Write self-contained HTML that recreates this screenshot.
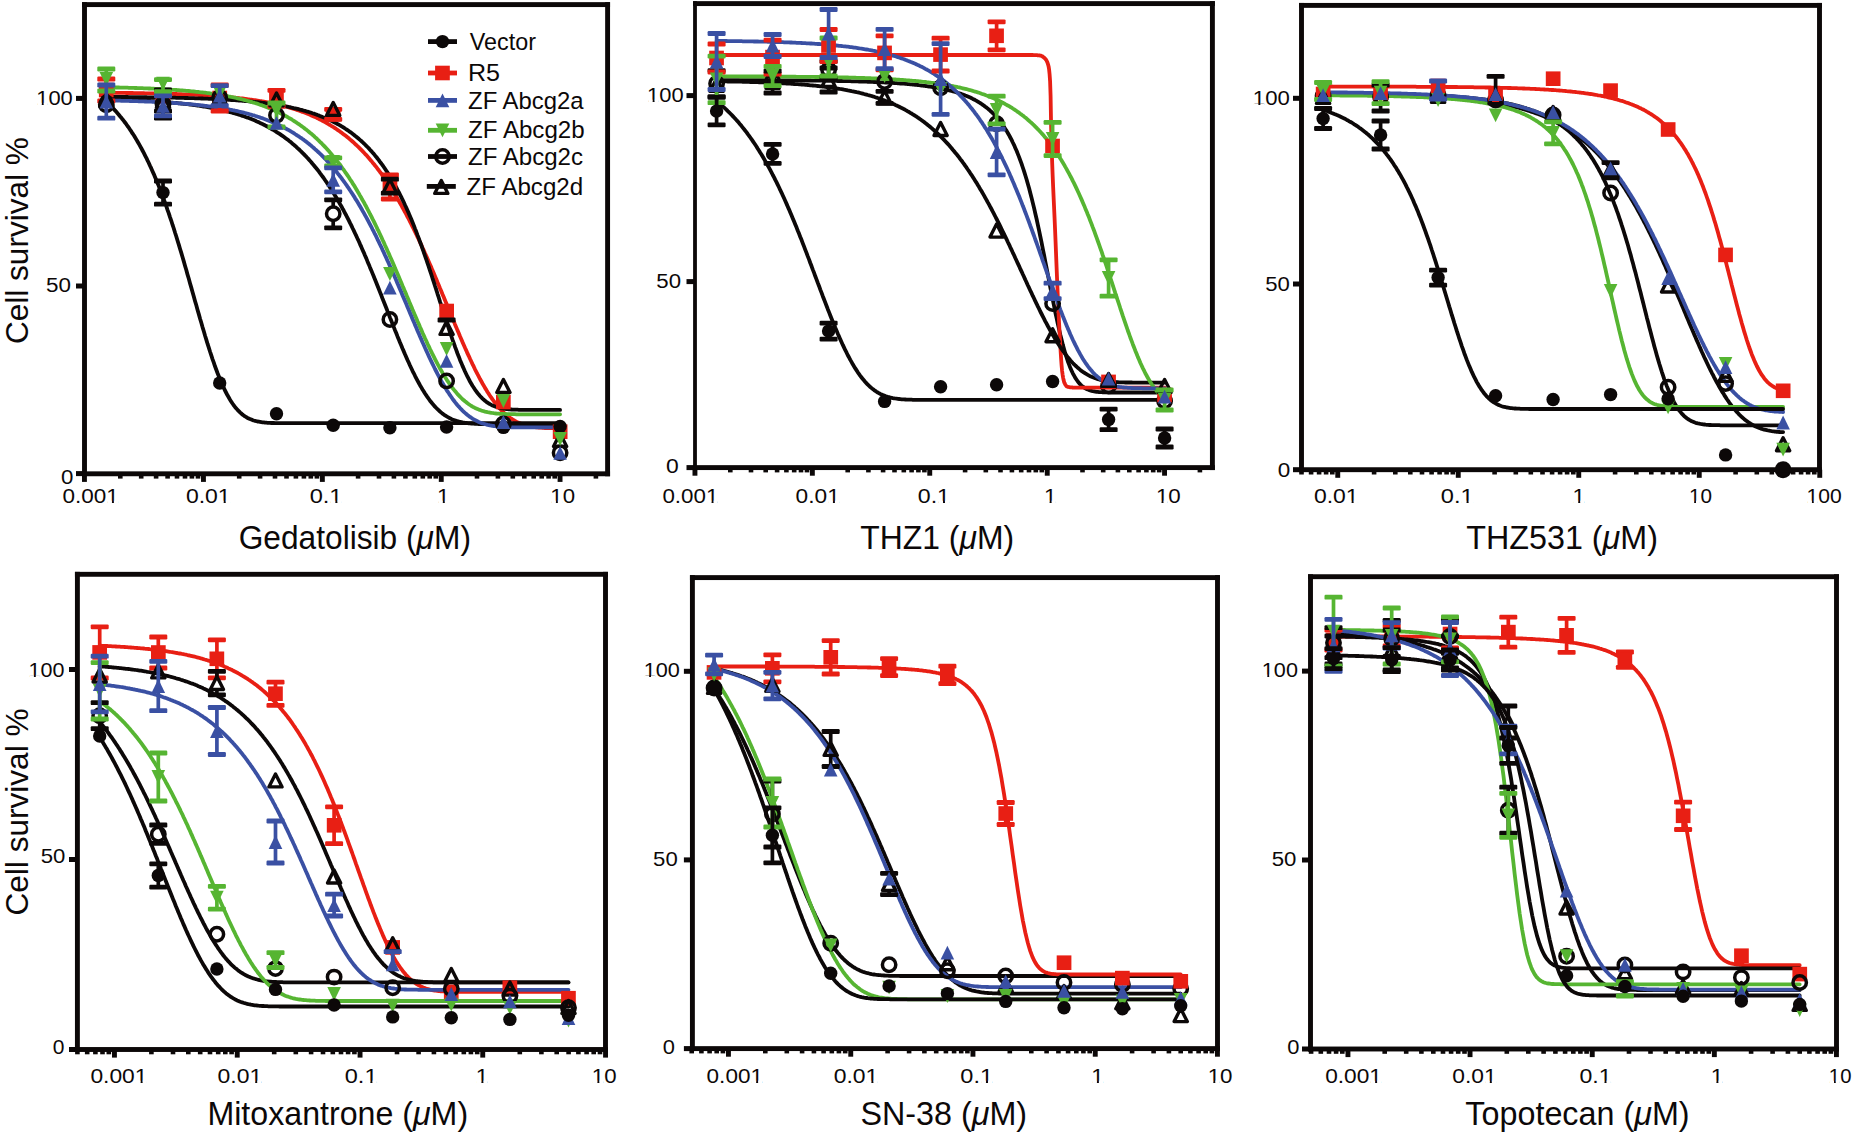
<!DOCTYPE html>
<html lang="en"><head><meta charset="utf-8"><title>Cell survival dose-response curves</title>
<style>html,body{margin:0;padding:0;background:#fff}body{width:1853px;height:1134px;overflow:hidden}svg{display:block}text{font-family:"Liberation Sans", Arial, Helvetica, sans-serif;fill:#0c0808}</style></head><body>
<svg width="1853" height="1134" viewBox="0 0 1853 1134">
<rect width="1853" height="1134" fill="#fff"/>
<g><rect x="82.0" y="473.8" width="4.9" height="8.1" fill="#0c0808"/>
<rect x="118.0" y="473.8" width="4.6" height="4.8" fill="#0c0808"/>
<rect x="138.9" y="473.8" width="4.6" height="4.8" fill="#0c0808"/>
<rect x="153.8" y="473.8" width="4.6" height="4.8" fill="#0c0808"/>
<rect x="165.3" y="473.8" width="4.6" height="4.8" fill="#0c0808"/>
<rect x="174.7" y="473.8" width="4.6" height="4.8" fill="#0c0808"/>
<rect x="182.7" y="473.8" width="4.6" height="4.8" fill="#0c0808"/>
<rect x="189.6" y="473.8" width="4.6" height="4.8" fill="#0c0808"/>
<rect x="195.7" y="473.8" width="4.6" height="4.8" fill="#0c0808"/>
<rect x="201.0" y="473.8" width="4.9" height="8.1" fill="#0c0808"/>
<rect x="236.9" y="473.8" width="4.6" height="4.8" fill="#0c0808"/>
<rect x="257.8" y="473.8" width="4.6" height="4.8" fill="#0c0808"/>
<rect x="272.7" y="473.8" width="4.6" height="4.8" fill="#0c0808"/>
<rect x="284.2" y="473.8" width="4.6" height="4.8" fill="#0c0808"/>
<rect x="293.6" y="473.8" width="4.6" height="4.8" fill="#0c0808"/>
<rect x="301.6" y="473.8" width="4.6" height="4.8" fill="#0c0808"/>
<rect x="308.5" y="473.8" width="4.6" height="4.8" fill="#0c0808"/>
<rect x="314.6" y="473.8" width="4.6" height="4.8" fill="#0c0808"/>
<rect x="319.9" y="473.8" width="4.9" height="8.1" fill="#0c0808"/>
<rect x="355.8" y="473.8" width="4.6" height="4.8" fill="#0c0808"/>
<rect x="376.7" y="473.8" width="4.6" height="4.8" fill="#0c0808"/>
<rect x="391.6" y="473.8" width="4.6" height="4.8" fill="#0c0808"/>
<rect x="403.1" y="473.8" width="4.6" height="4.8" fill="#0c0808"/>
<rect x="412.5" y="473.8" width="4.6" height="4.8" fill="#0c0808"/>
<rect x="420.5" y="473.8" width="4.6" height="4.8" fill="#0c0808"/>
<rect x="427.4" y="473.8" width="4.6" height="4.8" fill="#0c0808"/>
<rect x="433.5" y="473.8" width="4.6" height="4.8" fill="#0c0808"/>
<rect x="438.8" y="473.8" width="4.9" height="8.1" fill="#0c0808"/>
<rect x="474.7" y="473.8" width="4.6" height="4.8" fill="#0c0808"/>
<rect x="495.6" y="473.8" width="4.6" height="4.8" fill="#0c0808"/>
<rect x="510.5" y="473.8" width="4.6" height="4.8" fill="#0c0808"/>
<rect x="522.0" y="473.8" width="4.6" height="4.8" fill="#0c0808"/>
<rect x="531.4" y="473.8" width="4.6" height="4.8" fill="#0c0808"/>
<rect x="539.4" y="473.8" width="4.6" height="4.8" fill="#0c0808"/>
<rect x="546.3" y="473.8" width="4.6" height="4.8" fill="#0c0808"/>
<rect x="552.4" y="473.8" width="4.6" height="4.8" fill="#0c0808"/>
<rect x="557.6" y="473.8" width="4.9" height="8.1" fill="#0c0808"/>
<rect x="593.6" y="473.8" width="4.6" height="4.8" fill="#0c0808"/>
<rect x="76.0" y="471.1" width="8.4" height="5" fill="#0c0808"/>
<rect x="76.0" y="283.5" width="8.4" height="5" fill="#0c0808"/>
<rect x="76.0" y="95.9" width="8.4" height="5" fill="#0c0808"/>
<path d="M106.3 92.8 L107.5 92.8 L108.8 92.8 L110.0 92.8 L111.3 92.8 L112.5 92.8 L113.8 92.8 L115.0 92.8 L116.3 92.8 L117.5 92.9 L118.8 92.9 L120.0 92.9 L121.3 92.9 L122.5 92.9 L123.8 92.9 L125.0 92.9 L126.3 93.0 L127.5 93.0 L128.8 93.0 L130.0 93.0 L131.3 93.0 L132.5 93.0 L133.8 93.1 L135.0 93.1 L136.3 93.1 L137.5 93.1 L138.8 93.1 L140.0 93.2 L141.3 93.2 L142.5 93.2 L143.8 93.2 L145.0 93.3 L146.3 93.3 L147.5 93.3 L148.8 93.3 L150.0 93.3 L151.3 93.4 L152.5 93.4 L153.8 93.4 L155.0 93.5 L156.3 93.5 L157.5 93.5 L158.8 93.5 L160.0 93.6 L161.3 93.6 L162.5 93.6 L163.8 93.7 L165.0 93.7 L166.3 93.7 L167.5 93.8 L168.8 93.8 L170.0 93.8 L171.3 93.9 L172.5 93.9 L173.8 94.0 L175.0 94.0 L176.3 94.0 L177.5 94.1 L178.8 94.1 L180.0 94.2 L181.3 94.2 L182.5 94.3 L183.8 94.3 L185.0 94.4 L186.3 94.4 L187.5 94.5 L188.8 94.5 L190.0 94.6 L191.3 94.6 L192.5 94.7 L193.8 94.7 L195.0 94.8 L196.3 94.9 L197.5 94.9 L198.8 95.0 L200.0 95.1 L201.3 95.1 L202.5 95.2 L203.8 95.3 L205.0 95.3 L206.3 95.4 L207.5 95.5 L208.8 95.6 L210.0 95.6 L211.3 95.7 L212.5 95.8 L213.8 95.9 L215.0 96.0 L216.3 96.1 L217.5 96.2 L218.8 96.3 L220.0 96.4 L221.3 96.5 L222.5 96.6 L223.8 96.7 L225.0 96.8 L226.3 96.9 L227.5 97.0 L228.8 97.1 L230.0 97.2 L231.3 97.3 L232.5 97.5 L233.8 97.6 L235.0 97.7 L236.3 97.8 L237.5 98.0 L238.8 98.1 L240.0 98.3 L241.3 98.4 L242.5 98.5 L243.8 98.7 L245.0 98.9 L246.3 99.0 L247.5 99.2 L248.8 99.3 L250.0 99.5 L251.3 99.7 L252.5 99.9 L253.8 100.1 L255.0 100.2 L256.3 100.4 L257.5 100.6 L258.8 100.8 L260.0 101.0 L261.3 101.2 L262.5 101.5 L263.8 101.7 L265.0 101.9 L266.3 102.1 L267.5 102.4 L268.8 102.6 L270.0 102.9 L271.3 103.1 L272.5 103.4 L273.8 103.7 L275.0 103.9 L276.3 104.2 L277.5 104.5 L278.8 104.8 L280.0 105.1 L281.3 105.4 L282.5 105.7 L283.8 106.0 L285.0 106.4 L286.3 106.7 L287.5 107.0 L288.8 107.4 L290.0 107.8 L291.3 108.1 L292.5 108.5 L293.8 108.9 L295.0 109.3 L296.3 109.7 L297.5 110.1 L298.8 110.5 L300.0 111.0 L301.3 111.4 L302.5 111.9 L303.8 112.3 L305.0 112.8 L306.3 113.3 L307.5 113.8 L308.8 114.3 L310.0 114.8 L311.3 115.4 L312.5 115.9 L313.8 116.5 L315.0 117.1 L316.3 117.6 L317.5 118.2 L318.8 118.8 L320.0 119.5 L321.3 120.1 L322.5 120.8 L323.8 121.4 L325.0 122.1 L326.3 122.8 L327.5 123.5 L328.8 124.3 L330.0 125.0 L331.3 125.8 L332.5 126.5 L333.8 127.3 L335.0 128.1 L336.3 129.0 L337.5 129.8 L338.8 130.7 L340.0 131.6 L341.3 132.5 L342.5 133.4 L343.8 134.4 L345.0 135.3 L346.3 136.3 L347.5 137.3 L348.8 138.3 L350.0 139.4 L351.3 140.5 L352.5 141.5 L353.8 142.7 L355.0 143.8 L356.3 145.0 L357.5 146.2 L358.8 147.4 L360.0 148.6 L361.3 149.9 L362.5 151.1 L363.8 152.5 L365.0 153.8 L366.3 155.1 L367.5 156.5 L368.8 158.0 L370.0 159.4 L371.3 160.9 L372.5 162.4 L373.8 163.9 L375.0 165.5 L376.3 167.0 L377.5 168.7 L378.8 170.3 L380.0 172.0 L381.3 173.7 L382.5 175.4 L383.8 177.2 L385.0 179.0 L386.3 180.8 L387.5 182.7 L388.8 184.6 L390.0 186.5 L391.3 188.4 L392.5 190.4 L393.8 192.4 L395.0 194.5 L396.3 196.6 L397.5 198.7 L398.8 200.8 L400.0 203.0 L401.3 205.2 L402.5 207.5 L403.8 209.8 L405.0 212.1 L406.3 214.4 L407.5 216.8 L408.8 219.2 L410.0 221.6 L411.3 224.1 L412.5 226.6 L413.8 229.1 L415.0 231.7 L416.3 234.3 L417.5 236.9 L418.8 239.5 L420.0 242.2 L421.3 244.9 L422.5 247.7 L423.8 250.4 L425.0 253.2 L426.3 256.0 L427.5 258.8 L428.8 261.7 L430.0 264.5 L431.3 267.4 L432.5 270.4 L433.8 273.3 L435.0 276.2 L436.3 279.2 L437.5 282.2 L438.8 285.2 L440.0 288.2 L441.3 291.2 L442.5 294.2 L443.8 297.2 L445.0 300.2 L446.3 303.3 L447.5 306.3 L448.8 309.3 L450.0 312.4 L451.3 315.4 L452.5 318.4 L453.8 321.4 L455.0 324.4 L456.3 327.4 L457.5 330.4 L458.8 333.3 L460.0 336.3 L461.3 339.2 L462.5 342.1 L463.8 345.0 L465.0 347.8 L466.3 350.6 L467.5 353.4 L468.8 356.1 L470.0 358.8 L471.3 361.5 L472.5 364.1 L473.8 366.7 L475.0 369.3 L476.3 371.8 L477.5 374.2 L478.8 376.6 L480.0 379.0 L481.3 381.3 L482.5 383.5 L483.8 385.7 L485.0 387.9 L486.3 389.9 L487.5 392.0 L488.8 393.9 L490.0 395.8 L491.3 397.6 L492.5 399.4 L493.8 401.1 L495.0 402.8 L496.3 404.4 L497.5 405.9 L498.8 407.3 L500.0 408.7 L501.3 410.1 L502.5 411.3 L503.8 412.6 L505.0 413.7 L506.3 414.8 L507.5 415.8 L508.8 416.8 L510.0 417.7 L511.3 418.6 L512.5 419.4 L513.8 420.2 L515.0 420.9 L516.3 421.6 L517.5 422.2 L518.8 422.8 L520.0 423.3 L521.3 423.8 L522.5 424.3 L523.8 424.7 L525.0 425.1 L526.3 425.4 L527.5 425.8 L528.8 426.0 L530.0 426.3 L531.3 426.5 L532.5 426.8 L533.8 427.0 L535.0 427.1 L536.3 427.3 L537.5 427.4 L538.8 427.5 L540.0 427.7 L541.3 427.7 L542.5 427.8 L543.8 427.9 L545.0 428.0 L546.3 428.0 L547.5 428.1 L548.8 428.1 L550.0 428.1 L551.3 428.2 L552.5 428.2 L553.8 428.2 L555.0 428.2 L556.3 428.3 L557.5 428.3 L558.8 428.3 L560.1 428.3" fill="none" stroke="#e81f14" stroke-width="3.8" stroke-linecap="round" stroke-linejoin="round"/>
<path d="M106.3 101.6 L107.5 102.8 L108.8 104.0 L110.0 105.2 L111.3 106.4 L112.5 107.7 L113.8 109.0 L115.0 110.4 L116.3 111.8 L117.5 113.2 L118.8 114.7 L120.0 116.2 L121.3 117.7 L122.5 119.3 L123.8 120.9 L125.0 122.5 L126.3 124.2 L127.5 126.0 L128.8 127.7 L130.0 129.6 L131.3 131.4 L132.5 133.4 L133.8 135.3 L135.0 137.3 L136.3 139.4 L137.5 141.5 L138.8 143.7 L140.0 145.9 L141.3 148.2 L142.5 150.5 L143.8 152.9 L145.0 155.3 L146.3 157.8 L147.5 160.4 L148.8 163.0 L150.0 165.7 L151.3 168.4 L152.5 171.2 L153.8 174.1 L155.0 177.0 L156.3 180.0 L157.5 183.0 L158.8 186.1 L160.0 189.3 L161.3 192.6 L162.5 195.9 L163.8 199.3 L165.0 202.7 L166.3 206.2 L167.5 209.8 L168.8 213.4 L170.0 217.1 L171.3 220.8 L172.5 224.7 L173.8 228.5 L175.0 232.5 L176.3 236.5 L177.5 240.5 L178.8 244.6 L180.0 248.7 L181.3 252.9 L182.5 257.1 L183.8 261.4 L185.0 265.7 L186.3 270.0 L187.5 274.4 L188.8 278.8 L190.0 283.2 L191.3 287.6 L192.5 292.0 L193.8 296.5 L195.0 300.9 L196.3 305.3 L197.5 309.7 L198.8 314.1 L200.0 318.5 L201.3 322.8 L202.5 327.1 L203.8 331.3 L205.0 335.5 L206.3 339.6 L207.5 343.7 L208.8 347.6 L210.0 351.5 L211.3 355.4 L212.5 359.1 L213.8 362.7 L215.0 366.3 L216.3 369.7 L217.5 373.0 L218.8 376.2 L220.0 379.3 L221.3 382.3 L222.5 385.1 L223.8 387.9 L225.0 390.5 L226.3 393.0 L227.5 395.3 L228.8 397.5 L230.0 399.7 L231.3 401.7 L232.5 403.5 L233.8 405.3 L235.0 406.9 L236.3 408.4 L237.5 409.9 L238.8 411.2 L240.0 412.4 L241.3 413.5 L242.5 414.6 L243.8 415.5 L245.0 416.4 L246.3 417.1 L247.5 417.9 L248.8 418.5 L250.0 419.1 L251.3 419.6 L252.5 420.1 L253.8 420.5 L255.0 420.8 L256.3 421.2 L257.5 421.5 L258.8 421.7 L260.0 421.9 L261.3 422.1 L262.5 422.3 L263.8 422.4 L265.0 422.6 L266.3 422.7 L267.5 422.8 L268.8 422.8 L270.0 422.9 L271.3 423.0 L272.5 423.0 L273.8 423.0 L275.0 423.1 L276.3 423.1 L277.5 423.1 L278.8 423.1 L280.0 423.1 L281.3 423.2 L282.5 423.2 L283.8 423.2 L285.0 423.2 L286.3 423.2 L287.5 423.2 L288.8 423.2 L290.0 423.2 L291.3 423.2 L292.5 423.2 L293.8 423.2 L295.0 423.2 L296.3 423.2 L297.5 423.2 L298.8 423.2 L300.0 423.2 L301.3 423.2 L302.5 423.2 L303.8 423.2 L305.0 423.2 L306.3 423.2 L307.5 423.2 L308.8 423.2 L310.0 423.2 L311.3 423.2 L312.5 423.2 L313.8 423.2 L315.0 423.2 L316.3 423.2 L317.5 423.2 L318.8 423.2 L320.0 423.2 L321.3 423.2 L322.5 423.2 L323.8 423.2 L325.0 423.2 L326.3 423.2 L327.5 423.2 L328.8 423.2 L330.0 423.2 L331.3 423.2 L332.5 423.2 L333.8 423.2 L335.0 423.2 L336.3 423.2 L337.5 423.2 L338.8 423.2 L340.0 423.2 L341.3 423.2 L342.5 423.2 L343.8 423.2 L345.0 423.2 L346.3 423.2 L347.5 423.2 L348.8 423.2 L350.0 423.2 L351.3 423.2 L352.5 423.2 L353.8 423.2 L355.0 423.2 L356.3 423.2 L357.5 423.2 L358.8 423.2 L360.0 423.2 L361.3 423.2 L362.5 423.2 L363.8 423.2 L365.0 423.2 L366.3 423.2 L367.5 423.2 L368.8 423.2 L370.0 423.2 L371.3 423.2 L372.5 423.2 L373.8 423.2 L375.0 423.2 L376.3 423.2 L377.5 423.2 L378.8 423.2 L380.0 423.2 L381.3 423.2 L382.5 423.2 L383.8 423.2 L385.0 423.2 L386.3 423.2 L387.5 423.2 L388.8 423.2 L390.0 423.2 L391.3 423.2 L392.5 423.2 L393.8 423.2 L395.0 423.2 L396.3 423.2 L397.5 423.2 L398.8 423.2 L400.0 423.2 L401.3 423.2 L402.5 423.2 L403.8 423.2 L405.0 423.2 L406.3 423.2 L407.5 423.2 L408.8 423.2 L410.0 423.2 L411.3 423.2 L412.5 423.2 L413.8 423.2 L415.0 423.2 L416.3 423.2 L417.5 423.2 L418.8 423.2 L420.0 423.2 L421.3 423.2 L422.5 423.2 L423.8 423.2 L425.0 423.2 L426.3 423.2 L427.5 423.2 L428.8 423.2 L430.0 423.2 L431.3 423.2 L432.5 423.2 L433.8 423.2 L435.0 423.2 L436.3 423.2 L437.5 423.2 L438.8 423.2 L440.0 423.2 L441.3 423.2 L442.5 423.2 L443.8 423.2 L445.0 423.2 L446.3 423.2 L447.5 423.2 L448.8 423.2 L450.0 423.2 L451.3 423.2 L452.5 423.2 L453.8 423.2 L455.0 423.2 L456.3 423.2 L457.5 423.2 L458.8 423.2 L460.0 423.2 L461.3 423.2 L462.5 423.2 L463.8 423.2 L465.0 423.2 L466.3 423.2 L467.5 423.2 L468.8 423.2 L470.0 423.2 L471.3 423.2 L472.5 423.2 L473.8 423.2 L475.0 423.2 L476.3 423.2 L477.5 423.2 L478.8 423.2 L480.0 423.2 L481.3 423.2 L482.5 423.2 L483.8 423.2 L485.0 423.2 L486.3 423.2 L487.5 423.2 L488.8 423.2 L490.0 423.2 L491.3 423.2 L492.5 423.2 L493.8 423.2 L495.0 423.2 L496.3 423.2 L497.5 423.2 L498.8 423.2 L500.0 423.2 L501.3 423.2 L502.5 423.2 L503.8 423.2 L505.0 423.2 L506.3 423.2 L507.5 423.2 L508.8 423.2 L510.0 423.2 L511.3 423.2 L512.5 423.2 L513.8 423.2 L515.0 423.2 L516.3 423.2 L517.5 423.2 L518.8 423.2 L520.0 423.2 L521.3 423.2 L522.5 423.2 L523.8 423.2 L525.0 423.2 L526.3 423.2 L527.5 423.2 L528.8 423.2 L530.0 423.2 L531.3 423.2 L532.5 423.2 L533.8 423.2 L535.0 423.2 L536.3 423.2 L537.5 423.2 L538.8 423.2 L540.0 423.2 L541.3 423.2 L542.5 423.2 L543.8 423.2 L545.0 423.2 L546.3 423.2 L547.5 423.2 L548.8 423.2 L550.0 423.2 L551.3 423.2 L552.5 423.2 L553.8 423.2 L555.0 423.2 L556.3 423.2 L557.5 423.2 L558.8 423.2 L560.1 423.2" fill="none" stroke="#0c0808" stroke-width="3.8" stroke-linecap="round" stroke-linejoin="round"/>
<path d="M106.3 99.3 L107.5 99.3 L108.8 99.4 L110.0 99.4 L111.3 99.4 L112.5 99.5 L113.8 99.5 L115.0 99.5 L116.3 99.6 L117.5 99.6 L118.8 99.7 L120.0 99.7 L121.3 99.7 L122.5 99.8 L123.8 99.8 L125.0 99.9 L126.3 99.9 L127.5 100.0 L128.8 100.0 L130.0 100.1 L131.3 100.1 L132.5 100.2 L133.8 100.2 L135.0 100.3 L136.3 100.3 L137.5 100.4 L138.8 100.4 L140.0 100.5 L141.3 100.6 L142.5 100.6 L143.8 100.7 L145.0 100.7 L146.3 100.8 L147.5 100.9 L148.8 100.9 L150.0 101.0 L151.3 101.1 L152.5 101.2 L153.8 101.2 L155.0 101.3 L156.3 101.4 L157.5 101.5 L158.8 101.6 L160.0 101.7 L161.3 101.8 L162.5 101.8 L163.8 101.9 L165.0 102.0 L166.3 102.1 L167.5 102.2 L168.8 102.3 L170.0 102.4 L171.3 102.6 L172.5 102.7 L173.8 102.8 L175.0 102.9 L176.3 103.0 L177.5 103.1 L178.8 103.3 L180.0 103.4 L181.3 103.5 L182.5 103.7 L183.8 103.8 L185.0 103.9 L186.3 104.1 L187.5 104.2 L188.8 104.4 L190.0 104.5 L191.3 104.7 L192.5 104.9 L193.8 105.0 L195.0 105.2 L196.3 105.4 L197.5 105.5 L198.8 105.7 L200.0 105.9 L201.3 106.1 L202.5 106.3 L203.8 106.5 L205.0 106.7 L206.3 106.9 L207.5 107.1 L208.8 107.4 L210.0 107.6 L211.3 107.8 L212.5 108.1 L213.8 108.3 L215.0 108.6 L216.3 108.8 L217.5 109.1 L218.8 109.3 L220.0 109.6 L221.3 109.9 L222.5 110.2 L223.8 110.5 L225.0 110.8 L226.3 111.1 L227.5 111.4 L228.8 111.7 L230.0 112.1 L231.3 112.4 L232.5 112.8 L233.8 113.1 L235.0 113.5 L236.3 113.9 L237.5 114.2 L238.8 114.6 L240.0 115.0 L241.3 115.4 L242.5 115.9 L243.8 116.3 L245.0 116.7 L246.3 117.2 L247.5 117.6 L248.8 118.1 L250.0 118.6 L251.3 119.1 L252.5 119.6 L253.8 120.1 L255.0 120.6 L256.3 121.2 L257.5 121.7 L258.8 122.3 L260.0 122.9 L261.3 123.5 L262.5 124.1 L263.8 124.7 L265.0 125.3 L266.3 126.0 L267.5 126.7 L268.8 127.3 L270.0 128.0 L271.3 128.8 L272.5 129.5 L273.8 130.2 L275.0 131.0 L276.3 131.8 L277.5 132.6 L278.8 133.4 L280.0 134.2 L281.3 135.1 L282.5 135.9 L283.8 136.8 L285.0 137.7 L286.3 138.7 L287.5 139.6 L288.8 140.6 L290.0 141.6 L291.3 142.6 L292.5 143.7 L293.8 144.7 L295.0 145.8 L296.3 146.9 L297.5 148.1 L298.8 149.2 L300.0 150.4 L301.3 151.6 L302.5 152.8 L303.8 154.1 L305.0 155.4 L306.3 156.7 L307.5 158.0 L308.8 159.4 L310.0 160.8 L311.3 162.2 L312.5 163.7 L313.8 165.2 L315.0 166.7 L316.3 168.3 L317.5 169.8 L318.8 171.4 L320.0 173.1 L321.3 174.8 L322.5 176.5 L323.8 178.2 L325.0 180.0 L326.3 181.8 L327.5 183.6 L328.8 185.5 L330.0 187.4 L331.3 189.4 L332.5 191.3 L333.8 193.4 L335.0 195.4 L336.3 197.5 L337.5 199.6 L338.8 201.8 L340.0 204.0 L341.3 206.2 L342.5 208.5 L343.8 210.8 L345.0 213.1 L346.3 215.5 L347.5 217.9 L348.8 220.4 L350.0 222.9 L351.3 225.4 L352.5 228.0 L353.8 230.6 L355.0 233.2 L356.3 235.9 L357.5 238.6 L358.8 241.3 L360.0 244.1 L361.3 246.9 L362.5 249.7 L363.8 252.6 L365.0 255.5 L366.3 258.4 L367.5 261.4 L368.8 264.4 L370.0 267.4 L371.3 270.4 L372.5 273.4 L373.8 276.5 L375.0 279.6 L376.3 282.7 L377.5 285.8 L378.8 289.0 L380.0 292.1 L381.3 295.3 L382.5 298.5 L383.8 301.7 L385.0 304.8 L386.3 308.0 L387.5 311.2 L388.8 314.4 L390.0 317.6 L391.3 320.8 L392.5 323.9 L393.8 327.1 L395.0 330.2 L396.3 333.3 L397.5 336.4 L398.8 339.5 L400.0 342.5 L401.3 345.5 L402.5 348.5 L403.8 351.4 L405.0 354.3 L406.3 357.2 L407.5 360.0 L408.8 362.8 L410.0 365.5 L411.3 368.2 L412.5 370.8 L413.8 373.3 L415.0 375.8 L416.3 378.3 L417.5 380.6 L418.8 383.0 L420.0 385.2 L421.3 387.4 L422.5 389.5 L423.8 391.5 L425.0 393.5 L426.3 395.4 L427.5 397.2 L428.8 399.0 L430.0 400.7 L431.3 402.3 L432.5 403.8 L433.8 405.3 L435.0 406.7 L436.3 408.0 L437.5 409.2 L438.8 410.4 L440.0 411.5 L441.3 412.6 L442.5 413.6 L443.8 414.5 L445.0 415.4 L446.3 416.2 L447.5 416.9 L448.8 417.6 L450.0 418.3 L451.3 418.9 L452.5 419.4 L453.8 419.9 L455.0 420.4 L456.3 420.8 L457.5 421.2 L458.8 421.5 L460.0 421.8 L461.3 422.1 L462.5 422.4 L463.8 422.6 L465.0 422.8 L466.3 423.0 L467.5 423.2 L468.8 423.3 L470.0 423.4 L471.3 423.5 L472.5 423.6 L473.8 423.7 L475.0 423.8 L476.3 423.9 L477.5 423.9 L478.8 424.0 L480.0 424.0 L481.3 424.0 L482.5 424.1 L483.8 424.1 L485.0 424.1 L486.3 424.1 L487.5 424.1 L488.8 424.2 L490.0 424.2 L491.3 424.2 L492.5 424.2 L493.8 424.2 L495.0 424.2 L496.3 424.2 L497.5 424.2 L498.8 424.2 L500.0 424.2 L501.3 424.2 L502.5 424.2 L503.8 424.2 L505.0 424.2 L506.3 424.2 L507.5 424.2 L508.8 424.2 L510.0 424.2 L511.3 424.2 L512.5 424.2 L513.8 424.2 L515.0 424.2 L516.3 424.2 L517.5 424.2 L518.8 424.2 L520.0 424.2 L521.3 424.2 L522.5 424.2 L523.8 424.2 L525.0 424.2 L526.3 424.2 L527.5 424.2 L528.8 424.2 L530.0 424.2 L531.3 424.2 L532.5 424.2 L533.8 424.2 L535.0 424.2 L536.3 424.2 L537.5 424.2 L538.8 424.2 L540.0 424.2 L541.3 424.2 L542.5 424.2 L543.8 424.2 L545.0 424.2 L546.3 424.2 L547.5 424.2 L548.8 424.2 L550.0 424.2 L551.3 424.2 L552.5 424.2 L553.8 424.2 L555.0 424.2 L556.3 424.2 L557.5 424.2 L558.8 424.2 L560.1 424.2" fill="none" stroke="#0c0808" stroke-width="3.8" stroke-linecap="round" stroke-linejoin="round"/>
<path d="M106.3 96.9 L107.5 96.9 L108.8 96.9 L110.0 96.9 L111.3 96.9 L112.5 96.9 L113.8 96.9 L115.0 97.0 L116.3 97.0 L117.5 97.0 L118.8 97.0 L120.0 97.0 L121.3 97.0 L122.5 97.0 L123.8 97.0 L125.0 97.0 L126.3 97.0 L127.5 97.0 L128.8 97.1 L130.0 97.1 L131.3 97.1 L132.5 97.1 L133.8 97.1 L135.0 97.1 L136.3 97.1 L137.5 97.1 L138.8 97.2 L140.0 97.2 L141.3 97.2 L142.5 97.2 L143.8 97.2 L145.0 97.2 L146.3 97.2 L147.5 97.3 L148.8 97.3 L150.0 97.3 L151.3 97.3 L152.5 97.3 L153.8 97.3 L155.0 97.4 L156.3 97.4 L157.5 97.4 L158.8 97.4 L160.0 97.4 L161.3 97.5 L162.5 97.5 L163.8 97.5 L165.0 97.5 L166.3 97.6 L167.5 97.6 L168.8 97.6 L170.0 97.6 L171.3 97.6 L172.5 97.7 L173.8 97.7 L175.0 97.7 L176.3 97.8 L177.5 97.8 L178.8 97.8 L180.0 97.8 L181.3 97.9 L182.5 97.9 L183.8 97.9 L185.0 98.0 L186.3 98.0 L187.5 98.0 L188.8 98.1 L190.0 98.1 L191.3 98.1 L192.5 98.2 L193.8 98.2 L195.0 98.3 L196.3 98.3 L197.5 98.3 L198.8 98.4 L200.0 98.4 L201.3 98.5 L202.5 98.5 L203.8 98.6 L205.0 98.6 L206.3 98.7 L207.5 98.7 L208.8 98.8 L210.0 98.8 L211.3 98.9 L212.5 98.9 L213.8 99.0 L215.0 99.1 L216.3 99.1 L217.5 99.2 L218.8 99.2 L220.0 99.3 L221.3 99.4 L222.5 99.4 L223.8 99.5 L225.0 99.6 L226.3 99.7 L227.5 99.7 L228.8 99.8 L230.0 99.9 L231.3 100.0 L232.5 100.0 L233.8 100.1 L235.0 100.2 L236.3 100.3 L237.5 100.4 L238.8 100.5 L240.0 100.6 L241.3 100.7 L242.5 100.8 L243.8 100.9 L245.0 101.0 L246.3 101.1 L247.5 101.2 L248.8 101.3 L250.0 101.5 L251.3 101.6 L252.5 101.7 L253.8 101.8 L255.0 101.9 L256.3 102.1 L257.5 102.2 L258.8 102.4 L260.0 102.5 L261.3 102.6 L262.5 102.8 L263.8 102.9 L265.0 103.1 L266.3 103.3 L267.5 103.4 L268.8 103.6 L270.0 103.8 L271.3 104.0 L272.5 104.1 L273.8 104.3 L275.0 104.5 L276.3 104.7 L277.5 104.9 L278.8 105.1 L280.0 105.3 L281.3 105.6 L282.5 105.8 L283.8 106.0 L285.0 106.2 L286.3 106.5 L287.5 106.7 L288.8 107.0 L290.0 107.2 L291.3 107.5 L292.5 107.8 L293.8 108.1 L295.0 108.3 L296.3 108.6 L297.5 108.9 L298.8 109.2 L300.0 109.6 L301.3 109.9 L302.5 110.2 L303.8 110.6 L305.0 110.9 L306.3 111.3 L307.5 111.6 L308.8 112.0 L310.0 112.4 L311.3 112.8 L312.5 113.2 L313.8 113.6 L315.0 114.1 L316.3 114.5 L317.5 115.0 L318.8 115.4 L320.0 115.9 L321.3 116.4 L322.5 116.9 L323.8 117.4 L325.0 117.9 L326.3 118.5 L327.5 119.0 L328.8 119.6 L330.0 120.2 L331.3 120.8 L332.5 121.4 L333.8 122.0 L335.0 122.7 L336.3 123.3 L337.5 124.0 L338.8 124.7 L340.0 125.4 L341.3 126.2 L342.5 126.9 L343.8 127.7 L345.0 128.5 L346.3 129.3 L347.5 130.1 L348.8 131.0 L350.0 131.9 L351.3 132.8 L352.5 133.7 L353.8 134.7 L355.0 135.7 L356.3 136.7 L357.5 137.7 L358.8 138.8 L360.0 139.9 L361.3 141.0 L362.5 142.1 L363.8 143.3 L365.0 144.5 L366.3 145.8 L367.5 147.0 L368.8 148.3 L370.0 149.7 L371.3 151.1 L372.5 152.5 L373.8 153.9 L375.0 155.4 L376.3 156.9 L377.5 158.5 L378.8 160.1 L380.0 161.8 L381.3 163.5 L382.5 165.2 L383.8 167.0 L385.0 168.8 L386.3 170.7 L387.5 172.6 L388.8 174.6 L390.0 176.6 L391.3 178.7 L392.5 180.8 L393.8 182.9 L395.0 185.2 L396.3 187.5 L397.5 189.8 L398.8 192.2 L400.0 194.6 L401.3 197.1 L402.5 199.7 L403.8 202.3 L405.0 205.0 L406.3 207.7 L407.5 210.5 L408.8 213.4 L410.0 216.3 L411.3 219.3 L412.5 222.3 L413.8 225.4 L415.0 228.6 L416.3 231.8 L417.5 235.1 L418.8 238.4 L420.0 241.8 L421.3 245.2 L422.5 248.7 L423.8 252.3 L425.0 255.9 L426.3 259.5 L427.5 263.2 L428.8 266.9 L430.0 270.7 L431.3 274.5 L432.5 278.3 L433.8 282.1 L435.0 286.0 L436.3 289.9 L437.5 293.8 L438.8 297.7 L440.0 301.6 L441.3 305.5 L442.5 309.4 L443.8 313.3 L445.0 317.2 L446.3 321.0 L447.5 324.9 L448.8 328.6 L450.0 332.4 L451.3 336.0 L452.5 339.7 L453.8 343.2 L455.0 346.7 L456.3 350.1 L457.5 353.5 L458.8 356.7 L460.0 359.9 L461.3 362.9 L462.5 365.9 L463.8 368.8 L465.0 371.5 L466.3 374.2 L467.5 376.7 L468.8 379.2 L470.0 381.5 L471.3 383.7 L472.5 385.8 L473.8 387.7 L475.0 389.6 L476.3 391.4 L477.5 393.0 L478.8 394.6 L480.0 396.0 L481.3 397.3 L482.5 398.6 L483.8 399.7 L485.0 400.8 L486.3 401.8 L487.5 402.6 L488.8 403.5 L490.0 404.2 L491.3 404.9 L492.5 405.5 L493.8 406.0 L495.0 406.5 L496.3 406.9 L497.5 407.3 L498.8 407.7 L500.0 408.0 L501.3 408.3 L502.5 408.5 L503.8 408.7 L505.0 408.9 L506.3 409.0 L507.5 409.2 L508.8 409.3 L510.0 409.4 L511.3 409.5 L512.5 409.6 L513.8 409.6 L515.0 409.7 L516.3 409.7 L517.5 409.7 L518.8 409.8 L520.0 409.8 L521.3 409.8 L522.5 409.8 L523.8 409.9 L525.0 409.9 L526.3 409.9 L527.5 409.9 L528.8 409.9 L530.0 409.9 L531.3 409.9 L532.5 409.9 L533.8 409.9 L535.0 409.9 L536.3 409.9 L537.5 409.9 L538.8 409.9 L540.0 409.9 L541.3 409.9 L542.5 409.9 L543.8 409.9 L545.0 409.9 L546.3 409.9 L547.5 409.9 L548.8 409.9 L550.0 409.9 L551.3 409.9 L552.5 409.9 L553.8 409.9 L555.0 409.9 L556.3 409.9 L557.5 409.9 L558.8 409.9 L560.1 409.9" fill="none" stroke="#0c0808" stroke-width="3.8" stroke-linecap="round" stroke-linejoin="round"/>
<path d="M106.3 87.3 L107.5 87.3 L108.8 87.3 L110.0 87.3 L111.3 87.4 L112.5 87.4 L113.8 87.4 L115.0 87.4 L116.3 87.5 L117.5 87.5 L118.8 87.5 L120.0 87.6 L121.3 87.6 L122.5 87.6 L123.8 87.6 L125.0 87.7 L126.3 87.7 L127.5 87.7 L128.8 87.8 L130.0 87.8 L131.3 87.9 L132.5 87.9 L133.8 87.9 L135.0 88.0 L136.3 88.0 L137.5 88.1 L138.8 88.1 L140.0 88.1 L141.3 88.2 L142.5 88.2 L143.8 88.3 L145.0 88.3 L146.3 88.4 L147.5 88.4 L148.8 88.5 L150.0 88.5 L151.3 88.6 L152.5 88.6 L153.8 88.7 L155.0 88.8 L156.3 88.8 L157.5 88.9 L158.8 88.9 L160.0 89.0 L161.3 89.1 L162.5 89.1 L163.8 89.2 L165.0 89.3 L166.3 89.4 L167.5 89.4 L168.8 89.5 L170.0 89.6 L171.3 89.7 L172.5 89.8 L173.8 89.8 L175.0 89.9 L176.3 90.0 L177.5 90.1 L178.8 90.2 L180.0 90.3 L181.3 90.4 L182.5 90.5 L183.8 90.6 L185.0 90.7 L186.3 90.8 L187.5 90.9 L188.8 91.0 L190.0 91.1 L191.3 91.3 L192.5 91.4 L193.8 91.5 L195.0 91.6 L196.3 91.8 L197.5 91.9 L198.8 92.0 L200.0 92.2 L201.3 92.3 L202.5 92.4 L203.8 92.6 L205.0 92.7 L206.3 92.9 L207.5 93.1 L208.8 93.2 L210.0 93.4 L211.3 93.6 L212.5 93.7 L213.8 93.9 L215.0 94.1 L216.3 94.3 L217.5 94.5 L218.8 94.7 L220.0 94.9 L221.3 95.1 L222.5 95.3 L223.8 95.5 L225.0 95.8 L226.3 96.0 L227.5 96.2 L228.8 96.5 L230.0 96.7 L231.3 97.0 L232.5 97.2 L233.8 97.5 L235.0 97.7 L236.3 98.0 L237.5 98.3 L238.8 98.6 L240.0 98.9 L241.3 99.2 L242.5 99.5 L243.8 99.8 L245.0 100.1 L246.3 100.5 L247.5 100.8 L248.8 101.2 L250.0 101.5 L251.3 101.9 L252.5 102.3 L253.8 102.6 L255.0 103.0 L256.3 103.4 L257.5 103.8 L258.8 104.3 L260.0 104.7 L261.3 105.1 L262.5 105.6 L263.8 106.0 L265.0 106.5 L266.3 107.0 L267.5 107.5 L268.8 108.0 L270.0 108.5 L271.3 109.0 L272.5 109.6 L273.8 110.1 L275.0 110.7 L276.3 111.2 L277.5 111.8 L278.8 112.4 L280.0 113.0 L281.3 113.7 L282.5 114.3 L283.8 115.0 L285.0 115.7 L286.3 116.3 L287.5 117.0 L288.8 117.8 L290.0 118.5 L291.3 119.2 L292.5 120.0 L293.8 120.8 L295.0 121.6 L296.3 122.4 L297.5 123.3 L298.8 124.1 L300.0 125.0 L301.3 125.9 L302.5 126.8 L303.8 127.7 L305.0 128.7 L306.3 129.6 L307.5 130.6 L308.8 131.7 L310.0 132.7 L311.3 133.7 L312.5 134.8 L313.8 135.9 L315.0 137.1 L316.3 138.2 L317.5 139.4 L318.8 140.6 L320.0 141.8 L321.3 143.0 L322.5 144.3 L323.8 145.6 L325.0 146.9 L326.3 148.3 L327.5 149.6 L328.8 151.0 L330.0 152.4 L331.3 153.9 L332.5 155.4 L333.8 156.9 L335.0 158.4 L336.3 160.0 L337.5 161.6 L338.8 163.2 L340.0 164.9 L341.3 166.6 L342.5 168.3 L343.8 170.0 L345.0 171.8 L346.3 173.6 L347.5 175.4 L348.8 177.3 L350.0 179.2 L351.3 181.1 L352.5 183.1 L353.8 185.1 L355.0 187.1 L356.3 189.2 L357.5 191.3 L358.8 193.4 L360.0 195.6 L361.3 197.8 L362.5 200.0 L363.8 202.2 L365.0 204.5 L366.3 206.8 L367.5 209.2 L368.8 211.6 L370.0 214.0 L371.3 216.4 L372.5 218.9 L373.8 221.4 L375.0 223.9 L376.3 226.5 L377.5 229.1 L378.8 231.7 L380.0 234.3 L381.3 237.0 L382.5 239.7 L383.8 242.4 L385.0 245.2 L386.3 248.0 L387.5 250.8 L388.8 253.6 L390.0 256.4 L391.3 259.3 L392.5 262.1 L393.8 265.0 L395.0 267.9 L396.3 270.9 L397.5 273.8 L398.8 276.8 L400.0 279.7 L401.3 282.7 L402.5 285.7 L403.8 288.6 L405.0 291.6 L406.3 294.6 L407.5 297.6 L408.8 300.6 L410.0 303.6 L411.3 306.5 L412.5 309.5 L413.8 312.5 L415.0 315.4 L416.3 318.3 L417.5 321.2 L418.8 324.1 L420.0 327.0 L421.3 329.9 L422.5 332.7 L423.8 335.5 L425.0 338.3 L426.3 341.0 L427.5 343.7 L428.8 346.4 L430.0 349.0 L431.3 351.6 L432.5 354.2 L433.8 356.7 L435.0 359.1 L436.3 361.6 L437.5 363.9 L438.8 366.2 L440.0 368.5 L441.3 370.7 L442.5 372.9 L443.8 375.0 L445.0 377.0 L446.3 379.0 L447.5 380.9 L448.8 382.8 L450.0 384.6 L451.3 386.3 L452.5 388.0 L453.8 389.6 L455.0 391.1 L456.3 392.6 L457.5 394.1 L458.8 395.4 L460.0 396.7 L461.3 398.0 L462.5 399.2 L463.8 400.3 L465.0 401.3 L466.3 402.3 L467.5 403.3 L468.8 404.2 L470.0 405.0 L471.3 405.8 L472.5 406.6 L473.8 407.3 L475.0 407.9 L476.3 408.5 L477.5 409.1 L478.8 409.6 L480.0 410.0 L481.3 410.5 L482.5 410.9 L483.8 411.2 L485.0 411.6 L486.3 411.9 L487.5 412.2 L488.8 412.4 L490.0 412.6 L491.3 412.8 L492.5 413.0 L493.8 413.2 L495.0 413.3 L496.3 413.5 L497.5 413.6 L498.8 413.7 L500.0 413.8 L501.3 413.9 L502.5 413.9 L503.8 414.0 L505.0 414.0 L506.3 414.1 L507.5 414.1 L508.8 414.1 L510.0 414.2 L511.3 414.2 L512.5 414.2 L513.8 414.2 L515.0 414.2 L516.3 414.3 L517.5 414.3 L518.8 414.3 L520.0 414.3 L521.3 414.3 L522.5 414.3 L523.8 414.3 L525.0 414.3 L526.3 414.3 L527.5 414.3 L528.8 414.3 L530.0 414.3 L531.3 414.3 L532.5 414.3 L533.8 414.3 L535.0 414.3 L536.3 414.3 L537.5 414.3 L538.8 414.3 L540.0 414.3 L541.3 414.3 L542.5 414.3 L543.8 414.3 L545.0 414.3 L546.3 414.3 L547.5 414.3 L548.8 414.3 L550.0 414.3 L551.3 414.3 L552.5 414.3 L553.8 414.3 L555.0 414.3 L556.3 414.3 L557.5 414.3 L558.8 414.3 L560.1 414.3" fill="none" stroke="#56b532" stroke-width="3.8" stroke-linecap="round" stroke-linejoin="round"/>
<path d="M106.3 100.4 L107.5 100.5 L108.8 100.5 L110.0 100.5 L111.3 100.5 L112.5 100.6 L113.8 100.6 L115.0 100.6 L116.3 100.6 L117.5 100.7 L118.8 100.7 L120.0 100.7 L121.3 100.8 L122.5 100.8 L123.8 100.8 L125.0 100.8 L126.3 100.9 L127.5 100.9 L128.8 100.9 L130.0 101.0 L131.3 101.0 L132.5 101.1 L133.8 101.1 L135.0 101.1 L136.3 101.2 L137.5 101.2 L138.8 101.3 L140.0 101.3 L141.3 101.3 L142.5 101.4 L143.8 101.4 L145.0 101.5 L146.3 101.5 L147.5 101.6 L148.8 101.6 L150.0 101.7 L151.3 101.7 L152.5 101.8 L153.8 101.8 L155.0 101.9 L156.3 102.0 L157.5 102.0 L158.8 102.1 L160.0 102.1 L161.3 102.2 L162.5 102.3 L163.8 102.3 L165.0 102.4 L166.3 102.5 L167.5 102.6 L168.8 102.6 L170.0 102.7 L171.3 102.8 L172.5 102.9 L173.8 102.9 L175.0 103.0 L176.3 103.1 L177.5 103.2 L178.8 103.3 L180.0 103.4 L181.3 103.5 L182.5 103.6 L183.8 103.7 L185.0 103.8 L186.3 103.9 L187.5 104.0 L188.8 104.1 L190.0 104.2 L191.3 104.3 L192.5 104.4 L193.8 104.6 L195.0 104.7 L196.3 104.8 L197.5 104.9 L198.8 105.1 L200.0 105.2 L201.3 105.4 L202.5 105.5 L203.8 105.6 L205.0 105.8 L206.3 105.9 L207.5 106.1 L208.8 106.3 L210.0 106.4 L211.3 106.6 L212.5 106.8 L213.8 106.9 L215.0 107.1 L216.3 107.3 L217.5 107.5 L218.8 107.7 L220.0 107.9 L221.3 108.1 L222.5 108.3 L223.8 108.5 L225.0 108.7 L226.3 109.0 L227.5 109.2 L228.8 109.4 L230.0 109.7 L231.3 109.9 L232.5 110.2 L233.8 110.4 L235.0 110.7 L236.3 110.9 L237.5 111.2 L238.8 111.5 L240.0 111.8 L241.3 112.1 L242.5 112.4 L243.8 112.7 L245.0 113.0 L246.3 113.3 L247.5 113.7 L248.8 114.0 L250.0 114.4 L251.3 114.7 L252.5 115.1 L253.8 115.4 L255.0 115.8 L256.3 116.2 L257.5 116.6 L258.8 117.0 L260.0 117.4 L261.3 117.9 L262.5 118.3 L263.8 118.8 L265.0 119.2 L266.3 119.7 L267.5 120.2 L268.8 120.7 L270.0 121.2 L271.3 121.7 L272.5 122.2 L273.8 122.7 L275.0 123.3 L276.3 123.8 L277.5 124.4 L278.8 125.0 L280.0 125.6 L281.3 126.2 L282.5 126.9 L283.8 127.5 L285.0 128.2 L286.3 128.8 L287.5 129.5 L288.8 130.2 L290.0 130.9 L291.3 131.7 L292.5 132.4 L293.8 133.2 L295.0 134.0 L296.3 134.8 L297.5 135.6 L298.8 136.4 L300.0 137.3 L301.3 138.1 L302.5 139.0 L303.8 139.9 L305.0 140.9 L306.3 141.8 L307.5 142.8 L308.8 143.8 L310.0 144.8 L311.3 145.8 L312.5 146.9 L313.8 148.0 L315.0 149.1 L316.3 150.2 L317.5 151.3 L318.8 152.5 L320.0 153.7 L321.3 154.9 L322.5 156.1 L323.8 157.4 L325.0 158.7 L326.3 160.0 L327.5 161.4 L328.8 162.7 L330.0 164.1 L331.3 165.5 L332.5 167.0 L333.8 168.5 L335.0 170.0 L336.3 171.5 L337.5 173.1 L338.8 174.7 L340.0 176.3 L341.3 177.9 L342.5 179.6 L343.8 181.3 L345.0 183.0 L346.3 184.8 L347.5 186.6 L348.8 188.4 L350.0 190.3 L351.3 192.2 L352.5 194.1 L353.8 196.1 L355.0 198.1 L356.3 200.1 L357.5 202.1 L358.8 204.2 L360.0 206.3 L361.3 208.5 L362.5 210.7 L363.8 212.9 L365.0 215.1 L366.3 217.4 L367.5 219.7 L368.8 222.1 L370.0 224.4 L371.3 226.8 L372.5 229.3 L373.8 231.7 L375.0 234.2 L376.3 236.7 L377.5 239.3 L378.8 241.9 L380.0 244.5 L381.3 247.1 L382.5 249.8 L383.8 252.4 L385.0 255.2 L386.3 257.9 L387.5 260.7 L388.8 263.4 L390.0 266.2 L391.3 269.1 L392.5 271.9 L393.8 274.8 L395.0 277.6 L396.3 280.5 L397.5 283.5 L398.8 286.4 L400.0 289.3 L401.3 292.3 L402.5 295.2 L403.8 298.2 L405.0 301.1 L406.3 304.1 L407.5 307.1 L408.8 310.1 L410.0 313.0 L411.3 316.0 L412.5 319.0 L413.8 321.9 L415.0 324.9 L416.3 327.8 L417.5 330.7 L418.8 333.6 L420.0 336.5 L421.3 339.4 L422.5 342.2 L423.8 345.0 L425.0 347.8 L426.3 350.6 L427.5 353.3 L428.8 356.1 L430.0 358.7 L431.3 361.4 L432.5 363.9 L433.8 366.5 L435.0 369.0 L436.3 371.5 L437.5 373.9 L438.8 376.3 L440.0 378.6 L441.3 380.9 L442.5 383.1 L443.8 385.2 L445.0 387.4 L446.3 389.4 L447.5 391.4 L448.8 393.3 L450.0 395.2 L451.3 397.0 L452.5 398.8 L453.8 400.5 L455.0 402.1 L456.3 403.7 L457.5 405.2 L458.8 406.6 L460.0 408.0 L461.3 409.3 L462.5 410.6 L463.8 411.8 L465.0 412.9 L466.3 414.0 L467.5 415.0 L468.8 416.0 L470.0 416.9 L471.3 417.8 L472.5 418.6 L473.8 419.4 L475.0 420.1 L476.3 420.7 L477.5 421.3 L478.8 421.9 L480.0 422.4 L481.3 422.9 L482.5 423.4 L483.8 423.8 L485.0 424.2 L486.3 424.5 L487.5 424.9 L488.8 425.1 L490.0 425.4 L491.3 425.6 L492.5 425.9 L493.8 426.0 L495.0 426.2 L496.3 426.4 L497.5 426.5 L498.8 426.6 L500.0 426.7 L501.3 426.8 L502.5 426.9 L503.8 427.0 L505.0 427.1 L506.3 427.1 L507.5 427.2 L508.8 427.2 L510.0 427.2 L511.3 427.3 L512.5 427.3 L513.8 427.3 L515.0 427.3 L516.3 427.3 L517.5 427.3 L518.8 427.4 L520.0 427.4 L521.3 427.4 L522.5 427.4 L523.8 427.4 L525.0 427.4 L526.3 427.4 L527.5 427.4 L528.8 427.4 L530.0 427.4 L531.3 427.4 L532.5 427.4 L533.8 427.4 L535.0 427.4 L536.3 427.4 L537.5 427.4 L538.8 427.4 L540.0 427.4 L541.3 427.4 L542.5 427.4 L543.8 427.4 L545.0 427.4 L546.3 427.4 L547.5 427.4 L548.8 427.4 L550.0 427.4 L551.3 427.4 L552.5 427.4 L553.8 427.4 L555.0 427.4 L556.3 427.4 L557.5 427.4 L558.8 427.4 L560.1 427.4" fill="none" stroke="#3a50a3" stroke-width="3.8" stroke-linecap="round" stroke-linejoin="round"/>
<path d="M106.3 79.0 V101.0" stroke="#e81f14" stroke-width="3.7" fill="none"/><rect x="97.3" y="76.6" width="18.0" height="4.8" rx="1.2" fill="#e81f14"/><rect x="97.3" y="98.6" width="18.0" height="4.8" rx="1.2" fill="#e81f14"/>
<path d="M219.7 85.0 V111.0" stroke="#e81f14" stroke-width="3.7" fill="none"/><rect x="210.7" y="82.6" width="18.0" height="4.8" rx="1.2" fill="#e81f14"/><rect x="210.7" y="108.6" width="18.0" height="4.8" rx="1.2" fill="#e81f14"/>
<path d="M276.5 90.4 V106.4" stroke="#e81f14" stroke-width="3.7" fill="none"/><rect x="267.5" y="88.0" width="18.0" height="4.8" rx="1.2" fill="#e81f14"/><rect x="267.5" y="104.0" width="18.0" height="4.8" rx="1.2" fill="#e81f14"/>
<path d="M333.2 109.3 V119.3" stroke="#e81f14" stroke-width="3.7" fill="none"/><rect x="324.2" y="106.9" width="18.0" height="4.8" rx="1.2" fill="#e81f14"/><rect x="324.2" y="116.9" width="18.0" height="4.8" rx="1.2" fill="#e81f14"/>
<path d="M389.9 175.0 V199.0" stroke="#e81f14" stroke-width="3.7" fill="none"/><rect x="380.9" y="172.6" width="18.0" height="4.8" rx="1.2" fill="#e81f14"/><rect x="380.9" y="196.6" width="18.0" height="4.8" rx="1.2" fill="#e81f14"/>
<rect x="98.9" y="82.7" width="14.7" height="14.6" fill="#e81f14"/>
<rect x="155.6" y="88.7" width="14.7" height="14.6" fill="#e81f14"/>
<rect x="212.4" y="90.7" width="14.7" height="14.6" fill="#e81f14"/>
<rect x="269.1" y="91.1" width="14.7" height="14.6" fill="#e81f14"/>
<rect x="325.8" y="107.0" width="14.7" height="14.6" fill="#e81f14"/>
<rect x="382.6" y="179.7" width="14.7" height="14.6" fill="#e81f14"/>
<rect x="439.3" y="303.7" width="14.7" height="14.6" fill="#e81f14"/>
<rect x="496.0" y="394.7" width="14.7" height="14.6" fill="#e81f14"/>
<rect x="552.8" y="424.4" width="14.7" height="14.6" fill="#e81f14"/>
<path d="M163.0 181.0 V204.2" stroke="#0c0808" stroke-width="3.7" fill="none"/><rect x="154.0" y="178.6" width="18.0" height="4.8" rx="1.2" fill="#0c0808"/><rect x="154.0" y="201.8" width="18.0" height="4.8" rx="1.2" fill="#0c0808"/>
<circle cx="106.3" cy="101.0" r="6.7" fill="#0c0808"/>
<circle cx="163.0" cy="192.6" r="6.7" fill="#0c0808"/>
<circle cx="219.7" cy="383.0" r="6.7" fill="#0c0808"/>
<circle cx="276.5" cy="413.7" r="6.7" fill="#0c0808"/>
<circle cx="333.2" cy="425.3" r="6.7" fill="#0c0808"/>
<circle cx="389.9" cy="427.8" r="6.7" fill="#0c0808"/>
<circle cx="446.6" cy="427.0" r="6.7" fill="#0c0808"/>
<circle cx="503.4" cy="427.4" r="6.7" fill="#0c0808"/>
<circle cx="560.1" cy="426.4" r="6.7" fill="#0c0808"/>
<path d="M163.0 90.0 V97.5" stroke="#0c0808" stroke-width="3.7" fill="none"/><path d="M163.0 110.5 V118.0" stroke="#0c0808" stroke-width="3.7" fill="none"/><rect x="154.0" y="87.6" width="18.0" height="4.8" rx="1.2" fill="#0c0808"/><rect x="154.0" y="115.6" width="18.0" height="4.8" rx="1.2" fill="#0c0808"/>
<path d="M333.2 199.8 V207.3" stroke="#0c0808" stroke-width="3.7" fill="none"/><path d="M333.2 220.3 V227.8" stroke="#0c0808" stroke-width="3.7" fill="none"/><rect x="324.2" y="197.4" width="18.0" height="4.8" rx="1.2" fill="#0c0808"/><rect x="324.2" y="225.4" width="18.0" height="4.8" rx="1.2" fill="#0c0808"/>
<circle cx="106.3" cy="104.8" r="6.7" fill="none" stroke="#0c0808" stroke-width="3.5"/>
<circle cx="163.0" cy="104.0" r="6.7" fill="none" stroke="#0c0808" stroke-width="3.5"/>
<circle cx="219.7" cy="97.4" r="6.7" fill="none" stroke="#0c0808" stroke-width="3.5"/>
<circle cx="276.5" cy="115.3" r="6.7" fill="none" stroke="#0c0808" stroke-width="3.5"/>
<circle cx="333.2" cy="213.8" r="6.7" fill="none" stroke="#0c0808" stroke-width="3.5"/>
<circle cx="389.9" cy="319.5" r="6.7" fill="none" stroke="#0c0808" stroke-width="3.5"/>
<circle cx="446.6" cy="380.9" r="6.7" fill="none" stroke="#0c0808" stroke-width="3.5"/>
<circle cx="503.4" cy="424.0" r="6.7" fill="none" stroke="#0c0808" stroke-width="3.5"/>
<circle cx="560.1" cy="452.8" r="6.7" fill="none" stroke="#0c0808" stroke-width="3.5"/>
<path d="M163.0 91.0 V94.5" stroke="#0c0808" stroke-width="3.7" fill="none"/><path d="M163.0 107.5 V111.0" stroke="#0c0808" stroke-width="3.7" fill="none"/><rect x="154.0" y="88.6" width="18.0" height="4.8" rx="1.2" fill="#0c0808"/><rect x="154.0" y="108.6" width="18.0" height="4.8" rx="1.2" fill="#0c0808"/>
<path d="M389.9 179.2 V179.7" stroke="#0c0808" stroke-width="3.7" fill="none"/><path d="M389.9 192.7 V193.2" stroke="#0c0808" stroke-width="3.7" fill="none"/><rect x="380.9" y="176.8" width="18.0" height="4.8" rx="1.2" fill="#0c0808"/><rect x="380.9" y="190.8" width="18.0" height="4.8" rx="1.2" fill="#0c0808"/>
<path d="M446.6 320.0 V321.5" stroke="#0c0808" stroke-width="3.7" fill="none"/><rect x="437.6" y="317.6" width="18.0" height="4.8" rx="1.2" fill="#0c0808"/>
<path d="M106.3 93.4 L112.9 106.4 L99.7 106.4 Z" fill="none" stroke="#0c0808" stroke-width="3.4" stroke-linejoin="round"/>
<path d="M163.0 94.4 L169.6 107.4 L156.4 107.4 Z" fill="none" stroke="#0c0808" stroke-width="3.4" stroke-linejoin="round"/>
<path d="M219.7 91.4 L226.3 104.4 L213.1 104.4 Z" fill="none" stroke="#0c0808" stroke-width="3.4" stroke-linejoin="round"/>
<path d="M276.5 92.9 L283.1 105.9 L269.9 105.9 Z" fill="none" stroke="#0c0808" stroke-width="3.4" stroke-linejoin="round"/>
<path d="M333.2 102.4 L339.8 115.4 L326.6 115.4 Z" fill="none" stroke="#0c0808" stroke-width="3.4" stroke-linejoin="round"/>
<path d="M389.9 179.6 L396.5 192.6 L383.3 192.6 Z" fill="none" stroke="#0c0808" stroke-width="3.4" stroke-linejoin="round"/>
<path d="M446.6 321.4 L453.2 334.4 L440.0 334.4 Z" fill="none" stroke="#0c0808" stroke-width="3.4" stroke-linejoin="round"/>
<path d="M503.4 379.4 L510.0 392.4 L496.8 392.4 Z" fill="none" stroke="#0c0808" stroke-width="3.4" stroke-linejoin="round"/>
<path d="M560.1 433.4 L566.7 446.4 L553.5 446.4 Z" fill="none" stroke="#0c0808" stroke-width="3.4" stroke-linejoin="round"/>
<path d="M106.3 69.0 V91.0" stroke="#56b532" stroke-width="3.7" fill="none"/><rect x="97.3" y="66.6" width="18.0" height="4.8" rx="1.2" fill="#56b532"/><rect x="97.3" y="88.6" width="18.0" height="4.8" rx="1.2" fill="#56b532"/>
<path d="M163.0 79.6 V91.6" stroke="#56b532" stroke-width="3.7" fill="none"/><rect x="154.0" y="77.2" width="18.0" height="4.8" rx="1.2" fill="#56b532"/><rect x="154.0" y="89.2" width="18.0" height="4.8" rx="1.2" fill="#56b532"/>
<path d="M276.5 103.0 V127.0" stroke="#56b532" stroke-width="3.7" fill="none"/><rect x="267.5" y="100.6" width="18.0" height="4.8" rx="1.2" fill="#56b532"/><rect x="267.5" y="124.6" width="18.0" height="4.8" rx="1.2" fill="#56b532"/>
<path d="M333.2 157.9 V165.9" stroke="#56b532" stroke-width="3.7" fill="none"/><rect x="324.2" y="155.5" width="18.0" height="4.8" rx="1.2" fill="#56b532"/><rect x="324.2" y="163.5" width="18.0" height="4.8" rx="1.2" fill="#56b532"/>
<path d="M106.3 85.9 L113.1 72.1 L99.5 72.1 Z" fill="#56b532"/>
<path d="M163.0 90.5 L169.8 76.7 L156.2 76.7 Z" fill="#56b532"/>
<path d="M219.7 99.9 L226.5 86.1 L212.9 86.1 Z" fill="#56b532"/>
<path d="M276.5 116.9 L283.3 103.1 L269.7 103.1 Z" fill="#56b532"/>
<path d="M333.2 168.8 L340.0 155.0 L326.4 155.0 Z" fill="#56b532"/>
<path d="M389.9 280.9 L396.7 267.1 L383.1 267.1 Z" fill="#56b532"/>
<path d="M446.6 355.9 L453.4 342.1 L439.8 342.1 Z" fill="#56b532"/>
<path d="M503.4 407.9 L510.2 394.1 L496.6 394.1 Z" fill="#56b532"/>
<path d="M560.1 445.9 L566.9 432.1 L553.3 432.1 Z" fill="#56b532"/>
<path d="M106.3 85.0 V118.2" stroke="#3a50a3" stroke-width="3.7" fill="none"/><rect x="97.3" y="82.6" width="18.0" height="4.8" rx="1.2" fill="#3a50a3"/><rect x="97.3" y="115.8" width="18.0" height="4.8" rx="1.2" fill="#3a50a3"/>
<path d="M163.0 95.8 V115.8" stroke="#3a50a3" stroke-width="3.7" fill="none"/><rect x="154.0" y="93.4" width="18.0" height="4.8" rx="1.2" fill="#3a50a3"/><rect x="154.0" y="113.4" width="18.0" height="4.8" rx="1.2" fill="#3a50a3"/>
<path d="M219.7 85.7 V105.7" stroke="#3a50a3" stroke-width="3.7" fill="none"/><rect x="210.7" y="83.3" width="18.0" height="4.8" rx="1.2" fill="#3a50a3"/><rect x="210.7" y="103.3" width="18.0" height="4.8" rx="1.2" fill="#3a50a3"/>
<path d="M333.2 167.9 V191.9" stroke="#3a50a3" stroke-width="3.7" fill="none"/><rect x="324.2" y="165.5" width="18.0" height="4.8" rx="1.2" fill="#3a50a3"/><rect x="324.2" y="189.5" width="18.0" height="4.8" rx="1.2" fill="#3a50a3"/>
<path d="M106.3 94.7 L113.1 108.5 L99.5 108.5 Z" fill="#3a50a3"/>
<path d="M163.0 98.9 L169.8 112.7 L156.2 112.7 Z" fill="#3a50a3"/>
<path d="M219.7 88.8 L226.5 102.6 L212.9 102.6 Z" fill="#3a50a3"/>
<path d="M276.5 115.9 L283.3 129.7 L269.7 129.7 Z" fill="#3a50a3"/>
<path d="M333.2 173.0 L340.0 186.8 L326.4 186.8 Z" fill="#3a50a3"/>
<path d="M389.9 280.8 L396.7 294.6 L383.1 294.6 Z" fill="#3a50a3"/>
<path d="M446.6 353.9 L453.4 367.7 L439.8 367.7 Z" fill="#3a50a3"/>
<path d="M503.4 415.1 L510.2 428.9 L496.6 428.9 Z" fill="#3a50a3"/>
<path d="M560.1 445.9 L566.9 459.7 L553.3 459.7 Z" fill="#3a50a3"/>
<rect x="82.05" y="2.15" width="528.00" height="4.90" fill="#0c0808"/>
<rect x="82.05" y="471.35" width="528.00" height="4.90" fill="#0c0808"/>
<rect x="82.05" y="2.15" width="4.90" height="474.10" fill="#0c0808"/>
<rect x="605.15" y="2.15" width="4.90" height="474.10" fill="#0c0808"/>
<text transform="translate(62.40,502.50) scale(1.0727,1)" font-size="21.0">0.001</text><rect x="107.38" y="500.69" width="4.56" height="2.52" fill="#fff"/><rect x="113.91" y="500.69" width="4.28" height="2.52" fill="#fff"/>
<text transform="translate(185.88,502.50) scale(1.0960,1)" font-size="21.0">0.01</text><rect x="219.03" y="500.69" width="4.66" height="2.52" fill="#fff"/><rect x="225.71" y="500.69" width="4.37" height="2.52" fill="#fff"/>
<text transform="translate(309.65,502.50) scale(1.1254,1)" font-size="21.0">0.1</text><rect x="330.55" y="500.69" width="4.79" height="2.52" fill="#fff"/><rect x="337.41" y="500.69" width="4.49" height="2.52" fill="#fff"/>
<text transform="translate(437.09,502.50) scale(1.0800,1)" font-size="21.0">1</text><rect x="438.22" y="500.69" width="4.59" height="2.52" fill="#fff"/><rect x="444.80" y="500.69" width="4.31" height="2.52" fill="#fff"/>
<text transform="translate(550.29,502.50) scale(1.0593,1)" font-size="21.0">10</text><rect x="551.40" y="500.69" width="4.50" height="2.52" fill="#fff"/><rect x="557.85" y="500.69" width="4.23" height="2.52" fill="#fff"/>
<text transform="translate(36.21,104.70) scale(1.0454,1)" font-size="21.0">100</text><rect x="37.31" y="102.89" width="4.45" height="2.52" fill="#fff"/><rect x="43.68" y="102.89" width="4.17" height="2.52" fill="#fff"/>
<text transform="translate(46.10,292.00) scale(1.0674,1)" font-size="21.0">50</text>
<text transform="translate(60.91,484.00) scale(1.0615,1)" font-size="21.0">0</text>
<text transform="translate(238.71,548.50) scale(0.9607,1)" font-size="33.0">Gedatolisib (<tspan font-style="italic">μ</tspan>M)</text></g>
<g><rect x="692.5" y="467.6" width="4.9" height="8.1" fill="#0c0808"/>
<rect x="728.0" y="467.6" width="4.6" height="4.8" fill="#0c0808"/>
<rect x="748.7" y="467.6" width="4.6" height="4.8" fill="#0c0808"/>
<rect x="763.4" y="467.6" width="4.6" height="4.8" fill="#0c0808"/>
<rect x="774.8" y="467.6" width="4.6" height="4.8" fill="#0c0808"/>
<rect x="784.1" y="467.6" width="4.6" height="4.8" fill="#0c0808"/>
<rect x="791.9" y="467.6" width="4.6" height="4.8" fill="#0c0808"/>
<rect x="798.7" y="467.6" width="4.6" height="4.8" fill="#0c0808"/>
<rect x="804.7" y="467.6" width="4.6" height="4.8" fill="#0c0808"/>
<rect x="809.9" y="467.6" width="4.9" height="8.1" fill="#0c0808"/>
<rect x="845.4" y="467.6" width="4.6" height="4.8" fill="#0c0808"/>
<rect x="866.1" y="467.6" width="4.6" height="4.8" fill="#0c0808"/>
<rect x="880.8" y="467.6" width="4.6" height="4.8" fill="#0c0808"/>
<rect x="892.2" y="467.6" width="4.6" height="4.8" fill="#0c0808"/>
<rect x="901.5" y="467.6" width="4.6" height="4.8" fill="#0c0808"/>
<rect x="909.3" y="467.6" width="4.6" height="4.8" fill="#0c0808"/>
<rect x="916.1" y="467.6" width="4.6" height="4.8" fill="#0c0808"/>
<rect x="922.1" y="467.6" width="4.6" height="4.8" fill="#0c0808"/>
<rect x="927.3" y="467.6" width="4.9" height="8.1" fill="#0c0808"/>
<rect x="962.8" y="467.6" width="4.6" height="4.8" fill="#0c0808"/>
<rect x="983.5" y="467.6" width="4.6" height="4.8" fill="#0c0808"/>
<rect x="998.2" y="467.6" width="4.6" height="4.8" fill="#0c0808"/>
<rect x="1009.6" y="467.6" width="4.6" height="4.8" fill="#0c0808"/>
<rect x="1018.9" y="467.6" width="4.6" height="4.8" fill="#0c0808"/>
<rect x="1026.7" y="467.6" width="4.6" height="4.8" fill="#0c0808"/>
<rect x="1033.5" y="467.6" width="4.6" height="4.8" fill="#0c0808"/>
<rect x="1039.5" y="467.6" width="4.6" height="4.8" fill="#0c0808"/>
<rect x="1044.8" y="467.6" width="4.9" height="8.1" fill="#0c0808"/>
<rect x="1080.2" y="467.6" width="4.6" height="4.8" fill="#0c0808"/>
<rect x="1100.9" y="467.6" width="4.6" height="4.8" fill="#0c0808"/>
<rect x="1115.6" y="467.6" width="4.6" height="4.8" fill="#0c0808"/>
<rect x="1127.0" y="467.6" width="4.6" height="4.8" fill="#0c0808"/>
<rect x="1136.3" y="467.6" width="4.6" height="4.8" fill="#0c0808"/>
<rect x="1144.1" y="467.6" width="4.6" height="4.8" fill="#0c0808"/>
<rect x="1150.9" y="467.6" width="4.6" height="4.8" fill="#0c0808"/>
<rect x="1156.9" y="467.6" width="4.6" height="4.8" fill="#0c0808"/>
<rect x="1162.1" y="467.6" width="4.9" height="8.1" fill="#0c0808"/>
<rect x="1197.6" y="467.6" width="4.6" height="4.8" fill="#0c0808"/>
<rect x="686.5" y="465.1" width="8.4" height="5" fill="#0c0808"/>
<rect x="686.5" y="279.1" width="8.4" height="5" fill="#0c0808"/>
<rect x="686.5" y="93.1" width="8.4" height="5" fill="#0c0808"/>
<path d="M716.6 80.1 L717.8 80.1 L719.1 80.1 L720.3 80.1 L721.6 80.1 L722.8 80.1 L724.1 80.1 L725.3 80.1 L726.6 80.1 L727.8 80.1 L729.1 80.1 L730.3 80.1 L731.6 80.1 L732.8 80.1 L734.1 80.1 L735.3 80.1 L736.6 80.1 L737.8 80.1 L739.1 80.1 L740.3 80.1 L741.6 80.1 L742.8 80.1 L744.1 80.1 L745.3 80.2 L746.6 80.2 L747.8 80.2 L749.1 80.2 L750.3 80.2 L751.6 80.2 L752.8 80.2 L754.1 80.2 L755.3 80.2 L756.6 80.2 L757.8 80.2 L759.1 80.2 L760.3 80.2 L761.6 80.2 L762.8 80.2 L764.1 80.2 L765.3 80.2 L766.6 80.2 L767.8 80.2 L769.1 80.2 L770.3 80.2 L771.6 80.3 L772.8 80.3 L774.1 80.3 L775.3 80.3 L776.6 80.3 L777.8 80.3 L779.1 80.3 L780.3 80.3 L781.6 80.3 L782.8 80.3 L784.1 80.3 L785.3 80.3 L786.6 80.3 L787.8 80.4 L789.1 80.4 L790.3 80.4 L791.6 80.4 L792.8 80.4 L794.1 80.4 L795.3 80.4 L796.6 80.4 L797.8 80.4 L799.1 80.4 L800.3 80.5 L801.6 80.5 L802.8 80.5 L804.1 80.5 L805.3 80.5 L806.6 80.5 L807.8 80.5 L809.1 80.5 L810.3 80.5 L811.6 80.6 L812.8 80.6 L814.1 80.6 L815.3 80.6 L816.6 80.6 L817.8 80.6 L819.1 80.7 L820.3 80.7 L821.6 80.7 L822.8 80.7 L824.1 80.7 L825.3 80.7 L826.6 80.8 L827.8 80.8 L829.1 80.8 L830.3 80.8 L831.6 80.8 L832.8 80.9 L834.1 80.9 L835.3 80.9 L836.6 80.9 L837.8 81.0 L839.1 81.0 L840.3 81.0 L841.6 81.0 L842.8 81.1 L844.1 81.1 L845.3 81.1 L846.6 81.1 L847.8 81.2 L849.1 81.2 L850.3 81.2 L851.6 81.3 L852.8 81.3 L854.1 81.3 L855.3 81.4 L856.6 81.4 L857.8 81.4 L859.1 81.5 L860.3 81.5 L861.6 81.5 L862.8 81.6 L864.1 81.6 L865.3 81.7 L866.6 81.7 L867.8 81.8 L869.1 81.8 L870.3 81.8 L871.6 81.9 L872.8 81.9 L874.1 82.0 L875.3 82.0 L876.6 82.1 L877.8 82.2 L879.1 82.2 L880.3 82.3 L881.6 82.3 L882.8 82.4 L884.1 82.4 L885.3 82.5 L886.6 82.6 L887.8 82.6 L889.1 82.7 L890.3 82.8 L891.6 82.9 L892.8 82.9 L894.1 83.0 L895.3 83.1 L896.6 83.2 L897.8 83.3 L899.1 83.4 L900.3 83.5 L901.6 83.5 L902.8 83.6 L904.1 83.7 L905.3 83.8 L906.6 83.9 L907.8 84.1 L909.1 84.2 L910.3 84.3 L911.6 84.4 L912.8 84.5 L914.1 84.6 L915.3 84.8 L916.6 84.9 L917.8 85.0 L919.1 85.2 L920.3 85.3 L921.6 85.5 L922.8 85.6 L924.1 85.8 L925.3 86.0 L926.6 86.1 L927.8 86.3 L929.1 86.5 L930.3 86.7 L931.6 86.9 L932.8 87.1 L934.1 87.3 L935.3 87.5 L936.6 87.7 L937.8 87.9 L939.1 88.2 L940.3 88.4 L941.6 88.6 L942.8 88.9 L944.1 89.2 L945.3 89.4 L946.6 89.7 L947.8 90.0 L949.1 90.3 L950.3 90.6 L951.6 91.0 L952.8 91.3 L954.1 91.7 L955.3 92.0 L956.6 92.4 L957.8 92.8 L959.1 93.2 L960.3 93.6 L961.6 94.1 L962.8 94.5 L964.1 95.0 L965.3 95.5 L966.6 96.0 L967.8 96.5 L969.1 97.1 L970.3 97.6 L971.6 98.2 L972.8 98.9 L974.1 99.5 L975.3 100.2 L976.6 100.9 L977.8 101.6 L979.1 102.4 L980.3 103.1 L981.6 104.0 L982.8 104.8 L984.1 105.7 L985.3 106.7 L986.6 107.6 L987.8 108.6 L989.1 109.7 L990.3 110.8 L991.6 112.0 L992.8 113.2 L994.1 114.5 L995.3 115.8 L996.6 117.2 L997.8 118.6 L999.1 120.1 L1000.3 121.7 L1001.6 123.4 L1002.8 125.1 L1004.1 127.0 L1005.3 128.9 L1006.6 130.9 L1007.8 133.0 L1009.1 135.2 L1010.3 137.5 L1011.6 139.9 L1012.8 142.5 L1014.1 145.1 L1015.3 147.9 L1016.6 150.8 L1017.8 153.9 L1019.1 157.1 L1020.3 160.4 L1021.6 163.9 L1022.8 167.5 L1024.1 171.4 L1025.3 175.3 L1026.6 179.5 L1027.8 183.8 L1029.1 188.3 L1030.3 193.0 L1031.6 197.9 L1032.8 202.9 L1034.1 208.1 L1035.3 213.5 L1036.6 219.0 L1037.8 224.7 L1039.1 230.6 L1040.3 236.5 L1041.6 242.6 L1042.8 248.9 L1044.1 255.2 L1045.3 261.5 L1046.6 268.0 L1047.8 274.4 L1049.1 280.9 L1050.3 287.3 L1051.6 293.7 L1052.8 300.0 L1054.1 306.2 L1055.3 312.3 L1056.6 318.2 L1057.8 323.9 L1059.1 329.4 L1060.3 334.7 L1061.6 339.8 L1062.8 344.6 L1064.1 349.2 L1065.3 353.4 L1066.6 357.4 L1067.8 361.2 L1069.1 364.6 L1070.3 367.8 L1071.6 370.7 L1072.8 373.3 L1074.1 375.7 L1075.3 377.9 L1076.6 379.8 L1077.8 381.5 L1079.1 383.1 L1080.3 384.4 L1081.6 385.6 L1082.8 386.6 L1084.1 387.6 L1085.3 388.3 L1086.6 389.0 L1087.8 389.6 L1089.1 390.1 L1090.3 390.5 L1091.6 390.9 L1092.8 391.2 L1094.1 391.4 L1095.3 391.6 L1096.6 391.8 L1097.8 391.9 L1099.1 392.1 L1100.3 392.1 L1101.6 392.2 L1102.8 392.3 L1104.1 392.3 L1105.3 392.4 L1106.6 392.4 L1107.8 392.4 L1109.1 392.4 L1110.3 392.5 L1111.6 392.5 L1112.8 392.5 L1114.1 392.5 L1115.3 392.5 L1116.6 392.5 L1117.8 392.5 L1119.1 392.5 L1120.3 392.5 L1121.6 392.5 L1122.8 392.5 L1124.1 392.5 L1125.3 392.5 L1126.6 392.5 L1127.8 392.5 L1129.1 392.5 L1130.3 392.5 L1131.6 392.5 L1132.8 392.5 L1134.1 392.5 L1135.3 392.5 L1136.6 392.5 L1137.8 392.5 L1139.1 392.5 L1140.3 392.5 L1141.6 392.5 L1142.8 392.5 L1144.1 392.5 L1145.3 392.5 L1146.6 392.5 L1147.8 392.5 L1149.1 392.5 L1150.3 392.5 L1151.6 392.5 L1152.8 392.5 L1154.1 392.5 L1155.3 392.5 L1156.6 392.5 L1157.8 392.5 L1159.1 392.5 L1160.3 392.5 L1161.6 392.5 L1162.8 392.5 L1164.6 392.5" fill="none" stroke="#0c0808" stroke-width="3.8" stroke-linecap="round" stroke-linejoin="round"/>
<path d="M716.6 55.0 L717.1 55.0 L717.6 55.0 L718.1 55.0 L718.6 55.0 L719.1 55.0 L719.6 55.0 L720.1 55.0 L720.6 55.0 L721.1 55.0 L721.6 55.0 L722.1 55.0 L722.6 55.0 L723.1 55.0 L723.6 55.0 L724.1 55.0 L724.6 55.0 L725.1 55.0 L725.6 55.0 L726.1 55.0 L726.6 55.0 L727.1 55.0 L727.6 55.0 L728.1 55.0 L728.6 55.0 L729.1 55.0 L729.6 55.0 L730.1 55.0 L730.6 55.0 L731.1 55.0 L731.6 55.0 L732.1 55.0 L732.6 55.0 L733.1 55.0 L733.6 55.0 L734.1 55.0 L734.6 55.0 L735.1 55.0 L735.6 55.0 L736.1 55.0 L736.6 55.0 L737.1 55.0 L737.6 55.0 L738.1 55.0 L738.6 55.0 L739.1 55.0 L739.6 55.0 L740.1 55.0 L740.6 55.0 L741.1 55.0 L741.6 55.0 L742.1 55.0 L742.6 55.0 L743.1 55.0 L743.6 55.0 L744.1 55.0 L744.6 55.0 L745.1 55.0 L745.6 55.0 L746.1 55.0 L746.6 55.0 L747.1 55.0 L747.6 55.0 L748.1 55.0 L748.6 55.0 L749.1 55.0 L749.6 55.0 L750.1 55.0 L750.6 55.0 L751.1 55.0 L751.6 55.0 L752.1 55.0 L752.6 55.0 L753.1 55.0 L753.6 55.0 L754.1 55.0 L754.6 55.0 L755.1 55.0 L755.6 55.0 L756.1 55.0 L756.6 55.0 L757.1 55.0 L757.6 55.0 L758.1 55.0 L758.6 55.0 L759.1 55.0 L759.6 55.0 L760.1 55.0 L760.6 55.0 L761.1 55.0 L761.6 55.0 L762.1 55.0 L762.6 55.0 L763.1 55.0 L763.6 55.0 L764.1 55.0 L764.6 55.0 L765.1 55.0 L765.6 55.0 L766.1 55.0 L766.6 55.0 L767.1 55.0 L767.6 55.0 L768.1 55.0 L768.6 55.0 L769.1 55.0 L769.6 55.0 L770.1 55.0 L770.6 55.0 L771.1 55.0 L771.6 55.0 L772.1 55.0 L772.6 55.0 L773.1 55.0 L773.6 55.0 L774.1 55.0 L774.6 55.0 L775.1 55.0 L775.6 55.0 L776.1 55.0 L776.6 55.0 L777.1 55.0 L777.6 55.0 L778.1 55.0 L778.6 55.0 L779.1 55.0 L779.6 55.0 L780.1 55.0 L780.6 55.0 L781.1 55.0 L781.6 55.0 L782.1 55.0 L782.6 55.0 L783.1 55.0 L783.6 55.0 L784.1 55.0 L784.6 55.0 L785.1 55.0 L785.6 55.0 L786.1 55.0 L786.6 55.0 L787.1 55.0 L787.6 55.0 L788.1 55.0 L788.6 55.0 L789.1 55.0 L789.6 55.0 L790.1 55.0 L790.6 55.0 L791.1 55.0 L791.6 55.0 L792.1 55.0 L792.6 55.0 L793.1 55.0 L793.6 55.0 L794.1 55.0 L794.6 55.0 L795.1 55.0 L795.6 55.0 L796.1 55.0 L796.6 55.0 L797.1 55.0 L797.6 55.0 L798.1 55.0 L798.6 55.0 L799.1 55.0 L799.6 55.0 L800.1 55.0 L800.6 55.0 L801.1 55.0 L801.6 55.0 L802.1 55.0 L802.6 55.0 L803.1 55.0 L803.6 55.0 L804.1 55.0 L804.6 55.0 L805.1 55.0 L805.6 55.0 L806.1 55.0 L806.6 55.0 L807.1 55.0 L807.6 55.0 L808.1 55.0 L808.6 55.0 L809.1 55.0 L809.6 55.0 L810.1 55.0 L810.6 55.0 L811.1 55.0 L811.6 55.0 L812.1 55.0 L812.6 55.0 L813.1 55.0 L813.6 55.0 L814.1 55.0 L814.6 55.0 L815.1 55.0 L815.6 55.0 L816.1 55.0 L816.6 55.0 L817.1 55.0 L817.6 55.0 L818.1 55.0 L818.6 55.0 L819.1 55.0 L819.6 55.0 L820.1 55.0 L820.6 55.0 L821.1 55.0 L821.6 55.0 L822.1 55.0 L822.6 55.0 L823.1 55.0 L823.6 55.0 L824.1 55.0 L824.6 55.0 L825.1 55.0 L825.6 55.0 L826.1 55.0 L826.6 55.0 L827.1 55.0 L827.6 55.0 L828.1 55.0 L828.6 55.0 L829.1 55.0 L829.6 55.0 L830.1 55.0 L830.6 55.0 L831.1 55.0 L831.6 55.0 L832.1 55.0 L832.6 55.0 L833.1 55.0 L833.6 55.0 L834.1 55.0 L834.6 55.0 L835.1 55.0 L835.6 55.0 L836.1 55.0 L836.6 55.0 L837.1 55.0 L837.6 55.0 L838.1 55.0 L838.6 55.0 L839.1 55.0 L839.6 55.0 L840.1 55.0 L840.6 55.0 L841.1 55.0 L841.6 55.0 L842.1 55.0 L842.6 55.0 L843.1 55.0 L843.6 55.0 L844.1 55.0 L844.6 55.0 L845.1 55.0 L845.6 55.0 L846.1 55.0 L846.6 55.0 L847.1 55.0 L847.6 55.0 L848.1 55.0 L848.6 55.0 L849.1 55.0 L849.6 55.0 L850.1 55.0 L850.6 55.0 L851.1 55.0 L851.6 55.0 L852.1 55.0 L852.6 55.0 L853.1 55.0 L853.6 55.0 L854.1 55.0 L854.6 55.0 L855.1 55.0 L855.6 55.0 L856.1 55.0 L856.6 55.0 L857.1 55.0 L857.6 55.0 L858.1 55.0 L858.6 55.0 L859.1 55.0 L859.6 55.0 L860.1 55.0 L860.6 55.0 L861.1 55.0 L861.6 55.0 L862.1 55.0 L862.6 55.0 L863.1 55.0 L863.6 55.0 L864.1 55.0 L864.6 55.0 L865.1 55.0 L865.6 55.0 L866.1 55.0 L866.6 55.0 L867.1 55.0 L867.6 55.0 L868.1 55.0 L868.6 55.0 L869.1 55.0 L869.6 55.0 L870.1 55.0 L870.6 55.0 L871.1 55.0 L871.6 55.0 L872.1 55.0 L872.6 55.0 L873.1 55.0 L873.6 55.0 L874.1 55.0 L874.6 55.0 L875.1 55.0 L875.6 55.0 L876.1 55.0 L876.6 55.0 L877.1 55.0 L877.6 55.0 L878.1 55.0 L878.6 55.0 L879.1 55.0 L879.6 55.0 L880.1 55.0 L880.6 55.0 L881.1 55.0 L881.6 55.0 L882.1 55.0 L882.6 55.0 L883.1 55.0 L883.6 55.0 L884.1 55.0 L884.6 55.0 L885.1 55.0 L885.6 55.0 L886.1 55.0 L886.6 55.0 L887.1 55.0 L887.6 55.0 L888.1 55.0 L888.6 55.0 L889.1 55.0 L889.6 55.0 L890.1 55.0 L890.6 55.0 L891.1 55.0 L891.6 55.0 L892.1 55.0 L892.6 55.0 L893.1 55.0 L893.6 55.0 L894.1 55.0 L894.6 55.0 L895.1 55.0 L895.6 55.0 L896.1 55.0 L896.6 55.0 L897.1 55.0 L897.6 55.0 L898.1 55.0 L898.6 55.0 L899.1 55.0 L899.6 55.0 L900.1 55.0 L900.6 55.0 L901.1 55.0 L901.6 55.0 L902.1 55.0 L902.6 55.0 L903.1 55.0 L903.6 55.0 L904.1 55.0 L904.6 55.0 L905.1 55.0 L905.6 55.0 L906.1 55.0 L906.6 55.0 L907.1 55.0 L907.6 55.0 L908.1 55.0 L908.6 55.0 L909.1 55.0 L909.6 55.0 L910.1 55.0 L910.6 55.0 L911.1 55.0 L911.6 55.0 L912.1 55.0 L912.6 55.0 L913.1 55.0 L913.6 55.0 L914.1 55.0 L914.6 55.0 L915.1 55.0 L915.6 55.0 L916.1 55.0 L916.6 55.0 L917.1 55.0 L917.6 55.0 L918.1 55.0 L918.6 55.0 L919.1 55.0 L919.6 55.0 L920.1 55.0 L920.6 55.0 L921.1 55.0 L921.6 55.0 L922.1 55.0 L922.6 55.0 L923.1 55.0 L923.6 55.0 L924.1 55.0 L924.6 55.0 L925.1 55.0 L925.6 55.0 L926.1 55.0 L926.6 55.0 L927.1 55.0 L927.6 55.0 L928.1 55.0 L928.6 55.0 L929.1 55.0 L929.6 55.0 L930.1 55.0 L930.6 55.0 L931.1 55.0 L931.6 55.0 L932.1 55.0 L932.6 55.0 L933.1 55.0 L933.6 55.0 L934.1 55.0 L934.6 55.0 L935.1 55.0 L935.6 55.0 L936.1 55.0 L936.6 55.0 L937.1 55.0 L937.6 55.0 L938.1 55.0 L938.6 55.0 L939.1 55.0 L939.6 55.0 L940.1 55.0 L940.6 55.0 L941.1 55.0 L941.6 55.0 L942.1 55.0 L942.6 55.0 L943.1 55.0 L943.6 55.0 L944.1 55.0 L944.6 55.0 L945.1 55.0 L945.6 55.0 L946.1 55.0 L946.6 55.0 L947.1 55.0 L947.6 55.0 L948.1 55.0 L948.6 55.0 L949.1 55.0 L949.6 55.0 L950.1 55.0 L950.6 55.0 L951.1 55.0 L951.6 55.0 L952.1 55.0 L952.6 55.0 L953.1 55.0 L953.6 55.0 L954.1 55.0 L954.6 55.0 L955.1 55.0 L955.6 55.0 L956.1 55.0 L956.6 55.0 L957.1 55.0 L957.6 55.0 L958.1 55.0 L958.6 55.0 L959.1 55.0 L959.6 55.0 L960.1 55.0 L960.6 55.0 L961.1 55.0 L961.6 55.0 L962.1 55.0 L962.6 55.0 L963.1 55.0 L963.6 55.0 L964.1 55.0 L964.6 55.0 L965.1 55.0 L965.6 55.0 L966.1 55.0 L966.6 55.0 L967.1 55.0 L967.6 55.0 L968.1 55.0 L968.6 55.0 L969.1 55.0 L969.6 55.0 L970.1 55.0 L970.6 55.0 L971.1 55.0 L971.6 55.0 L972.1 55.0 L972.6 55.0 L973.1 55.0 L973.6 55.0 L974.1 55.0 L974.6 55.0 L975.1 55.0 L975.6 55.0 L976.1 55.0 L976.6 55.0 L977.1 55.0 L977.6 55.0 L978.1 55.0 L978.6 55.0 L979.1 55.0 L979.6 55.0 L980.1 55.0 L980.6 55.0 L981.1 55.0 L981.6 55.0 L982.1 55.0 L982.6 55.0 L983.1 55.0 L983.6 55.0 L984.1 55.0 L984.6 55.0 L985.1 55.0 L985.6 55.0 L986.1 55.0 L986.6 55.0 L987.1 55.0 L987.6 55.0 L988.1 55.0 L988.6 55.0 L989.1 55.0 L989.6 55.0 L990.1 55.0 L990.6 55.0 L991.1 55.0 L991.6 55.0 L992.1 55.0 L992.6 55.0 L993.1 55.0 L993.6 55.0 L994.1 55.0 L994.6 55.0 L995.1 55.0 L995.6 55.0 L996.1 55.0 L996.6 55.0 L997.1 55.0 L997.6 55.0 L998.1 55.0 L998.6 55.0 L999.1 55.0 L999.6 55.0 L1000.1 55.0 L1000.6 55.0 L1001.1 55.0 L1001.6 55.0 L1002.1 55.0 L1002.6 55.0 L1003.1 55.0 L1003.6 55.0 L1004.1 55.0 L1004.6 55.0 L1005.1 55.0 L1005.6 55.0 L1006.1 55.0 L1006.6 55.0 L1007.1 55.0 L1007.6 55.0 L1008.1 55.0 L1008.6 55.0 L1009.1 55.0 L1009.6 55.0 L1010.1 55.0 L1010.6 55.0 L1011.1 55.0 L1011.6 55.0 L1012.1 55.0 L1012.6 55.0 L1013.1 55.0 L1013.6 55.0 L1014.1 55.0 L1014.6 55.0 L1015.1 55.0 L1015.6 55.0 L1016.1 55.0 L1016.6 55.0 L1017.1 55.0 L1017.6 55.0 L1018.1 55.0 L1018.6 55.0 L1019.1 55.0 L1019.6 55.0 L1020.1 55.0 L1020.6 55.0 L1021.1 55.0 L1021.6 55.0 L1022.1 55.0 L1022.6 55.0 L1023.1 55.0 L1023.6 55.0 L1024.1 55.0 L1024.6 55.0 L1025.1 55.0 L1025.6 55.0 L1026.1 55.0 L1026.6 55.0 L1027.1 55.0 L1027.6 55.0 L1028.1 55.0 L1028.6 55.0 L1029.1 55.0 L1029.6 55.0 L1030.1 55.0 L1030.6 55.0 L1031.1 55.0 L1031.6 55.0 L1032.1 55.0 L1032.6 55.0 L1033.1 55.0 L1033.6 55.1 L1034.1 55.1 L1034.6 55.1 L1035.1 55.1 L1035.6 55.2 L1036.1 55.2 L1036.6 55.2 L1037.1 55.2 L1037.6 55.3 L1038.1 55.3 L1038.6 55.4 L1039.1 55.4 L1039.6 55.5 L1040.1 55.5 L1040.6 55.6 L1041.1 55.8 L1041.6 56.0 L1042.1 56.2 L1042.6 56.5 L1043.1 56.9 L1043.6 57.3 L1044.1 57.7 L1044.6 58.1 L1045.1 58.6 L1045.6 59.2 L1046.1 59.8 L1046.6 60.7 L1047.1 61.8 L1047.6 63.0 L1048.1 64.6 L1048.6 66.4 L1049.1 69.5 L1049.6 74.4 L1050.1 81.5 L1050.6 96.3 L1051.1 126.0 L1051.6 145.5 L1052.1 160.7 L1052.6 174.1 L1053.1 186.1 L1053.6 197.2 L1054.1 208.0 L1054.6 218.9 L1055.1 230.5 L1055.6 242.7 L1056.1 255.2 L1056.6 267.7 L1057.1 280.0 L1057.6 292.0 L1058.1 303.4 L1058.6 314.1 L1059.1 323.9 L1059.6 333.0 L1060.1 342.0 L1060.6 350.7 L1061.1 358.6 L1061.6 365.5 L1062.1 370.9 L1062.6 374.6 L1063.1 377.6 L1063.6 380.1 L1064.1 382.0 L1064.6 383.2 L1065.1 384.2 L1065.6 385.0 L1066.1 385.7 L1066.6 386.3 L1067.1 386.6 L1067.6 386.8 L1068.1 386.9 L1068.6 387.0 L1069.1 387.1 L1069.6 387.2 L1070.1 387.3 L1070.6 387.3 L1071.1 387.4 L1071.6 387.4 L1072.1 387.5 L1072.6 387.5 L1073.1 387.6 L1073.6 387.6 L1074.1 387.6 L1074.6 387.6 L1075.1 387.6 L1075.6 387.6 L1076.1 387.6 L1076.6 387.6 L1077.1 387.6 L1077.6 387.6 L1078.1 387.6 L1078.6 387.6 L1079.1 387.6 L1079.6 387.6 L1080.1 387.6 L1080.6 387.6 L1081.1 387.6 L1081.6 387.6 L1082.1 387.6 L1082.6 387.6 L1083.1 387.6 L1083.6 387.6 L1084.1 387.6 L1084.6 387.6 L1085.1 387.6 L1085.6 387.6 L1086.1 387.6 L1086.6 387.6 L1087.1 387.6 L1087.6 387.6 L1088.1 387.6 L1088.6 387.6 L1089.1 387.6 L1089.6 387.6 L1090.1 387.6 L1090.6 387.6 L1091.1 387.6 L1091.6 387.6 L1092.1 387.6 L1092.6 387.6 L1093.1 387.6 L1093.6 387.6 L1094.1 387.6 L1094.6 387.6 L1095.1 387.6 L1095.6 387.6 L1096.1 387.6 L1096.6 387.6 L1097.1 387.6 L1097.6 387.6 L1098.1 387.6 L1098.6 387.6 L1099.1 387.6 L1099.6 387.6 L1100.1 387.6 L1100.6 387.6 L1101.1 387.6 L1101.6 387.6 L1102.1 387.6 L1102.6 387.6 L1103.1 387.6 L1103.6 387.6 L1104.1 387.6 L1104.6 387.6 L1105.1 387.6 L1105.6 387.6 L1106.1 387.6 L1106.6 387.6 L1107.1 387.6 L1107.6 387.6 L1108.1 387.6 L1108.6 387.6 L1109.1 387.6 L1109.6 387.6 L1110.1 387.6 L1110.6 387.6 L1111.1 387.6 L1111.6 387.6 L1112.1 387.6 L1112.6 387.6 L1113.1 387.6 L1113.6 387.6 L1114.1 387.6 L1114.6 387.6 L1115.1 387.6 L1115.6 387.6 L1116.1 387.6 L1116.6 387.6 L1117.1 387.6 L1117.6 387.6 L1118.1 387.6 L1118.6 387.6 L1119.1 387.6 L1119.6 387.6 L1120.1 387.6 L1120.6 387.6 L1121.1 387.6 L1121.6 387.6 L1122.1 387.6 L1122.6 387.6 L1123.1 387.6 L1123.6 387.6 L1124.1 387.6 L1124.6 387.6 L1125.1 387.6 L1125.6 387.6 L1126.1 387.6 L1126.6 387.6 L1127.1 387.6 L1127.6 387.6 L1128.1 387.6 L1128.6 387.6 L1129.1 387.6 L1129.6 387.6 L1130.1 387.6 L1130.6 387.6 L1131.1 387.6 L1131.6 387.6 L1132.1 387.6 L1132.6 387.6 L1133.1 387.6 L1133.6 387.6 L1134.1 387.6 L1134.6 387.6 L1135.1 387.6 L1135.6 387.6 L1136.1 387.6 L1136.6 387.6 L1137.1 387.6 L1137.6 387.6 L1138.1 387.6 L1138.6 387.6 L1139.1 387.6 L1139.6 387.6 L1140.1 387.6 L1140.6 387.6 L1141.1 387.6 L1141.6 387.6 L1142.1 387.6 L1142.6 387.6 L1143.1 387.6 L1143.6 387.6 L1144.1 387.6 L1144.6 387.6 L1145.1 387.6 L1145.6 387.6 L1146.1 387.6 L1146.6 387.6 L1147.1 387.6 L1147.6 387.6 L1148.1 387.6 L1148.6 387.6 L1149.1 387.6 L1149.6 387.6 L1150.1 387.6 L1150.6 387.6 L1151.1 387.6 L1151.6 387.6 L1152.1 387.6 L1152.6 387.6 L1153.1 387.6 L1153.6 387.6 L1154.1 387.6 L1154.6 387.6 L1155.1 387.6 L1155.6 387.6 L1156.1 387.6 L1156.6 387.6 L1157.1 387.6 L1157.6 387.6 L1158.1 387.6 L1158.6 387.6 L1159.1 387.6 L1159.6 387.6 L1160.1 387.6 L1160.6 387.6 L1161.1 387.6 L1161.6 387.6 L1162.1 387.6 L1162.6 387.6 L1163.1 387.6 L1163.6 387.6 L1164.1 387.6 L1164.6 387.6" fill="none" stroke="#e81f14" stroke-width="3.8" stroke-linecap="round" stroke-linejoin="round"/>
<path d="M716.6 81.3 L717.8 81.3 L719.1 81.3 L720.3 81.3 L721.6 81.3 L722.8 81.4 L724.1 81.4 L725.3 81.4 L726.6 81.4 L727.8 81.5 L729.1 81.5 L730.3 81.5 L731.6 81.5 L732.8 81.5 L734.1 81.6 L735.3 81.6 L736.6 81.6 L737.8 81.7 L739.1 81.7 L740.3 81.7 L741.6 81.7 L742.8 81.8 L744.1 81.8 L745.3 81.8 L746.6 81.9 L747.8 81.9 L749.1 81.9 L750.3 82.0 L751.6 82.0 L752.8 82.1 L754.1 82.1 L755.3 82.1 L756.6 82.2 L757.8 82.2 L759.1 82.3 L760.3 82.3 L761.6 82.3 L762.8 82.4 L764.1 82.4 L765.3 82.5 L766.6 82.5 L767.8 82.6 L769.1 82.6 L770.3 82.7 L771.6 82.7 L772.8 82.8 L774.1 82.8 L775.3 82.9 L776.6 83.0 L777.8 83.0 L779.1 83.1 L780.3 83.2 L781.6 83.2 L782.8 83.3 L784.1 83.4 L785.3 83.4 L786.6 83.5 L787.8 83.6 L789.1 83.6 L790.3 83.7 L791.6 83.8 L792.8 83.9 L794.1 84.0 L795.3 84.1 L796.6 84.1 L797.8 84.2 L799.1 84.3 L800.3 84.4 L801.6 84.5 L802.8 84.6 L804.1 84.7 L805.3 84.8 L806.6 84.9 L807.8 85.0 L809.1 85.1 L810.3 85.3 L811.6 85.4 L812.8 85.5 L814.1 85.6 L815.3 85.7 L816.6 85.9 L817.8 86.0 L819.1 86.1 L820.3 86.3 L821.6 86.4 L822.8 86.6 L824.1 86.7 L825.3 86.9 L826.6 87.0 L827.8 87.2 L829.1 87.4 L830.3 87.5 L831.6 87.7 L832.8 87.9 L834.1 88.1 L835.3 88.2 L836.6 88.4 L837.8 88.6 L839.1 88.8 L840.3 89.0 L841.6 89.2 L842.8 89.4 L844.1 89.7 L845.3 89.9 L846.6 90.1 L847.8 90.4 L849.1 90.6 L850.3 90.8 L851.6 91.1 L852.8 91.3 L854.1 91.6 L855.3 91.9 L856.6 92.2 L857.8 92.4 L859.1 92.7 L860.3 93.0 L861.6 93.3 L862.8 93.6 L864.1 94.0 L865.3 94.3 L866.6 94.6 L867.8 95.0 L869.1 95.3 L870.3 95.7 L871.6 96.0 L872.8 96.4 L874.1 96.8 L875.3 97.2 L876.6 97.6 L877.8 98.0 L879.1 98.4 L880.3 98.9 L881.6 99.3 L882.8 99.8 L884.1 100.2 L885.3 100.7 L886.6 101.2 L887.8 101.7 L889.1 102.2 L890.3 102.7 L891.6 103.2 L892.8 103.8 L894.1 104.3 L895.3 104.9 L896.6 105.5 L897.8 106.1 L899.1 106.7 L900.3 107.3 L901.6 107.9 L902.8 108.6 L904.1 109.2 L905.3 109.9 L906.6 110.6 L907.8 111.3 L909.1 112.0 L910.3 112.8 L911.6 113.5 L912.8 114.3 L914.1 115.1 L915.3 115.9 L916.6 116.7 L917.8 117.6 L919.1 118.4 L920.3 119.3 L921.6 120.2 L922.8 121.1 L924.1 122.0 L925.3 123.0 L926.6 124.0 L927.8 125.0 L929.1 126.0 L930.3 127.0 L931.6 128.1 L932.8 129.2 L934.1 130.3 L935.3 131.4 L936.6 132.5 L937.8 133.7 L939.1 134.9 L940.3 136.1 L941.6 137.4 L942.8 138.6 L944.1 139.9 L945.3 141.2 L946.6 142.6 L947.8 143.9 L949.1 145.3 L950.3 146.7 L951.6 148.2 L952.8 149.7 L954.1 151.2 L955.3 152.7 L956.6 154.2 L957.8 155.8 L959.1 157.4 L960.3 159.1 L961.6 160.7 L962.8 162.4 L964.1 164.1 L965.3 165.9 L966.6 167.7 L967.8 169.5 L969.1 171.3 L970.3 173.2 L971.6 175.1 L972.8 177.0 L974.1 179.0 L975.3 180.9 L976.6 182.9 L977.8 185.0 L979.1 187.1 L980.3 189.2 L981.6 191.3 L982.8 193.4 L984.1 195.6 L985.3 197.8 L986.6 200.1 L987.8 202.4 L989.1 204.6 L990.3 207.0 L991.6 209.3 L992.8 211.7 L994.1 214.1 L995.3 216.5 L996.6 219.0 L997.8 221.4 L999.1 223.9 L1000.3 226.4 L1001.6 229.0 L1002.8 231.5 L1004.1 234.1 L1005.3 236.7 L1006.6 239.3 L1007.8 242.0 L1009.1 244.6 L1010.3 247.3 L1011.6 249.9 L1012.8 252.6 L1014.1 255.3 L1015.3 258.0 L1016.6 260.7 L1017.8 263.4 L1019.1 266.1 L1020.3 268.9 L1021.6 271.6 L1022.8 274.3 L1024.1 277.0 L1025.3 279.8 L1026.6 282.5 L1027.8 285.2 L1029.1 287.9 L1030.3 290.6 L1031.6 293.2 L1032.8 295.9 L1034.1 298.5 L1035.3 301.2 L1036.6 303.8 L1037.8 306.4 L1039.1 308.9 L1040.3 311.5 L1041.6 314.0 L1042.8 316.4 L1044.1 318.9 L1045.3 321.3 L1046.6 323.7 L1047.8 326.0 L1049.1 328.3 L1050.3 330.6 L1051.6 332.8 L1052.8 335.0 L1054.1 337.1 L1055.3 339.2 L1056.6 341.3 L1057.8 343.3 L1059.1 345.2 L1060.3 347.1 L1061.6 348.9 L1062.8 350.7 L1064.1 352.4 L1065.3 354.1 L1066.6 355.7 L1067.8 357.3 L1069.1 358.8 L1070.3 360.3 L1071.6 361.7 L1072.8 363.0 L1074.1 364.3 L1075.3 365.5 L1076.6 366.7 L1077.8 367.8 L1079.1 368.9 L1080.3 369.9 L1081.6 370.9 L1082.8 371.8 L1084.1 372.6 L1085.3 373.4 L1086.6 374.2 L1087.8 374.9 L1089.1 375.6 L1090.3 376.2 L1091.6 376.8 L1092.8 377.3 L1094.1 377.8 L1095.3 378.3 L1096.6 378.7 L1097.8 379.1 L1099.1 379.5 L1100.3 379.8 L1101.6 380.1 L1102.8 380.4 L1104.1 380.7 L1105.3 380.9 L1106.6 381.1 L1107.8 381.3 L1109.1 381.4 L1110.3 381.6 L1111.6 381.7 L1112.8 381.8 L1114.1 382.0 L1115.3 382.0 L1116.6 382.1 L1117.8 382.2 L1119.1 382.3 L1120.3 382.3 L1121.6 382.4 L1122.8 382.4 L1124.1 382.4 L1125.3 382.5 L1126.6 382.5 L1127.8 382.5 L1129.1 382.5 L1130.3 382.5 L1131.6 382.5 L1132.8 382.6 L1134.1 382.6 L1135.3 382.6 L1136.6 382.6 L1137.8 382.6 L1139.1 382.6 L1140.3 382.6 L1141.6 382.6 L1142.8 382.6 L1144.1 382.6 L1145.3 382.6 L1146.6 382.6 L1147.8 382.6 L1149.1 382.6 L1150.3 382.6 L1151.6 382.6 L1152.8 382.6 L1154.1 382.6 L1155.3 382.6 L1156.6 382.6 L1157.8 382.6 L1159.1 382.6 L1160.3 382.6 L1161.6 382.6 L1162.8 382.6 L1164.6 382.6" fill="none" stroke="#0c0808" stroke-width="3.8" stroke-linecap="round" stroke-linejoin="round"/>
<path d="M716.6 76.4 L717.8 76.4 L719.1 76.4 L720.3 76.4 L721.6 76.4 L722.8 76.4 L724.1 76.4 L725.3 76.4 L726.6 76.4 L727.8 76.4 L729.1 76.4 L730.3 76.4 L731.6 76.4 L732.8 76.4 L734.1 76.4 L735.3 76.4 L736.6 76.4 L737.8 76.4 L739.1 76.4 L740.3 76.5 L741.6 76.5 L742.8 76.5 L744.1 76.5 L745.3 76.5 L746.6 76.5 L747.8 76.5 L749.1 76.5 L750.3 76.5 L751.6 76.5 L752.8 76.5 L754.1 76.5 L755.3 76.5 L756.6 76.5 L757.8 76.5 L759.1 76.5 L760.3 76.5 L761.6 76.5 L762.8 76.5 L764.1 76.5 L765.3 76.5 L766.6 76.6 L767.8 76.6 L769.1 76.6 L770.3 76.6 L771.6 76.6 L772.8 76.6 L774.1 76.6 L775.3 76.6 L776.6 76.6 L777.8 76.6 L779.1 76.6 L780.3 76.6 L781.6 76.6 L782.8 76.6 L784.1 76.7 L785.3 76.7 L786.6 76.7 L787.8 76.7 L789.1 76.7 L790.3 76.7 L791.6 76.7 L792.8 76.7 L794.1 76.7 L795.3 76.7 L796.6 76.8 L797.8 76.8 L799.1 76.8 L800.3 76.8 L801.6 76.8 L802.8 76.8 L804.1 76.8 L805.3 76.8 L806.6 76.9 L807.8 76.9 L809.1 76.9 L810.3 76.9 L811.6 76.9 L812.8 76.9 L814.1 76.9 L815.3 77.0 L816.6 77.0 L817.8 77.0 L819.1 77.0 L820.3 77.0 L821.6 77.0 L822.8 77.1 L824.1 77.1 L825.3 77.1 L826.6 77.1 L827.8 77.1 L829.1 77.2 L830.3 77.2 L831.6 77.2 L832.8 77.2 L834.1 77.3 L835.3 77.3 L836.6 77.3 L837.8 77.3 L839.1 77.4 L840.3 77.4 L841.6 77.4 L842.8 77.4 L844.1 77.5 L845.3 77.5 L846.6 77.5 L847.8 77.5 L849.1 77.6 L850.3 77.6 L851.6 77.6 L852.8 77.7 L854.1 77.7 L855.3 77.7 L856.6 77.8 L857.8 77.8 L859.1 77.9 L860.3 77.9 L861.6 77.9 L862.8 78.0 L864.1 78.0 L865.3 78.1 L866.6 78.1 L867.8 78.2 L869.1 78.2 L870.3 78.2 L871.6 78.3 L872.8 78.3 L874.1 78.4 L875.3 78.4 L876.6 78.5 L877.8 78.6 L879.1 78.6 L880.3 78.7 L881.6 78.7 L882.8 78.8 L884.1 78.8 L885.3 78.9 L886.6 79.0 L887.8 79.0 L889.1 79.1 L890.3 79.2 L891.6 79.2 L892.8 79.3 L894.1 79.4 L895.3 79.5 L896.6 79.6 L897.8 79.6 L899.1 79.7 L900.3 79.8 L901.6 79.9 L902.8 80.0 L904.1 80.1 L905.3 80.2 L906.6 80.3 L907.8 80.4 L909.1 80.5 L910.3 80.6 L911.6 80.7 L912.8 80.8 L914.1 80.9 L915.3 81.0 L916.6 81.1 L917.8 81.2 L919.1 81.4 L920.3 81.5 L921.6 81.6 L922.8 81.8 L924.1 81.9 L925.3 82.0 L926.6 82.2 L927.8 82.3 L929.1 82.5 L930.3 82.6 L931.6 82.8 L932.8 82.9 L934.1 83.1 L935.3 83.3 L936.6 83.4 L937.8 83.6 L939.1 83.8 L940.3 84.0 L941.6 84.2 L942.8 84.4 L944.1 84.6 L945.3 84.8 L946.6 85.0 L947.8 85.2 L949.1 85.4 L950.3 85.7 L951.6 85.9 L952.8 86.1 L954.1 86.4 L955.3 86.6 L956.6 86.9 L957.8 87.2 L959.1 87.4 L960.3 87.7 L961.6 88.0 L962.8 88.3 L964.1 88.6 L965.3 88.9 L966.6 89.2 L967.8 89.5 L969.1 89.9 L970.3 90.2 L971.6 90.5 L972.8 90.9 L974.1 91.3 L975.3 91.6 L976.6 92.0 L977.8 92.4 L979.1 92.8 L980.3 93.2 L981.6 93.7 L982.8 94.1 L984.1 94.5 L985.3 95.0 L986.6 95.5 L987.8 95.9 L989.1 96.4 L990.3 96.9 L991.6 97.5 L992.8 98.0 L994.1 98.5 L995.3 99.1 L996.6 99.7 L997.8 100.2 L999.1 100.8 L1000.3 101.5 L1001.6 102.1 L1002.8 102.7 L1004.1 103.4 L1005.3 104.1 L1006.6 104.8 L1007.8 105.5 L1009.1 106.2 L1010.3 107.0 L1011.6 107.7 L1012.8 108.5 L1014.1 109.3 L1015.3 110.2 L1016.6 111.0 L1017.8 111.9 L1019.1 112.8 L1020.3 113.7 L1021.6 114.6 L1022.8 115.6 L1024.1 116.6 L1025.3 117.6 L1026.6 118.6 L1027.8 119.7 L1029.1 120.8 L1030.3 121.9 L1031.6 123.0 L1032.8 124.2 L1034.1 125.4 L1035.3 126.6 L1036.6 127.9 L1037.8 129.2 L1039.1 130.5 L1040.3 131.8 L1041.6 133.2 L1042.8 134.6 L1044.1 136.1 L1045.3 137.6 L1046.6 139.1 L1047.8 140.7 L1049.1 142.3 L1050.3 143.9 L1051.6 145.6 L1052.8 147.3 L1054.1 149.1 L1055.3 150.9 L1056.6 152.7 L1057.8 154.6 L1059.1 156.5 L1060.3 158.5 L1061.6 160.5 L1062.8 162.6 L1064.1 164.7 L1065.3 166.9 L1066.6 169.1 L1067.8 171.3 L1069.1 173.6 L1070.3 176.0 L1071.6 178.4 L1072.8 180.9 L1074.1 183.4 L1075.3 185.9 L1076.6 188.6 L1077.8 191.2 L1079.1 194.0 L1080.3 196.7 L1081.6 199.6 L1082.8 202.4 L1084.1 205.4 L1085.3 208.4 L1086.6 211.4 L1087.8 214.5 L1089.1 217.6 L1090.3 220.8 L1091.6 224.1 L1092.8 227.4 L1094.1 230.7 L1095.3 234.1 L1096.6 237.6 L1097.8 241.0 L1099.1 244.6 L1100.3 248.1 L1101.6 251.7 L1102.8 255.4 L1104.1 259.0 L1105.3 262.7 L1106.6 266.5 L1107.8 270.2 L1109.1 274.0 L1110.3 277.8 L1111.6 281.6 L1112.8 285.4 L1114.1 289.3 L1115.3 293.1 L1116.6 296.9 L1117.8 300.7 L1119.1 304.5 L1120.3 308.3 L1121.6 312.1 L1122.8 315.9 L1124.1 319.6 L1125.3 323.2 L1126.6 326.9 L1127.8 330.5 L1129.1 334.0 L1130.3 337.5 L1131.6 340.9 L1132.8 344.2 L1134.1 347.5 L1135.3 350.7 L1136.6 353.8 L1137.8 356.9 L1139.1 359.8 L1140.3 362.7 L1141.6 365.5 L1142.8 368.1 L1144.1 370.7 L1145.3 373.2 L1146.6 375.5 L1147.8 377.8 L1149.1 380.0 L1150.3 382.0 L1151.6 384.0 L1152.8 385.9 L1154.1 387.6 L1155.3 389.3 L1156.6 390.8 L1157.8 392.3 L1159.1 393.6 L1160.3 394.9 L1161.6 396.1 L1162.8 397.2 L1164.6 398.6" fill="none" stroke="#56b532" stroke-width="3.8" stroke-linecap="round" stroke-linejoin="round"/>
<path d="M716.6 40.9 L717.8 40.9 L719.1 41.0 L720.3 41.0 L721.6 41.0 L722.8 41.0 L724.1 41.0 L725.3 41.0 L726.6 41.0 L727.8 41.1 L729.1 41.1 L730.3 41.1 L731.6 41.1 L732.8 41.1 L734.1 41.1 L735.3 41.2 L736.6 41.2 L737.8 41.2 L739.1 41.2 L740.3 41.2 L741.6 41.2 L742.8 41.3 L744.1 41.3 L745.3 41.3 L746.6 41.3 L747.8 41.3 L749.1 41.4 L750.3 41.4 L751.6 41.4 L752.8 41.4 L754.1 41.5 L755.3 41.5 L756.6 41.5 L757.8 41.5 L759.1 41.6 L760.3 41.6 L761.6 41.6 L762.8 41.6 L764.1 41.7 L765.3 41.7 L766.6 41.7 L767.8 41.8 L769.1 41.8 L770.3 41.8 L771.6 41.9 L772.8 41.9 L774.1 41.9 L775.3 42.0 L776.6 42.0 L777.8 42.1 L779.1 42.1 L780.3 42.1 L781.6 42.2 L782.8 42.2 L784.1 42.3 L785.3 42.3 L786.6 42.4 L787.8 42.4 L789.1 42.4 L790.3 42.5 L791.6 42.5 L792.8 42.6 L794.1 42.7 L795.3 42.7 L796.6 42.8 L797.8 42.8 L799.1 42.9 L800.3 42.9 L801.6 43.0 L802.8 43.1 L804.1 43.1 L805.3 43.2 L806.6 43.3 L807.8 43.3 L809.1 43.4 L810.3 43.5 L811.6 43.5 L812.8 43.6 L814.1 43.7 L815.3 43.8 L816.6 43.9 L817.8 44.0 L819.1 44.0 L820.3 44.1 L821.6 44.2 L822.8 44.3 L824.1 44.4 L825.3 44.5 L826.6 44.6 L827.8 44.7 L829.1 44.8 L830.3 44.9 L831.6 45.0 L832.8 45.1 L834.1 45.3 L835.3 45.4 L836.6 45.5 L837.8 45.6 L839.1 45.8 L840.3 45.9 L841.6 46.0 L842.8 46.2 L844.1 46.3 L845.3 46.4 L846.6 46.6 L847.8 46.7 L849.1 46.9 L850.3 47.1 L851.6 47.2 L852.8 47.4 L854.1 47.6 L855.3 47.7 L856.6 47.9 L857.8 48.1 L859.1 48.3 L860.3 48.5 L861.6 48.7 L862.8 48.9 L864.1 49.1 L865.3 49.3 L866.6 49.5 L867.8 49.7 L869.1 50.0 L870.3 50.2 L871.6 50.4 L872.8 50.7 L874.1 50.9 L875.3 51.2 L876.6 51.5 L877.8 51.7 L879.1 52.0 L880.3 52.3 L881.6 52.6 L882.8 52.9 L884.1 53.2 L885.3 53.5 L886.6 53.8 L887.8 54.2 L889.1 54.5 L890.3 54.8 L891.6 55.2 L892.8 55.6 L894.1 55.9 L895.3 56.3 L896.6 56.7 L897.8 57.1 L899.1 57.5 L900.3 57.9 L901.6 58.4 L902.8 58.8 L904.1 59.2 L905.3 59.7 L906.6 60.2 L907.8 60.7 L909.1 61.2 L910.3 61.7 L911.6 62.2 L912.8 62.7 L914.1 63.3 L915.3 63.8 L916.6 64.4 L917.8 65.0 L919.1 65.6 L920.3 66.2 L921.6 66.8 L922.8 67.4 L924.1 68.1 L925.3 68.8 L926.6 69.5 L927.8 70.2 L929.1 70.9 L930.3 71.6 L931.6 72.4 L932.8 73.2 L934.1 73.9 L935.3 74.8 L936.6 75.6 L937.8 76.4 L939.1 77.3 L940.3 78.2 L941.6 79.1 L942.8 80.0 L944.1 81.0 L945.3 82.0 L946.6 83.0 L947.8 84.0 L949.1 85.0 L950.3 86.1 L951.6 87.2 L952.8 88.3 L954.1 89.5 L955.3 90.6 L956.6 91.8 L957.8 93.0 L959.1 94.3 L960.3 95.6 L961.6 96.9 L962.8 98.2 L964.1 99.6 L965.3 101.0 L966.6 102.4 L967.8 103.9 L969.1 105.3 L970.3 106.9 L971.6 108.4 L972.8 110.0 L974.1 111.6 L975.3 113.3 L976.6 115.0 L977.8 116.7 L979.1 118.5 L980.3 120.3 L981.6 122.1 L982.8 124.0 L984.1 125.9 L985.3 127.9 L986.6 129.8 L987.8 131.9 L989.1 134.0 L990.3 136.1 L991.6 138.2 L992.8 140.4 L994.1 142.6 L995.3 144.9 L996.6 147.2 L997.8 149.6 L999.1 152.0 L1000.3 154.5 L1001.6 156.9 L1002.8 159.5 L1004.1 162.1 L1005.3 164.7 L1006.6 167.3 L1007.8 170.0 L1009.1 172.8 L1010.3 175.6 L1011.6 178.4 L1012.8 181.3 L1014.1 184.2 L1015.3 187.2 L1016.6 190.2 L1017.8 193.2 L1019.1 196.3 L1020.3 199.4 L1021.6 202.6 L1022.8 205.8 L1024.1 209.0 L1025.3 212.3 L1026.6 215.6 L1027.8 218.9 L1029.1 222.3 L1030.3 225.7 L1031.6 229.1 L1032.8 232.5 L1034.1 236.0 L1035.3 239.5 L1036.6 243.0 L1037.8 246.5 L1039.1 250.1 L1040.3 253.6 L1041.6 257.2 L1042.8 260.8 L1044.1 264.3 L1045.3 267.9 L1046.6 271.5 L1047.8 275.0 L1049.1 278.6 L1050.3 282.1 L1051.6 285.6 L1052.8 289.1 L1054.1 292.6 L1055.3 296.1 L1056.6 299.5 L1057.8 302.9 L1059.1 306.2 L1060.3 309.6 L1061.6 312.8 L1062.8 316.0 L1064.1 319.2 L1065.3 322.3 L1066.6 325.4 L1067.8 328.4 L1069.1 331.3 L1070.3 334.2 L1071.6 337.0 L1072.8 339.7 L1074.1 342.4 L1075.3 344.9 L1076.6 347.4 L1077.8 349.8 L1079.1 352.2 L1080.3 354.4 L1081.6 356.6 L1082.8 358.7 L1084.1 360.7 L1085.3 362.6 L1086.6 364.4 L1087.8 366.1 L1089.1 367.8 L1090.3 369.3 L1091.6 370.8 L1092.8 372.2 L1094.1 373.6 L1095.3 374.8 L1096.6 376.0 L1097.8 377.1 L1099.1 378.1 L1100.3 379.0 L1101.6 379.9 L1102.8 380.7 L1104.1 381.5 L1105.3 382.2 L1106.6 382.8 L1107.8 383.4 L1109.1 384.0 L1110.3 384.4 L1111.6 384.9 L1112.8 385.3 L1114.1 385.7 L1115.3 386.0 L1116.6 386.3 L1117.8 386.5 L1119.1 386.8 L1120.3 387.0 L1121.6 387.2 L1122.8 387.3 L1124.1 387.5 L1125.3 387.6 L1126.6 387.7 L1127.8 387.8 L1129.1 387.9 L1130.3 387.9 L1131.6 388.0 L1132.8 388.1 L1134.1 388.1 L1135.3 388.1 L1136.6 388.2 L1137.8 388.2 L1139.1 388.2 L1140.3 388.2 L1141.6 388.2 L1142.8 388.3 L1144.1 388.3 L1145.3 388.3 L1146.6 388.3 L1147.8 388.3 L1149.1 388.3 L1150.3 388.3 L1151.6 388.3 L1152.8 388.3 L1154.1 388.3 L1155.3 388.3 L1156.6 388.3 L1157.8 388.3 L1159.1 388.3 L1160.3 388.3 L1161.6 388.3 L1162.8 388.3 L1164.6 388.3" fill="none" stroke="#3a50a3" stroke-width="3.8" stroke-linecap="round" stroke-linejoin="round"/>
<path d="M716.6 101.1 L717.8 102.2 L719.1 103.2 L720.3 104.2 L721.6 105.3 L722.8 106.4 L724.1 107.5 L725.3 108.7 L726.6 109.9 L727.8 111.1 L729.1 112.3 L730.3 113.5 L731.6 114.8 L732.8 116.1 L734.1 117.5 L735.3 118.8 L736.6 120.2 L737.8 121.6 L739.1 123.1 L740.3 124.6 L741.6 126.1 L742.8 127.6 L744.1 129.2 L745.3 130.8 L746.6 132.4 L747.8 134.1 L749.1 135.8 L750.3 137.5 L751.6 139.3 L752.8 141.1 L754.1 143.0 L755.3 144.8 L756.6 146.7 L757.8 148.7 L759.1 150.7 L760.3 152.7 L761.6 154.7 L762.8 156.8 L764.1 159.0 L765.3 161.1 L766.6 163.4 L767.8 165.6 L769.1 167.9 L770.3 170.2 L771.6 172.6 L772.8 175.0 L774.1 177.4 L775.3 179.9 L776.6 182.4 L777.8 184.9 L779.1 187.5 L780.3 190.2 L781.6 192.8 L782.8 195.5 L784.1 198.3 L785.3 201.0 L786.6 203.9 L787.8 206.7 L789.1 209.6 L790.3 212.5 L791.6 215.5 L792.8 218.4 L794.1 221.5 L795.3 224.5 L796.6 227.6 L797.8 230.7 L799.1 233.8 L800.3 237.0 L801.6 240.1 L802.8 243.3 L804.1 246.6 L805.3 249.8 L806.6 253.1 L807.8 256.4 L809.1 259.6 L810.3 263.0 L811.6 266.3 L812.8 269.6 L814.1 272.9 L815.3 276.3 L816.6 279.6 L817.8 282.9 L819.1 286.2 L820.3 289.6 L821.6 292.9 L822.8 296.2 L824.1 299.5 L825.3 302.7 L826.6 306.0 L827.8 309.2 L829.1 312.4 L830.3 315.5 L831.6 318.7 L832.8 321.8 L834.1 324.8 L835.3 327.8 L836.6 330.8 L837.8 333.7 L839.1 336.6 L840.3 339.4 L841.6 342.2 L842.8 344.9 L844.1 347.6 L845.3 350.2 L846.6 352.7 L847.8 355.2 L849.1 357.5 L850.3 359.9 L851.6 362.1 L852.8 364.3 L854.1 366.4 L855.3 368.4 L856.6 370.4 L857.8 372.3 L859.1 374.1 L860.3 375.8 L861.6 377.5 L862.8 379.1 L864.1 380.6 L865.3 382.0 L866.6 383.4 L867.8 384.7 L869.1 385.9 L870.3 387.0 L871.6 388.1 L872.8 389.1 L874.1 390.1 L875.3 390.9 L876.6 391.8 L877.8 392.5 L879.1 393.3 L880.3 393.9 L881.6 394.5 L882.8 395.1 L884.1 395.6 L885.3 396.1 L886.6 396.5 L887.8 396.9 L889.1 397.2 L890.3 397.5 L891.6 397.8 L892.8 398.1 L894.1 398.3 L895.3 398.5 L896.6 398.7 L897.8 398.9 L899.1 399.0 L900.3 399.1 L901.6 399.3 L902.8 399.4 L904.1 399.4 L905.3 399.5 L906.6 399.6 L907.8 399.6 L909.1 399.7 L910.3 399.7 L911.6 399.7 L912.8 399.8 L914.1 399.8 L915.3 399.8 L916.6 399.8 L917.8 399.8 L919.1 399.9 L920.3 399.9 L921.6 399.9 L922.8 399.9 L924.1 399.9 L925.3 399.9 L926.6 399.9 L927.8 399.9 L929.1 399.9 L930.3 399.9 L931.6 399.9 L932.8 399.9 L934.1 399.9 L935.3 399.9 L936.6 399.9 L937.8 399.9 L939.1 399.9 L940.3 399.9 L941.6 399.9 L942.8 399.9 L944.1 399.9 L945.3 399.9 L946.6 399.9 L947.8 399.9 L949.1 399.9 L950.3 399.9 L951.6 399.9 L952.8 399.9 L954.1 399.9 L955.3 399.9 L956.6 399.9 L957.8 399.9 L959.1 399.9 L960.3 399.9 L961.6 399.9 L962.8 399.9 L964.1 399.9 L965.3 399.9 L966.6 399.9 L967.8 399.9 L969.1 399.9 L970.3 399.9 L971.6 399.9 L972.8 399.9 L974.1 399.9 L975.3 399.9 L976.6 399.9 L977.8 399.9 L979.1 399.9 L980.3 399.9 L981.6 399.9 L982.8 399.9 L984.1 399.9 L985.3 399.9 L986.6 399.9 L987.8 399.9 L989.1 399.9 L990.3 399.9 L991.6 399.9 L992.8 399.9 L994.1 399.9 L995.3 399.9 L996.6 399.9 L997.8 399.9 L999.1 399.9 L1000.3 399.9 L1001.6 399.9 L1002.8 399.9 L1004.1 399.9 L1005.3 399.9 L1006.6 399.9 L1007.8 399.9 L1009.1 399.9 L1010.3 399.9 L1011.6 399.9 L1012.8 399.9 L1014.1 399.9 L1015.3 399.9 L1016.6 399.9 L1017.8 399.9 L1019.1 399.9 L1020.3 399.9 L1021.6 399.9 L1022.8 399.9 L1024.1 399.9 L1025.3 399.9 L1026.6 399.9 L1027.8 399.9 L1029.1 399.9 L1030.3 399.9 L1031.6 399.9 L1032.8 399.9 L1034.1 399.9 L1035.3 399.9 L1036.6 399.9 L1037.8 399.9 L1039.1 399.9 L1040.3 399.9 L1041.6 399.9 L1042.8 399.9 L1044.1 399.9 L1045.3 399.9 L1046.6 399.9 L1047.8 399.9 L1049.1 399.9 L1050.3 399.9 L1051.6 399.9 L1052.8 399.9 L1054.1 399.9 L1055.3 399.9 L1056.6 399.9 L1057.8 399.9 L1059.1 399.9 L1060.3 399.9 L1061.6 399.9 L1062.8 399.9 L1064.1 399.9 L1065.3 399.9 L1066.6 399.9 L1067.8 399.9 L1069.1 399.9 L1070.3 399.9 L1071.6 399.9 L1072.8 399.9 L1074.1 399.9 L1075.3 399.9 L1076.6 399.9 L1077.8 399.9 L1079.1 399.9 L1080.3 399.9 L1081.6 399.9 L1082.8 399.9 L1084.1 399.9 L1085.3 399.9 L1086.6 399.9 L1087.8 399.9 L1089.1 399.9 L1090.3 399.9 L1091.6 399.9 L1092.8 399.9 L1094.1 399.9 L1095.3 399.9 L1096.6 399.9 L1097.8 399.9 L1099.1 399.9 L1100.3 399.9 L1101.6 399.9 L1102.8 399.9 L1104.1 399.9 L1105.3 399.9 L1106.6 399.9 L1107.8 399.9 L1109.1 399.9 L1110.3 399.9 L1111.6 399.9 L1112.8 399.9 L1114.1 399.9 L1115.3 399.9 L1116.6 399.9 L1117.8 399.9 L1119.1 399.9 L1120.3 399.9 L1121.6 399.9 L1122.8 399.9 L1124.1 399.9 L1125.3 399.9 L1126.6 399.9 L1127.8 399.9 L1129.1 399.9 L1130.3 399.9 L1131.6 399.9 L1132.8 399.9 L1134.1 399.9 L1135.3 399.9 L1136.6 399.9 L1137.8 399.9 L1139.1 399.9 L1140.3 399.9 L1141.6 399.9 L1142.8 399.9 L1144.1 399.9 L1145.3 399.9 L1146.6 399.9 L1147.8 399.9 L1149.1 399.9 L1150.3 399.9 L1151.6 399.9 L1152.8 399.9 L1154.1 399.9 L1155.3 399.9 L1156.6 399.9 L1157.8 399.9 L1159.1 399.9 L1160.3 399.9 L1161.6 399.9 L1162.8 399.9 L1164.6 399.9" fill="none" stroke="#0c0808" stroke-width="3.8" stroke-linecap="round" stroke-linejoin="round"/>
<path d="M716.6 70.6 V77.1" stroke="#0c0808" stroke-width="3.7" fill="none"/><path d="M716.6 90.1 V96.6" stroke="#0c0808" stroke-width="3.7" fill="none"/><rect x="707.6" y="68.2" width="18.0" height="4.8" rx="1.2" fill="#0c0808"/><rect x="707.6" y="94.2" width="18.0" height="4.8" rx="1.2" fill="#0c0808"/>
<path d="M828.6 61.3 V63.3" stroke="#0c0808" stroke-width="3.7" fill="none"/><path d="M828.6 76.3 V78.3" stroke="#0c0808" stroke-width="3.7" fill="none"/><rect x="819.6" y="58.9" width="18.0" height="4.8" rx="1.2" fill="#0c0808"/><rect x="819.6" y="75.9" width="18.0" height="4.8" rx="1.2" fill="#0c0808"/>
<circle cx="716.6" cy="83.6" r="6.7" fill="none" stroke="#0c0808" stroke-width="3.5"/>
<circle cx="772.6" cy="81.5" r="6.7" fill="none" stroke="#0c0808" stroke-width="3.5"/>
<circle cx="828.6" cy="69.8" r="6.7" fill="none" stroke="#0c0808" stroke-width="3.5"/>
<circle cx="884.6" cy="81.5" r="6.7" fill="none" stroke="#0c0808" stroke-width="3.5"/>
<circle cx="940.6" cy="87.8" r="6.7" fill="none" stroke="#0c0808" stroke-width="3.5"/>
<circle cx="996.6" cy="123.8" r="6.7" fill="none" stroke="#0c0808" stroke-width="3.5"/>
<circle cx="1052.6" cy="303.6" r="6.7" fill="none" stroke="#0c0808" stroke-width="3.5"/>
<circle cx="1108.6" cy="386.1" r="6.7" fill="none" stroke="#0c0808" stroke-width="3.5"/>
<circle cx="1164.6" cy="401.0" r="6.7" fill="none" stroke="#0c0808" stroke-width="3.5"/>
<path d="M716.6 44.0 V72.0" stroke="#e81f14" stroke-width="3.7" fill="none"/><rect x="707.6" y="41.6" width="18.0" height="4.8" rx="1.2" fill="#e81f14"/><rect x="707.6" y="69.6" width="18.0" height="4.8" rx="1.2" fill="#e81f14"/>
<path d="M772.6 40.1 V74.1" stroke="#e81f14" stroke-width="3.7" fill="none"/><rect x="763.6" y="37.7" width="18.0" height="4.8" rx="1.2" fill="#e81f14"/><rect x="763.6" y="71.7" width="18.0" height="4.8" rx="1.2" fill="#e81f14"/>
<path d="M828.6 29.5 V61.5" stroke="#e81f14" stroke-width="3.7" fill="none"/><rect x="819.6" y="27.1" width="18.0" height="4.8" rx="1.2" fill="#e81f14"/><rect x="819.6" y="59.1" width="18.0" height="4.8" rx="1.2" fill="#e81f14"/>
<path d="M884.6 35.9 V69.9" stroke="#e81f14" stroke-width="3.7" fill="none"/><rect x="875.6" y="33.5" width="18.0" height="4.8" rx="1.2" fill="#e81f14"/><rect x="875.6" y="67.5" width="18.0" height="4.8" rx="1.2" fill="#e81f14"/>
<path d="M940.6 38.2 V71.0" stroke="#e81f14" stroke-width="3.7" fill="none"/><rect x="931.6" y="35.8" width="18.0" height="4.8" rx="1.2" fill="#e81f14"/><rect x="931.6" y="68.6" width="18.0" height="4.8" rx="1.2" fill="#e81f14"/>
<path d="M996.6 21.8 V49.8" stroke="#e81f14" stroke-width="3.7" fill="none"/><rect x="987.6" y="19.4" width="18.0" height="4.8" rx="1.2" fill="#e81f14"/><rect x="987.6" y="47.4" width="18.0" height="4.8" rx="1.2" fill="#e81f14"/>
<rect x="709.2" y="50.7" width="14.7" height="14.6" fill="#e81f14"/>
<rect x="765.2" y="49.8" width="14.7" height="14.6" fill="#e81f14"/>
<rect x="821.2" y="38.2" width="14.7" height="14.6" fill="#e81f14"/>
<rect x="877.2" y="45.6" width="14.7" height="14.6" fill="#e81f14"/>
<rect x="933.2" y="47.3" width="14.7" height="14.6" fill="#e81f14"/>
<rect x="989.2" y="28.5" width="14.7" height="14.6" fill="#e81f14"/>
<rect x="1045.2" y="138.7" width="14.7" height="14.6" fill="#e81f14"/>
<rect x="1101.2" y="374.6" width="14.7" height="14.6" fill="#e81f14"/>
<rect x="1157.2" y="387.7" width="14.7" height="14.6" fill="#e81f14"/>
<path d="M772.6 71.0 V75.5" stroke="#0c0808" stroke-width="3.7" fill="none"/><path d="M772.6 88.5 V93.0" stroke="#0c0808" stroke-width="3.7" fill="none"/><rect x="763.6" y="68.6" width="18.0" height="4.8" rx="1.2" fill="#0c0808"/><rect x="763.6" y="90.6" width="18.0" height="4.8" rx="1.2" fill="#0c0808"/>
<path d="M828.6 68.0 V73.5" stroke="#0c0808" stroke-width="3.7" fill="none"/><path d="M828.6 86.5 V92.0" stroke="#0c0808" stroke-width="3.7" fill="none"/><rect x="819.6" y="65.6" width="18.0" height="4.8" rx="1.2" fill="#0c0808"/><rect x="819.6" y="89.6" width="18.0" height="4.8" rx="1.2" fill="#0c0808"/>
<rect x="875.6" y="89.0" width="18.0" height="4.8" rx="1.2" fill="#0c0808"/><rect x="875.6" y="101.0" width="18.0" height="4.8" rx="1.2" fill="#0c0808"/>
<path d="M716.6 78.4 L723.2 91.4 L710.0 91.4 Z" fill="none" stroke="#0c0808" stroke-width="3.4" stroke-linejoin="round"/>
<path d="M772.6 75.4 L779.2 88.4 L766.0 88.4 Z" fill="none" stroke="#0c0808" stroke-width="3.4" stroke-linejoin="round"/>
<path d="M828.6 73.4 L835.2 86.4 L822.0 86.4 Z" fill="none" stroke="#0c0808" stroke-width="3.4" stroke-linejoin="round"/>
<path d="M884.6 90.8 L891.2 103.8 L878.0 103.8 Z" fill="none" stroke="#0c0808" stroke-width="3.4" stroke-linejoin="round"/>
<path d="M940.6 122.5 L947.2 135.5 L934.0 135.5 Z" fill="none" stroke="#0c0808" stroke-width="3.4" stroke-linejoin="round"/>
<path d="M996.6 224.1 L1003.2 237.1 L990.0 237.1 Z" fill="none" stroke="#0c0808" stroke-width="3.4" stroke-linejoin="round"/>
<path d="M1052.6 328.8 L1059.2 341.8 L1046.0 341.8 Z" fill="none" stroke="#0c0808" stroke-width="3.4" stroke-linejoin="round"/>
<path d="M1108.6 373.4 L1115.2 386.4 L1102.0 386.4 Z" fill="none" stroke="#0c0808" stroke-width="3.4" stroke-linejoin="round"/>
<path d="M1164.6 379.4 L1171.2 392.4 L1158.0 392.4 Z" fill="none" stroke="#0c0808" stroke-width="3.4" stroke-linejoin="round"/>
<path d="M716.6 56.1 V102.7" stroke="#56b532" stroke-width="3.7" fill="none"/><rect x="707.6" y="53.7" width="18.0" height="4.8" rx="1.2" fill="#56b532"/><rect x="707.6" y="100.3" width="18.0" height="4.8" rx="1.2" fill="#56b532"/>
<path d="M772.6 66.3 V85.7" stroke="#56b532" stroke-width="3.7" fill="none"/><rect x="763.6" y="63.9" width="18.0" height="4.8" rx="1.2" fill="#56b532"/><rect x="763.6" y="83.3" width="18.0" height="4.8" rx="1.2" fill="#56b532"/>
<path d="M828.6 38.0 V76.0" stroke="#56b532" stroke-width="3.7" fill="none"/><rect x="819.6" y="35.6" width="18.0" height="4.8" rx="1.2" fill="#56b532"/><rect x="819.6" y="73.6" width="18.0" height="4.8" rx="1.2" fill="#56b532"/>
<path d="M996.6 96.2 V123.8" stroke="#56b532" stroke-width="3.7" fill="none"/><rect x="987.6" y="93.8" width="18.0" height="4.8" rx="1.2" fill="#56b532"/><rect x="987.6" y="121.4" width="18.0" height="4.8" rx="1.2" fill="#56b532"/>
<path d="M1052.6 122.4 V155.6" stroke="#56b532" stroke-width="3.7" fill="none"/><rect x="1043.6" y="120.0" width="18.0" height="4.8" rx="1.2" fill="#56b532"/><rect x="1043.6" y="153.2" width="18.0" height="4.8" rx="1.2" fill="#56b532"/>
<path d="M1108.6 259.8 V296.2" stroke="#56b532" stroke-width="3.7" fill="none"/><rect x="1099.6" y="257.4" width="18.0" height="4.8" rx="1.2" fill="#56b532"/><rect x="1099.6" y="293.8" width="18.0" height="4.8" rx="1.2" fill="#56b532"/>
<path d="M1164.6 390.0 V410.0" stroke="#56b532" stroke-width="3.7" fill="none"/><rect x="1155.6" y="387.6" width="18.0" height="4.8" rx="1.2" fill="#56b532"/><rect x="1155.6" y="407.6" width="18.0" height="4.8" rx="1.2" fill="#56b532"/>
<path d="M716.6 86.3 L723.4 72.5 L709.8 72.5 Z" fill="#56b532"/>
<path d="M772.6 82.9 L779.4 69.1 L765.8 69.1 Z" fill="#56b532"/>
<path d="M828.6 68.9 L835.4 55.1 L821.8 55.1 Z" fill="#56b532"/>
<path d="M884.6 83.1 L891.4 69.3 L877.8 69.3 Z" fill="#56b532"/>
<path d="M940.6 95.8 L947.4 82.0 L933.8 82.0 Z" fill="#56b532"/>
<path d="M996.6 116.9 L1003.4 103.1 L989.8 103.1 Z" fill="#56b532"/>
<path d="M1052.6 145.9 L1059.4 132.1 L1045.8 132.1 Z" fill="#56b532"/>
<path d="M1108.6 284.9 L1115.4 271.1 L1101.8 271.1 Z" fill="#56b532"/>
<path d="M1164.6 406.9 L1171.4 393.1 L1157.8 393.1 Z" fill="#56b532"/>
<path d="M716.6 33.5 V89.5" stroke="#3a50a3" stroke-width="3.7" fill="none"/><rect x="707.6" y="31.1" width="18.0" height="4.8" rx="1.2" fill="#3a50a3"/><rect x="707.6" y="87.1" width="18.0" height="4.8" rx="1.2" fill="#3a50a3"/>
<path d="M772.6 34.5 V56.5" stroke="#3a50a3" stroke-width="3.7" fill="none"/><rect x="763.6" y="32.1" width="18.0" height="4.8" rx="1.2" fill="#3a50a3"/><rect x="763.6" y="54.1" width="18.0" height="4.8" rx="1.2" fill="#3a50a3"/>
<path d="M828.6 9.5 V57.5" stroke="#3a50a3" stroke-width="3.7" fill="none"/><rect x="819.6" y="7.1" width="18.0" height="4.8" rx="1.2" fill="#3a50a3"/><rect x="819.6" y="55.1" width="18.0" height="4.8" rx="1.2" fill="#3a50a3"/>
<path d="M884.6 29.3 V68.7" stroke="#3a50a3" stroke-width="3.7" fill="none"/><rect x="875.6" y="26.9" width="18.0" height="4.8" rx="1.2" fill="#3a50a3"/><rect x="875.6" y="66.3" width="18.0" height="4.8" rx="1.2" fill="#3a50a3"/>
<path d="M940.6 43.6 V114.4" stroke="#3a50a3" stroke-width="3.7" fill="none"/><rect x="931.6" y="41.2" width="18.0" height="4.8" rx="1.2" fill="#3a50a3"/><rect x="931.6" y="112.0" width="18.0" height="4.8" rx="1.2" fill="#3a50a3"/>
<path d="M996.6 129.2 V174.8" stroke="#3a50a3" stroke-width="3.7" fill="none"/><rect x="987.6" y="126.8" width="18.0" height="4.8" rx="1.2" fill="#3a50a3"/><rect x="987.6" y="172.4" width="18.0" height="4.8" rx="1.2" fill="#3a50a3"/>
<path d="M1052.6 283.2 V298.6" stroke="#3a50a3" stroke-width="3.7" fill="none"/><rect x="1043.6" y="280.8" width="18.0" height="4.8" rx="1.2" fill="#3a50a3"/><rect x="1043.6" y="296.2" width="18.0" height="4.8" rx="1.2" fill="#3a50a3"/>
<path d="M716.6 54.6 L723.4 68.4 L709.8 68.4 Z" fill="#3a50a3"/>
<path d="M772.6 38.6 L779.4 52.4 L765.8 52.4 Z" fill="#3a50a3"/>
<path d="M828.6 26.6 L835.4 40.4 L821.8 40.4 Z" fill="#3a50a3"/>
<path d="M884.6 42.1 L891.4 55.9 L877.8 55.9 Z" fill="#3a50a3"/>
<path d="M940.6 72.1 L947.4 85.9 L933.8 85.9 Z" fill="#3a50a3"/>
<path d="M996.6 145.1 L1003.4 158.9 L989.8 158.9 Z" fill="#3a50a3"/>
<path d="M1052.6 284.0 L1059.4 297.8 L1045.8 297.8 Z" fill="#3a50a3"/>
<path d="M1108.6 371.8 L1115.4 385.6 L1101.8 385.6 Z" fill="#3a50a3"/>
<path d="M1164.6 389.8 L1171.4 403.6 L1157.8 403.6 Z" fill="#3a50a3"/>
<path d="M716.6 97.3 V124.9" stroke="#0c0808" stroke-width="3.7" fill="none"/><rect x="707.6" y="94.9" width="18.0" height="4.8" rx="1.2" fill="#0c0808"/><rect x="707.6" y="122.5" width="18.0" height="4.8" rx="1.2" fill="#0c0808"/>
<path d="M772.6 144.4 V163.4" stroke="#0c0808" stroke-width="3.7" fill="none"/><rect x="763.6" y="142.0" width="18.0" height="4.8" rx="1.2" fill="#0c0808"/><rect x="763.6" y="161.0" width="18.0" height="4.8" rx="1.2" fill="#0c0808"/>
<path d="M828.6 323.1 V339.1" stroke="#0c0808" stroke-width="3.7" fill="none"/><rect x="819.6" y="320.7" width="18.0" height="4.8" rx="1.2" fill="#0c0808"/><rect x="819.6" y="336.7" width="18.0" height="4.8" rx="1.2" fill="#0c0808"/>
<path d="M1108.6 409.1 V429.7" stroke="#0c0808" stroke-width="3.7" fill="none"/><rect x="1099.6" y="406.7" width="18.0" height="4.8" rx="1.2" fill="#0c0808"/><rect x="1099.6" y="427.3" width="18.0" height="4.8" rx="1.2" fill="#0c0808"/>
<path d="M1164.6 429.0 V447.0" stroke="#0c0808" stroke-width="3.7" fill="none"/><rect x="1155.6" y="426.6" width="18.0" height="4.8" rx="1.2" fill="#0c0808"/><rect x="1155.6" y="444.6" width="18.0" height="4.8" rx="1.2" fill="#0c0808"/>
<circle cx="716.6" cy="111.1" r="6.7" fill="#0c0808"/>
<circle cx="772.6" cy="153.9" r="6.7" fill="#0c0808"/>
<circle cx="828.6" cy="331.1" r="6.7" fill="#0c0808"/>
<circle cx="884.6" cy="401.4" r="6.7" fill="#0c0808"/>
<circle cx="940.6" cy="386.8" r="6.7" fill="#0c0808"/>
<circle cx="996.6" cy="384.7" r="6.7" fill="#0c0808"/>
<circle cx="1052.6" cy="381.5" r="6.7" fill="#0c0808"/>
<circle cx="1108.6" cy="419.4" r="6.7" fill="#0c0808"/>
<circle cx="1164.6" cy="438.0" r="6.7" fill="#0c0808"/>
<rect x="693.10" y="1.15" width="521.75" height="4.90" fill="#0c0808"/>
<rect x="693.10" y="465.15" width="521.75" height="4.90" fill="#0c0808"/>
<rect x="693.10" y="1.15" width="3.80" height="468.90" fill="#0c0808"/>
<rect x="1209.95" y="1.15" width="4.90" height="468.90" fill="#0c0808"/>
<text transform="translate(662.41,502.50) scale(1.0642,1)" font-size="21.0">0.001</text><rect x="707.03" y="500.69" width="4.53" height="2.52" fill="#fff"/><rect x="713.51" y="500.69" width="4.25" height="2.52" fill="#fff"/>
<text transform="translate(795.59,502.50) scale(1.0819,1)" font-size="21.0">0.01</text><rect x="828.32" y="500.69" width="4.60" height="2.52" fill="#fff"/><rect x="834.91" y="500.69" width="4.32" height="2.52" fill="#fff"/>
<text transform="translate(917.77,502.50) scale(1.1044,1)" font-size="21.0">0.1</text><rect x="938.28" y="500.69" width="4.70" height="2.52" fill="#fff"/><rect x="945.01" y="500.69" width="4.41" height="2.52" fill="#fff"/>
<text transform="translate(1043.89,502.50) scale(1.0800,1)" font-size="21.0">1</text><rect x="1045.02" y="500.69" width="4.59" height="2.52" fill="#fff"/><rect x="1051.60" y="500.69" width="4.31" height="2.52" fill="#fff"/>
<text transform="translate(1155.88,502.50) scale(1.0641,1)" font-size="21.0">10</text><rect x="1156.99" y="500.69" width="4.53" height="2.52" fill="#fff"/><rect x="1163.48" y="500.69" width="4.25" height="2.52" fill="#fff"/>
<text transform="translate(647.12,101.60) scale(1.0423,1)" font-size="21.0">100</text><rect x="648.21" y="99.79" width="4.43" height="2.52" fill="#fff"/><rect x="654.56" y="99.79" width="4.16" height="2.52" fill="#fff"/>
<text transform="translate(656.31,288.00) scale(1.0582,1)" font-size="21.0">50</text>
<text transform="translate(666.08,472.90) scale(1.0913,1)" font-size="21.0">0</text>
<text transform="translate(860.36,548.50) scale(0.9656,1)" font-size="33.0">THZ1 (<tspan font-style="italic">μ</tspan>M)</text></g>
<g><rect x="1299.2" y="469.7" width="4.6" height="4.8" fill="#0c0808"/>
<rect x="1308.8" y="469.7" width="4.6" height="4.8" fill="#0c0808"/>
<rect x="1316.8" y="469.7" width="4.6" height="4.8" fill="#0c0808"/>
<rect x="1323.8" y="469.7" width="4.6" height="4.8" fill="#0c0808"/>
<rect x="1330.0" y="469.7" width="4.6" height="4.8" fill="#0c0808"/>
<rect x="1335.3" y="469.7" width="4.9" height="8.1" fill="#0c0808"/>
<rect x="1371.8" y="469.7" width="4.6" height="4.8" fill="#0c0808"/>
<rect x="1393.0" y="469.7" width="4.6" height="4.8" fill="#0c0808"/>
<rect x="1408.0" y="469.7" width="4.6" height="4.8" fill="#0c0808"/>
<rect x="1419.7" y="469.7" width="4.6" height="4.8" fill="#0c0808"/>
<rect x="1429.3" y="469.7" width="4.6" height="4.8" fill="#0c0808"/>
<rect x="1437.3" y="469.7" width="4.6" height="4.8" fill="#0c0808"/>
<rect x="1444.3" y="469.7" width="4.6" height="4.8" fill="#0c0808"/>
<rect x="1450.5" y="469.7" width="4.6" height="4.8" fill="#0c0808"/>
<rect x="1455.8" y="469.7" width="4.9" height="8.1" fill="#0c0808"/>
<rect x="1492.3" y="469.7" width="4.6" height="4.8" fill="#0c0808"/>
<rect x="1513.5" y="469.7" width="4.6" height="4.8" fill="#0c0808"/>
<rect x="1528.5" y="469.7" width="4.6" height="4.8" fill="#0c0808"/>
<rect x="1540.2" y="469.7" width="4.6" height="4.8" fill="#0c0808"/>
<rect x="1549.8" y="469.7" width="4.6" height="4.8" fill="#0c0808"/>
<rect x="1557.8" y="469.7" width="4.6" height="4.8" fill="#0c0808"/>
<rect x="1564.8" y="469.7" width="4.6" height="4.8" fill="#0c0808"/>
<rect x="1571.0" y="469.7" width="4.6" height="4.8" fill="#0c0808"/>
<rect x="1576.3" y="469.7" width="4.9" height="8.1" fill="#0c0808"/>
<rect x="1612.8" y="469.7" width="4.6" height="4.8" fill="#0c0808"/>
<rect x="1634.0" y="469.7" width="4.6" height="4.8" fill="#0c0808"/>
<rect x="1649.0" y="469.7" width="4.6" height="4.8" fill="#0c0808"/>
<rect x="1660.7" y="469.7" width="4.6" height="4.8" fill="#0c0808"/>
<rect x="1670.3" y="469.7" width="4.6" height="4.8" fill="#0c0808"/>
<rect x="1678.3" y="469.7" width="4.6" height="4.8" fill="#0c0808"/>
<rect x="1685.3" y="469.7" width="4.6" height="4.8" fill="#0c0808"/>
<rect x="1691.5" y="469.7" width="4.6" height="4.8" fill="#0c0808"/>
<rect x="1696.8" y="469.7" width="4.9" height="8.1" fill="#0c0808"/>
<rect x="1733.3" y="469.7" width="4.6" height="4.8" fill="#0c0808"/>
<rect x="1754.5" y="469.7" width="4.6" height="4.8" fill="#0c0808"/>
<rect x="1769.5" y="469.7" width="4.6" height="4.8" fill="#0c0808"/>
<rect x="1781.2" y="469.7" width="4.6" height="4.8" fill="#0c0808"/>
<rect x="1790.8" y="469.7" width="4.6" height="4.8" fill="#0c0808"/>
<rect x="1798.8" y="469.7" width="4.6" height="4.8" fill="#0c0808"/>
<rect x="1805.8" y="469.7" width="4.6" height="4.8" fill="#0c0808"/>
<rect x="1812.0" y="469.7" width="4.6" height="4.8" fill="#0c0808"/>
<rect x="1817.3" y="469.7" width="4.9" height="8.1" fill="#0c0808"/>
<rect x="1293.0" y="467.2" width="8.4" height="5" fill="#0c0808"/>
<rect x="1293.0" y="281.5" width="8.4" height="5" fill="#0c0808"/>
<rect x="1293.0" y="95.8" width="8.4" height="5" fill="#0c0808"/>
<path d="M1323.1 93.3 L1324.3 93.3 L1325.6 93.3 L1326.8 93.3 L1328.1 93.3 L1329.3 93.3 L1330.6 93.3 L1331.8 93.3 L1333.1 93.4 L1334.3 93.4 L1335.6 93.4 L1336.8 93.4 L1338.1 93.4 L1339.3 93.4 L1340.6 93.4 L1341.8 93.4 L1343.1 93.4 L1344.3 93.4 L1345.6 93.4 L1346.8 93.5 L1348.1 93.5 L1349.3 93.5 L1350.6 93.5 L1351.8 93.5 L1353.1 93.5 L1354.3 93.5 L1355.6 93.5 L1356.8 93.6 L1358.1 93.6 L1359.3 93.6 L1360.6 93.6 L1361.8 93.6 L1363.1 93.6 L1364.3 93.6 L1365.6 93.7 L1366.8 93.7 L1368.1 93.7 L1369.3 93.7 L1370.6 93.7 L1371.8 93.7 L1373.1 93.8 L1374.3 93.8 L1375.6 93.8 L1376.8 93.8 L1378.1 93.8 L1379.3 93.9 L1380.6 93.9 L1381.8 93.9 L1383.1 93.9 L1384.3 93.9 L1385.6 94.0 L1386.8 94.0 L1388.1 94.0 L1389.3 94.0 L1390.6 94.1 L1391.8 94.1 L1393.1 94.1 L1394.3 94.1 L1395.6 94.2 L1396.8 94.2 L1398.1 94.2 L1399.3 94.2 L1400.6 94.3 L1401.8 94.3 L1403.1 94.3 L1404.3 94.4 L1405.6 94.4 L1406.8 94.4 L1408.1 94.5 L1409.3 94.5 L1410.6 94.6 L1411.8 94.6 L1413.1 94.6 L1414.3 94.7 L1415.6 94.7 L1416.8 94.8 L1418.1 94.8 L1419.3 94.8 L1420.6 94.9 L1421.8 94.9 L1423.1 95.0 L1424.3 95.0 L1425.6 95.1 L1426.8 95.1 L1428.1 95.2 L1429.3 95.2 L1430.6 95.3 L1431.8 95.3 L1433.1 95.4 L1434.3 95.5 L1435.6 95.5 L1436.8 95.6 L1438.1 95.6 L1439.3 95.7 L1440.6 95.8 L1441.8 95.8 L1443.1 95.9 L1444.3 96.0 L1445.6 96.1 L1446.8 96.1 L1448.1 96.2 L1449.3 96.3 L1450.6 96.4 L1451.8 96.5 L1453.1 96.5 L1454.3 96.6 L1455.6 96.7 L1456.8 96.8 L1458.1 96.9 L1459.3 97.0 L1460.6 97.1 L1461.8 97.2 L1463.1 97.3 L1464.3 97.4 L1465.6 97.5 L1466.8 97.6 L1468.1 97.7 L1469.3 97.9 L1470.6 98.0 L1471.8 98.1 L1473.1 98.2 L1474.3 98.4 L1475.6 98.5 L1476.8 98.6 L1478.1 98.8 L1479.3 98.9 L1480.6 99.1 L1481.8 99.2 L1483.1 99.4 L1484.3 99.5 L1485.6 99.7 L1486.8 99.9 L1488.1 100.1 L1489.3 100.2 L1490.6 100.4 L1491.8 100.6 L1493.1 100.8 L1494.3 101.0 L1495.6 101.2 L1496.8 101.4 L1498.1 101.6 L1499.3 101.8 L1500.6 102.1 L1501.8 102.3 L1503.1 102.5 L1504.3 102.8 L1505.6 103.0 L1506.8 103.3 L1508.1 103.5 L1509.3 103.8 L1510.6 104.1 L1511.8 104.4 L1513.1 104.7 L1514.3 105.0 L1515.6 105.3 L1516.8 105.6 L1518.1 105.9 L1519.3 106.3 L1520.6 106.6 L1521.8 107.0 L1523.1 107.3 L1524.3 107.7 L1525.6 108.1 L1526.8 108.5 L1528.1 108.9 L1529.3 109.3 L1530.6 109.7 L1531.8 110.2 L1533.1 110.6 L1534.3 111.1 L1535.6 111.6 L1536.8 112.1 L1538.1 112.6 L1539.3 113.1 L1540.6 113.7 L1541.8 114.2 L1543.1 114.8 L1544.3 115.4 L1545.6 116.0 L1546.8 116.6 L1548.1 117.2 L1549.3 117.9 L1550.6 118.6 L1551.8 119.3 L1553.1 120.0 L1554.3 120.7 L1555.6 121.5 L1556.8 122.3 L1558.1 123.1 L1559.3 123.9 L1560.6 124.8 L1561.8 125.7 L1563.1 126.6 L1564.3 127.6 L1565.6 128.5 L1566.8 129.5 L1568.1 130.6 L1569.3 131.6 L1570.6 132.7 L1571.8 133.9 L1573.1 135.1 L1574.3 136.3 L1575.6 137.5 L1576.8 138.8 L1578.1 140.1 L1579.3 141.5 L1580.6 142.9 L1581.8 144.4 L1583.1 145.9 L1584.3 147.4 L1585.6 149.0 L1586.8 150.7 L1588.1 152.4 L1589.3 154.2 L1590.6 156.0 L1591.8 157.9 L1593.1 159.8 L1594.3 161.8 L1595.6 163.9 L1596.8 166.0 L1598.1 168.2 L1599.3 170.5 L1600.6 172.8 L1601.8 175.2 L1603.1 177.7 L1604.3 180.3 L1605.6 182.9 L1606.8 185.7 L1608.1 188.5 L1609.3 191.4 L1610.6 194.4 L1611.8 197.4 L1613.1 200.6 L1614.3 203.9 L1615.6 207.2 L1616.8 210.7 L1618.1 214.2 L1619.3 217.8 L1620.6 221.5 L1621.8 225.4 L1623.1 229.3 L1624.3 233.3 L1625.6 237.4 L1626.8 241.6 L1628.1 245.8 L1629.3 250.2 L1630.6 254.6 L1631.8 259.2 L1633.1 263.8 L1634.3 268.4 L1635.6 273.1 L1636.8 277.9 L1638.1 282.8 L1639.3 287.7 L1640.6 292.6 L1641.8 297.5 L1643.1 302.5 L1644.3 307.4 L1645.6 312.4 L1646.8 317.4 L1648.1 322.3 L1649.3 327.2 L1650.6 332.1 L1651.8 336.8 L1653.1 341.6 L1654.3 346.2 L1655.6 350.8 L1656.8 355.2 L1658.1 359.6 L1659.3 363.8 L1660.6 367.9 L1661.8 371.8 L1663.1 375.6 L1664.3 379.3 L1665.6 382.8 L1666.8 386.1 L1668.1 389.3 L1669.3 392.3 L1670.6 395.2 L1671.8 397.8 L1673.1 400.4 L1674.3 402.7 L1675.6 404.9 L1676.8 406.9 L1678.1 408.8 L1679.3 410.6 L1680.6 412.1 L1681.8 413.6 L1683.1 414.9 L1684.3 416.2 L1685.6 417.2 L1686.8 418.2 L1688.1 419.1 L1689.3 419.9 L1690.6 420.6 L1691.8 421.3 L1693.1 421.8 L1694.3 422.3 L1695.6 422.8 L1696.8 423.1 L1698.1 423.5 L1699.3 423.7 L1700.6 424.0 L1701.8 424.2 L1703.1 424.4 L1704.3 424.5 L1705.6 424.7 L1706.8 424.8 L1708.1 424.9 L1709.3 425.0 L1710.6 425.0 L1711.8 425.1 L1713.1 425.1 L1714.3 425.2 L1715.6 425.2 L1716.8 425.2 L1718.1 425.2 L1719.3 425.2 L1720.6 425.3 L1721.8 425.3 L1723.1 425.3 L1724.3 425.3 L1725.6 425.3 L1726.8 425.3 L1728.1 425.3 L1729.3 425.3 L1730.6 425.3 L1731.8 425.3 L1733.1 425.3 L1734.3 425.3 L1735.6 425.3 L1736.8 425.3 L1738.1 425.3 L1739.3 425.3 L1740.6 425.3 L1741.8 425.3 L1743.1 425.3 L1744.3 425.3 L1745.6 425.3 L1746.8 425.3 L1748.1 425.3 L1749.3 425.3 L1750.6 425.3 L1751.8 425.3 L1753.1 425.3 L1754.3 425.3 L1755.6 425.3 L1756.8 425.3 L1758.1 425.3 L1759.3 425.3 L1760.6 425.3 L1761.8 425.3 L1763.1 425.3 L1764.3 425.3 L1765.6 425.3 L1766.8 425.3 L1768.1 425.3 L1769.3 425.3 L1770.6 425.3 L1771.8 425.3 L1773.1 425.3 L1774.3 425.3 L1775.6 425.3 L1776.8 425.3 L1778.1 425.3 L1779.3 425.3 L1780.6 425.3 L1781.8 425.3 L1783.1 425.3" fill="none" stroke="#0c0808" stroke-width="3.8" stroke-linecap="round" stroke-linejoin="round"/>
<path d="M1323.1 86.5 L1324.3 86.5 L1325.6 86.5 L1326.8 86.5 L1328.1 86.5 L1329.3 86.5 L1330.6 86.5 L1331.8 86.5 L1333.1 86.6 L1334.3 86.6 L1335.6 86.6 L1336.8 86.6 L1338.1 86.6 L1339.3 86.6 L1340.6 86.6 L1341.8 86.6 L1343.1 86.6 L1344.3 86.6 L1345.6 86.6 L1346.8 86.6 L1348.1 86.6 L1349.3 86.6 L1350.6 86.6 L1351.8 86.6 L1353.1 86.6 L1354.3 86.6 L1355.6 86.6 L1356.8 86.6 L1358.1 86.6 L1359.3 86.6 L1360.6 86.6 L1361.8 86.6 L1363.1 86.6 L1364.3 86.6 L1365.6 86.6 L1366.8 86.6 L1368.1 86.6 L1369.3 86.6 L1370.6 86.6 L1371.8 86.6 L1373.1 86.6 L1374.3 86.6 L1375.6 86.6 L1376.8 86.6 L1378.1 86.6 L1379.3 86.6 L1380.6 86.6 L1381.8 86.6 L1383.1 86.6 L1384.3 86.6 L1385.6 86.6 L1386.8 86.6 L1388.1 86.6 L1389.3 86.6 L1390.6 86.7 L1391.8 86.7 L1393.1 86.7 L1394.3 86.7 L1395.6 86.7 L1396.8 86.7 L1398.1 86.7 L1399.3 86.7 L1400.6 86.7 L1401.8 86.7 L1403.1 86.7 L1404.3 86.7 L1405.6 86.7 L1406.8 86.7 L1408.1 86.7 L1409.3 86.7 L1410.6 86.7 L1411.8 86.7 L1413.1 86.7 L1414.3 86.7 L1415.6 86.7 L1416.8 86.8 L1418.1 86.8 L1419.3 86.8 L1420.6 86.8 L1421.8 86.8 L1423.1 86.8 L1424.3 86.8 L1425.6 86.8 L1426.8 86.8 L1428.1 86.8 L1429.3 86.8 L1430.6 86.8 L1431.8 86.8 L1433.1 86.8 L1434.3 86.9 L1435.6 86.9 L1436.8 86.9 L1438.1 86.9 L1439.3 86.9 L1440.6 86.9 L1441.8 86.9 L1443.1 86.9 L1444.3 86.9 L1445.6 86.9 L1446.8 87.0 L1448.1 87.0 L1449.3 87.0 L1450.6 87.0 L1451.8 87.0 L1453.1 87.0 L1454.3 87.0 L1455.6 87.0 L1456.8 87.0 L1458.1 87.1 L1459.3 87.1 L1460.6 87.1 L1461.8 87.1 L1463.1 87.1 L1464.3 87.1 L1465.6 87.1 L1466.8 87.2 L1468.1 87.2 L1469.3 87.2 L1470.6 87.2 L1471.8 87.2 L1473.1 87.2 L1474.3 87.3 L1475.6 87.3 L1476.8 87.3 L1478.1 87.3 L1479.3 87.3 L1480.6 87.4 L1481.8 87.4 L1483.1 87.4 L1484.3 87.4 L1485.6 87.5 L1486.8 87.5 L1488.1 87.5 L1489.3 87.5 L1490.6 87.5 L1491.8 87.6 L1493.1 87.6 L1494.3 87.6 L1495.6 87.7 L1496.8 87.7 L1498.1 87.7 L1499.3 87.7 L1500.6 87.8 L1501.8 87.8 L1503.1 87.8 L1504.3 87.9 L1505.6 87.9 L1506.8 87.9 L1508.1 88.0 L1509.3 88.0 L1510.6 88.0 L1511.8 88.1 L1513.1 88.1 L1514.3 88.2 L1515.6 88.2 L1516.8 88.2 L1518.1 88.3 L1519.3 88.3 L1520.6 88.4 L1521.8 88.4 L1523.1 88.5 L1524.3 88.5 L1525.6 88.6 L1526.8 88.6 L1528.1 88.7 L1529.3 88.7 L1530.6 88.8 L1531.8 88.8 L1533.1 88.9 L1534.3 88.9 L1535.6 89.0 L1536.8 89.1 L1538.1 89.1 L1539.3 89.2 L1540.6 89.3 L1541.8 89.3 L1543.1 89.4 L1544.3 89.5 L1545.6 89.6 L1546.8 89.6 L1548.1 89.7 L1549.3 89.8 L1550.6 89.9 L1551.8 90.0 L1553.1 90.0 L1554.3 90.1 L1555.6 90.2 L1556.8 90.3 L1558.1 90.4 L1559.3 90.5 L1560.6 90.6 L1561.8 90.7 L1563.1 90.8 L1564.3 90.9 L1565.6 91.0 L1566.8 91.2 L1568.1 91.3 L1569.3 91.4 L1570.6 91.5 L1571.8 91.6 L1573.1 91.8 L1574.3 91.9 L1575.6 92.0 L1576.8 92.2 L1578.1 92.3 L1579.3 92.5 L1580.6 92.6 L1581.8 92.8 L1583.1 92.9 L1584.3 93.1 L1585.6 93.3 L1586.8 93.5 L1588.1 93.6 L1589.3 93.8 L1590.6 94.0 L1591.8 94.2 L1593.1 94.4 L1594.3 94.6 L1595.6 94.8 L1596.8 95.0 L1598.1 95.3 L1599.3 95.5 L1600.6 95.7 L1601.8 96.0 L1603.1 96.2 L1604.3 96.5 L1605.6 96.7 L1606.8 97.0 L1608.1 97.3 L1609.3 97.6 L1610.6 97.9 L1611.8 98.2 L1613.1 98.5 L1614.3 98.8 L1615.6 99.1 L1616.8 99.5 L1618.1 99.8 L1619.3 100.2 L1620.6 100.6 L1621.8 100.9 L1623.1 101.3 L1624.3 101.7 L1625.6 102.2 L1626.8 102.6 L1628.1 103.0 L1629.3 103.5 L1630.6 104.0 L1631.8 104.4 L1633.1 104.9 L1634.3 105.5 L1635.6 106.0 L1636.8 106.5 L1638.1 107.1 L1639.3 107.7 L1640.6 108.3 L1641.8 108.9 L1643.1 109.5 L1644.3 110.2 L1645.6 110.9 L1646.8 111.6 L1648.1 112.3 L1649.3 113.1 L1650.6 113.8 L1651.8 114.6 L1653.1 115.5 L1654.3 116.3 L1655.6 117.2 L1656.8 118.1 L1658.1 119.1 L1659.3 120.0 L1660.6 121.0 L1661.8 122.1 L1663.1 123.2 L1664.3 124.3 L1665.6 125.4 L1666.8 126.6 L1668.1 127.8 L1669.3 129.1 L1670.6 130.4 L1671.8 131.8 L1673.1 133.2 L1674.3 134.7 L1675.6 136.2 L1676.8 137.8 L1678.1 139.4 L1679.3 141.1 L1680.6 142.8 L1681.8 144.6 L1683.1 146.5 L1684.3 148.4 L1685.6 150.4 L1686.8 152.5 L1688.1 154.6 L1689.3 156.8 L1690.6 159.1 L1691.8 161.5 L1693.1 164.0 L1694.3 166.5 L1695.6 169.1 L1696.8 171.8 L1698.1 174.6 L1699.3 177.5 L1700.6 180.5 L1701.8 183.6 L1703.1 186.8 L1704.3 190.1 L1705.6 193.5 L1706.8 197.0 L1708.1 200.6 L1709.3 204.3 L1710.6 208.1 L1711.8 212.0 L1713.1 216.0 L1714.3 220.1 L1715.6 224.2 L1716.8 228.5 L1718.1 232.9 L1719.3 237.4 L1720.6 241.9 L1721.8 246.5 L1723.1 251.2 L1724.3 256.0 L1725.6 260.8 L1726.8 265.6 L1728.1 270.5 L1729.3 275.4 L1730.6 280.3 L1731.8 285.3 L1733.1 290.2 L1734.3 295.1 L1735.6 299.9 L1736.8 304.7 L1738.1 309.5 L1739.3 314.2 L1740.6 318.8 L1741.8 323.3 L1743.1 327.6 L1744.3 331.9 L1745.6 336.0 L1746.8 340.0 L1748.1 343.8 L1749.3 347.5 L1750.6 351.0 L1751.8 354.4 L1753.1 357.5 L1754.3 360.5 L1755.6 363.4 L1756.8 366.0 L1758.1 368.5 L1759.3 370.8 L1760.6 372.9 L1761.8 374.9 L1763.1 376.7 L1764.3 378.4 L1765.6 379.9 L1766.8 381.3 L1768.1 382.6 L1769.3 383.7 L1770.6 384.7 L1771.8 385.6 L1773.1 386.4 L1774.3 387.2 L1775.6 387.8 L1776.8 388.4 L1778.1 388.9 L1779.3 389.3 L1780.6 389.7 L1781.8 390.0 L1783.1 390.3" fill="none" stroke="#e81f14" stroke-width="3.8" stroke-linecap="round" stroke-linejoin="round"/>
<path d="M1323.1 93.8 L1324.3 93.9 L1325.6 93.9 L1326.8 93.9 L1328.1 93.9 L1329.3 93.9 L1330.6 93.9 L1331.8 93.9 L1333.1 93.9 L1334.3 93.9 L1335.6 93.9 L1336.8 94.0 L1338.1 94.0 L1339.3 94.0 L1340.6 94.0 L1341.8 94.0 L1343.1 94.0 L1344.3 94.0 L1345.6 94.0 L1346.8 94.0 L1348.1 94.1 L1349.3 94.1 L1350.6 94.1 L1351.8 94.1 L1353.1 94.1 L1354.3 94.1 L1355.6 94.1 L1356.8 94.2 L1358.1 94.2 L1359.3 94.2 L1360.6 94.2 L1361.8 94.2 L1363.1 94.2 L1364.3 94.3 L1365.6 94.3 L1366.8 94.3 L1368.1 94.3 L1369.3 94.3 L1370.6 94.4 L1371.8 94.4 L1373.1 94.4 L1374.3 94.4 L1375.6 94.5 L1376.8 94.5 L1378.1 94.5 L1379.3 94.5 L1380.6 94.5 L1381.8 94.6 L1383.1 94.6 L1384.3 94.6 L1385.6 94.7 L1386.8 94.7 L1388.1 94.7 L1389.3 94.7 L1390.6 94.8 L1391.8 94.8 L1393.1 94.8 L1394.3 94.9 L1395.6 94.9 L1396.8 94.9 L1398.1 95.0 L1399.3 95.0 L1400.6 95.0 L1401.8 95.1 L1403.1 95.1 L1404.3 95.1 L1405.6 95.2 L1406.8 95.2 L1408.1 95.3 L1409.3 95.3 L1410.6 95.4 L1411.8 95.4 L1413.1 95.4 L1414.3 95.5 L1415.6 95.5 L1416.8 95.6 L1418.1 95.6 L1419.3 95.7 L1420.6 95.7 L1421.8 95.8 L1423.1 95.9 L1424.3 95.9 L1425.6 96.0 L1426.8 96.0 L1428.1 96.1 L1429.3 96.2 L1430.6 96.2 L1431.8 96.3 L1433.1 96.3 L1434.3 96.4 L1435.6 96.5 L1436.8 96.6 L1438.1 96.6 L1439.3 96.7 L1440.6 96.8 L1441.8 96.9 L1443.1 96.9 L1444.3 97.0 L1445.6 97.1 L1446.8 97.2 L1448.1 97.3 L1449.3 97.4 L1450.6 97.5 L1451.8 97.6 L1453.1 97.7 L1454.3 97.8 L1455.6 97.9 L1456.8 98.0 L1458.1 98.1 L1459.3 98.2 L1460.6 98.3 L1461.8 98.4 L1463.1 98.5 L1464.3 98.7 L1465.6 98.8 L1466.8 98.9 L1468.1 99.0 L1469.3 99.2 L1470.6 99.3 L1471.8 99.4 L1473.1 99.6 L1474.3 99.7 L1475.6 99.9 L1476.8 100.0 L1478.1 100.2 L1479.3 100.4 L1480.6 100.5 L1481.8 100.7 L1483.1 100.9 L1484.3 101.0 L1485.6 101.2 L1486.8 101.4 L1488.1 101.6 L1489.3 101.8 L1490.6 102.0 L1491.8 102.2 L1493.1 102.4 L1494.3 102.6 L1495.6 102.8 L1496.8 103.0 L1498.1 103.3 L1499.3 103.5 L1500.6 103.7 L1501.8 104.0 L1503.1 104.2 L1504.3 104.5 L1505.6 104.7 L1506.8 105.0 L1508.1 105.3 L1509.3 105.6 L1510.6 105.8 L1511.8 106.1 L1513.1 106.4 L1514.3 106.7 L1515.6 107.1 L1516.8 107.4 L1518.1 107.7 L1519.3 108.0 L1520.6 108.4 L1521.8 108.7 L1523.1 109.1 L1524.3 109.5 L1525.6 109.8 L1526.8 110.2 L1528.1 110.6 L1529.3 111.0 L1530.6 111.4 L1531.8 111.9 L1533.1 112.3 L1534.3 112.7 L1535.6 113.2 L1536.8 113.6 L1538.1 114.1 L1539.3 114.6 L1540.6 115.1 L1541.8 115.6 L1543.1 116.1 L1544.3 116.6 L1545.6 117.2 L1546.8 117.7 L1548.1 118.3 L1549.3 118.9 L1550.6 119.5 L1551.8 120.1 L1553.1 120.7 L1554.3 121.3 L1555.6 121.9 L1556.8 122.6 L1558.1 123.3 L1559.3 124.0 L1560.6 124.7 L1561.8 125.4 L1563.1 126.1 L1564.3 126.9 L1565.6 127.6 L1566.8 128.4 L1568.1 129.2 L1569.3 130.0 L1570.6 130.9 L1571.8 131.7 L1573.1 132.6 L1574.3 133.5 L1575.6 134.4 L1576.8 135.3 L1578.1 136.2 L1579.3 137.2 L1580.6 138.2 L1581.8 139.2 L1583.1 140.2 L1584.3 141.3 L1585.6 142.3 L1586.8 143.4 L1588.1 144.5 L1589.3 145.7 L1590.6 146.8 L1591.8 148.0 L1593.1 149.2 L1594.3 150.4 L1595.6 151.7 L1596.8 152.9 L1598.1 154.2 L1599.3 155.6 L1600.6 156.9 L1601.8 158.3 L1603.1 159.7 L1604.3 161.1 L1605.6 162.6 L1606.8 164.1 L1608.1 165.6 L1609.3 167.1 L1610.6 168.7 L1611.8 170.3 L1613.1 171.9 L1614.3 173.5 L1615.6 175.2 L1616.8 176.9 L1618.1 178.7 L1619.3 180.4 L1620.6 182.2 L1621.8 184.1 L1623.1 185.9 L1624.3 187.8 L1625.6 189.7 L1626.8 191.7 L1628.1 193.7 L1629.3 195.7 L1630.6 197.7 L1631.8 199.8 L1633.1 201.9 L1634.3 204.1 L1635.6 206.2 L1636.8 208.4 L1638.1 210.7 L1639.3 212.9 L1640.6 215.2 L1641.8 217.5 L1643.1 219.9 L1644.3 222.3 L1645.6 224.7 L1646.8 227.1 L1648.1 229.6 L1649.3 232.1 L1650.6 234.6 L1651.8 237.2 L1653.1 239.8 L1654.3 242.4 L1655.6 245.0 L1656.8 247.7 L1658.1 250.4 L1659.3 253.1 L1660.6 255.9 L1661.8 258.6 L1663.1 261.4 L1664.3 264.2 L1665.6 267.0 L1666.8 269.9 L1668.1 272.7 L1669.3 275.6 L1670.6 278.5 L1671.8 281.4 L1673.1 284.3 L1674.3 287.3 L1675.6 290.2 L1676.8 293.2 L1678.1 296.2 L1679.3 299.1 L1680.6 302.1 L1681.8 305.1 L1683.1 308.1 L1684.3 311.0 L1685.6 314.0 L1686.8 317.0 L1688.1 320.0 L1689.3 322.9 L1690.6 325.9 L1691.8 328.8 L1693.1 331.7 L1694.3 334.6 L1695.6 337.5 L1696.8 340.4 L1698.1 343.3 L1699.3 346.1 L1700.6 348.9 L1701.8 351.7 L1703.1 354.5 L1704.3 357.2 L1705.6 359.9 L1706.8 362.5 L1708.1 365.2 L1709.3 367.7 L1710.6 370.3 L1711.8 372.8 L1713.1 375.2 L1714.3 377.6 L1715.6 380.0 L1716.8 382.3 L1718.1 384.6 L1719.3 386.8 L1720.6 389.0 L1721.8 391.1 L1723.1 393.1 L1724.3 395.1 L1725.6 397.1 L1726.8 399.0 L1728.1 400.8 L1729.3 402.6 L1730.6 404.3 L1731.8 405.9 L1733.1 407.5 L1734.3 409.0 L1735.6 410.5 L1736.8 411.9 L1738.1 413.3 L1739.3 414.6 L1740.6 415.8 L1741.8 417.0 L1743.1 418.1 L1744.3 419.2 L1745.6 420.2 L1746.8 421.1 L1748.1 422.0 L1749.3 422.9 L1750.6 423.7 L1751.8 424.4 L1753.1 425.1 L1754.3 425.8 L1755.6 426.4 L1756.8 427.0 L1758.1 427.5 L1759.3 428.0 L1760.6 428.4 L1761.8 428.9 L1763.1 429.3 L1764.3 429.6 L1765.6 429.9 L1766.8 430.2 L1768.1 430.5 L1769.3 430.7 L1770.6 431.0 L1771.8 431.2 L1773.1 431.3 L1774.3 431.5 L1775.6 431.6 L1776.8 431.8 L1778.1 431.9 L1779.3 432.0 L1780.6 432.1 L1781.8 432.1 L1783.1 432.2" fill="none" stroke="#0c0808" stroke-width="3.8" stroke-linecap="round" stroke-linejoin="round"/>
<path d="M1323.1 95.3 L1324.3 95.3 L1325.6 95.3 L1326.8 95.3 L1328.1 95.4 L1329.3 95.4 L1330.6 95.4 L1331.8 95.4 L1333.1 95.4 L1334.3 95.4 L1335.6 95.4 L1336.8 95.4 L1338.1 95.4 L1339.3 95.4 L1340.6 95.5 L1341.8 95.5 L1343.1 95.5 L1344.3 95.5 L1345.6 95.5 L1346.8 95.5 L1348.1 95.5 L1349.3 95.5 L1350.6 95.5 L1351.8 95.6 L1353.1 95.6 L1354.3 95.6 L1355.6 95.6 L1356.8 95.6 L1358.1 95.6 L1359.3 95.6 L1360.6 95.7 L1361.8 95.7 L1363.1 95.7 L1364.3 95.7 L1365.6 95.7 L1366.8 95.7 L1368.1 95.8 L1369.3 95.8 L1370.6 95.8 L1371.8 95.8 L1373.1 95.8 L1374.3 95.9 L1375.6 95.9 L1376.8 95.9 L1378.1 95.9 L1379.3 96.0 L1380.6 96.0 L1381.8 96.0 L1383.1 96.0 L1384.3 96.1 L1385.6 96.1 L1386.8 96.1 L1388.1 96.1 L1389.3 96.2 L1390.6 96.2 L1391.8 96.2 L1393.1 96.2 L1394.3 96.3 L1395.6 96.3 L1396.8 96.3 L1398.1 96.4 L1399.3 96.4 L1400.6 96.4 L1401.8 96.5 L1403.1 96.5 L1404.3 96.6 L1405.6 96.6 L1406.8 96.6 L1408.1 96.7 L1409.3 96.7 L1410.6 96.8 L1411.8 96.8 L1413.1 96.8 L1414.3 96.9 L1415.6 96.9 L1416.8 97.0 L1418.1 97.0 L1419.3 97.1 L1420.6 97.1 L1421.8 97.2 L1423.1 97.2 L1424.3 97.3 L1425.6 97.4 L1426.8 97.4 L1428.1 97.5 L1429.3 97.5 L1430.6 97.6 L1431.8 97.7 L1433.1 97.7 L1434.3 97.8 L1435.6 97.9 L1436.8 98.0 L1438.1 98.0 L1439.3 98.1 L1440.6 98.2 L1441.8 98.3 L1443.1 98.3 L1444.3 98.4 L1445.6 98.5 L1446.8 98.6 L1448.1 98.7 L1449.3 98.8 L1450.6 98.9 L1451.8 99.0 L1453.1 99.1 L1454.3 99.2 L1455.6 99.3 L1456.8 99.4 L1458.1 99.5 L1459.3 99.7 L1460.6 99.8 L1461.8 99.9 L1463.1 100.0 L1464.3 100.2 L1465.6 100.3 L1466.8 100.4 L1468.1 100.6 L1469.3 100.7 L1470.6 100.9 L1471.8 101.0 L1473.1 101.2 L1474.3 101.4 L1475.6 101.5 L1476.8 101.7 L1478.1 101.9 L1479.3 102.1 L1480.6 102.3 L1481.8 102.4 L1483.1 102.6 L1484.3 102.9 L1485.6 103.1 L1486.8 103.3 L1488.1 103.5 L1489.3 103.7 L1490.6 104.0 L1491.8 104.2 L1493.1 104.5 L1494.3 104.7 L1495.6 105.0 L1496.8 105.3 L1498.1 105.6 L1499.3 105.9 L1500.6 106.2 L1501.8 106.5 L1503.1 106.8 L1504.3 107.1 L1505.6 107.5 L1506.8 107.9 L1508.1 108.2 L1509.3 108.6 L1510.6 109.0 L1511.8 109.4 L1513.1 109.8 L1514.3 110.2 L1515.6 110.7 L1516.8 111.2 L1518.1 111.6 L1519.3 112.1 L1520.6 112.6 L1521.8 113.2 L1523.1 113.7 L1524.3 114.3 L1525.6 114.8 L1526.8 115.5 L1528.1 116.1 L1529.3 116.7 L1530.6 117.4 L1531.8 118.1 L1533.1 118.8 L1534.3 119.6 L1535.6 120.3 L1536.8 121.1 L1538.1 122.0 L1539.3 122.8 L1540.6 123.7 L1541.8 124.6 L1543.1 125.6 L1544.3 126.6 L1545.6 127.6 L1546.8 128.7 L1548.1 129.8 L1549.3 131.0 L1550.6 132.2 L1551.8 133.5 L1553.1 134.8 L1554.3 136.1 L1555.6 137.6 L1556.8 139.0 L1558.1 140.5 L1559.3 142.1 L1560.6 143.8 L1561.8 145.5 L1563.1 147.3 L1564.3 149.2 L1565.6 151.1 L1566.8 153.1 L1568.1 155.2 L1569.3 157.4 L1570.6 159.7 L1571.8 162.0 L1573.1 164.5 L1574.3 167.0 L1575.6 169.7 L1576.8 172.5 L1578.1 175.3 L1579.3 178.3 L1580.6 181.4 L1581.8 184.7 L1583.1 188.0 L1584.3 191.5 L1585.6 195.1 L1586.8 198.8 L1588.1 202.7 L1589.3 206.7 L1590.6 210.8 L1591.8 215.0 L1593.1 219.4 L1594.3 223.9 L1595.6 228.6 L1596.8 233.4 L1598.1 238.3 L1599.3 243.3 L1600.6 248.4 L1601.8 253.6 L1603.1 259.0 L1604.3 264.4 L1605.6 269.8 L1606.8 275.4 L1608.1 281.0 L1609.3 286.6 L1610.6 292.2 L1611.8 297.9 L1613.1 303.5 L1614.3 309.0 L1615.6 314.6 L1616.8 320.0 L1618.1 325.4 L1619.3 330.6 L1620.6 335.7 L1621.8 340.7 L1623.1 345.5 L1624.3 350.2 L1625.6 354.7 L1626.8 358.9 L1628.1 363.0 L1629.3 366.9 L1630.6 370.5 L1631.8 373.9 L1633.1 377.1 L1634.3 380.1 L1635.6 382.9 L1636.8 385.5 L1638.1 387.8 L1639.3 390.0 L1640.6 392.0 L1641.8 393.8 L1643.1 395.4 L1644.3 396.8 L1645.6 398.1 L1646.8 399.3 L1648.1 400.3 L1649.3 401.3 L1650.6 402.1 L1651.8 402.8 L1653.1 403.4 L1654.3 403.9 L1655.6 404.4 L1656.8 404.8 L1658.1 405.2 L1659.3 405.5 L1660.6 405.7 L1661.8 405.9 L1663.1 406.1 L1664.3 406.2 L1665.6 406.4 L1666.8 406.5 L1668.1 406.6 L1669.3 406.6 L1670.6 406.7 L1671.8 406.7 L1673.1 406.8 L1674.3 406.8 L1675.6 406.8 L1676.8 406.8 L1678.1 406.9 L1679.3 406.9 L1680.6 406.9 L1681.8 406.9 L1683.1 406.9 L1684.3 406.9 L1685.6 406.9 L1686.8 406.9 L1688.1 406.9 L1689.3 406.9 L1690.6 406.9 L1691.8 406.9 L1693.1 406.9 L1694.3 406.9 L1695.6 406.9 L1696.8 406.9 L1698.1 406.9 L1699.3 406.9 L1700.6 406.9 L1701.8 406.9 L1703.1 406.9 L1704.3 406.9 L1705.6 406.9 L1706.8 406.9 L1708.1 406.9 L1709.3 406.9 L1710.6 406.9 L1711.8 406.9 L1713.1 406.9 L1714.3 406.9 L1715.6 406.9 L1716.8 406.9 L1718.1 406.9 L1719.3 406.9 L1720.6 406.9 L1721.8 406.9 L1723.1 406.9 L1724.3 406.9 L1725.6 406.9 L1726.8 406.9 L1728.1 406.9 L1729.3 406.9 L1730.6 406.9 L1731.8 406.9 L1733.1 406.9 L1734.3 406.9 L1735.6 406.9 L1736.8 406.9 L1738.1 406.9 L1739.3 406.9 L1740.6 406.9 L1741.8 406.9 L1743.1 406.9 L1744.3 406.9 L1745.6 406.9 L1746.8 406.9 L1748.1 406.9 L1749.3 406.9 L1750.6 406.9 L1751.8 406.9 L1753.1 406.9 L1754.3 406.9 L1755.6 406.9 L1756.8 406.9 L1758.1 406.9 L1759.3 406.9 L1760.6 406.9 L1761.8 406.9 L1763.1 406.9 L1764.3 406.9 L1765.6 406.9 L1766.8 406.9 L1768.1 406.9 L1769.3 406.9 L1770.6 406.9 L1771.8 406.9 L1773.1 406.9 L1774.3 406.9 L1775.6 406.9 L1776.8 406.9 L1778.1 406.9 L1779.3 406.9 L1780.6 406.9 L1781.8 406.9 L1783.1 406.9" fill="none" stroke="#56b532" stroke-width="3.8" stroke-linecap="round" stroke-linejoin="round"/>
<path d="M1323.1 92.3 L1324.3 92.4 L1325.6 92.4 L1326.8 92.4 L1328.1 92.4 L1329.3 92.4 L1330.6 92.4 L1331.8 92.4 L1333.1 92.4 L1334.3 92.4 L1335.6 92.4 L1336.8 92.5 L1338.1 92.5 L1339.3 92.5 L1340.6 92.5 L1341.8 92.5 L1343.1 92.5 L1344.3 92.5 L1345.6 92.5 L1346.8 92.5 L1348.1 92.6 L1349.3 92.6 L1350.6 92.6 L1351.8 92.6 L1353.1 92.6 L1354.3 92.6 L1355.6 92.6 L1356.8 92.7 L1358.1 92.7 L1359.3 92.7 L1360.6 92.7 L1361.8 92.7 L1363.1 92.7 L1364.3 92.8 L1365.6 92.8 L1366.8 92.8 L1368.1 92.8 L1369.3 92.8 L1370.6 92.9 L1371.8 92.9 L1373.1 92.9 L1374.3 92.9 L1375.6 92.9 L1376.8 93.0 L1378.1 93.0 L1379.3 93.0 L1380.6 93.0 L1381.8 93.1 L1383.1 93.1 L1384.3 93.1 L1385.6 93.1 L1386.8 93.2 L1388.1 93.2 L1389.3 93.2 L1390.6 93.3 L1391.8 93.3 L1393.1 93.3 L1394.3 93.4 L1395.6 93.4 L1396.8 93.4 L1398.1 93.5 L1399.3 93.5 L1400.6 93.5 L1401.8 93.6 L1403.1 93.6 L1404.3 93.6 L1405.6 93.7 L1406.8 93.7 L1408.1 93.8 L1409.3 93.8 L1410.6 93.8 L1411.8 93.9 L1413.1 93.9 L1414.3 94.0 L1415.6 94.0 L1416.8 94.1 L1418.1 94.1 L1419.3 94.2 L1420.6 94.2 L1421.8 94.3 L1423.1 94.3 L1424.3 94.4 L1425.6 94.5 L1426.8 94.5 L1428.1 94.6 L1429.3 94.6 L1430.6 94.7 L1431.8 94.8 L1433.1 94.8 L1434.3 94.9 L1435.6 95.0 L1436.8 95.0 L1438.1 95.1 L1439.3 95.2 L1440.6 95.3 L1441.8 95.3 L1443.1 95.4 L1444.3 95.5 L1445.6 95.6 L1446.8 95.7 L1448.1 95.8 L1449.3 95.9 L1450.6 95.9 L1451.8 96.0 L1453.1 96.1 L1454.3 96.2 L1455.6 96.3 L1456.8 96.4 L1458.1 96.6 L1459.3 96.7 L1460.6 96.8 L1461.8 96.9 L1463.1 97.0 L1464.3 97.1 L1465.6 97.2 L1466.8 97.4 L1468.1 97.5 L1469.3 97.6 L1470.6 97.8 L1471.8 97.9 L1473.1 98.0 L1474.3 98.2 L1475.6 98.3 L1476.8 98.5 L1478.1 98.6 L1479.3 98.8 L1480.6 99.0 L1481.8 99.1 L1483.1 99.3 L1484.3 99.5 L1485.6 99.7 L1486.8 99.8 L1488.1 100.0 L1489.3 100.2 L1490.6 100.4 L1491.8 100.6 L1493.1 100.8 L1494.3 101.0 L1495.6 101.2 L1496.8 101.5 L1498.1 101.7 L1499.3 101.9 L1500.6 102.2 L1501.8 102.4 L1503.1 102.6 L1504.3 102.9 L1505.6 103.2 L1506.8 103.4 L1508.1 103.7 L1509.3 104.0 L1510.6 104.3 L1511.8 104.5 L1513.1 104.8 L1514.3 105.1 L1515.6 105.5 L1516.8 105.8 L1518.1 106.1 L1519.3 106.4 L1520.6 106.8 L1521.8 107.1 L1523.1 107.5 L1524.3 107.8 L1525.6 108.2 L1526.8 108.6 L1528.1 109.0 L1529.3 109.4 L1530.6 109.8 L1531.8 110.2 L1533.1 110.6 L1534.3 111.1 L1535.6 111.5 L1536.8 112.0 L1538.1 112.5 L1539.3 112.9 L1540.6 113.4 L1541.8 113.9 L1543.1 114.4 L1544.3 115.0 L1545.6 115.5 L1546.8 116.0 L1548.1 116.6 L1549.3 117.2 L1550.6 117.7 L1551.8 118.3 L1553.1 119.0 L1554.3 119.6 L1555.6 120.2 L1556.8 120.9 L1558.1 121.5 L1559.3 122.2 L1560.6 122.9 L1561.8 123.6 L1563.1 124.3 L1564.3 125.1 L1565.6 125.8 L1566.8 126.6 L1568.1 127.4 L1569.3 128.2 L1570.6 129.0 L1571.8 129.9 L1573.1 130.7 L1574.3 131.6 L1575.6 132.5 L1576.8 133.4 L1578.1 134.3 L1579.3 135.3 L1580.6 136.2 L1581.8 137.2 L1583.1 138.2 L1584.3 139.3 L1585.6 140.3 L1586.8 141.4 L1588.1 142.5 L1589.3 143.6 L1590.6 144.8 L1591.8 145.9 L1593.1 147.1 L1594.3 148.3 L1595.6 149.5 L1596.8 150.8 L1598.1 152.1 L1599.3 153.4 L1600.6 154.7 L1601.8 156.1 L1603.1 157.4 L1604.3 158.8 L1605.6 160.3 L1606.8 161.7 L1608.1 163.2 L1609.3 164.7 L1610.6 166.3 L1611.8 167.8 L1613.1 169.4 L1614.3 171.0 L1615.6 172.7 L1616.8 174.3 L1618.1 176.0 L1619.3 177.8 L1620.6 179.5 L1621.8 181.3 L1623.1 183.1 L1624.3 185.0 L1625.6 186.9 L1626.8 188.8 L1628.1 190.7 L1629.3 192.7 L1630.6 194.7 L1631.8 196.7 L1633.1 198.8 L1634.3 200.8 L1635.6 202.9 L1636.8 205.1 L1638.1 207.3 L1639.3 209.5 L1640.6 211.7 L1641.8 213.9 L1643.1 216.2 L1644.3 218.5 L1645.6 220.9 L1646.8 223.2 L1648.1 225.6 L1649.3 228.1 L1650.6 230.5 L1651.8 233.0 L1653.1 235.5 L1654.3 238.0 L1655.6 240.5 L1656.8 243.1 L1658.1 245.7 L1659.3 248.3 L1660.6 250.9 L1661.8 253.6 L1663.1 256.3 L1664.3 258.9 L1665.6 261.7 L1666.8 264.4 L1668.1 267.1 L1669.3 269.9 L1670.6 272.6 L1671.8 275.4 L1673.1 278.2 L1674.3 281.0 L1675.6 283.8 L1676.8 286.6 L1678.1 289.4 L1679.3 292.2 L1680.6 295.0 L1681.8 297.8 L1683.1 300.6 L1684.3 303.4 L1685.6 306.2 L1686.8 309.0 L1688.1 311.8 L1689.3 314.6 L1690.6 317.4 L1691.8 320.1 L1693.1 322.9 L1694.3 325.6 L1695.6 328.3 L1696.8 330.9 L1698.1 333.6 L1699.3 336.2 L1700.6 338.8 L1701.8 341.4 L1703.1 343.9 L1704.3 346.4 L1705.6 348.9 L1706.8 351.3 L1708.1 353.7 L1709.3 356.1 L1710.6 358.4 L1711.8 360.7 L1713.1 362.9 L1714.3 365.1 L1715.6 367.2 L1716.8 369.3 L1718.1 371.3 L1719.3 373.3 L1720.6 375.2 L1721.8 377.1 L1723.1 378.9 L1724.3 380.7 L1725.6 382.4 L1726.8 384.1 L1728.1 385.7 L1729.3 387.3 L1730.6 388.7 L1731.8 390.2 L1733.1 391.6 L1734.3 392.9 L1735.6 394.2 L1736.8 395.4 L1738.1 396.5 L1739.3 397.6 L1740.6 398.7 L1741.8 399.7 L1743.1 400.6 L1744.3 401.5 L1745.6 402.4 L1746.8 403.2 L1748.1 403.9 L1749.3 404.6 L1750.6 405.3 L1751.8 405.9 L1753.1 406.5 L1754.3 407.0 L1755.6 407.5 L1756.8 407.9 L1758.1 408.4 L1759.3 408.8 L1760.6 409.1 L1761.8 409.4 L1763.1 409.7 L1764.3 410.0 L1765.6 410.3 L1766.8 410.5 L1768.1 410.7 L1769.3 410.9 L1770.6 411.1 L1771.8 411.2 L1773.1 411.3 L1774.3 411.5 L1775.6 411.6 L1776.8 411.6 L1778.1 411.7 L1779.3 411.8 L1780.6 411.9 L1781.8 411.9 L1783.1 412.0" fill="none" stroke="#3a50a3" stroke-width="3.8" stroke-linecap="round" stroke-linejoin="round"/>
<path d="M1323.1 109.7 L1324.3 110.1 L1325.6 110.5 L1326.8 111.0 L1328.1 111.4 L1329.3 111.9 L1330.6 112.4 L1331.8 112.9 L1333.1 113.4 L1334.3 113.9 L1335.6 114.4 L1336.8 115.0 L1338.1 115.5 L1339.3 116.1 L1340.6 116.7 L1341.8 117.3 L1343.1 117.9 L1344.3 118.5 L1345.6 119.2 L1346.8 119.9 L1348.1 120.5 L1349.3 121.3 L1350.6 122.0 L1351.8 122.7 L1353.1 123.5 L1354.3 124.3 L1355.6 125.1 L1356.8 125.9 L1358.1 126.8 L1359.3 127.7 L1360.6 128.6 L1361.8 129.5 L1363.1 130.5 L1364.3 131.4 L1365.6 132.4 L1366.8 133.5 L1368.1 134.5 L1369.3 135.6 L1370.6 136.8 L1371.8 137.9 L1373.1 139.1 L1374.3 140.3 L1375.6 141.6 L1376.8 142.9 L1378.1 144.2 L1379.3 145.6 L1380.6 147.0 L1381.8 148.4 L1383.1 149.9 L1384.3 151.4 L1385.6 152.9 L1386.8 154.6 L1388.1 156.2 L1389.3 157.9 L1390.6 159.6 L1391.8 161.4 L1393.1 163.3 L1394.3 165.2 L1395.6 167.1 L1396.8 169.1 L1398.1 171.1 L1399.3 173.2 L1400.6 175.4 L1401.8 177.6 L1403.1 179.9 L1404.3 182.2 L1405.6 184.6 L1406.8 187.1 L1408.1 189.6 L1409.3 192.2 L1410.6 194.8 L1411.8 197.5 L1413.1 200.3 L1414.3 203.2 L1415.6 206.1 L1416.8 209.0 L1418.1 212.1 L1419.3 215.2 L1420.6 218.4 L1421.8 221.6 L1423.1 225.0 L1424.3 228.3 L1425.6 231.8 L1426.8 235.3 L1428.1 238.9 L1429.3 242.5 L1430.6 246.2 L1431.8 250.0 L1433.1 253.8 L1434.3 257.7 L1435.6 261.6 L1436.8 265.5 L1438.1 269.5 L1439.3 273.6 L1440.6 277.6 L1441.8 281.7 L1443.1 285.9 L1444.3 290.0 L1445.6 294.2 L1446.8 298.3 L1448.1 302.5 L1449.3 306.6 L1450.6 310.7 L1451.8 314.9 L1453.1 318.9 L1454.3 323.0 L1455.6 327.0 L1456.8 330.9 L1458.1 334.8 L1459.3 338.7 L1460.6 342.4 L1461.8 346.1 L1463.1 349.7 L1464.3 353.2 L1465.6 356.6 L1466.8 359.9 L1468.1 363.1 L1469.3 366.1 L1470.6 369.1 L1471.8 371.9 L1473.1 374.6 L1474.3 377.2 L1475.6 379.7 L1476.8 382.1 L1478.1 384.3 L1479.3 386.4 L1480.6 388.3 L1481.8 390.2 L1483.1 391.9 L1484.3 393.5 L1485.6 395.0 L1486.8 396.4 L1488.1 397.7 L1489.3 398.9 L1490.6 400.0 L1491.8 401.0 L1493.1 401.9 L1494.3 402.7 L1495.6 403.4 L1496.8 404.1 L1498.1 404.7 L1499.3 405.3 L1500.6 405.8 L1501.8 406.2 L1503.1 406.6 L1504.3 406.9 L1505.6 407.2 L1506.8 407.5 L1508.1 407.7 L1509.3 407.9 L1510.6 408.1 L1511.8 408.2 L1513.1 408.3 L1514.3 408.5 L1515.6 408.5 L1516.8 408.6 L1518.1 408.7 L1519.3 408.7 L1520.6 408.8 L1521.8 408.8 L1523.1 408.9 L1524.3 408.9 L1525.6 408.9 L1526.8 408.9 L1528.1 408.9 L1529.3 409.0 L1530.6 409.0 L1531.8 409.0 L1533.1 409.0 L1534.3 409.0 L1535.6 409.0 L1536.8 409.0 L1538.1 409.0 L1539.3 409.0 L1540.6 409.0 L1541.8 409.0 L1543.1 409.0 L1544.3 409.0 L1545.6 409.0 L1546.8 409.0 L1548.1 409.0 L1549.3 409.0 L1550.6 409.0 L1551.8 409.0 L1553.1 409.0 L1554.3 409.0 L1555.6 409.0 L1556.8 409.0 L1558.1 409.0 L1559.3 409.0 L1560.6 409.0 L1561.8 409.0 L1563.1 409.0 L1564.3 409.0 L1565.6 409.0 L1566.8 409.0 L1568.1 409.0 L1569.3 409.0 L1570.6 409.0 L1571.8 409.0 L1573.1 409.0 L1574.3 409.0 L1575.6 409.0 L1576.8 409.0 L1578.1 409.0 L1579.3 409.0 L1580.6 409.0 L1581.8 409.0 L1583.1 409.0 L1584.3 409.0 L1585.6 409.0 L1586.8 409.0 L1588.1 409.0 L1589.3 409.0 L1590.6 409.0 L1591.8 409.0 L1593.1 409.0 L1594.3 409.0 L1595.6 409.0 L1596.8 409.0 L1598.1 409.0 L1599.3 409.0 L1600.6 409.0 L1601.8 409.0 L1603.1 409.0 L1604.3 409.0 L1605.6 409.0 L1606.8 409.0 L1608.1 409.0 L1609.3 409.0 L1610.6 409.0 L1611.8 409.0 L1613.1 409.0 L1614.3 409.0 L1615.6 409.0 L1616.8 409.0 L1618.1 409.0 L1619.3 409.0 L1620.6 409.0 L1621.8 409.0 L1623.1 409.0 L1624.3 409.0 L1625.6 409.0 L1626.8 409.0 L1628.1 409.0 L1629.3 409.0 L1630.6 409.0 L1631.8 409.0 L1633.1 409.0 L1634.3 409.0 L1635.6 409.0 L1636.8 409.0 L1638.1 409.0 L1639.3 409.0 L1640.6 409.0 L1641.8 409.0 L1643.1 409.0 L1644.3 409.0 L1645.6 409.0 L1646.8 409.0 L1648.1 409.0 L1649.3 409.0 L1650.6 409.0 L1651.8 409.0 L1653.1 409.0 L1654.3 409.0 L1655.6 409.0 L1656.8 409.0 L1658.1 409.0 L1659.3 409.0 L1660.6 409.0 L1661.8 409.0 L1663.1 409.0 L1664.3 409.0 L1665.6 409.0 L1666.8 409.0 L1668.1 409.0 L1669.3 409.0 L1670.6 409.0 L1671.8 409.0 L1673.1 409.0 L1674.3 409.0 L1675.6 409.0 L1676.8 409.0 L1678.1 409.0 L1679.3 409.0 L1680.6 409.0 L1681.8 409.0 L1683.1 409.0 L1684.3 409.0 L1685.6 409.0 L1686.8 409.0 L1688.1 409.0 L1689.3 409.0 L1690.6 409.0 L1691.8 409.0 L1693.1 409.0 L1694.3 409.0 L1695.6 409.0 L1696.8 409.0 L1698.1 409.0 L1699.3 409.0 L1700.6 409.0 L1701.8 409.0 L1703.1 409.0 L1704.3 409.0 L1705.6 409.0 L1706.8 409.0 L1708.1 409.0 L1709.3 409.0 L1710.6 409.0 L1711.8 409.0 L1713.1 409.0 L1714.3 409.0 L1715.6 409.0 L1716.8 409.0 L1718.1 409.0 L1719.3 409.0 L1720.6 409.0 L1721.8 409.0 L1723.1 409.0 L1724.3 409.0 L1725.6 409.0 L1726.8 409.0 L1728.1 409.0 L1729.3 409.0 L1730.6 409.0 L1731.8 409.0 L1733.1 409.0 L1734.3 409.0 L1735.6 409.0 L1736.8 409.0 L1738.1 409.0 L1739.3 409.0 L1740.6 409.0 L1741.8 409.0 L1743.1 409.0 L1744.3 409.0 L1745.6 409.0 L1746.8 409.0 L1748.1 409.0 L1749.3 409.0 L1750.6 409.0 L1751.8 409.0 L1753.1 409.0 L1754.3 409.0 L1755.6 409.0 L1756.8 409.0 L1758.1 409.0 L1759.3 409.0 L1760.6 409.0 L1761.8 409.0 L1763.1 409.0 L1764.3 409.0 L1765.6 409.0 L1766.8 409.0 L1768.1 409.0 L1769.3 409.0 L1770.6 409.0 L1771.8 409.0 L1773.1 409.0 L1774.3 409.0 L1775.6 409.0 L1776.8 409.0 L1778.1 409.0 L1779.3 409.0 L1780.6 409.0 L1781.8 409.0 L1783.1 409.0" fill="none" stroke="#0c0808" stroke-width="3.8" stroke-linecap="round" stroke-linejoin="round"/>
<circle cx="1323.1" cy="96.0" r="6.7" fill="none" stroke="#0c0808" stroke-width="3.5"/>
<circle cx="1380.6" cy="97.0" r="6.7" fill="none" stroke="#0c0808" stroke-width="3.5"/>
<circle cx="1438.1" cy="95.2" r="6.7" fill="none" stroke="#0c0808" stroke-width="3.5"/>
<circle cx="1495.6" cy="100.0" r="6.7" fill="none" stroke="#0c0808" stroke-width="3.5"/>
<circle cx="1553.1" cy="115.0" r="6.7" fill="none" stroke="#0c0808" stroke-width="3.5"/>
<circle cx="1610.6" cy="193.0" r="6.7" fill="none" stroke="#0c0808" stroke-width="3.5"/>
<circle cx="1668.1" cy="387.2" r="6.7" fill="none" stroke="#0c0808" stroke-width="3.5"/>
<circle cx="1725.6" cy="383.6" r="6.7" fill="none" stroke="#0c0808" stroke-width="3.5"/>
<circle cx="1783.1" cy="469.7" r="6.7" fill="none" stroke="#0c0808" stroke-width="3.5"/>
<rect x="1315.8" y="86.7" width="14.7" height="14.6" fill="#e81f14"/>
<rect x="1373.2" y="85.7" width="14.7" height="14.6" fill="#e81f14"/>
<rect x="1430.8" y="78.7" width="14.7" height="14.6" fill="#e81f14"/>
<rect x="1488.2" y="88.7" width="14.7" height="14.6" fill="#e81f14"/>
<rect x="1545.8" y="71.4" width="14.7" height="14.6" fill="#e81f14"/>
<rect x="1603.2" y="83.3" width="14.7" height="14.6" fill="#e81f14"/>
<rect x="1660.8" y="122.2" width="14.7" height="14.6" fill="#e81f14"/>
<rect x="1718.2" y="247.6" width="14.7" height="14.6" fill="#e81f14"/>
<rect x="1775.8" y="383.5" width="14.7" height="14.6" fill="#e81f14"/>
<path d="M1380.6 85.0 V91.5" stroke="#0c0808" stroke-width="3.7" fill="none"/><path d="M1380.6 104.5 V111.0" stroke="#0c0808" stroke-width="3.7" fill="none"/><rect x="1371.6" y="82.6" width="18.0" height="4.8" rx="1.2" fill="#0c0808"/><rect x="1371.6" y="108.6" width="18.0" height="4.8" rx="1.2" fill="#0c0808"/>
<path d="M1495.6 76.4 V90.9" stroke="#0c0808" stroke-width="3.7" fill="none"/><rect x="1486.6" y="74.0" width="18.0" height="4.8" rx="1.2" fill="#0c0808"/>
<path d="M1610.6 162.6 V163.7" stroke="#0c0808" stroke-width="3.7" fill="none"/><path d="M1610.6 176.7 V177.8" stroke="#0c0808" stroke-width="3.7" fill="none"/><rect x="1601.6" y="160.2" width="18.0" height="4.8" rx="1.2" fill="#0c0808"/><rect x="1601.6" y="175.4" width="18.0" height="4.8" rx="1.2" fill="#0c0808"/>
<path d="M1323.1 90.4 L1329.7 103.4 L1316.5 103.4 Z" fill="none" stroke="#0c0808" stroke-width="3.4" stroke-linejoin="round"/>
<path d="M1380.6 91.4 L1387.2 104.4 L1374.0 104.4 Z" fill="none" stroke="#0c0808" stroke-width="3.4" stroke-linejoin="round"/>
<path d="M1438.1 89.4 L1444.7 102.4 L1431.5 102.4 Z" fill="none" stroke="#0c0808" stroke-width="3.4" stroke-linejoin="round"/>
<path d="M1495.6 90.8 L1502.2 103.8 L1489.0 103.8 Z" fill="none" stroke="#0c0808" stroke-width="3.4" stroke-linejoin="round"/>
<path d="M1553.1 106.4 L1559.7 119.4 L1546.5 119.4 Z" fill="none" stroke="#0c0808" stroke-width="3.4" stroke-linejoin="round"/>
<path d="M1610.6 163.6 L1617.2 176.6 L1604.0 176.6 Z" fill="none" stroke="#0c0808" stroke-width="3.4" stroke-linejoin="round"/>
<path d="M1668.1 279.0 L1674.7 292.0 L1661.5 292.0 Z" fill="none" stroke="#0c0808" stroke-width="3.4" stroke-linejoin="round"/>
<path d="M1725.6 368.4 L1732.2 381.4 L1719.0 381.4 Z" fill="none" stroke="#0c0808" stroke-width="3.4" stroke-linejoin="round"/>
<path d="M1783.1 437.7 L1789.7 450.7 L1776.5 450.7 Z" fill="none" stroke="#0c0808" stroke-width="3.4" stroke-linejoin="round"/>
<path d="M1323.1 82.5 V99.5" stroke="#56b532" stroke-width="3.7" fill="none"/><rect x="1314.1" y="80.1" width="18.0" height="4.8" rx="1.2" fill="#56b532"/><rect x="1314.1" y="97.1" width="18.0" height="4.8" rx="1.2" fill="#56b532"/>
<path d="M1380.6 81.6 V103.6" stroke="#56b532" stroke-width="3.7" fill="none"/><rect x="1371.6" y="79.2" width="18.0" height="4.8" rx="1.2" fill="#56b532"/><rect x="1371.6" y="101.2" width="18.0" height="4.8" rx="1.2" fill="#56b532"/>
<path d="M1553.1 121.8 V143.8" stroke="#56b532" stroke-width="3.7" fill="none"/><rect x="1544.1" y="119.4" width="18.0" height="4.8" rx="1.2" fill="#56b532"/><rect x="1544.1" y="141.4" width="18.0" height="4.8" rx="1.2" fill="#56b532"/>
<path d="M1323.1 97.9 L1329.9 84.1 L1316.3 84.1 Z" fill="#56b532"/>
<path d="M1380.6 99.5 L1387.4 85.7 L1373.8 85.7 Z" fill="#56b532"/>
<path d="M1438.1 106.9 L1444.9 93.1 L1431.3 93.1 Z" fill="#56b532"/>
<path d="M1495.6 122.2 L1502.4 108.4 L1488.8 108.4 Z" fill="#56b532"/>
<path d="M1553.1 139.7 L1559.9 125.9 L1546.3 125.9 Z" fill="#56b532"/>
<path d="M1610.6 297.9 L1617.4 284.1 L1603.8 284.1 Z" fill="#56b532"/>
<path d="M1668.1 414.2 L1674.9 400.4 L1661.3 400.4 Z" fill="#56b532"/>
<path d="M1725.6 370.8 L1732.4 357.0 L1718.8 357.0 Z" fill="#56b532"/>
<path d="M1783.1 456.5 L1789.9 442.7 L1776.3 442.7 Z" fill="#56b532"/>
<path d="M1438.1 81.0 V99.0" stroke="#3a50a3" stroke-width="3.7" fill="none"/><rect x="1429.1" y="78.6" width="18.0" height="4.8" rx="1.2" fill="#3a50a3"/><rect x="1429.1" y="96.6" width="18.0" height="4.8" rx="1.2" fill="#3a50a3"/>
<path d="M1323.1 88.3 L1329.9 102.1 L1316.3 102.1 Z" fill="#3a50a3"/>
<path d="M1380.6 86.2 L1387.4 100.0 L1373.8 100.0 Z" fill="#3a50a3"/>
<path d="M1438.1 83.1 L1444.9 96.9 L1431.3 96.9 Z" fill="#3a50a3"/>
<path d="M1495.6 87.3 L1502.4 101.1 L1488.8 101.1 Z" fill="#3a50a3"/>
<path d="M1553.1 105.3 L1559.9 119.1 L1546.3 119.1 Z" fill="#3a50a3"/>
<path d="M1610.6 161.4 L1617.4 175.2 L1603.8 175.2 Z" fill="#3a50a3"/>
<path d="M1668.1 271.3 L1674.9 285.1 L1661.3 285.1 Z" fill="#3a50a3"/>
<path d="M1725.6 360.2 L1732.4 374.0 L1718.8 374.0 Z" fill="#3a50a3"/>
<path d="M1783.1 415.6 L1789.9 429.4 L1776.3 429.4 Z" fill="#3a50a3"/>
<path d="M1323.1 108.5 V128.5" stroke="#0c0808" stroke-width="3.7" fill="none"/><rect x="1314.1" y="106.1" width="18.0" height="4.8" rx="1.2" fill="#0c0808"/><rect x="1314.1" y="126.1" width="18.0" height="4.8" rx="1.2" fill="#0c0808"/>
<path d="M1380.6 121.0 V149.0" stroke="#0c0808" stroke-width="3.7" fill="none"/><rect x="1371.6" y="118.6" width="18.0" height="4.8" rx="1.2" fill="#0c0808"/><rect x="1371.6" y="146.6" width="18.0" height="4.8" rx="1.2" fill="#0c0808"/>
<path d="M1438.1 270.1 V285.1" stroke="#0c0808" stroke-width="3.7" fill="none"/><rect x="1429.1" y="267.7" width="18.0" height="4.8" rx="1.2" fill="#0c0808"/><rect x="1429.1" y="282.7" width="18.0" height="4.8" rx="1.2" fill="#0c0808"/>
<circle cx="1323.1" cy="118.5" r="6.7" fill="#0c0808"/>
<circle cx="1380.6" cy="135.0" r="6.7" fill="#0c0808"/>
<circle cx="1438.1" cy="277.6" r="6.7" fill="#0c0808"/>
<circle cx="1495.6" cy="395.7" r="6.7" fill="#0c0808"/>
<circle cx="1553.1" cy="399.5" r="6.7" fill="#0c0808"/>
<circle cx="1610.6" cy="394.6" r="6.7" fill="#0c0808"/>
<circle cx="1668.1" cy="398.8" r="6.7" fill="#0c0808"/>
<circle cx="1725.6" cy="454.9" r="6.7" fill="#0c0808"/>
<circle cx="1783.1" cy="469.7" r="6.7" fill="#0c0808"/>
<rect x="1299.05" y="2.95" width="522.90" height="4.90" fill="#0c0808"/>
<rect x="1299.05" y="467.25" width="522.90" height="4.90" fill="#0c0808"/>
<rect x="1299.05" y="2.95" width="4.90" height="469.20" fill="#0c0808"/>
<rect x="1817.05" y="2.95" width="4.90" height="469.20" fill="#0c0808"/>
<text transform="translate(1313.88,502.50) scale(1.0932,1)" font-size="21.0">0.01</text><rect x="1346.95" y="500.69" width="4.65" height="2.52" fill="#fff"/><rect x="1353.61" y="500.69" width="4.36" height="2.52" fill="#fff"/>
<text transform="translate(1440.85,502.50) scale(1.1254,1)" font-size="21.0">0.1</text><rect x="1461.75" y="500.69" width="4.79" height="2.52" fill="#fff"/><rect x="1468.61" y="500.69" width="4.49" height="2.52" fill="#fff"/>
<text transform="translate(1572.49,502.50) scale(1.0800,1)" font-size="21.0">1</text><rect x="1573.62" y="500.69" width="4.59" height="2.52" fill="#fff"/><rect x="1580.20" y="500.69" width="4.31" height="2.52" fill="#fff"/>
<text transform="translate(1688.93,502.50) scale(0.9864,1)" font-size="21.0">10</text><rect x="1689.97" y="500.69" width="4.19" height="2.52" fill="#fff"/><rect x="1695.98" y="500.69" width="3.94" height="2.52" fill="#fff"/>
<text transform="translate(1806.59,502.50) scale(1.0051,1)" font-size="21.0">100</text><rect x="1807.65" y="500.69" width="4.27" height="2.52" fill="#fff"/><rect x="1813.77" y="500.69" width="4.01" height="2.52" fill="#fff"/>
<text transform="translate(1252.79,105.30) scale(1.0579,1)" font-size="21.0">100</text><rect x="1253.90" y="103.49" width="4.50" height="2.52" fill="#fff"/><rect x="1260.34" y="103.49" width="4.22" height="2.52" fill="#fff"/>
<text transform="translate(1265.31,291.00) scale(1.0536,1)" font-size="21.0">50</text>
<text transform="translate(1277.70,477.00) scale(1.0714,1)" font-size="21.0">0</text>
<text transform="translate(1466.35,548.50) scale(0.9783,1)" font-size="33.0">THZ531 (<tspan font-style="italic">μ</tspan>M)</text></g>
<g><rect x="75.1" y="1049.5" width="4.6" height="4.8" fill="#0c0808"/>
<rect x="84.9" y="1049.5" width="4.6" height="4.8" fill="#0c0808"/>
<rect x="93.1" y="1049.5" width="4.6" height="4.8" fill="#0c0808"/>
<rect x="100.2" y="1049.5" width="4.6" height="4.8" fill="#0c0808"/>
<rect x="106.5" y="1049.5" width="4.6" height="4.8" fill="#0c0808"/>
<rect x="112.0" y="1049.5" width="4.9" height="8.1" fill="#0c0808"/>
<rect x="149.1" y="1049.5" width="4.6" height="4.8" fill="#0c0808"/>
<rect x="170.7" y="1049.5" width="4.6" height="4.8" fill="#0c0808"/>
<rect x="186.0" y="1049.5" width="4.6" height="4.8" fill="#0c0808"/>
<rect x="197.9" y="1049.5" width="4.6" height="4.8" fill="#0c0808"/>
<rect x="207.7" y="1049.5" width="4.6" height="4.8" fill="#0c0808"/>
<rect x="215.9" y="1049.5" width="4.6" height="4.8" fill="#0c0808"/>
<rect x="223.0" y="1049.5" width="4.6" height="4.8" fill="#0c0808"/>
<rect x="229.3" y="1049.5" width="4.6" height="4.8" fill="#0c0808"/>
<rect x="234.8" y="1049.5" width="4.9" height="8.1" fill="#0c0808"/>
<rect x="271.9" y="1049.5" width="4.6" height="4.8" fill="#0c0808"/>
<rect x="293.5" y="1049.5" width="4.6" height="4.8" fill="#0c0808"/>
<rect x="308.8" y="1049.5" width="4.6" height="4.8" fill="#0c0808"/>
<rect x="320.7" y="1049.5" width="4.6" height="4.8" fill="#0c0808"/>
<rect x="330.5" y="1049.5" width="4.6" height="4.8" fill="#0c0808"/>
<rect x="338.7" y="1049.5" width="4.6" height="4.8" fill="#0c0808"/>
<rect x="345.8" y="1049.5" width="4.6" height="4.8" fill="#0c0808"/>
<rect x="352.1" y="1049.5" width="4.6" height="4.8" fill="#0c0808"/>
<rect x="357.6" y="1049.5" width="4.9" height="8.1" fill="#0c0808"/>
<rect x="394.7" y="1049.5" width="4.6" height="4.8" fill="#0c0808"/>
<rect x="416.3" y="1049.5" width="4.6" height="4.8" fill="#0c0808"/>
<rect x="431.6" y="1049.5" width="4.6" height="4.8" fill="#0c0808"/>
<rect x="443.5" y="1049.5" width="4.6" height="4.8" fill="#0c0808"/>
<rect x="453.3" y="1049.5" width="4.6" height="4.8" fill="#0c0808"/>
<rect x="461.5" y="1049.5" width="4.6" height="4.8" fill="#0c0808"/>
<rect x="468.6" y="1049.5" width="4.6" height="4.8" fill="#0c0808"/>
<rect x="474.9" y="1049.5" width="4.6" height="4.8" fill="#0c0808"/>
<rect x="480.3" y="1049.5" width="4.9" height="8.1" fill="#0c0808"/>
<rect x="517.5" y="1049.5" width="4.6" height="4.8" fill="#0c0808"/>
<rect x="539.1" y="1049.5" width="4.6" height="4.8" fill="#0c0808"/>
<rect x="554.4" y="1049.5" width="4.6" height="4.8" fill="#0c0808"/>
<rect x="566.3" y="1049.5" width="4.6" height="4.8" fill="#0c0808"/>
<rect x="576.1" y="1049.5" width="4.6" height="4.8" fill="#0c0808"/>
<rect x="584.3" y="1049.5" width="4.6" height="4.8" fill="#0c0808"/>
<rect x="591.4" y="1049.5" width="4.6" height="4.8" fill="#0c0808"/>
<rect x="597.7" y="1049.5" width="4.6" height="4.8" fill="#0c0808"/>
<rect x="603.1" y="1049.5" width="4.9" height="8.1" fill="#0c0808"/>
<rect x="69.0" y="1047.0" width="8.4" height="5" fill="#0c0808"/>
<rect x="69.0" y="857.0" width="8.4" height="5" fill="#0c0808"/>
<rect x="69.0" y="667.0" width="8.4" height="5" fill="#0c0808"/>
<path d="M99.7 645.7 L100.9 645.7 L102.2 645.8 L103.4 645.9 L104.7 645.9 L105.9 646.0 L107.2 646.0 L108.4 646.1 L109.7 646.2 L110.9 646.2 L112.2 646.3 L113.4 646.3 L114.7 646.4 L115.9 646.5 L117.2 646.6 L118.4 646.6 L119.7 646.7 L120.9 646.8 L122.2 646.9 L123.4 646.9 L124.7 647.0 L125.9 647.1 L127.2 647.2 L128.4 647.3 L129.7 647.4 L130.9 647.5 L132.2 647.6 L133.4 647.7 L134.7 647.8 L135.9 647.9 L137.2 648.0 L138.4 648.1 L139.7 648.2 L140.9 648.3 L142.2 648.4 L143.4 648.5 L144.7 648.7 L145.9 648.8 L147.2 648.9 L148.4 649.0 L149.7 649.2 L150.9 649.3 L152.2 649.4 L153.4 649.6 L154.7 649.7 L155.9 649.9 L157.2 650.0 L158.4 650.2 L159.7 650.4 L160.9 650.5 L162.2 650.7 L163.4 650.9 L164.7 651.0 L165.9 651.2 L167.2 651.4 L168.4 651.6 L169.7 651.8 L170.9 652.0 L172.2 652.2 L173.4 652.4 L174.7 652.6 L175.9 652.8 L177.2 653.0 L178.4 653.3 L179.7 653.5 L180.9 653.7 L182.2 654.0 L183.4 654.2 L184.7 654.5 L185.9 654.7 L187.2 655.0 L188.4 655.3 L189.7 655.5 L190.9 655.8 L192.2 656.1 L193.4 656.4 L194.7 656.7 L195.9 657.0 L197.2 657.4 L198.4 657.7 L199.7 658.0 L200.9 658.4 L202.2 658.7 L203.4 659.1 L204.7 659.5 L205.9 659.8 L207.2 660.2 L208.4 660.6 L209.7 661.0 L210.9 661.4 L212.2 661.9 L213.4 662.3 L214.7 662.7 L215.9 663.2 L217.2 663.7 L218.4 664.1 L219.7 664.6 L220.9 665.1 L222.2 665.6 L223.4 666.1 L224.7 666.7 L225.9 667.2 L227.2 667.8 L228.4 668.4 L229.7 668.9 L230.9 669.5 L232.2 670.1 L233.4 670.8 L234.7 671.4 L235.9 672.1 L237.2 672.7 L238.4 673.4 L239.7 674.1 L240.9 674.8 L242.2 675.6 L243.4 676.3 L244.7 677.1 L245.9 677.9 L247.2 678.7 L248.4 679.5 L249.7 680.3 L250.9 681.2 L252.2 682.1 L253.4 683.0 L254.7 683.9 L255.9 684.8 L257.2 685.8 L258.4 686.8 L259.7 687.8 L260.9 688.8 L262.2 689.9 L263.4 690.9 L264.7 692.0 L265.9 693.1 L267.2 694.3 L268.4 695.5 L269.7 696.7 L270.9 697.9 L272.2 699.1 L273.4 700.4 L274.7 701.7 L275.9 703.0 L277.2 704.4 L278.4 705.8 L279.7 707.2 L280.9 708.7 L282.2 710.2 L283.4 711.7 L284.7 713.2 L285.9 714.8 L287.2 716.4 L288.4 718.0 L289.7 719.7 L290.9 721.4 L292.2 723.2 L293.4 725.0 L294.7 726.8 L295.9 728.7 L297.2 730.6 L298.4 732.5 L299.7 734.5 L300.9 736.5 L302.2 738.5 L303.4 740.6 L304.7 742.7 L305.9 744.9 L307.2 747.1 L308.4 749.4 L309.7 751.6 L310.9 754.0 L312.2 756.3 L313.4 758.8 L314.7 761.2 L315.9 763.7 L317.2 766.3 L318.4 768.8 L319.7 771.5 L320.9 774.1 L322.2 776.9 L323.4 779.6 L324.7 782.4 L325.9 785.2 L327.2 788.1 L328.4 791.0 L329.7 794.0 L330.9 797.0 L332.2 800.0 L333.4 803.1 L334.7 806.2 L335.9 809.4 L337.2 812.6 L338.4 815.8 L339.7 819.0 L340.9 822.3 L342.2 825.6 L343.4 829.0 L344.7 832.3 L345.9 835.7 L347.2 839.2 L348.4 842.6 L349.7 846.1 L350.9 849.5 L352.2 853.0 L353.4 856.5 L354.7 860.0 L355.9 863.6 L357.2 867.1 L358.4 870.6 L359.7 874.2 L360.9 877.7 L362.2 881.2 L363.4 884.7 L364.7 888.2 L365.9 891.6 L367.2 895.1 L368.4 898.5 L369.7 901.9 L370.9 905.3 L372.2 908.6 L373.4 911.9 L374.7 915.1 L375.9 918.3 L377.2 921.5 L378.4 924.6 L379.7 927.6 L380.9 930.6 L382.2 933.6 L383.4 936.4 L384.7 939.2 L385.9 941.9 L387.2 944.6 L388.4 947.2 L389.7 949.7 L390.9 952.1 L392.2 954.4 L393.4 956.7 L394.7 958.9 L395.9 961.0 L397.2 963.0 L398.4 964.9 L399.7 966.8 L400.9 968.5 L402.2 970.2 L403.4 971.8 L404.7 973.3 L405.9 974.8 L407.2 976.1 L408.4 977.4 L409.7 978.6 L410.9 979.8 L412.2 980.8 L413.4 981.8 L414.7 982.7 L415.9 983.6 L417.2 984.4 L418.4 985.1 L419.7 985.8 L420.9 986.4 L422.2 987.0 L423.4 987.5 L424.7 988.0 L425.9 988.5 L427.2 988.9 L428.4 989.2 L429.7 989.5 L430.9 989.8 L432.2 990.1 L433.4 990.3 L434.7 990.5 L435.9 990.7 L437.2 990.9 L438.4 991.0 L439.7 991.1 L440.9 991.3 L442.2 991.4 L443.4 991.4 L444.7 991.5 L445.9 991.6 L447.2 991.6 L448.4 991.7 L449.7 991.7 L450.9 991.7 L452.2 991.8 L453.4 991.8 L454.7 991.8 L455.9 991.8 L457.2 991.8 L458.4 991.9 L459.7 991.9 L460.9 991.9 L462.2 991.9 L463.4 991.9 L464.7 991.9 L465.9 991.9 L467.2 991.9 L468.4 991.9 L469.7 991.9 L470.9 991.9 L472.2 991.9 L473.4 991.9 L474.7 991.9 L475.9 991.9 L477.2 991.9 L478.4 991.9 L479.7 991.9 L480.9 991.9 L482.2 991.9 L483.4 991.9 L484.7 991.9 L485.9 991.9 L487.2 991.9 L488.4 991.9 L489.7 991.9 L490.9 991.9 L492.2 991.9 L493.4 991.9 L494.7 991.9 L495.9 991.9 L497.2 991.9 L498.4 991.9 L499.7 991.9 L500.9 991.9 L502.2 991.9 L503.4 991.9 L504.7 991.9 L505.9 991.9 L507.2 991.9 L508.4 991.9 L509.7 991.9 L510.9 991.9 L512.2 991.9 L513.5 991.9 L514.7 991.9 L516.0 991.9 L517.2 991.9 L518.5 991.9 L519.7 991.9 L521.0 991.9 L522.2 991.9 L523.5 991.9 L524.7 991.9 L526.0 991.9 L527.2 991.9 L528.5 991.9 L529.7 991.9 L531.0 991.9 L532.2 991.9 L533.5 991.9 L534.7 991.9 L536.0 991.9 L537.2 991.9 L538.5 991.9 L539.7 991.9 L541.0 991.9 L542.2 991.9 L543.5 991.9 L544.7 991.9 L546.0 991.9 L547.2 991.9 L548.5 991.9 L549.7 991.9 L551.0 991.9 L552.2 991.9 L553.5 991.9 L554.7 991.9 L556.0 991.9 L557.2 991.9 L558.5 991.9 L559.7 991.9 L561.0 991.9 L562.2 991.9 L563.5 991.9 L564.7 991.9 L566.0 991.9 L567.2 991.9 L568.5 991.9" fill="none" stroke="#e81f14" stroke-width="3.8" stroke-linecap="round" stroke-linejoin="round"/>
<path d="M99.7 721.9 L100.9 723.4 L102.2 724.9 L103.4 726.5 L104.7 728.1 L105.9 729.7 L107.2 731.4 L108.4 733.0 L109.7 734.8 L110.9 736.5 L112.2 738.2 L113.4 740.0 L114.7 741.9 L115.9 743.7 L117.2 745.6 L118.4 747.5 L119.7 749.4 L120.9 751.4 L122.2 753.4 L123.4 755.4 L124.7 757.5 L125.9 759.6 L127.2 761.7 L128.4 763.8 L129.7 766.0 L130.9 768.2 L132.2 770.4 L133.4 772.7 L134.7 775.0 L135.9 777.3 L137.2 779.6 L138.4 782.0 L139.7 784.4 L140.9 786.8 L142.2 789.3 L143.4 791.8 L144.7 794.3 L145.9 796.8 L147.2 799.4 L148.4 802.0 L149.7 804.6 L150.9 807.2 L152.2 809.9 L153.4 812.6 L154.7 815.3 L155.9 818.0 L157.2 820.7 L158.4 823.5 L159.7 826.2 L160.9 829.0 L162.2 831.8 L163.4 834.7 L164.7 837.5 L165.9 840.3 L167.2 843.2 L168.4 846.0 L169.7 848.9 L170.9 851.8 L172.2 854.7 L173.4 857.5 L174.7 860.4 L175.9 863.3 L177.2 866.2 L178.4 869.1 L179.7 871.9 L180.9 874.8 L182.2 877.7 L183.4 880.5 L184.7 883.3 L185.9 886.2 L187.2 889.0 L188.4 891.8 L189.7 894.5 L190.9 897.3 L192.2 900.0 L193.4 902.7 L194.7 905.4 L195.9 908.0 L197.2 910.6 L198.4 913.2 L199.7 915.7 L200.9 918.2 L202.2 920.7 L203.4 923.1 L204.7 925.5 L205.9 927.9 L207.2 930.2 L208.4 932.4 L209.7 934.6 L210.9 936.8 L212.2 938.9 L213.4 941.0 L214.7 943.0 L215.9 944.9 L217.2 946.8 L218.4 948.7 L219.7 950.5 L220.9 952.2 L222.2 953.9 L223.4 955.5 L224.7 957.1 L225.9 958.6 L227.2 960.0 L228.4 961.4 L229.7 962.8 L230.9 964.1 L232.2 965.3 L233.4 966.4 L234.7 967.6 L235.9 968.6 L237.2 969.6 L238.4 970.6 L239.7 971.5 L240.9 972.3 L242.2 973.1 L243.4 973.9 L244.7 974.6 L245.9 975.3 L247.2 975.9 L248.4 976.5 L249.7 977.0 L250.9 977.5 L252.2 978.0 L253.4 978.4 L254.7 978.8 L255.9 979.2 L257.2 979.5 L258.4 979.8 L259.7 980.1 L260.9 980.4 L262.2 980.6 L263.4 980.8 L264.7 981.0 L265.9 981.2 L267.2 981.3 L268.4 981.5 L269.7 981.6 L270.9 981.7 L272.2 981.8 L273.4 981.9 L274.7 981.9 L275.9 982.0 L277.2 982.1 L278.4 982.1 L279.7 982.2 L280.9 982.2 L282.2 982.2 L283.4 982.3 L284.7 982.3 L285.9 982.3 L287.2 982.3 L288.4 982.3 L289.7 982.3 L290.9 982.4 L292.2 982.4 L293.4 982.4 L294.7 982.4 L295.9 982.4 L297.2 982.4 L298.4 982.4 L299.7 982.4 L300.9 982.4 L302.2 982.4 L303.4 982.4 L304.7 982.4 L305.9 982.4 L307.2 982.4 L308.4 982.4 L309.7 982.4 L310.9 982.4 L312.2 982.4 L313.4 982.4 L314.7 982.4 L315.9 982.4 L317.2 982.4 L318.4 982.4 L319.7 982.4 L320.9 982.4 L322.2 982.4 L323.4 982.4 L324.7 982.4 L325.9 982.4 L327.2 982.4 L328.4 982.4 L329.7 982.4 L330.9 982.4 L332.2 982.4 L333.4 982.4 L334.7 982.4 L335.9 982.4 L337.2 982.4 L338.4 982.4 L339.7 982.4 L340.9 982.4 L342.2 982.4 L343.4 982.4 L344.7 982.4 L345.9 982.4 L347.2 982.4 L348.4 982.4 L349.7 982.4 L350.9 982.4 L352.2 982.4 L353.4 982.4 L354.7 982.4 L355.9 982.4 L357.2 982.4 L358.4 982.4 L359.7 982.4 L360.9 982.4 L362.2 982.4 L363.4 982.4 L364.7 982.4 L365.9 982.4 L367.2 982.4 L368.4 982.4 L369.7 982.4 L370.9 982.4 L372.2 982.4 L373.4 982.4 L374.7 982.4 L375.9 982.4 L377.2 982.4 L378.4 982.4 L379.7 982.4 L380.9 982.4 L382.2 982.4 L383.4 982.4 L384.7 982.4 L385.9 982.4 L387.2 982.4 L388.4 982.4 L389.7 982.4 L390.9 982.4 L392.2 982.4 L393.4 982.4 L394.7 982.4 L395.9 982.4 L397.2 982.4 L398.4 982.4 L399.7 982.4 L400.9 982.4 L402.2 982.4 L403.4 982.4 L404.7 982.4 L405.9 982.4 L407.2 982.4 L408.4 982.4 L409.7 982.4 L410.9 982.4 L412.2 982.4 L413.4 982.4 L414.7 982.4 L415.9 982.4 L417.2 982.4 L418.4 982.4 L419.7 982.4 L420.9 982.4 L422.2 982.4 L423.4 982.4 L424.7 982.4 L425.9 982.4 L427.2 982.4 L428.4 982.4 L429.7 982.4 L430.9 982.4 L432.2 982.4 L433.4 982.4 L434.7 982.4 L435.9 982.4 L437.2 982.4 L438.4 982.4 L439.7 982.4 L440.9 982.4 L442.2 982.4 L443.4 982.4 L444.7 982.4 L445.9 982.4 L447.2 982.4 L448.4 982.4 L449.7 982.4 L450.9 982.4 L452.2 982.4 L453.4 982.4 L454.7 982.4 L455.9 982.4 L457.2 982.4 L458.4 982.4 L459.7 982.4 L460.9 982.4 L462.2 982.4 L463.4 982.4 L464.7 982.4 L465.9 982.4 L467.2 982.4 L468.4 982.4 L469.7 982.4 L470.9 982.4 L472.2 982.4 L473.4 982.4 L474.7 982.4 L475.9 982.4 L477.2 982.4 L478.4 982.4 L479.7 982.4 L480.9 982.4 L482.2 982.4 L483.4 982.4 L484.7 982.4 L485.9 982.4 L487.2 982.4 L488.4 982.4 L489.7 982.4 L490.9 982.4 L492.2 982.4 L493.4 982.4 L494.7 982.4 L495.9 982.4 L497.2 982.4 L498.4 982.4 L499.7 982.4 L500.9 982.4 L502.2 982.4 L503.4 982.4 L504.7 982.4 L505.9 982.4 L507.2 982.4 L508.4 982.4 L509.7 982.4 L510.9 982.4 L512.2 982.4 L513.5 982.4 L514.7 982.4 L516.0 982.4 L517.2 982.4 L518.5 982.4 L519.7 982.4 L521.0 982.4 L522.2 982.4 L523.5 982.4 L524.7 982.4 L526.0 982.4 L527.2 982.4 L528.5 982.4 L529.7 982.4 L531.0 982.4 L532.2 982.4 L533.5 982.4 L534.7 982.4 L536.0 982.4 L537.2 982.4 L538.5 982.4 L539.7 982.4 L541.0 982.4 L542.2 982.4 L543.5 982.4 L544.7 982.4 L546.0 982.4 L547.2 982.4 L548.5 982.4 L549.7 982.4 L551.0 982.4 L552.2 982.4 L553.5 982.4 L554.7 982.4 L556.0 982.4 L557.2 982.4 L558.5 982.4 L559.7 982.4 L561.0 982.4 L562.2 982.4 L563.5 982.4 L564.7 982.4 L566.0 982.4 L567.2 982.4 L568.5 982.4" fill="none" stroke="#0c0808" stroke-width="3.8" stroke-linecap="round" stroke-linejoin="round"/>
<path d="M99.7 666.4 L100.9 666.4 L102.2 666.5 L103.4 666.6 L104.7 666.7 L105.9 666.8 L107.2 666.9 L108.4 667.0 L109.7 667.1 L110.9 667.2 L112.2 667.4 L113.4 667.5 L114.7 667.6 L115.9 667.7 L117.2 667.8 L118.4 667.9 L119.7 668.1 L120.9 668.2 L122.2 668.3 L123.4 668.5 L124.7 668.6 L125.9 668.8 L127.2 668.9 L128.4 669.0 L129.7 669.2 L130.9 669.4 L132.2 669.5 L133.4 669.7 L134.7 669.8 L135.9 670.0 L137.2 670.2 L138.4 670.4 L139.7 670.6 L140.9 670.7 L142.2 670.9 L143.4 671.1 L144.7 671.3 L145.9 671.5 L147.2 671.8 L148.4 672.0 L149.7 672.2 L150.9 672.4 L152.2 672.6 L153.4 672.9 L154.7 673.1 L155.9 673.4 L157.2 673.6 L158.4 673.9 L159.7 674.1 L160.9 674.4 L162.2 674.7 L163.4 675.0 L164.7 675.3 L165.9 675.6 L167.2 675.9 L168.4 676.2 L169.7 676.5 L170.9 676.8 L172.2 677.2 L173.4 677.5 L174.7 677.8 L175.9 678.2 L177.2 678.6 L178.4 678.9 L179.7 679.3 L180.9 679.7 L182.2 680.1 L183.4 680.5 L184.7 680.9 L185.9 681.4 L187.2 681.8 L188.4 682.2 L189.7 682.7 L190.9 683.2 L192.2 683.6 L193.4 684.1 L194.7 684.6 L195.9 685.1 L197.2 685.6 L198.4 686.2 L199.7 686.7 L200.9 687.3 L202.2 687.8 L203.4 688.4 L204.7 689.0 L205.9 689.6 L207.2 690.2 L208.4 690.9 L209.7 691.5 L210.9 692.2 L212.2 692.9 L213.4 693.6 L214.7 694.3 L215.9 695.0 L217.2 695.7 L218.4 696.5 L219.7 697.2 L220.9 698.0 L222.2 698.8 L223.4 699.7 L224.7 700.5 L225.9 701.4 L227.2 702.2 L228.4 703.1 L229.7 704.0 L230.9 705.0 L232.2 705.9 L233.4 706.9 L234.7 707.9 L235.9 708.9 L237.2 709.9 L238.4 711.0 L239.7 712.1 L240.9 713.1 L242.2 714.3 L243.4 715.4 L244.7 716.6 L245.9 717.8 L247.2 719.0 L248.4 720.2 L249.7 721.5 L250.9 722.8 L252.2 724.1 L253.4 725.4 L254.7 726.8 L255.9 728.2 L257.2 729.6 L258.4 731.0 L259.7 732.5 L260.9 734.0 L262.2 735.5 L263.4 737.1 L264.7 738.7 L265.9 740.3 L267.2 741.9 L268.4 743.6 L269.7 745.3 L270.9 747.0 L272.2 748.8 L273.4 750.6 L274.7 752.4 L275.9 754.3 L277.2 756.2 L278.4 758.1 L279.7 760.0 L280.9 762.0 L282.2 764.0 L283.4 766.1 L284.7 768.1 L285.9 770.3 L287.2 772.4 L288.4 774.6 L289.7 776.8 L290.9 779.0 L292.2 781.3 L293.4 783.6 L294.7 785.9 L295.9 788.3 L297.2 790.7 L298.4 793.1 L299.7 795.6 L300.9 798.0 L302.2 800.6 L303.4 803.1 L304.7 805.7 L305.9 808.3 L307.2 810.9 L308.4 813.5 L309.7 816.2 L310.9 818.9 L312.2 821.7 L313.4 824.4 L314.7 827.2 L315.9 830.0 L317.2 832.8 L318.4 835.6 L319.7 838.5 L320.9 841.3 L322.2 844.2 L323.4 847.1 L324.7 850.0 L325.9 852.9 L327.2 855.9 L328.4 858.8 L329.7 861.7 L330.9 864.7 L332.2 867.6 L333.4 870.6 L334.7 873.5 L335.9 876.4 L337.2 879.4 L338.4 882.3 L339.7 885.2 L340.9 888.1 L342.2 891.0 L343.4 893.9 L344.7 896.7 L345.9 899.5 L347.2 902.3 L348.4 905.1 L349.7 907.9 L350.9 910.6 L352.2 913.3 L353.4 915.9 L354.7 918.5 L355.9 921.1 L357.2 923.6 L358.4 926.1 L359.7 928.5 L360.9 930.9 L362.2 933.3 L363.4 935.6 L364.7 937.8 L365.9 940.0 L367.2 942.1 L368.4 944.2 L369.7 946.2 L370.9 948.1 L372.2 950.0 L373.4 951.9 L374.7 953.6 L375.9 955.3 L377.2 957.0 L378.4 958.6 L379.7 960.1 L380.9 961.5 L382.2 962.9 L383.4 964.3 L384.7 965.5 L385.9 966.7 L387.2 967.9 L388.4 969.0 L389.7 970.0 L390.9 971.0 L392.2 971.9 L393.4 972.8 L394.7 973.6 L395.9 974.3 L397.2 975.1 L398.4 975.7 L399.7 976.3 L400.9 976.9 L402.2 977.4 L403.4 977.9 L404.7 978.4 L405.9 978.8 L407.2 979.2 L408.4 979.5 L409.7 979.8 L410.9 980.1 L412.2 980.4 L413.4 980.6 L414.7 980.8 L415.9 981.0 L417.2 981.2 L418.4 981.4 L419.7 981.5 L420.9 981.6 L422.2 981.7 L423.4 981.8 L424.7 981.9 L425.9 982.0 L427.2 982.0 L428.4 982.1 L429.7 982.1 L430.9 982.2 L432.2 982.2 L433.4 982.3 L434.7 982.3 L435.9 982.3 L437.2 982.3 L438.4 982.3 L439.7 982.3 L440.9 982.4 L442.2 982.4 L443.4 982.4 L444.7 982.4 L445.9 982.4 L447.2 982.4 L448.4 982.4 L449.7 982.4 L450.9 982.4 L452.2 982.4 L453.4 982.4 L454.7 982.4 L455.9 982.4 L457.2 982.4 L458.4 982.4 L459.7 982.4 L460.9 982.4 L462.2 982.4 L463.4 982.4 L464.7 982.4 L465.9 982.4 L467.2 982.4 L468.4 982.4 L469.7 982.4 L470.9 982.4 L472.2 982.4 L473.4 982.4 L474.7 982.4 L475.9 982.4 L477.2 982.4 L478.4 982.4 L479.7 982.4 L480.9 982.4 L482.2 982.4 L483.4 982.4 L484.7 982.4 L485.9 982.4 L487.2 982.4 L488.4 982.4 L489.7 982.4 L490.9 982.4 L492.2 982.4 L493.4 982.4 L494.7 982.4 L495.9 982.4 L497.2 982.4 L498.4 982.4 L499.7 982.4 L500.9 982.4 L502.2 982.4 L503.4 982.4 L504.7 982.4 L505.9 982.4 L507.2 982.4 L508.4 982.4 L509.7 982.4 L510.9 982.4 L512.2 982.4 L513.5 982.4 L514.7 982.4 L516.0 982.4 L517.2 982.4 L518.5 982.4 L519.7 982.4 L521.0 982.4 L522.2 982.4 L523.5 982.4 L524.7 982.4 L526.0 982.4 L527.2 982.4 L528.5 982.4 L529.7 982.4 L531.0 982.4 L532.2 982.4 L533.5 982.4 L534.7 982.4 L536.0 982.4 L537.2 982.4 L538.5 982.4 L539.7 982.4 L541.0 982.4 L542.2 982.4 L543.5 982.4 L544.7 982.4 L546.0 982.4 L547.2 982.4 L548.5 982.4 L549.7 982.4 L551.0 982.4 L552.2 982.4 L553.5 982.4 L554.7 982.4 L556.0 982.4 L557.2 982.4 L558.5 982.4 L559.7 982.4 L561.0 982.4 L562.2 982.4 L563.5 982.4 L564.7 982.4 L566.0 982.4 L567.2 982.4 L568.5 982.4" fill="none" stroke="#0c0808" stroke-width="3.8" stroke-linecap="round" stroke-linejoin="round"/>
<path d="M99.7 701.1 L100.9 702.0 L102.2 703.0 L103.4 703.9 L104.7 704.9 L105.9 705.9 L107.2 706.9 L108.4 707.9 L109.7 708.9 L110.9 710.0 L112.2 711.1 L113.4 712.2 L114.7 713.3 L115.9 714.5 L117.2 715.7 L118.4 716.9 L119.7 718.1 L120.9 719.3 L122.2 720.6 L123.4 721.9 L124.7 723.2 L125.9 724.6 L127.2 725.9 L128.4 727.3 L129.7 728.7 L130.9 730.2 L132.2 731.7 L133.4 733.2 L134.7 734.7 L135.9 736.2 L137.2 737.8 L138.4 739.4 L139.7 741.1 L140.9 742.7 L142.2 744.4 L143.4 746.1 L144.7 747.9 L145.9 749.7 L147.2 751.5 L148.4 753.3 L149.7 755.2 L150.9 757.1 L152.2 759.0 L153.4 760.9 L154.7 762.9 L155.9 765.0 L157.2 767.0 L158.4 769.1 L159.7 771.2 L160.9 773.3 L162.2 775.5 L163.4 777.7 L164.7 779.9 L165.9 782.2 L167.2 784.5 L168.4 786.8 L169.7 789.1 L170.9 791.5 L172.2 793.9 L173.4 796.3 L174.7 798.8 L175.9 801.3 L177.2 803.8 L178.4 806.3 L179.7 808.9 L180.9 811.5 L182.2 814.1 L183.4 816.8 L184.7 819.4 L185.9 822.1 L187.2 824.8 L188.4 827.6 L189.7 830.3 L190.9 833.1 L192.2 835.9 L193.4 838.7 L194.7 841.5 L195.9 844.4 L197.2 847.2 L198.4 850.1 L199.7 853.0 L200.9 855.9 L202.2 858.8 L203.4 861.7 L204.7 864.6 L205.9 867.6 L207.2 870.5 L208.4 873.4 L209.7 876.4 L210.9 879.3 L212.2 882.3 L213.4 885.2 L214.7 888.1 L215.9 891.0 L217.2 893.9 L218.4 896.8 L219.7 899.7 L220.9 902.6 L222.2 905.5 L223.4 908.3 L224.7 911.1 L225.9 913.9 L227.2 916.7 L228.4 919.4 L229.7 922.2 L230.9 924.8 L232.2 927.5 L233.4 930.1 L234.7 932.7 L235.9 935.3 L237.2 937.8 L238.4 940.3 L239.7 942.7 L240.9 945.1 L242.2 947.4 L243.4 949.7 L244.7 952.0 L245.9 954.2 L247.2 956.3 L248.4 958.4 L249.7 960.5 L250.9 962.5 L252.2 964.4 L253.4 966.3 L254.7 968.1 L255.9 969.9 L257.2 971.6 L258.4 973.3 L259.7 974.9 L260.9 976.4 L262.2 977.9 L263.4 979.3 L264.7 980.7 L265.9 982.0 L267.2 983.3 L268.4 984.5 L269.7 985.6 L270.9 986.7 L272.2 987.8 L273.4 988.7 L274.7 989.7 L275.9 990.5 L277.2 991.4 L278.4 992.2 L279.7 992.9 L280.9 993.6 L282.2 994.2 L283.4 994.8 L284.7 995.4 L285.9 995.9 L287.2 996.4 L288.4 996.8 L289.7 997.2 L290.9 997.6 L292.2 998.0 L293.4 998.3 L294.7 998.6 L295.9 998.9 L297.2 999.1 L298.4 999.3 L299.7 999.5 L300.9 999.7 L302.2 999.9 L303.4 1000.0 L304.7 1000.1 L305.9 1000.2 L307.2 1000.3 L308.4 1000.4 L309.7 1000.5 L310.9 1000.6 L312.2 1000.6 L313.4 1000.7 L314.7 1000.7 L315.9 1000.8 L317.2 1000.8 L318.4 1000.9 L319.7 1000.9 L320.9 1000.9 L322.2 1000.9 L323.4 1000.9 L324.7 1000.9 L325.9 1001.0 L327.2 1001.0 L328.4 1001.0 L329.7 1001.0 L330.9 1001.0 L332.2 1001.0 L333.4 1001.0 L334.7 1001.0 L335.9 1001.0 L337.2 1001.0 L338.4 1001.0 L339.7 1001.0 L340.9 1001.0 L342.2 1001.0 L343.4 1001.0 L344.7 1001.0 L345.9 1001.0 L347.2 1001.0 L348.4 1001.0 L349.7 1001.0 L350.9 1001.0 L352.2 1001.0 L353.4 1001.0 L354.7 1001.0 L355.9 1001.0 L357.2 1001.0 L358.4 1001.0 L359.7 1001.0 L360.9 1001.0 L362.2 1001.0 L363.4 1001.0 L364.7 1001.0 L365.9 1001.0 L367.2 1001.0 L368.4 1001.0 L369.7 1001.0 L370.9 1001.0 L372.2 1001.0 L373.4 1001.0 L374.7 1001.0 L375.9 1001.0 L377.2 1001.0 L378.4 1001.0 L379.7 1001.0 L380.9 1001.0 L382.2 1001.0 L383.4 1001.0 L384.7 1001.0 L385.9 1001.0 L387.2 1001.0 L388.4 1001.0 L389.7 1001.0 L390.9 1001.0 L392.2 1001.0 L393.4 1001.0 L394.7 1001.0 L395.9 1001.0 L397.2 1001.0 L398.4 1001.0 L399.7 1001.0 L400.9 1001.0 L402.2 1001.0 L403.4 1001.0 L404.7 1001.0 L405.9 1001.0 L407.2 1001.0 L408.4 1001.0 L409.7 1001.0 L410.9 1001.0 L412.2 1001.0 L413.4 1001.0 L414.7 1001.0 L415.9 1001.0 L417.2 1001.0 L418.4 1001.0 L419.7 1001.0 L420.9 1001.0 L422.2 1001.0 L423.4 1001.0 L424.7 1001.0 L425.9 1001.0 L427.2 1001.0 L428.4 1001.0 L429.7 1001.0 L430.9 1001.0 L432.2 1001.0 L433.4 1001.0 L434.7 1001.0 L435.9 1001.0 L437.2 1001.0 L438.4 1001.0 L439.7 1001.0 L440.9 1001.0 L442.2 1001.0 L443.4 1001.0 L444.7 1001.0 L445.9 1001.0 L447.2 1001.0 L448.4 1001.0 L449.7 1001.0 L450.9 1001.0 L452.2 1001.0 L453.4 1001.0 L454.7 1001.0 L455.9 1001.0 L457.2 1001.0 L458.4 1001.0 L459.7 1001.0 L460.9 1001.0 L462.2 1001.0 L463.4 1001.0 L464.7 1001.0 L465.9 1001.0 L467.2 1001.0 L468.4 1001.0 L469.7 1001.0 L470.9 1001.0 L472.2 1001.0 L473.4 1001.0 L474.7 1001.0 L475.9 1001.0 L477.2 1001.0 L478.4 1001.0 L479.7 1001.0 L480.9 1001.0 L482.2 1001.0 L483.4 1001.0 L484.7 1001.0 L485.9 1001.0 L487.2 1001.0 L488.4 1001.0 L489.7 1001.0 L490.9 1001.0 L492.2 1001.0 L493.4 1001.0 L494.7 1001.0 L495.9 1001.0 L497.2 1001.0 L498.4 1001.0 L499.7 1001.0 L500.9 1001.0 L502.2 1001.0 L503.4 1001.0 L504.7 1001.0 L505.9 1001.0 L507.2 1001.0 L508.4 1001.0 L509.7 1001.0 L510.9 1001.0 L512.2 1001.0 L513.5 1001.0 L514.7 1001.0 L516.0 1001.0 L517.2 1001.0 L518.5 1001.0 L519.7 1001.0 L521.0 1001.0 L522.2 1001.0 L523.5 1001.0 L524.7 1001.0 L526.0 1001.0 L527.2 1001.0 L528.5 1001.0 L529.7 1001.0 L531.0 1001.0 L532.2 1001.0 L533.5 1001.0 L534.7 1001.0 L536.0 1001.0 L537.2 1001.0 L538.5 1001.0 L539.7 1001.0 L541.0 1001.0 L542.2 1001.0 L543.5 1001.0 L544.7 1001.0 L546.0 1001.0 L547.2 1001.0 L548.5 1001.0 L549.7 1001.0 L551.0 1001.0 L552.2 1001.0 L553.5 1001.0 L554.7 1001.0 L556.0 1001.0 L557.2 1001.0 L558.5 1001.0 L559.7 1001.0 L561.0 1001.0 L562.2 1001.0 L563.5 1001.0 L564.7 1001.0 L566.0 1001.0 L567.2 1001.0 L568.5 1001.0" fill="none" stroke="#56b532" stroke-width="3.8" stroke-linecap="round" stroke-linejoin="round"/>
<path d="M99.7 684.3 L100.9 684.4 L102.2 684.5 L103.4 684.7 L104.7 684.8 L105.9 685.0 L107.2 685.1 L108.4 685.3 L109.7 685.4 L110.9 685.6 L112.2 685.8 L113.4 685.9 L114.7 686.1 L115.9 686.3 L117.2 686.5 L118.4 686.6 L119.7 686.8 L120.9 687.0 L122.2 687.2 L123.4 687.4 L124.7 687.6 L125.9 687.9 L127.2 688.1 L128.4 688.3 L129.7 688.5 L130.9 688.8 L132.2 689.0 L133.4 689.3 L134.7 689.5 L135.9 689.8 L137.2 690.0 L138.4 690.3 L139.7 690.6 L140.9 690.9 L142.2 691.1 L143.4 691.4 L144.7 691.7 L145.9 692.0 L147.2 692.4 L148.4 692.7 L149.7 693.0 L150.9 693.3 L152.2 693.7 L153.4 694.0 L154.7 694.4 L155.9 694.8 L157.2 695.2 L158.4 695.5 L159.7 695.9 L160.9 696.3 L162.2 696.8 L163.4 697.2 L164.7 697.6 L165.9 698.0 L167.2 698.5 L168.4 699.0 L169.7 699.4 L170.9 699.9 L172.2 700.4 L173.4 700.9 L174.7 701.4 L175.9 702.0 L177.2 702.5 L178.4 703.0 L179.7 703.6 L180.9 704.2 L182.2 704.8 L183.4 705.4 L184.7 706.0 L185.9 706.6 L187.2 707.3 L188.4 707.9 L189.7 708.6 L190.9 709.3 L192.2 710.0 L193.4 710.7 L194.7 711.4 L195.9 712.2 L197.2 712.9 L198.4 713.7 L199.7 714.5 L200.9 715.3 L202.2 716.1 L203.4 717.0 L204.7 717.9 L205.9 718.7 L207.2 719.6 L208.4 720.6 L209.7 721.5 L210.9 722.5 L212.2 723.4 L213.4 724.4 L214.7 725.5 L215.9 726.5 L217.2 727.6 L218.4 728.6 L219.7 729.8 L220.9 730.9 L222.2 732.0 L223.4 733.2 L224.7 734.4 L225.9 735.6 L227.2 736.9 L228.4 738.1 L229.7 739.4 L230.9 740.8 L232.2 742.1 L233.4 743.5 L234.7 744.9 L235.9 746.3 L237.2 747.8 L238.4 749.2 L239.7 750.7 L240.9 752.3 L242.2 753.8 L243.4 755.4 L244.7 757.0 L245.9 758.7 L247.2 760.4 L248.4 762.1 L249.7 763.8 L250.9 765.6 L252.2 767.4 L253.4 769.2 L254.7 771.0 L255.9 772.9 L257.2 774.8 L258.4 776.8 L259.7 778.8 L260.9 780.8 L262.2 782.8 L263.4 784.9 L264.7 787.0 L265.9 789.1 L267.2 791.3 L268.4 793.5 L269.7 795.7 L270.9 798.0 L272.2 800.2 L273.4 802.6 L274.7 804.9 L275.9 807.3 L277.2 809.7 L278.4 812.1 L279.7 814.6 L280.9 817.1 L282.2 819.6 L283.4 822.1 L284.7 824.7 L285.9 827.3 L287.2 829.9 L288.4 832.5 L289.7 835.2 L290.9 837.9 L292.2 840.6 L293.4 843.3 L294.7 846.0 L295.9 848.8 L297.2 851.6 L298.4 854.3 L299.7 857.1 L300.9 860.0 L302.2 862.8 L303.4 865.6 L304.7 868.5 L305.9 871.3 L307.2 874.1 L308.4 877.0 L309.7 879.9 L310.9 882.7 L312.2 885.5 L313.4 888.4 L314.7 891.2 L315.9 894.1 L317.2 896.9 L318.4 899.7 L319.7 902.4 L320.9 905.2 L322.2 908.0 L323.4 910.7 L324.7 913.4 L325.9 916.1 L327.2 918.7 L328.4 921.3 L329.7 923.9 L330.9 926.4 L332.2 929.0 L333.4 931.4 L334.7 933.8 L335.9 936.2 L337.2 938.6 L338.4 940.9 L339.7 943.1 L340.9 945.3 L342.2 947.4 L343.4 949.5 L344.7 951.6 L345.9 953.5 L347.2 955.5 L348.4 957.3 L349.7 959.1 L350.9 960.9 L352.2 962.6 L353.4 964.2 L354.7 965.8 L355.9 967.3 L357.2 968.7 L358.4 970.1 L359.7 971.4 L360.9 972.7 L362.2 973.9 L363.4 975.0 L364.7 976.1 L365.9 977.2 L367.2 978.1 L368.4 979.1 L369.7 979.9 L370.9 980.7 L372.2 981.5 L373.4 982.2 L374.7 982.9 L375.9 983.5 L377.2 984.1 L378.4 984.7 L379.7 985.2 L380.9 985.6 L382.2 986.0 L383.4 986.4 L384.7 986.8 L385.9 987.1 L387.2 987.4 L388.4 987.7 L389.7 987.9 L390.9 988.2 L392.2 988.4 L393.4 988.5 L394.7 988.7 L395.9 988.8 L397.2 989.0 L398.4 989.1 L399.7 989.2 L400.9 989.3 L402.2 989.3 L403.4 989.4 L404.7 989.5 L405.9 989.5 L407.2 989.6 L408.4 989.6 L409.7 989.6 L410.9 989.7 L412.2 989.7 L413.4 989.7 L414.7 989.7 L415.9 989.7 L417.2 989.7 L418.4 989.8 L419.7 989.8 L420.9 989.8 L422.2 989.8 L423.4 989.8 L424.7 989.8 L425.9 989.8 L427.2 989.8 L428.4 989.8 L429.7 989.8 L430.9 989.8 L432.2 989.8 L433.4 989.8 L434.7 989.8 L435.9 989.8 L437.2 989.8 L438.4 989.8 L439.7 989.8 L440.9 989.8 L442.2 989.8 L443.4 989.8 L444.7 989.8 L445.9 989.8 L447.2 989.8 L448.4 989.8 L449.7 989.8 L450.9 989.8 L452.2 989.8 L453.4 989.8 L454.7 989.8 L455.9 989.8 L457.2 989.8 L458.4 989.8 L459.7 989.8 L460.9 989.8 L462.2 989.8 L463.4 989.8 L464.7 989.8 L465.9 989.8 L467.2 989.8 L468.4 989.8 L469.7 989.8 L470.9 989.8 L472.2 989.8 L473.4 989.8 L474.7 989.8 L475.9 989.8 L477.2 989.8 L478.4 989.8 L479.7 989.8 L480.9 989.8 L482.2 989.8 L483.4 989.8 L484.7 989.8 L485.9 989.8 L487.2 989.8 L488.4 989.8 L489.7 989.8 L490.9 989.8 L492.2 989.8 L493.4 989.8 L494.7 989.8 L495.9 989.8 L497.2 989.8 L498.4 989.8 L499.7 989.8 L500.9 989.8 L502.2 989.8 L503.4 989.8 L504.7 989.8 L505.9 989.8 L507.2 989.8 L508.4 989.8 L509.7 989.8 L510.9 989.8 L512.2 989.8 L513.5 989.8 L514.7 989.8 L516.0 989.8 L517.2 989.8 L518.5 989.8 L519.7 989.8 L521.0 989.8 L522.2 989.8 L523.5 989.8 L524.7 989.8 L526.0 989.8 L527.2 989.8 L528.5 989.8 L529.7 989.8 L531.0 989.8 L532.2 989.8 L533.5 989.8 L534.7 989.8 L536.0 989.8 L537.2 989.8 L538.5 989.8 L539.7 989.8 L541.0 989.8 L542.2 989.8 L543.5 989.8 L544.7 989.8 L546.0 989.8 L547.2 989.8 L548.5 989.8 L549.7 989.8 L551.0 989.8 L552.2 989.8 L553.5 989.8 L554.7 989.8 L556.0 989.8 L557.2 989.8 L558.5 989.8 L559.7 989.8 L561.0 989.8 L562.2 989.8 L563.5 989.8 L564.7 989.8 L566.0 989.8 L567.2 989.8 L568.5 989.8" fill="none" stroke="#3a50a3" stroke-width="3.8" stroke-linecap="round" stroke-linejoin="round"/>
<path d="M99.7 737.3 L100.9 739.2 L102.2 741.2 L103.4 743.3 L104.7 745.4 L105.9 747.5 L107.2 749.6 L108.4 751.8 L109.7 754.0 L110.9 756.2 L112.2 758.5 L113.4 760.8 L114.7 763.1 L115.9 765.5 L117.2 767.9 L118.4 770.3 L119.7 772.8 L120.9 775.2 L122.2 777.8 L123.4 780.3 L124.7 782.9 L125.9 785.5 L127.2 788.2 L128.4 790.9 L129.7 793.6 L130.9 796.3 L132.2 799.1 L133.4 801.9 L134.7 804.7 L135.9 807.5 L137.2 810.4 L138.4 813.3 L139.7 816.2 L140.9 819.2 L142.2 822.1 L143.4 825.1 L144.7 828.1 L145.9 831.2 L147.2 834.2 L148.4 837.3 L149.7 840.4 L150.9 843.5 L152.2 846.6 L153.4 849.7 L154.7 852.8 L155.9 856.0 L157.2 859.1 L158.4 862.3 L159.7 865.4 L160.9 868.6 L162.2 871.8 L163.4 874.9 L164.7 878.1 L165.9 881.3 L167.2 884.4 L168.4 887.6 L169.7 890.7 L170.9 893.8 L172.2 897.0 L173.4 900.1 L174.7 903.1 L175.9 906.2 L177.2 909.2 L178.4 912.3 L179.7 915.2 L180.9 918.2 L182.2 921.1 L183.4 924.1 L184.7 926.9 L185.9 929.8 L187.2 932.6 L188.4 935.3 L189.7 938.0 L190.9 940.7 L192.2 943.3 L193.4 945.9 L194.7 948.5 L195.9 950.9 L197.2 953.4 L198.4 955.8 L199.7 958.1 L200.9 960.4 L202.2 962.6 L203.4 964.7 L204.7 966.8 L205.9 968.9 L207.2 970.8 L208.4 972.8 L209.7 974.6 L210.9 976.4 L212.2 978.2 L213.4 979.8 L214.7 981.4 L215.9 983.0 L217.2 984.5 L218.4 985.9 L219.7 987.2 L220.9 988.5 L222.2 989.8 L223.4 991.0 L224.7 992.1 L225.9 993.2 L227.2 994.2 L228.4 995.1 L229.7 996.0 L230.9 996.9 L232.2 997.7 L233.4 998.4 L234.7 999.1 L235.9 999.8 L237.2 1000.4 L238.4 1000.9 L239.7 1001.5 L240.9 1002.0 L242.2 1002.4 L243.4 1002.8 L244.7 1003.2 L245.9 1003.5 L247.2 1003.9 L248.4 1004.2 L249.7 1004.4 L250.9 1004.7 L252.2 1004.9 L253.4 1005.1 L254.7 1005.3 L255.9 1005.4 L257.2 1005.5 L258.4 1005.7 L259.7 1005.8 L260.9 1005.9 L262.2 1006.0 L263.4 1006.0 L264.7 1006.1 L265.9 1006.2 L267.2 1006.2 L268.4 1006.3 L269.7 1006.3 L270.9 1006.3 L272.2 1006.4 L273.4 1006.4 L274.7 1006.4 L275.9 1006.4 L277.2 1006.4 L278.4 1006.4 L279.7 1006.5 L280.9 1006.5 L282.2 1006.5 L283.4 1006.5 L284.7 1006.5 L285.9 1006.5 L287.2 1006.5 L288.4 1006.5 L289.7 1006.5 L290.9 1006.5 L292.2 1006.5 L293.4 1006.5 L294.7 1006.5 L295.9 1006.5 L297.2 1006.5 L298.4 1006.5 L299.7 1006.5 L300.9 1006.5 L302.2 1006.5 L303.4 1006.5 L304.7 1006.5 L305.9 1006.5 L307.2 1006.5 L308.4 1006.5 L309.7 1006.5 L310.9 1006.5 L312.2 1006.5 L313.4 1006.5 L314.7 1006.5 L315.9 1006.5 L317.2 1006.5 L318.4 1006.5 L319.7 1006.5 L320.9 1006.5 L322.2 1006.5 L323.4 1006.5 L324.7 1006.5 L325.9 1006.5 L327.2 1006.5 L328.4 1006.5 L329.7 1006.5 L330.9 1006.5 L332.2 1006.5 L333.4 1006.5 L334.7 1006.5 L335.9 1006.5 L337.2 1006.5 L338.4 1006.5 L339.7 1006.5 L340.9 1006.5 L342.2 1006.5 L343.4 1006.5 L344.7 1006.5 L345.9 1006.5 L347.2 1006.5 L348.4 1006.5 L349.7 1006.5 L350.9 1006.5 L352.2 1006.5 L353.4 1006.5 L354.7 1006.5 L355.9 1006.5 L357.2 1006.5 L358.4 1006.5 L359.7 1006.5 L360.9 1006.5 L362.2 1006.5 L363.4 1006.5 L364.7 1006.5 L365.9 1006.5 L367.2 1006.5 L368.4 1006.5 L369.7 1006.5 L370.9 1006.5 L372.2 1006.5 L373.4 1006.5 L374.7 1006.5 L375.9 1006.5 L377.2 1006.5 L378.4 1006.5 L379.7 1006.5 L380.9 1006.5 L382.2 1006.5 L383.4 1006.5 L384.7 1006.5 L385.9 1006.5 L387.2 1006.5 L388.4 1006.5 L389.7 1006.5 L390.9 1006.5 L392.2 1006.5 L393.4 1006.5 L394.7 1006.5 L395.9 1006.5 L397.2 1006.5 L398.4 1006.5 L399.7 1006.5 L400.9 1006.5 L402.2 1006.5 L403.4 1006.5 L404.7 1006.5 L405.9 1006.5 L407.2 1006.5 L408.4 1006.5 L409.7 1006.5 L410.9 1006.5 L412.2 1006.5 L413.4 1006.5 L414.7 1006.5 L415.9 1006.5 L417.2 1006.5 L418.4 1006.5 L419.7 1006.5 L420.9 1006.5 L422.2 1006.5 L423.4 1006.5 L424.7 1006.5 L425.9 1006.5 L427.2 1006.5 L428.4 1006.5 L429.7 1006.5 L430.9 1006.5 L432.2 1006.5 L433.4 1006.5 L434.7 1006.5 L435.9 1006.5 L437.2 1006.5 L438.4 1006.5 L439.7 1006.5 L440.9 1006.5 L442.2 1006.5 L443.4 1006.5 L444.7 1006.5 L445.9 1006.5 L447.2 1006.5 L448.4 1006.5 L449.7 1006.5 L450.9 1006.5 L452.2 1006.5 L453.4 1006.5 L454.7 1006.5 L455.9 1006.5 L457.2 1006.5 L458.4 1006.5 L459.7 1006.5 L460.9 1006.5 L462.2 1006.5 L463.4 1006.5 L464.7 1006.5 L465.9 1006.5 L467.2 1006.5 L468.4 1006.5 L469.7 1006.5 L470.9 1006.5 L472.2 1006.5 L473.4 1006.5 L474.7 1006.5 L475.9 1006.5 L477.2 1006.5 L478.4 1006.5 L479.7 1006.5 L480.9 1006.5 L482.2 1006.5 L483.4 1006.5 L484.7 1006.5 L485.9 1006.5 L487.2 1006.5 L488.4 1006.5 L489.7 1006.5 L490.9 1006.5 L492.2 1006.5 L493.4 1006.5 L494.7 1006.5 L495.9 1006.5 L497.2 1006.5 L498.4 1006.5 L499.7 1006.5 L500.9 1006.5 L502.2 1006.5 L503.4 1006.5 L504.7 1006.5 L505.9 1006.5 L507.2 1006.5 L508.4 1006.5 L509.7 1006.5 L510.9 1006.5 L512.2 1006.5 L513.5 1006.5 L514.7 1006.5 L516.0 1006.5 L517.2 1006.5 L518.5 1006.5 L519.7 1006.5 L521.0 1006.5 L522.2 1006.5 L523.5 1006.5 L524.7 1006.5 L526.0 1006.5 L527.2 1006.5 L528.5 1006.5 L529.7 1006.5 L531.0 1006.5 L532.2 1006.5 L533.5 1006.5 L534.7 1006.5 L536.0 1006.5 L537.2 1006.5 L538.5 1006.5 L539.7 1006.5 L541.0 1006.5 L542.2 1006.5 L543.5 1006.5 L544.7 1006.5 L546.0 1006.5 L547.2 1006.5 L548.5 1006.5 L549.7 1006.5 L551.0 1006.5 L552.2 1006.5 L553.5 1006.5 L554.7 1006.5 L556.0 1006.5 L557.2 1006.5 L558.5 1006.5 L559.7 1006.5 L561.0 1006.5 L562.2 1006.5 L563.5 1006.5 L564.7 1006.5 L566.0 1006.5 L567.2 1006.5 L568.5 1006.5" fill="none" stroke="#0c0808" stroke-width="3.8" stroke-linecap="round" stroke-linejoin="round"/>
<path d="M99.7 626.8 V678.0" stroke="#e81f14" stroke-width="3.7" fill="none"/><rect x="90.7" y="624.4" width="18.0" height="4.8" rx="1.2" fill="#e81f14"/><rect x="90.7" y="675.6" width="18.0" height="4.8" rx="1.2" fill="#e81f14"/>
<path d="M158.3 637.0 V668.0" stroke="#e81f14" stroke-width="3.7" fill="none"/><rect x="149.3" y="634.6" width="18.0" height="4.8" rx="1.2" fill="#e81f14"/><rect x="149.3" y="665.6" width="18.0" height="4.8" rx="1.2" fill="#e81f14"/>
<path d="M216.9 639.8 V677.8" stroke="#e81f14" stroke-width="3.7" fill="none"/><rect x="207.9" y="637.4" width="18.0" height="4.8" rx="1.2" fill="#e81f14"/><rect x="207.9" y="675.4" width="18.0" height="4.8" rx="1.2" fill="#e81f14"/>
<path d="M275.5 682.1 V705.3" stroke="#e81f14" stroke-width="3.7" fill="none"/><rect x="266.5" y="679.7" width="18.0" height="4.8" rx="1.2" fill="#e81f14"/><rect x="266.5" y="702.9" width="18.0" height="4.8" rx="1.2" fill="#e81f14"/>
<path d="M334.1 806.9 V843.7" stroke="#e81f14" stroke-width="3.7" fill="none"/><rect x="325.1" y="804.5" width="18.0" height="4.8" rx="1.2" fill="#e81f14"/><rect x="325.1" y="841.3" width="18.0" height="4.8" rx="1.2" fill="#e81f14"/>
<rect x="92.3" y="645.1" width="14.7" height="14.6" fill="#e81f14"/>
<rect x="151.0" y="645.2" width="14.7" height="14.6" fill="#e81f14"/>
<rect x="209.5" y="651.5" width="14.7" height="14.6" fill="#e81f14"/>
<rect x="268.1" y="686.4" width="14.7" height="14.6" fill="#e81f14"/>
<rect x="326.8" y="818.0" width="14.7" height="14.6" fill="#e81f14"/>
<rect x="385.3" y="940.1" width="14.7" height="14.6" fill="#e81f14"/>
<rect x="443.9" y="984.6" width="14.7" height="14.6" fill="#e81f14"/>
<rect x="502.5" y="980.4" width="14.7" height="14.6" fill="#e81f14"/>
<rect x="561.1" y="990.9" width="14.7" height="14.6" fill="#e81f14"/>
<path d="M99.7 702.7 V709.2" stroke="#0c0808" stroke-width="3.7" fill="none"/><path d="M99.7 722.2 V728.7" stroke="#0c0808" stroke-width="3.7" fill="none"/><rect x="90.7" y="700.3" width="18.0" height="4.8" rx="1.2" fill="#0c0808"/><rect x="90.7" y="726.3" width="18.0" height="4.8" rx="1.2" fill="#0c0808"/>
<path d="M158.3 825.0 V827.7" stroke="#0c0808" stroke-width="3.7" fill="none"/><path d="M158.3 840.7 V843.4" stroke="#0c0808" stroke-width="3.7" fill="none"/><rect x="149.3" y="822.6" width="18.0" height="4.8" rx="1.2" fill="#0c0808"/><rect x="149.3" y="841.0" width="18.0" height="4.8" rx="1.2" fill="#0c0808"/>
<circle cx="99.7" cy="715.7" r="6.7" fill="none" stroke="#0c0808" stroke-width="3.5"/>
<circle cx="158.3" cy="834.2" r="6.7" fill="none" stroke="#0c0808" stroke-width="3.5"/>
<circle cx="216.9" cy="934.3" r="6.7" fill="none" stroke="#0c0808" stroke-width="3.5"/>
<circle cx="275.5" cy="968.6" r="6.7" fill="none" stroke="#0c0808" stroke-width="3.5"/>
<circle cx="334.1" cy="977.1" r="6.7" fill="none" stroke="#0c0808" stroke-width="3.5"/>
<circle cx="392.7" cy="987.7" r="6.7" fill="none" stroke="#0c0808" stroke-width="3.5"/>
<circle cx="451.3" cy="988.7" r="6.7" fill="none" stroke="#0c0808" stroke-width="3.5"/>
<circle cx="509.9" cy="996.1" r="6.7" fill="none" stroke="#0c0808" stroke-width="3.5"/>
<circle cx="568.5" cy="1007.8" r="6.7" fill="none" stroke="#0c0808" stroke-width="3.5"/>
<path d="M216.9 671.3 V676.6" stroke="#0c0808" stroke-width="3.7" fill="none"/><path d="M216.9 689.6 V694.9" stroke="#0c0808" stroke-width="3.7" fill="none"/><rect x="207.9" y="668.9" width="18.0" height="4.8" rx="1.2" fill="#0c0808"/><rect x="207.9" y="692.5" width="18.0" height="4.8" rx="1.2" fill="#0c0808"/>
<path d="M99.7 669.1 L106.3 682.1 L93.1 682.1 Z" fill="none" stroke="#0c0808" stroke-width="3.4" stroke-linejoin="round"/>
<path d="M158.3 664.9 L164.9 677.9 L151.7 677.9 Z" fill="none" stroke="#0c0808" stroke-width="3.4" stroke-linejoin="round"/>
<path d="M216.9 676.5 L223.5 689.5 L210.3 689.5 Z" fill="none" stroke="#0c0808" stroke-width="3.4" stroke-linejoin="round"/>
<path d="M275.5 773.9 L282.1 786.9 L268.9 786.9 Z" fill="none" stroke="#0c0808" stroke-width="3.4" stroke-linejoin="round"/>
<path d="M334.1 870.0 L340.7 883.0 L327.5 883.0 Z" fill="none" stroke="#0c0808" stroke-width="3.4" stroke-linejoin="round"/>
<path d="M392.7 937.7 L399.3 950.7 L386.1 950.7 Z" fill="none" stroke="#0c0808" stroke-width="3.4" stroke-linejoin="round"/>
<path d="M451.3 968.4 L457.9 981.4 L444.7 981.4 Z" fill="none" stroke="#0c0808" stroke-width="3.4" stroke-linejoin="round"/>
<path d="M509.9 982.1 L516.5 995.1 L503.3 995.1 Z" fill="none" stroke="#0c0808" stroke-width="3.4" stroke-linejoin="round"/>
<path d="M568.5 1000.4 L575.1 1013.4 L561.9 1013.4 Z" fill="none" stroke="#0c0808" stroke-width="3.4" stroke-linejoin="round"/>
<path d="M99.7 662.6 V719.0" stroke="#56b532" stroke-width="3.7" fill="none"/><rect x="90.7" y="660.2" width="18.0" height="4.8" rx="1.2" fill="#56b532"/><rect x="90.7" y="716.6" width="18.0" height="4.8" rx="1.2" fill="#56b532"/>
<path d="M158.3 753.0 V801.0" stroke="#56b532" stroke-width="3.7" fill="none"/><rect x="149.3" y="750.6" width="18.0" height="4.8" rx="1.2" fill="#56b532"/><rect x="149.3" y="798.6" width="18.0" height="4.8" rx="1.2" fill="#56b532"/>
<path d="M216.9 886.3 V909.1" stroke="#56b532" stroke-width="3.7" fill="none"/><rect x="207.9" y="883.9" width="18.0" height="4.8" rx="1.2" fill="#56b532"/><rect x="207.9" y="906.7" width="18.0" height="4.8" rx="1.2" fill="#56b532"/>
<path d="M275.5 952.7 V967.5" stroke="#56b532" stroke-width="3.7" fill="none"/><rect x="266.5" y="950.3" width="18.0" height="4.8" rx="1.2" fill="#56b532"/><rect x="266.5" y="965.1" width="18.0" height="4.8" rx="1.2" fill="#56b532"/>
<path d="M99.7 697.7 L106.5 683.9 L92.9 683.9 Z" fill="#56b532"/>
<path d="M158.3 783.9 L165.1 770.1 L151.5 770.1 Z" fill="#56b532"/>
<path d="M216.9 904.6 L223.7 890.8 L210.1 890.8 Z" fill="#56b532"/>
<path d="M275.5 967.0 L282.3 953.2 L268.7 953.2 Z" fill="#56b532"/>
<path d="M334.1 1000.9 L340.9 987.1 L327.3 987.1 Z" fill="#56b532"/>
<path d="M392.7 1012.5 L399.5 998.7 L385.9 998.7 Z" fill="#56b532"/>
<path d="M451.3 1011.5 L458.1 997.7 L444.5 997.7 Z" fill="#56b532"/>
<path d="M509.9 1014.7 L516.7 1000.9 L503.1 1000.9 Z" fill="#56b532"/>
<path d="M568.5 1027.4 L575.3 1013.6 L561.7 1013.6 Z" fill="#56b532"/>
<path d="M99.7 656.2 V711.8" stroke="#3a50a3" stroke-width="3.7" fill="none"/><rect x="90.7" y="653.8" width="18.0" height="4.8" rx="1.2" fill="#3a50a3"/><rect x="90.7" y="709.4" width="18.0" height="4.8" rx="1.2" fill="#3a50a3"/>
<path d="M158.3 661.3 V710.7" stroke="#3a50a3" stroke-width="3.7" fill="none"/><rect x="149.3" y="658.9" width="18.0" height="4.8" rx="1.2" fill="#3a50a3"/><rect x="149.3" y="708.3" width="18.0" height="4.8" rx="1.2" fill="#3a50a3"/>
<path d="M216.9 707.5 V754.5" stroke="#3a50a3" stroke-width="3.7" fill="none"/><rect x="207.9" y="705.1" width="18.0" height="4.8" rx="1.2" fill="#3a50a3"/><rect x="207.9" y="752.1" width="18.0" height="4.8" rx="1.2" fill="#3a50a3"/>
<path d="M275.5 821.0 V863.0" stroke="#3a50a3" stroke-width="3.7" fill="none"/><rect x="266.5" y="818.6" width="18.0" height="4.8" rx="1.2" fill="#3a50a3"/><rect x="266.5" y="860.6" width="18.0" height="4.8" rx="1.2" fill="#3a50a3"/>
<path d="M334.1 894.2 V916.0" stroke="#3a50a3" stroke-width="3.7" fill="none"/><rect x="325.1" y="891.8" width="18.0" height="4.8" rx="1.2" fill="#3a50a3"/><rect x="325.1" y="913.6" width="18.0" height="4.8" rx="1.2" fill="#3a50a3"/>
<path d="M392.7 951.7 V964.4" stroke="#3a50a3" stroke-width="3.7" fill="none"/><rect x="383.7" y="949.3" width="18.0" height="4.8" rx="1.2" fill="#3a50a3"/>
<path d="M99.7 677.1 L106.5 690.9 L92.9 690.9 Z" fill="#3a50a3"/>
<path d="M158.3 679.1 L165.1 692.9 L151.5 692.9 Z" fill="#3a50a3"/>
<path d="M216.9 724.1 L223.7 737.9 L210.1 737.9 Z" fill="#3a50a3"/>
<path d="M275.5 835.1 L282.3 848.9 L268.7 848.9 Z" fill="#3a50a3"/>
<path d="M334.1 898.2 L340.9 912.0 L327.3 912.0 Z" fill="#3a50a3"/>
<path d="M392.7 957.5 L399.5 971.3 L385.9 971.3 Z" fill="#3a50a3"/>
<path d="M451.3 987.1 L458.1 1000.9 L444.5 1000.9 Z" fill="#3a50a3"/>
<path d="M509.9 994.5 L516.7 1008.3 L503.1 1008.3 Z" fill="#3a50a3"/>
<path d="M568.5 1011.1 L575.3 1024.9 L561.7 1024.9 Z" fill="#3a50a3"/>
<path d="M158.3 863.9 V887.1" stroke="#0c0808" stroke-width="3.7" fill="none"/><rect x="149.3" y="861.5" width="18.0" height="4.8" rx="1.2" fill="#0c0808"/><rect x="149.3" y="884.7" width="18.0" height="4.8" rx="1.2" fill="#0c0808"/>
<circle cx="99.7" cy="736.0" r="6.7" fill="#0c0808"/>
<circle cx="158.3" cy="875.5" r="6.7" fill="#0c0808"/>
<circle cx="216.9" cy="969.0" r="6.7" fill="#0c0808"/>
<circle cx="275.5" cy="989.4" r="6.7" fill="#0c0808"/>
<circle cx="334.1" cy="1005.0" r="6.7" fill="#0c0808"/>
<circle cx="392.7" cy="1016.9" r="6.7" fill="#0c0808"/>
<circle cx="451.3" cy="1017.7" r="6.7" fill="#0c0808"/>
<circle cx="509.9" cy="1019.4" r="6.7" fill="#0c0808"/>
<circle cx="568.5" cy="1015.2" r="6.7" fill="#0c0808"/>
<rect x="74.95" y="571.85" width="533.00" height="4.90" fill="#0c0808"/>
<rect x="74.95" y="1047.05" width="533.00" height="4.90" fill="#0c0808"/>
<rect x="74.95" y="571.85" width="4.90" height="480.10" fill="#0c0808"/>
<rect x="603.05" y="571.85" width="4.90" height="480.10" fill="#0c0808"/>
<text transform="translate(90.39,1082.50) scale(1.0875,1)" font-size="21.0">0.001</text><rect x="135.99" y="1080.69" width="4.62" height="2.52" fill="#fff"/><rect x="142.61" y="1080.69" width="4.34" height="2.52" fill="#fff"/>
<text transform="translate(217.48,1082.50) scale(1.0932,1)" font-size="21.0">0.01</text><rect x="250.55" y="1080.69" width="4.65" height="2.52" fill="#fff"/><rect x="257.21" y="1080.69" width="4.36" height="2.52" fill="#fff"/>
<text transform="translate(344.76,1082.50) scale(1.1212,1)" font-size="21.0">0.1</text><rect x="365.58" y="1080.69" width="4.77" height="2.52" fill="#fff"/><rect x="372.41" y="1080.69" width="4.47" height="2.52" fill="#fff"/>
<text transform="translate(475.69,1082.50) scale(1.0800,1)" font-size="21.0">1</text><rect x="476.82" y="1080.69" width="4.59" height="2.52" fill="#fff"/><rect x="483.40" y="1080.69" width="4.31" height="2.52" fill="#fff"/>
<text transform="translate(591.79,1082.50) scale(1.0593,1)" font-size="21.0">10</text><rect x="592.90" y="1080.69" width="4.50" height="2.52" fill="#fff"/><rect x="599.35" y="1080.69" width="4.23" height="2.52" fill="#fff"/>
<text transform="translate(28.45,677.00) scale(1.0268,1)" font-size="21.0">100</text><rect x="29.53" y="675.19" width="4.37" height="2.52" fill="#fff"/><rect x="35.78" y="675.19" width="4.10" height="2.52" fill="#fff"/>
<text transform="translate(40.71,862.90) scale(1.0536,1)" font-size="21.0">50</text>
<text transform="translate(52.66,1054.00) scale(1.0020,1)" font-size="21.0">0</text>
<text transform="translate(207.43,1125.20) scale(0.9747,1)" font-size="33.0">Mitoxantrone (<tspan font-style="italic">μ</tspan>M)</text></g>
<g><rect x="689.4" y="1048.6" width="4.6" height="4.8" fill="#0c0808"/>
<rect x="699.1" y="1048.6" width="4.6" height="4.8" fill="#0c0808"/>
<rect x="707.3" y="1048.6" width="4.6" height="4.8" fill="#0c0808"/>
<rect x="714.4" y="1048.6" width="4.6" height="4.8" fill="#0c0808"/>
<rect x="720.6" y="1048.6" width="4.6" height="4.8" fill="#0c0808"/>
<rect x="726.0" y="1048.6" width="4.9" height="8.1" fill="#0c0808"/>
<rect x="763.0" y="1048.6" width="4.6" height="4.8" fill="#0c0808"/>
<rect x="784.5" y="1048.6" width="4.6" height="4.8" fill="#0c0808"/>
<rect x="799.8" y="1048.6" width="4.6" height="4.8" fill="#0c0808"/>
<rect x="811.6" y="1048.6" width="4.6" height="4.8" fill="#0c0808"/>
<rect x="821.3" y="1048.6" width="4.6" height="4.8" fill="#0c0808"/>
<rect x="829.5" y="1048.6" width="4.6" height="4.8" fill="#0c0808"/>
<rect x="836.6" y="1048.6" width="4.6" height="4.8" fill="#0c0808"/>
<rect x="842.9" y="1048.6" width="4.6" height="4.8" fill="#0c0808"/>
<rect x="848.3" y="1048.6" width="4.9" height="8.1" fill="#0c0808"/>
<rect x="885.3" y="1048.6" width="4.6" height="4.8" fill="#0c0808"/>
<rect x="906.8" y="1048.6" width="4.6" height="4.8" fill="#0c0808"/>
<rect x="922.1" y="1048.6" width="4.6" height="4.8" fill="#0c0808"/>
<rect x="933.9" y="1048.6" width="4.6" height="4.8" fill="#0c0808"/>
<rect x="943.6" y="1048.6" width="4.6" height="4.8" fill="#0c0808"/>
<rect x="951.8" y="1048.6" width="4.6" height="4.8" fill="#0c0808"/>
<rect x="958.9" y="1048.6" width="4.6" height="4.8" fill="#0c0808"/>
<rect x="965.1" y="1048.6" width="4.6" height="4.8" fill="#0c0808"/>
<rect x="970.5" y="1048.6" width="4.9" height="8.1" fill="#0c0808"/>
<rect x="1007.5" y="1048.6" width="4.6" height="4.8" fill="#0c0808"/>
<rect x="1029.0" y="1048.6" width="4.6" height="4.8" fill="#0c0808"/>
<rect x="1044.3" y="1048.6" width="4.6" height="4.8" fill="#0c0808"/>
<rect x="1056.1" y="1048.6" width="4.6" height="4.8" fill="#0c0808"/>
<rect x="1065.8" y="1048.6" width="4.6" height="4.8" fill="#0c0808"/>
<rect x="1074.0" y="1048.6" width="4.6" height="4.8" fill="#0c0808"/>
<rect x="1081.1" y="1048.6" width="4.6" height="4.8" fill="#0c0808"/>
<rect x="1087.4" y="1048.6" width="4.6" height="4.8" fill="#0c0808"/>
<rect x="1092.8" y="1048.6" width="4.9" height="8.1" fill="#0c0808"/>
<rect x="1129.8" y="1048.6" width="4.6" height="4.8" fill="#0c0808"/>
<rect x="1151.3" y="1048.6" width="4.6" height="4.8" fill="#0c0808"/>
<rect x="1166.6" y="1048.6" width="4.6" height="4.8" fill="#0c0808"/>
<rect x="1178.4" y="1048.6" width="4.6" height="4.8" fill="#0c0808"/>
<rect x="1188.1" y="1048.6" width="4.6" height="4.8" fill="#0c0808"/>
<rect x="1196.3" y="1048.6" width="4.6" height="4.8" fill="#0c0808"/>
<rect x="1203.4" y="1048.6" width="4.6" height="4.8" fill="#0c0808"/>
<rect x="1209.6" y="1048.6" width="4.6" height="4.8" fill="#0c0808"/>
<rect x="1215.0" y="1048.6" width="4.9" height="8.1" fill="#0c0808"/>
<rect x="683.9" y="1046.1" width="8.4" height="5" fill="#0c0808"/>
<rect x="683.9" y="857.4" width="8.4" height="5" fill="#0c0808"/>
<rect x="683.9" y="668.8" width="8.4" height="5" fill="#0c0808"/>
<path d="M714.1 688.7 L715.3 690.5 L716.6 692.4 L717.8 694.3 L719.1 696.3 L720.3 698.3 L721.6 700.3 L722.8 702.3 L724.1 704.4 L725.3 706.5 L726.6 708.6 L727.8 710.8 L729.1 713.0 L730.3 715.3 L731.6 717.5 L732.8 719.9 L734.1 722.2 L735.3 724.6 L736.6 727.0 L737.8 729.4 L739.1 731.9 L740.3 734.4 L741.6 737.0 L742.8 739.5 L744.1 742.2 L745.3 744.8 L746.6 747.5 L747.8 750.2 L749.1 752.9 L750.3 755.7 L751.6 758.5 L752.8 761.3 L754.1 764.2 L755.3 767.1 L756.6 770.0 L757.8 772.9 L759.1 775.9 L760.3 778.9 L761.6 781.9 L762.8 784.9 L764.1 788.0 L765.3 791.1 L766.6 794.2 L767.8 797.3 L769.1 800.5 L770.3 803.6 L771.6 806.8 L772.8 810.0 L774.1 813.2 L775.3 816.4 L776.6 819.7 L777.8 822.9 L779.1 826.2 L780.3 829.4 L781.6 832.7 L782.8 835.9 L784.1 839.2 L785.3 842.5 L786.6 845.7 L787.8 849.0 L789.1 852.2 L790.3 855.5 L791.6 858.7 L792.8 861.9 L794.1 865.1 L795.3 868.3 L796.6 871.5 L797.8 874.6 L799.1 877.7 L800.3 880.8 L801.6 883.9 L802.8 886.9 L804.1 889.9 L805.3 892.9 L806.6 895.9 L807.8 898.8 L809.1 901.6 L810.3 904.4 L811.6 907.2 L812.8 910.0 L814.1 912.6 L815.3 915.3 L816.6 917.9 L817.8 920.4 L819.1 922.9 L820.3 925.3 L821.6 927.7 L822.8 930.0 L824.1 932.2 L825.3 934.4 L826.6 936.5 L827.8 938.6 L829.1 940.6 L830.3 942.5 L831.6 944.4 L832.8 946.2 L834.1 948.0 L835.3 949.7 L836.6 951.3 L837.8 952.8 L839.1 954.3 L840.3 955.7 L841.6 957.1 L842.8 958.4 L844.1 959.6 L845.3 960.8 L846.6 961.9 L847.8 963.0 L849.1 964.0 L850.3 964.9 L851.6 965.8 L852.8 966.7 L854.1 967.5 L855.3 968.2 L856.6 968.9 L857.8 969.5 L859.1 970.1 L860.3 970.7 L861.6 971.2 L862.8 971.7 L864.1 972.1 L865.3 972.5 L866.6 972.9 L867.8 973.2 L869.1 973.5 L870.3 973.8 L871.6 974.1 L872.8 974.3 L874.1 974.5 L875.3 974.7 L876.6 974.8 L877.8 975.0 L879.1 975.1 L880.3 975.2 L881.6 975.3 L882.8 975.4 L884.1 975.5 L885.3 975.6 L886.6 975.7 L887.8 975.7 L889.1 975.8 L890.3 975.8 L891.6 975.8 L892.8 975.9 L894.1 975.9 L895.3 975.9 L896.6 975.9 L897.8 975.9 L899.1 975.9 L900.3 976.0 L901.6 976.0 L902.8 976.0 L904.1 976.0 L905.3 976.0 L906.6 976.0 L907.8 976.0 L909.1 976.0 L910.3 976.0 L911.6 976.0 L912.8 976.0 L914.1 976.0 L915.3 976.0 L916.6 976.0 L917.8 976.0 L919.1 976.0 L920.3 976.0 L921.6 976.0 L922.8 976.0 L924.1 976.0 L925.3 976.0 L926.6 976.0 L927.8 976.0 L929.1 976.0 L930.3 976.0 L931.6 976.0 L932.8 976.0 L934.1 976.0 L935.3 976.0 L936.6 976.0 L937.8 976.0 L939.1 976.0 L940.3 976.0 L941.6 976.0 L942.8 976.0 L944.1 976.0 L945.3 976.0 L946.6 976.0 L947.8 976.0 L949.1 976.0 L950.3 976.0 L951.6 976.0 L952.8 976.0 L954.1 976.0 L955.3 976.0 L956.6 976.0 L957.8 976.0 L959.1 976.0 L960.3 976.0 L961.6 976.0 L962.8 976.0 L964.1 976.0 L965.3 976.0 L966.6 976.0 L967.8 976.0 L969.1 976.0 L970.3 976.0 L971.6 976.0 L972.8 976.0 L974.1 976.0 L975.3 976.0 L976.6 976.0 L977.8 976.0 L979.1 976.0 L980.3 976.0 L981.6 976.0 L982.8 976.0 L984.1 976.0 L985.3 976.0 L986.6 976.0 L987.8 976.0 L989.1 976.0 L990.3 976.0 L991.6 976.0 L992.8 976.0 L994.1 976.0 L995.3 976.0 L996.6 976.0 L997.8 976.0 L999.1 976.0 L1000.3 976.0 L1001.6 976.0 L1002.8 976.0 L1004.1 976.0 L1005.3 976.0 L1006.6 976.0 L1007.8 976.0 L1009.1 976.0 L1010.3 976.0 L1011.6 976.0 L1012.8 976.0 L1014.1 976.0 L1015.3 976.0 L1016.6 976.0 L1017.8 976.0 L1019.1 976.0 L1020.3 976.0 L1021.6 976.0 L1022.8 976.0 L1024.1 976.0 L1025.3 976.0 L1026.6 976.0 L1027.8 976.0 L1029.1 976.0 L1030.3 976.0 L1031.6 976.0 L1032.8 976.0 L1034.1 976.0 L1035.3 976.0 L1036.6 976.0 L1037.8 976.0 L1039.1 976.0 L1040.3 976.0 L1041.6 976.0 L1042.8 976.0 L1044.1 976.0 L1045.3 976.0 L1046.6 976.0 L1047.8 976.0 L1049.1 976.0 L1050.3 976.0 L1051.6 976.0 L1052.8 976.0 L1054.1 976.0 L1055.3 976.0 L1056.6 976.0 L1057.8 976.0 L1059.1 976.0 L1060.3 976.0 L1061.6 976.0 L1062.8 976.0 L1064.1 976.0 L1065.3 976.0 L1066.6 976.0 L1067.8 976.0 L1069.1 976.0 L1070.3 976.0 L1071.6 976.0 L1072.8 976.0 L1074.1 976.0 L1075.3 976.0 L1076.6 976.0 L1077.8 976.0 L1079.1 976.0 L1080.3 976.0 L1081.6 976.0 L1082.8 976.0 L1084.1 976.0 L1085.3 976.0 L1086.6 976.0 L1087.8 976.0 L1089.1 976.0 L1090.3 976.0 L1091.6 976.0 L1092.8 976.0 L1094.1 976.0 L1095.3 976.0 L1096.6 976.0 L1097.8 976.0 L1099.1 976.0 L1100.3 976.0 L1101.6 976.0 L1102.8 976.0 L1104.1 976.0 L1105.3 976.0 L1106.6 976.0 L1107.8 976.0 L1109.1 976.0 L1110.3 976.0 L1111.6 976.0 L1112.8 976.0 L1114.1 976.0 L1115.3 976.0 L1116.6 976.0 L1117.8 976.0 L1119.1 976.0 L1120.3 976.0 L1121.6 976.0 L1122.8 976.0 L1124.1 976.0 L1125.3 976.0 L1126.6 976.0 L1127.8 976.0 L1129.1 976.0 L1130.3 976.0 L1131.6 976.0 L1132.8 976.0 L1134.1 976.0 L1135.3 976.0 L1136.6 976.0 L1137.8 976.0 L1139.1 976.0 L1140.3 976.0 L1141.6 976.0 L1142.8 976.0 L1144.1 976.0 L1145.3 976.0 L1146.6 976.0 L1147.8 976.0 L1149.1 976.0 L1150.3 976.0 L1151.6 976.0 L1152.8 976.0 L1154.1 976.0 L1155.3 976.0 L1156.6 976.0 L1157.8 976.0 L1159.1 976.0 L1160.3 976.0 L1161.6 976.0 L1162.8 976.0 L1164.1 976.0 L1165.3 976.0 L1166.6 976.0 L1167.8 976.0 L1169.1 976.0 L1170.3 976.0 L1171.6 976.0 L1172.8 976.0 L1174.1 976.0 L1175.3 976.0 L1176.6 976.0 L1177.8 976.0 L1179.1 976.0 L1180.7 976.0" fill="none" stroke="#0c0808" stroke-width="3.8" stroke-linecap="round" stroke-linejoin="round"/>
<path d="M714.1 666.5 L715.3 666.5 L716.6 666.5 L717.8 666.5 L719.1 666.5 L720.3 666.5 L721.6 666.5 L722.8 666.5 L724.1 666.5 L725.3 666.5 L726.6 666.5 L727.8 666.5 L729.1 666.5 L730.3 666.5 L731.6 666.5 L732.8 666.5 L734.1 666.5 L735.3 666.5 L736.6 666.5 L737.8 666.5 L739.1 666.5 L740.3 666.5 L741.6 666.5 L742.8 666.5 L744.1 666.5 L745.3 666.5 L746.6 666.5 L747.8 666.5 L749.1 666.5 L750.3 666.5 L751.6 666.5 L752.8 666.5 L754.1 666.5 L755.3 666.5 L756.6 666.5 L757.8 666.5 L759.1 666.5 L760.3 666.5 L761.6 666.5 L762.8 666.5 L764.1 666.5 L765.3 666.5 L766.6 666.5 L767.8 666.5 L769.1 666.5 L770.3 666.5 L771.6 666.6 L772.8 666.6 L774.1 666.6 L775.3 666.6 L776.6 666.6 L777.8 666.6 L779.1 666.6 L780.3 666.6 L781.6 666.6 L782.8 666.6 L784.1 666.6 L785.3 666.6 L786.6 666.6 L787.8 666.6 L789.1 666.6 L790.3 666.6 L791.6 666.6 L792.8 666.6 L794.1 666.6 L795.3 666.6 L796.6 666.6 L797.8 666.7 L799.1 666.7 L800.3 666.7 L801.6 666.7 L802.8 666.7 L804.1 666.7 L805.3 666.7 L806.6 666.7 L807.8 666.7 L809.1 666.7 L810.3 666.7 L811.6 666.7 L812.8 666.7 L814.1 666.7 L815.3 666.8 L816.6 666.8 L817.8 666.8 L819.1 666.8 L820.3 666.8 L821.6 666.8 L822.8 666.8 L824.1 666.8 L825.3 666.8 L826.6 666.8 L827.8 666.9 L829.1 666.9 L830.3 666.9 L831.6 666.9 L832.8 666.9 L834.1 666.9 L835.3 666.9 L836.6 666.9 L837.8 667.0 L839.1 667.0 L840.3 667.0 L841.6 667.0 L842.8 667.0 L844.1 667.0 L845.3 667.1 L846.6 667.1 L847.8 667.1 L849.1 667.1 L850.3 667.1 L851.6 667.2 L852.8 667.2 L854.1 667.2 L855.3 667.2 L856.6 667.2 L857.8 667.3 L859.1 667.3 L860.3 667.3 L861.6 667.3 L862.8 667.4 L864.1 667.4 L865.3 667.4 L866.6 667.4 L867.8 667.5 L869.1 667.5 L870.3 667.5 L871.6 667.6 L872.8 667.6 L874.1 667.6 L875.3 667.7 L876.6 667.7 L877.8 667.7 L879.1 667.8 L880.3 667.8 L881.6 667.9 L882.8 667.9 L884.1 667.9 L885.3 668.0 L886.6 668.0 L887.8 668.1 L889.1 668.1 L890.3 668.2 L891.6 668.2 L892.8 668.3 L894.1 668.4 L895.3 668.4 L896.6 668.5 L897.8 668.6 L899.1 668.6 L900.3 668.7 L901.6 668.8 L902.8 668.8 L904.1 668.9 L905.3 669.0 L906.6 669.1 L907.8 669.2 L909.1 669.3 L910.3 669.4 L911.6 669.5 L912.8 669.6 L914.1 669.7 L915.3 669.8 L916.6 669.9 L917.8 670.0 L919.1 670.2 L920.3 670.3 L921.6 670.4 L922.8 670.6 L924.1 670.8 L925.3 670.9 L926.6 671.1 L927.8 671.3 L929.1 671.4 L930.3 671.6 L931.6 671.8 L932.8 672.1 L934.1 672.3 L935.3 672.5 L936.6 672.8 L937.8 673.0 L939.1 673.3 L940.3 673.6 L941.6 673.9 L942.8 674.2 L944.1 674.6 L945.3 675.0 L946.6 675.3 L947.8 675.7 L949.1 676.2 L950.3 676.6 L951.6 677.1 L952.8 677.6 L954.1 678.2 L955.3 678.7 L956.6 679.4 L957.8 680.0 L959.1 680.7 L960.3 681.4 L961.6 682.2 L962.8 683.1 L964.1 684.0 L965.3 684.9 L966.6 686.0 L967.8 687.1 L969.1 688.2 L970.3 689.5 L971.6 690.8 L972.8 692.3 L974.1 693.8 L975.3 695.5 L976.6 697.3 L977.8 699.2 L979.1 701.3 L980.3 703.5 L981.6 705.9 L982.8 708.5 L984.1 711.3 L985.3 714.3 L986.6 717.5 L987.8 721.0 L989.1 724.7 L990.3 728.7 L991.6 732.9 L992.8 737.5 L994.1 742.4 L995.3 747.7 L996.6 753.3 L997.8 759.2 L999.1 765.5 L1000.3 772.2 L1001.6 779.2 L1002.8 786.6 L1004.1 794.4 L1005.3 802.4 L1006.6 810.7 L1007.8 819.3 L1009.1 828.1 L1010.3 837.0 L1011.6 846.1 L1012.8 855.1 L1014.1 864.1 L1015.3 873.0 L1016.6 881.7 L1017.8 890.1 L1019.1 898.3 L1020.3 906.0 L1021.6 913.4 L1022.8 920.3 L1024.1 926.7 L1025.3 932.5 L1026.6 937.9 L1027.8 942.8 L1029.1 947.2 L1030.3 951.1 L1031.6 954.6 L1032.8 957.7 L1034.1 960.3 L1035.3 962.6 L1036.6 964.6 L1037.8 966.3 L1039.1 967.8 L1040.3 969.0 L1041.6 970.0 L1042.8 970.9 L1044.1 971.6 L1045.3 972.2 L1046.6 972.6 L1047.8 973.0 L1049.1 973.3 L1050.3 973.6 L1051.6 973.8 L1052.8 974.0 L1054.1 974.1 L1055.3 974.2 L1056.6 974.3 L1057.8 974.3 L1059.1 974.4 L1060.3 974.4 L1061.6 974.4 L1062.8 974.4 L1064.1 974.5 L1065.3 974.5 L1066.6 974.5 L1067.8 974.5 L1069.1 974.5 L1070.3 974.5 L1071.6 974.5 L1072.8 974.5 L1074.1 974.5 L1075.3 974.5 L1076.6 974.5 L1077.8 974.5 L1079.1 974.5 L1080.3 974.5 L1081.6 974.5 L1082.8 974.5 L1084.1 974.5 L1085.3 974.5 L1086.6 974.5 L1087.8 974.5 L1089.1 974.5 L1090.3 974.5 L1091.6 974.5 L1092.8 974.5 L1094.1 974.5 L1095.3 974.5 L1096.6 974.5 L1097.8 974.5 L1099.1 974.5 L1100.3 974.5 L1101.6 974.5 L1102.8 974.5 L1104.1 974.5 L1105.3 974.5 L1106.6 974.5 L1107.8 974.5 L1109.1 974.5 L1110.3 974.5 L1111.6 974.5 L1112.8 974.5 L1114.1 974.5 L1115.3 974.5 L1116.6 974.5 L1117.8 974.5 L1119.1 974.5 L1120.3 974.5 L1121.6 974.5 L1122.8 974.5 L1124.1 974.5 L1125.3 974.5 L1126.6 974.5 L1127.8 974.5 L1129.1 974.5 L1130.3 974.5 L1131.6 974.5 L1132.8 974.5 L1134.1 974.5 L1135.3 974.5 L1136.6 974.5 L1137.8 974.5 L1139.1 974.5 L1140.3 974.5 L1141.6 974.5 L1142.8 974.5 L1144.1 974.5 L1145.3 974.5 L1146.6 974.5 L1147.8 974.5 L1149.1 974.5 L1150.3 974.5 L1151.6 974.5 L1152.8 974.5 L1154.1 974.5 L1155.3 974.5 L1156.6 974.5 L1157.8 974.5 L1159.1 974.5 L1160.3 974.5 L1161.6 974.5 L1162.8 974.5 L1164.1 974.5 L1165.3 974.5 L1166.6 974.5 L1167.8 974.5 L1169.1 974.5 L1170.3 974.5 L1171.6 974.5 L1172.8 974.5 L1174.1 974.5 L1175.3 974.5 L1176.6 974.5 L1177.8 974.5 L1179.1 974.5 L1180.7 974.5" fill="none" stroke="#e81f14" stroke-width="3.8" stroke-linecap="round" stroke-linejoin="round"/>
<path d="M714.1 668.5 L715.3 668.7 L716.6 669.0 L717.8 669.3 L719.1 669.6 L720.3 669.9 L721.6 670.2 L722.8 670.5 L724.1 670.8 L725.3 671.2 L726.6 671.5 L727.8 671.8 L729.1 672.2 L730.3 672.6 L731.6 672.9 L732.8 673.3 L734.1 673.7 L735.3 674.1 L736.6 674.5 L737.8 674.9 L739.1 675.3 L740.3 675.7 L741.6 676.2 L742.8 676.6 L744.1 677.1 L745.3 677.6 L746.6 678.0 L747.8 678.5 L749.1 679.0 L750.3 679.5 L751.6 680.1 L752.8 680.6 L754.1 681.1 L755.3 681.7 L756.6 682.3 L757.8 682.9 L759.1 683.5 L760.3 684.1 L761.6 684.7 L762.8 685.3 L764.1 686.0 L765.3 686.6 L766.6 687.3 L767.8 688.0 L769.1 688.7 L770.3 689.4 L771.6 690.2 L772.8 690.9 L774.1 691.7 L775.3 692.5 L776.6 693.3 L777.8 694.1 L779.1 695.0 L780.3 695.8 L781.6 696.7 L782.8 697.6 L784.1 698.5 L785.3 699.4 L786.6 700.4 L787.8 701.3 L789.1 702.3 L790.3 703.3 L791.6 704.4 L792.8 705.4 L794.1 706.5 L795.3 707.6 L796.6 708.7 L797.8 709.8 L799.1 711.0 L800.3 712.2 L801.6 713.4 L802.8 714.6 L804.1 715.9 L805.3 717.1 L806.6 718.4 L807.8 719.8 L809.1 721.1 L810.3 722.5 L811.6 723.9 L812.8 725.3 L814.1 726.8 L815.3 728.2 L816.6 729.8 L817.8 731.3 L819.1 732.9 L820.3 734.4 L821.6 736.1 L822.8 737.7 L824.1 739.4 L825.3 741.1 L826.6 742.8 L827.8 744.6 L829.1 746.4 L830.3 748.2 L831.6 750.0 L832.8 751.9 L834.1 753.8 L835.3 755.8 L836.6 757.8 L837.8 759.8 L839.1 761.8 L840.3 763.9 L841.6 765.9 L842.8 768.1 L844.1 770.2 L845.3 772.4 L846.6 774.6 L847.8 776.9 L849.1 779.1 L850.3 781.5 L851.6 783.8 L852.8 786.2 L854.1 788.5 L855.3 791.0 L856.6 793.4 L857.8 795.9 L859.1 798.4 L860.3 800.9 L861.6 803.5 L862.8 806.1 L864.1 808.7 L865.3 811.3 L866.6 814.0 L867.8 816.7 L869.1 819.4 L870.3 822.1 L871.6 824.9 L872.8 827.7 L874.1 830.5 L875.3 833.3 L876.6 836.1 L877.8 838.9 L879.1 841.8 L880.3 844.7 L881.6 847.6 L882.8 850.5 L884.1 853.4 L885.3 856.3 L886.6 859.2 L887.8 862.2 L889.1 865.1 L890.3 868.0 L891.6 871.0 L892.8 873.9 L894.1 876.8 L895.3 879.8 L896.6 882.7 L897.8 885.6 L899.1 888.5 L900.3 891.4 L901.6 894.3 L902.8 897.2 L904.1 900.0 L905.3 902.9 L906.6 905.7 L907.8 908.5 L909.1 911.3 L910.3 914.0 L911.6 916.7 L912.8 919.4 L914.1 922.0 L915.3 924.7 L916.6 927.2 L917.8 929.8 L919.1 932.3 L920.3 934.7 L921.6 937.1 L922.8 939.5 L924.1 941.8 L925.3 944.1 L926.6 946.4 L927.8 948.5 L929.1 950.7 L930.3 952.7 L931.6 954.8 L932.8 956.7 L934.1 958.6 L935.3 960.5 L936.6 962.3 L937.8 964.0 L939.1 965.7 L940.3 967.3 L941.6 968.9 L942.8 970.4 L944.1 971.8 L945.3 973.2 L946.6 974.5 L947.8 975.8 L949.1 977.0 L950.3 978.2 L951.6 979.3 L952.8 980.3 L954.1 981.3 L955.3 982.3 L956.6 983.1 L957.8 984.0 L959.1 984.8 L960.3 985.5 L961.6 986.2 L962.8 986.8 L964.1 987.4 L965.3 988.0 L966.6 988.5 L967.8 989.0 L969.1 989.5 L970.3 989.9 L971.6 990.3 L972.8 990.6 L974.1 990.9 L975.3 991.2 L976.6 991.5 L977.8 991.7 L979.1 991.9 L980.3 992.1 L981.6 992.3 L982.8 992.5 L984.1 992.6 L985.3 992.8 L986.6 992.9 L987.8 993.0 L989.1 993.1 L990.3 993.1 L991.6 993.2 L992.8 993.3 L994.1 993.3 L995.3 993.4 L996.6 993.4 L997.8 993.4 L999.1 993.5 L1000.3 993.5 L1001.6 993.5 L1002.8 993.5 L1004.1 993.5 L1005.3 993.5 L1006.6 993.6 L1007.8 993.6 L1009.1 993.6 L1010.3 993.6 L1011.6 993.6 L1012.8 993.6 L1014.1 993.6 L1015.3 993.6 L1016.6 993.6 L1017.8 993.6 L1019.1 993.6 L1020.3 993.6 L1021.6 993.6 L1022.8 993.6 L1024.1 993.6 L1025.3 993.6 L1026.6 993.6 L1027.8 993.6 L1029.1 993.6 L1030.3 993.6 L1031.6 993.6 L1032.8 993.6 L1034.1 993.6 L1035.3 993.6 L1036.6 993.6 L1037.8 993.6 L1039.1 993.6 L1040.3 993.6 L1041.6 993.6 L1042.8 993.6 L1044.1 993.6 L1045.3 993.6 L1046.6 993.6 L1047.8 993.6 L1049.1 993.6 L1050.3 993.6 L1051.6 993.6 L1052.8 993.6 L1054.1 993.6 L1055.3 993.6 L1056.6 993.6 L1057.8 993.6 L1059.1 993.6 L1060.3 993.6 L1061.6 993.6 L1062.8 993.6 L1064.1 993.6 L1065.3 993.6 L1066.6 993.6 L1067.8 993.6 L1069.1 993.6 L1070.3 993.6 L1071.6 993.6 L1072.8 993.6 L1074.1 993.6 L1075.3 993.6 L1076.6 993.6 L1077.8 993.6 L1079.1 993.6 L1080.3 993.6 L1081.6 993.6 L1082.8 993.6 L1084.1 993.6 L1085.3 993.6 L1086.6 993.6 L1087.8 993.6 L1089.1 993.6 L1090.3 993.6 L1091.6 993.6 L1092.8 993.6 L1094.1 993.6 L1095.3 993.6 L1096.6 993.6 L1097.8 993.6 L1099.1 993.6 L1100.3 993.6 L1101.6 993.6 L1102.8 993.6 L1104.1 993.6 L1105.3 993.6 L1106.6 993.6 L1107.8 993.6 L1109.1 993.6 L1110.3 993.6 L1111.6 993.6 L1112.8 993.6 L1114.1 993.6 L1115.3 993.6 L1116.6 993.6 L1117.8 993.6 L1119.1 993.6 L1120.3 993.6 L1121.6 993.6 L1122.8 993.6 L1124.1 993.6 L1125.3 993.6 L1126.6 993.6 L1127.8 993.6 L1129.1 993.6 L1130.3 993.6 L1131.6 993.6 L1132.8 993.6 L1134.1 993.6 L1135.3 993.6 L1136.6 993.6 L1137.8 993.6 L1139.1 993.6 L1140.3 993.6 L1141.6 993.6 L1142.8 993.6 L1144.1 993.6 L1145.3 993.6 L1146.6 993.6 L1147.8 993.6 L1149.1 993.6 L1150.3 993.6 L1151.6 993.6 L1152.8 993.6 L1154.1 993.6 L1155.3 993.6 L1156.6 993.6 L1157.8 993.6 L1159.1 993.6 L1160.3 993.6 L1161.6 993.6 L1162.8 993.6 L1164.1 993.6 L1165.3 993.6 L1166.6 993.6 L1167.8 993.6 L1169.1 993.6 L1170.3 993.6 L1171.6 993.6 L1172.8 993.6 L1174.1 993.6 L1175.3 993.6 L1176.6 993.6 L1177.8 993.6 L1179.1 993.6 L1180.7 993.6" fill="none" stroke="#0c0808" stroke-width="3.8" stroke-linecap="round" stroke-linejoin="round"/>
<path d="M714.1 677.0 L715.3 678.9 L716.6 680.7 L717.8 682.6 L719.1 684.5 L720.3 686.5 L721.6 688.4 L722.8 690.5 L724.1 692.5 L725.3 694.6 L726.6 696.7 L727.8 698.9 L729.1 701.1 L730.3 703.3 L731.6 705.6 L732.8 707.9 L734.1 710.2 L735.3 712.6 L736.6 715.0 L737.8 717.4 L739.1 719.9 L740.3 722.4 L741.6 725.0 L742.8 727.6 L744.1 730.2 L745.3 732.8 L746.6 735.5 L747.8 738.3 L749.1 741.1 L750.3 743.9 L751.6 746.7 L752.8 749.6 L754.1 752.5 L755.3 755.4 L756.6 758.4 L757.8 761.4 L759.1 764.5 L760.3 767.6 L761.6 770.7 L762.8 773.8 L764.1 777.0 L765.3 780.2 L766.6 783.4 L767.8 786.7 L769.1 789.9 L770.3 793.2 L771.6 796.6 L772.8 799.9 L774.1 803.3 L775.3 806.7 L776.6 810.1 L777.8 813.6 L779.1 817.0 L780.3 820.5 L781.6 824.0 L782.8 827.5 L784.1 831.0 L785.3 834.5 L786.6 838.0 L787.8 841.6 L789.1 845.1 L790.3 848.6 L791.6 852.2 L792.8 855.7 L794.1 859.3 L795.3 862.8 L796.6 866.3 L797.8 869.8 L799.1 873.3 L800.3 876.8 L801.6 880.2 L802.8 883.7 L804.1 887.1 L805.3 890.5 L806.6 893.9 L807.8 897.2 L809.1 900.6 L810.3 903.8 L811.6 907.1 L812.8 910.3 L814.1 913.5 L815.3 916.6 L816.6 919.7 L817.8 922.7 L819.1 925.7 L820.3 928.7 L821.6 931.6 L822.8 934.4 L824.1 937.2 L825.3 939.9 L826.6 942.6 L827.8 945.2 L829.1 947.7 L830.3 950.2 L831.6 952.6 L832.8 955.0 L834.1 957.3 L835.3 959.5 L836.6 961.6 L837.8 963.7 L839.1 965.7 L840.3 967.7 L841.6 969.5 L842.8 971.3 L844.1 973.1 L845.3 974.7 L846.6 976.3 L847.8 977.8 L849.1 979.3 L850.3 980.7 L851.6 982.0 L852.8 983.3 L854.1 984.5 L855.3 985.6 L856.6 986.6 L857.8 987.6 L859.1 988.6 L860.3 989.5 L861.6 990.3 L862.8 991.1 L864.1 991.8 L865.3 992.5 L866.6 993.1 L867.8 993.7 L869.1 994.3 L870.3 994.8 L871.6 995.2 L872.8 995.7 L874.1 996.0 L875.3 996.4 L876.6 996.7 L877.8 997.0 L879.1 997.3 L880.3 997.5 L881.6 997.7 L882.8 997.9 L884.1 998.1 L885.3 998.3 L886.6 998.4 L887.8 998.5 L889.1 998.6 L890.3 998.7 L891.6 998.8 L892.8 998.9 L894.1 998.9 L895.3 999.0 L896.6 999.0 L897.8 999.1 L899.1 999.1 L900.3 999.2 L901.6 999.2 L902.8 999.2 L904.1 999.2 L905.3 999.2 L906.6 999.2 L907.8 999.3 L909.1 999.3 L910.3 999.3 L911.6 999.3 L912.8 999.3 L914.1 999.3 L915.3 999.3 L916.6 999.3 L917.8 999.3 L919.1 999.3 L920.3 999.3 L921.6 999.3 L922.8 999.3 L924.1 999.3 L925.3 999.3 L926.6 999.3 L927.8 999.3 L929.1 999.3 L930.3 999.3 L931.6 999.3 L932.8 999.3 L934.1 999.3 L935.3 999.3 L936.6 999.3 L937.8 999.3 L939.1 999.3 L940.3 999.3 L941.6 999.3 L942.8 999.3 L944.1 999.3 L945.3 999.3 L946.6 999.3 L947.8 999.3 L949.1 999.3 L950.3 999.3 L951.6 999.3 L952.8 999.3 L954.1 999.3 L955.3 999.3 L956.6 999.3 L957.8 999.3 L959.1 999.3 L960.3 999.3 L961.6 999.3 L962.8 999.3 L964.1 999.3 L965.3 999.3 L966.6 999.3 L967.8 999.3 L969.1 999.3 L970.3 999.3 L971.6 999.3 L972.8 999.3 L974.1 999.3 L975.3 999.3 L976.6 999.3 L977.8 999.3 L979.1 999.3 L980.3 999.3 L981.6 999.3 L982.8 999.3 L984.1 999.3 L985.3 999.3 L986.6 999.3 L987.8 999.3 L989.1 999.3 L990.3 999.3 L991.6 999.3 L992.8 999.3 L994.1 999.3 L995.3 999.3 L996.6 999.3 L997.8 999.3 L999.1 999.3 L1000.3 999.3 L1001.6 999.3 L1002.8 999.3 L1004.1 999.3 L1005.3 999.3 L1006.6 999.3 L1007.8 999.3 L1009.1 999.3 L1010.3 999.3 L1011.6 999.3 L1012.8 999.3 L1014.1 999.3 L1015.3 999.3 L1016.6 999.3 L1017.8 999.3 L1019.1 999.3 L1020.3 999.3 L1021.6 999.3 L1022.8 999.3 L1024.1 999.3 L1025.3 999.3 L1026.6 999.3 L1027.8 999.3 L1029.1 999.3 L1030.3 999.3 L1031.6 999.3 L1032.8 999.3 L1034.1 999.3 L1035.3 999.3 L1036.6 999.3 L1037.8 999.3 L1039.1 999.3 L1040.3 999.3 L1041.6 999.3 L1042.8 999.3 L1044.1 999.3 L1045.3 999.3 L1046.6 999.3 L1047.8 999.3 L1049.1 999.3 L1050.3 999.3 L1051.6 999.3 L1052.8 999.3 L1054.1 999.3 L1055.3 999.3 L1056.6 999.3 L1057.8 999.3 L1059.1 999.3 L1060.3 999.3 L1061.6 999.3 L1062.8 999.3 L1064.1 999.3 L1065.3 999.3 L1066.6 999.3 L1067.8 999.3 L1069.1 999.3 L1070.3 999.3 L1071.6 999.3 L1072.8 999.3 L1074.1 999.3 L1075.3 999.3 L1076.6 999.3 L1077.8 999.3 L1079.1 999.3 L1080.3 999.3 L1081.6 999.3 L1082.8 999.3 L1084.1 999.3 L1085.3 999.3 L1086.6 999.3 L1087.8 999.3 L1089.1 999.3 L1090.3 999.3 L1091.6 999.3 L1092.8 999.3 L1094.1 999.3 L1095.3 999.3 L1096.6 999.3 L1097.8 999.3 L1099.1 999.3 L1100.3 999.3 L1101.6 999.3 L1102.8 999.3 L1104.1 999.3 L1105.3 999.3 L1106.6 999.3 L1107.8 999.3 L1109.1 999.3 L1110.3 999.3 L1111.6 999.3 L1112.8 999.3 L1114.1 999.3 L1115.3 999.3 L1116.6 999.3 L1117.8 999.3 L1119.1 999.3 L1120.3 999.3 L1121.6 999.3 L1122.8 999.3 L1124.1 999.3 L1125.3 999.3 L1126.6 999.3 L1127.8 999.3 L1129.1 999.3 L1130.3 999.3 L1131.6 999.3 L1132.8 999.3 L1134.1 999.3 L1135.3 999.3 L1136.6 999.3 L1137.8 999.3 L1139.1 999.3 L1140.3 999.3 L1141.6 999.3 L1142.8 999.3 L1144.1 999.3 L1145.3 999.3 L1146.6 999.3 L1147.8 999.3 L1149.1 999.3 L1150.3 999.3 L1151.6 999.3 L1152.8 999.3 L1154.1 999.3 L1155.3 999.3 L1156.6 999.3 L1157.8 999.3 L1159.1 999.3 L1160.3 999.3 L1161.6 999.3 L1162.8 999.3 L1164.1 999.3 L1165.3 999.3 L1166.6 999.3 L1167.8 999.3 L1169.1 999.3 L1170.3 999.3 L1171.6 999.3 L1172.8 999.3 L1174.1 999.3 L1175.3 999.3 L1176.6 999.3 L1177.8 999.3 L1179.1 999.3 L1180.7 999.3" fill="none" stroke="#56b532" stroke-width="3.8" stroke-linecap="round" stroke-linejoin="round"/>
<path d="M714.1 668.9 L715.3 669.2 L716.6 669.5 L717.8 669.7 L719.1 670.0 L720.3 670.4 L721.6 670.7 L722.8 671.0 L724.1 671.3 L725.3 671.7 L726.6 672.0 L727.8 672.4 L729.1 672.7 L730.3 673.1 L731.6 673.5 L732.8 673.9 L734.1 674.3 L735.3 674.7 L736.6 675.1 L737.8 675.5 L739.1 675.9 L740.3 676.4 L741.6 676.8 L742.8 677.3 L744.1 677.8 L745.3 678.3 L746.6 678.8 L747.8 679.3 L749.1 679.8 L750.3 680.3 L751.6 680.9 L752.8 681.4 L754.1 682.0 L755.3 682.6 L756.6 683.2 L757.8 683.8 L759.1 684.4 L760.3 685.0 L761.6 685.7 L762.8 686.3 L764.1 687.0 L765.3 687.7 L766.6 688.4 L767.8 689.1 L769.1 689.9 L770.3 690.6 L771.6 691.4 L772.8 692.2 L774.1 693.0 L775.3 693.8 L776.6 694.6 L777.8 695.5 L779.1 696.4 L780.3 697.2 L781.6 698.2 L782.8 699.1 L784.1 700.0 L785.3 701.0 L786.6 702.0 L787.8 703.0 L789.1 704.0 L790.3 705.1 L791.6 706.2 L792.8 707.3 L794.1 708.4 L795.3 709.5 L796.6 710.7 L797.8 711.9 L799.1 713.1 L800.3 714.3 L801.6 715.6 L802.8 716.9 L804.1 718.2 L805.3 719.5 L806.6 720.9 L807.8 722.3 L809.1 723.7 L810.3 725.1 L811.6 726.6 L812.8 728.1 L814.1 729.6 L815.3 731.2 L816.6 732.8 L817.8 734.4 L819.1 736.0 L820.3 737.7 L821.6 739.4 L822.8 741.1 L824.1 742.9 L825.3 744.7 L826.6 746.5 L827.8 748.4 L829.1 750.3 L830.3 752.2 L831.6 754.1 L832.8 756.1 L834.1 758.1 L835.3 760.2 L836.6 762.3 L837.8 764.4 L839.1 766.5 L840.3 768.7 L841.6 770.9 L842.8 773.1 L844.1 775.4 L845.3 777.7 L846.6 780.1 L847.8 782.4 L849.1 784.8 L850.3 787.3 L851.6 789.7 L852.8 792.2 L854.1 794.7 L855.3 797.3 L856.6 799.9 L857.8 802.5 L859.1 805.1 L860.3 807.8 L861.6 810.5 L862.8 813.2 L864.1 816.0 L865.3 818.7 L866.6 821.5 L867.8 824.4 L869.1 827.2 L870.3 830.1 L871.6 832.9 L872.8 835.8 L874.1 838.8 L875.3 841.7 L876.6 844.6 L877.8 847.6 L879.1 850.6 L880.3 853.6 L881.6 856.6 L882.8 859.6 L884.1 862.6 L885.3 865.6 L886.6 868.6 L887.8 871.6 L889.1 874.6 L890.3 877.6 L891.6 880.6 L892.8 883.6 L894.1 886.5 L895.3 889.5 L896.6 892.4 L897.8 895.4 L899.1 898.3 L900.3 901.2 L901.6 904.0 L902.8 906.9 L904.1 909.7 L905.3 912.5 L906.6 915.2 L907.8 917.9 L909.1 920.6 L910.3 923.2 L911.6 925.8 L912.8 928.4 L914.1 930.9 L915.3 933.3 L916.6 935.7 L917.8 938.1 L919.1 940.4 L920.3 942.6 L921.6 944.8 L922.8 947.0 L924.1 949.0 L925.3 951.1 L926.6 953.0 L927.8 954.9 L929.1 956.7 L930.3 958.5 L931.6 960.2 L932.8 961.9 L934.1 963.4 L935.3 965.0 L936.6 966.4 L937.8 967.8 L939.1 969.1 L940.3 970.4 L941.6 971.6 L942.8 972.8 L944.1 973.8 L945.3 974.9 L946.6 975.8 L947.8 976.8 L949.1 977.6 L950.3 978.4 L951.6 979.2 L952.8 979.9 L954.1 980.6 L955.3 981.2 L956.6 981.7 L957.8 982.3 L959.1 982.8 L960.3 983.2 L961.6 983.6 L962.8 984.0 L964.1 984.3 L965.3 984.7 L966.6 985.0 L967.8 985.2 L969.1 985.4 L970.3 985.7 L971.6 985.8 L972.8 986.0 L974.1 986.2 L975.3 986.3 L976.6 986.4 L977.8 986.5 L979.1 986.6 L980.3 986.7 L981.6 986.8 L982.8 986.8 L984.1 986.9 L985.3 986.9 L986.6 987.0 L987.8 987.0 L989.1 987.1 L990.3 987.1 L991.6 987.1 L992.8 987.1 L994.1 987.1 L995.3 987.1 L996.6 987.2 L997.8 987.2 L999.1 987.2 L1000.3 987.2 L1001.6 987.2 L1002.8 987.2 L1004.1 987.2 L1005.3 987.2 L1006.6 987.2 L1007.8 987.2 L1009.1 987.2 L1010.3 987.2 L1011.6 987.2 L1012.8 987.2 L1014.1 987.2 L1015.3 987.2 L1016.6 987.2 L1017.8 987.2 L1019.1 987.2 L1020.3 987.2 L1021.6 987.2 L1022.8 987.2 L1024.1 987.2 L1025.3 987.2 L1026.6 987.2 L1027.8 987.2 L1029.1 987.2 L1030.3 987.2 L1031.6 987.2 L1032.8 987.2 L1034.1 987.2 L1035.3 987.2 L1036.6 987.2 L1037.8 987.2 L1039.1 987.2 L1040.3 987.2 L1041.6 987.2 L1042.8 987.2 L1044.1 987.2 L1045.3 987.2 L1046.6 987.2 L1047.8 987.2 L1049.1 987.2 L1050.3 987.2 L1051.6 987.2 L1052.8 987.2 L1054.1 987.2 L1055.3 987.2 L1056.6 987.2 L1057.8 987.2 L1059.1 987.2 L1060.3 987.2 L1061.6 987.2 L1062.8 987.2 L1064.1 987.2 L1065.3 987.2 L1066.6 987.2 L1067.8 987.2 L1069.1 987.2 L1070.3 987.2 L1071.6 987.2 L1072.8 987.2 L1074.1 987.2 L1075.3 987.2 L1076.6 987.2 L1077.8 987.2 L1079.1 987.2 L1080.3 987.2 L1081.6 987.2 L1082.8 987.2 L1084.1 987.2 L1085.3 987.2 L1086.6 987.2 L1087.8 987.2 L1089.1 987.2 L1090.3 987.2 L1091.6 987.2 L1092.8 987.2 L1094.1 987.2 L1095.3 987.2 L1096.6 987.2 L1097.8 987.2 L1099.1 987.2 L1100.3 987.2 L1101.6 987.2 L1102.8 987.2 L1104.1 987.2 L1105.3 987.2 L1106.6 987.2 L1107.8 987.2 L1109.1 987.2 L1110.3 987.2 L1111.6 987.2 L1112.8 987.2 L1114.1 987.2 L1115.3 987.2 L1116.6 987.2 L1117.8 987.2 L1119.1 987.2 L1120.3 987.2 L1121.6 987.2 L1122.8 987.2 L1124.1 987.2 L1125.3 987.2 L1126.6 987.2 L1127.8 987.2 L1129.1 987.2 L1130.3 987.2 L1131.6 987.2 L1132.8 987.2 L1134.1 987.2 L1135.3 987.2 L1136.6 987.2 L1137.8 987.2 L1139.1 987.2 L1140.3 987.2 L1141.6 987.2 L1142.8 987.2 L1144.1 987.2 L1145.3 987.2 L1146.6 987.2 L1147.8 987.2 L1149.1 987.2 L1150.3 987.2 L1151.6 987.2 L1152.8 987.2 L1154.1 987.2 L1155.3 987.2 L1156.6 987.2 L1157.8 987.2 L1159.1 987.2 L1160.3 987.2 L1161.6 987.2 L1162.8 987.2 L1164.1 987.2 L1165.3 987.2 L1166.6 987.2 L1167.8 987.2 L1169.1 987.2 L1170.3 987.2 L1171.6 987.2 L1172.8 987.2 L1174.1 987.2 L1175.3 987.2 L1176.6 987.2 L1177.8 987.2 L1179.1 987.2 L1180.7 987.2" fill="none" stroke="#3a50a3" stroke-width="3.8" stroke-linecap="round" stroke-linejoin="round"/>
<path d="M714.1 689.3 L715.3 691.5 L716.6 693.8 L717.8 696.0 L719.1 698.4 L720.3 700.7 L721.6 703.1 L722.8 705.5 L724.1 708.0 L725.3 710.5 L726.6 713.1 L727.8 715.7 L729.1 718.3 L730.3 721.0 L731.6 723.7 L732.8 726.4 L734.1 729.2 L735.3 732.1 L736.6 734.9 L737.8 737.9 L739.1 740.8 L740.3 743.8 L741.6 746.8 L742.8 749.9 L744.1 753.0 L745.3 756.1 L746.6 759.3 L747.8 762.5 L749.1 765.8 L750.3 769.1 L751.6 772.4 L752.8 775.8 L754.1 779.2 L755.3 782.6 L756.6 786.0 L757.8 789.5 L759.1 793.0 L760.3 796.6 L761.6 800.1 L762.8 803.7 L764.1 807.3 L765.3 811.0 L766.6 814.6 L767.8 818.3 L769.1 822.0 L770.3 825.7 L771.6 829.4 L772.8 833.1 L774.1 836.9 L775.3 840.6 L776.6 844.3 L777.8 848.1 L779.1 851.9 L780.3 855.6 L781.6 859.3 L782.8 863.1 L784.1 866.8 L785.3 870.5 L786.6 874.2 L787.8 877.9 L789.1 881.6 L790.3 885.2 L791.6 888.8 L792.8 892.4 L794.1 896.0 L795.3 899.5 L796.6 903.0 L797.8 906.5 L799.1 909.9 L800.3 913.2 L801.6 916.5 L802.8 919.8 L804.1 923.0 L805.3 926.2 L806.6 929.3 L807.8 932.3 L809.1 935.3 L810.3 938.2 L811.6 941.1 L812.8 943.9 L814.1 946.6 L815.3 949.2 L816.6 951.8 L817.8 954.3 L819.1 956.7 L820.3 959.1 L821.6 961.4 L822.8 963.6 L824.1 965.7 L825.3 967.7 L826.6 969.7 L827.8 971.6 L829.1 973.4 L830.3 975.1 L831.6 976.7 L832.8 978.3 L834.1 979.8 L835.3 981.2 L836.6 982.6 L837.8 983.9 L839.1 985.1 L840.3 986.2 L841.6 987.3 L842.8 988.3 L844.1 989.2 L845.3 990.1 L846.6 991.0 L847.8 991.7 L849.1 992.4 L850.3 993.1 L851.6 993.7 L852.8 994.3 L854.1 994.8 L855.3 995.3 L856.6 995.7 L857.8 996.1 L859.1 996.5 L860.3 996.8 L861.6 997.1 L862.8 997.3 L864.1 997.6 L865.3 997.8 L866.6 998.0 L867.8 998.2 L869.1 998.3 L870.3 998.5 L871.6 998.6 L872.8 998.7 L874.1 998.8 L875.3 998.8 L876.6 998.9 L877.8 999.0 L879.1 999.0 L880.3 999.1 L881.6 999.1 L882.8 999.1 L884.1 999.2 L885.3 999.2 L886.6 999.2 L887.8 999.2 L889.1 999.2 L890.3 999.3 L891.6 999.3 L892.8 999.3 L894.1 999.3 L895.3 999.3 L896.6 999.3 L897.8 999.3 L899.1 999.3 L900.3 999.3 L901.6 999.3 L902.8 999.3 L904.1 999.3 L905.3 999.3 L906.6 999.3 L907.8 999.3 L909.1 999.3 L910.3 999.3 L911.6 999.3 L912.8 999.3 L914.1 999.3 L915.3 999.3 L916.6 999.3 L917.8 999.3 L919.1 999.3 L920.3 999.3 L921.6 999.3 L922.8 999.3 L924.1 999.3 L925.3 999.3 L926.6 999.3 L927.8 999.3 L929.1 999.3 L930.3 999.3 L931.6 999.3 L932.8 999.3 L934.1 999.3 L935.3 999.3 L936.6 999.3 L937.8 999.3 L939.1 999.3 L940.3 999.3 L941.6 999.3 L942.8 999.3 L944.1 999.3 L945.3 999.3 L946.6 999.3 L947.8 999.3 L949.1 999.3 L950.3 999.3 L951.6 999.3 L952.8 999.3 L954.1 999.3 L955.3 999.3 L956.6 999.3 L957.8 999.3 L959.1 999.3 L960.3 999.3 L961.6 999.3 L962.8 999.3 L964.1 999.3 L965.3 999.3 L966.6 999.3 L967.8 999.3 L969.1 999.3 L970.3 999.3 L971.6 999.3 L972.8 999.3 L974.1 999.3 L975.3 999.3 L976.6 999.3 L977.8 999.3 L979.1 999.3 L980.3 999.3 L981.6 999.3 L982.8 999.3 L984.1 999.3 L985.3 999.3 L986.6 999.3 L987.8 999.3 L989.1 999.3 L990.3 999.3 L991.6 999.3 L992.8 999.3 L994.1 999.3 L995.3 999.3 L996.6 999.3 L997.8 999.3 L999.1 999.3 L1000.3 999.3 L1001.6 999.3 L1002.8 999.3 L1004.1 999.3 L1005.3 999.3 L1006.6 999.3 L1007.8 999.3 L1009.1 999.3 L1010.3 999.3 L1011.6 999.3 L1012.8 999.3 L1014.1 999.3 L1015.3 999.3 L1016.6 999.3 L1017.8 999.3 L1019.1 999.3 L1020.3 999.3 L1021.6 999.3 L1022.8 999.3 L1024.1 999.3 L1025.3 999.3 L1026.6 999.3 L1027.8 999.3 L1029.1 999.3 L1030.3 999.3 L1031.6 999.3 L1032.8 999.3 L1034.1 999.3 L1035.3 999.3 L1036.6 999.3 L1037.8 999.3 L1039.1 999.3 L1040.3 999.3 L1041.6 999.3 L1042.8 999.3 L1044.1 999.3 L1045.3 999.3 L1046.6 999.3 L1047.8 999.3 L1049.1 999.3 L1050.3 999.3 L1051.6 999.3 L1052.8 999.3 L1054.1 999.3 L1055.3 999.3 L1056.6 999.3 L1057.8 999.3 L1059.1 999.3 L1060.3 999.3 L1061.6 999.3 L1062.8 999.3 L1064.1 999.3 L1065.3 999.3 L1066.6 999.3 L1067.8 999.3 L1069.1 999.3 L1070.3 999.3 L1071.6 999.3 L1072.8 999.3 L1074.1 999.3 L1075.3 999.3 L1076.6 999.3 L1077.8 999.3 L1079.1 999.3 L1080.3 999.3 L1081.6 999.3 L1082.8 999.3 L1084.1 999.3 L1085.3 999.3 L1086.6 999.3 L1087.8 999.3 L1089.1 999.3 L1090.3 999.3 L1091.6 999.3 L1092.8 999.3 L1094.1 999.3 L1095.3 999.3 L1096.6 999.3 L1097.8 999.3 L1099.1 999.3 L1100.3 999.3 L1101.6 999.3 L1102.8 999.3 L1104.1 999.3 L1105.3 999.3 L1106.6 999.3 L1107.8 999.3 L1109.1 999.3 L1110.3 999.3 L1111.6 999.3 L1112.8 999.3 L1114.1 999.3 L1115.3 999.3 L1116.6 999.3 L1117.8 999.3 L1119.1 999.3 L1120.3 999.3 L1121.6 999.3 L1122.8 999.3 L1124.1 999.3 L1125.3 999.3 L1126.6 999.3 L1127.8 999.3 L1129.1 999.3 L1130.3 999.3 L1131.6 999.3 L1132.8 999.3 L1134.1 999.3 L1135.3 999.3 L1136.6 999.3 L1137.8 999.3 L1139.1 999.3 L1140.3 999.3 L1141.6 999.3 L1142.8 999.3 L1144.1 999.3 L1145.3 999.3 L1146.6 999.3 L1147.8 999.3 L1149.1 999.3 L1150.3 999.3 L1151.6 999.3 L1152.8 999.3 L1154.1 999.3 L1155.3 999.3 L1156.6 999.3 L1157.8 999.3 L1159.1 999.3 L1160.3 999.3 L1161.6 999.3 L1162.8 999.3 L1164.1 999.3 L1165.3 999.3 L1166.6 999.3 L1167.8 999.3 L1169.1 999.3 L1170.3 999.3 L1171.6 999.3 L1172.8 999.3 L1174.1 999.3 L1175.3 999.3 L1176.6 999.3 L1177.8 999.3 L1179.1 999.3 L1180.7 999.3" fill="none" stroke="#0c0808" stroke-width="3.8" stroke-linecap="round" stroke-linejoin="round"/>
<path d="M772.4 781.0 V807.5" stroke="#0c0808" stroke-width="3.7" fill="none"/><path d="M772.4 820.5 V847.0" stroke="#0c0808" stroke-width="3.7" fill="none"/><rect x="763.4" y="778.6" width="18.0" height="4.8" rx="1.2" fill="#0c0808"/><rect x="763.4" y="844.6" width="18.0" height="4.8" rx="1.2" fill="#0c0808"/>
<circle cx="714.1" cy="688.0" r="6.7" fill="none" stroke="#0c0808" stroke-width="3.5"/>
<circle cx="772.4" cy="814.0" r="6.7" fill="none" stroke="#0c0808" stroke-width="3.5"/>
<circle cx="830.7" cy="943.2" r="6.7" fill="none" stroke="#0c0808" stroke-width="3.5"/>
<circle cx="889.1" cy="964.8" r="6.7" fill="none" stroke="#0c0808" stroke-width="3.5"/>
<circle cx="947.4" cy="970.7" r="6.7" fill="none" stroke="#0c0808" stroke-width="3.5"/>
<circle cx="1005.7" cy="976.0" r="6.7" fill="none" stroke="#0c0808" stroke-width="3.5"/>
<circle cx="1064.0" cy="982.4" r="6.7" fill="none" stroke="#0c0808" stroke-width="3.5"/>
<circle cx="1122.4" cy="984.5" r="6.7" fill="none" stroke="#0c0808" stroke-width="3.5"/>
<circle cx="1180.7" cy="988.7" r="6.7" fill="none" stroke="#0c0808" stroke-width="3.5"/>
<path d="M772.4 654.8 V681.8" stroke="#e81f14" stroke-width="3.7" fill="none"/><rect x="763.4" y="652.4" width="18.0" height="4.8" rx="1.2" fill="#e81f14"/><rect x="763.4" y="679.4" width="18.0" height="4.8" rx="1.2" fill="#e81f14"/>
<path d="M830.7 640.6 V674.0" stroke="#e81f14" stroke-width="3.7" fill="none"/><rect x="821.7" y="638.2" width="18.0" height="4.8" rx="1.2" fill="#e81f14"/><rect x="821.7" y="671.6" width="18.0" height="4.8" rx="1.2" fill="#e81f14"/>
<path d="M889.1 658.6 V675.6" stroke="#e81f14" stroke-width="3.7" fill="none"/><rect x="880.1" y="656.2" width="18.0" height="4.8" rx="1.2" fill="#e81f14"/><rect x="880.1" y="673.2" width="18.0" height="4.8" rx="1.2" fill="#e81f14"/>
<path d="M947.4 666.2 V683.6" stroke="#e81f14" stroke-width="3.7" fill="none"/><rect x="938.4" y="663.8" width="18.0" height="4.8" rx="1.2" fill="#e81f14"/><rect x="938.4" y="681.2" width="18.0" height="4.8" rx="1.2" fill="#e81f14"/>
<path d="M1005.7 802.5 V824.5" stroke="#e81f14" stroke-width="3.7" fill="none"/><rect x="996.7" y="800.1" width="18.0" height="4.8" rx="1.2" fill="#e81f14"/><rect x="996.7" y="822.1" width="18.0" height="4.8" rx="1.2" fill="#e81f14"/>
<rect x="706.7" y="665.1" width="14.7" height="14.6" fill="#e81f14"/>
<rect x="765.0" y="661.0" width="14.7" height="14.6" fill="#e81f14"/>
<rect x="823.4" y="650.0" width="14.7" height="14.6" fill="#e81f14"/>
<rect x="881.7" y="659.8" width="14.7" height="14.6" fill="#e81f14"/>
<rect x="940.0" y="667.6" width="14.7" height="14.6" fill="#e81f14"/>
<rect x="998.4" y="806.2" width="14.7" height="14.6" fill="#e81f14"/>
<rect x="1056.7" y="955.4" width="14.7" height="14.6" fill="#e81f14"/>
<rect x="1115.0" y="970.8" width="14.7" height="14.6" fill="#e81f14"/>
<rect x="1173.4" y="974.0" width="14.7" height="14.6" fill="#e81f14"/>
<path d="M830.7 731.5 V742.5" stroke="#0c0808" stroke-width="3.7" fill="none"/><path d="M830.7 755.5 V766.5" stroke="#0c0808" stroke-width="3.7" fill="none"/><rect x="821.7" y="729.1" width="18.0" height="4.8" rx="1.2" fill="#0c0808"/><rect x="821.7" y="764.1" width="18.0" height="4.8" rx="1.2" fill="#0c0808"/>
<path d="M889.1 873.4 V877.5" stroke="#0c0808" stroke-width="3.7" fill="none"/><path d="M889.1 890.5 V894.6" stroke="#0c0808" stroke-width="3.7" fill="none"/><rect x="880.1" y="871.0" width="18.0" height="4.8" rx="1.2" fill="#0c0808"/><rect x="880.1" y="892.2" width="18.0" height="4.8" rx="1.2" fill="#0c0808"/>
<path d="M714.1 680.4 L720.7 693.4 L707.5 693.4 Z" fill="none" stroke="#0c0808" stroke-width="3.4" stroke-linejoin="round"/>
<path d="M772.4 678.4 L779.0 691.4 L765.8 691.4 Z" fill="none" stroke="#0c0808" stroke-width="3.4" stroke-linejoin="round"/>
<path d="M830.7 742.4 L837.3 755.4 L824.1 755.4 Z" fill="none" stroke="#0c0808" stroke-width="3.4" stroke-linejoin="round"/>
<path d="M889.1 877.4 L895.7 890.4 L882.5 890.4 Z" fill="none" stroke="#0c0808" stroke-width="3.4" stroke-linejoin="round"/>
<path d="M947.4 956.7 L954.0 969.7 L940.8 969.7 Z" fill="none" stroke="#0c0808" stroke-width="3.4" stroke-linejoin="round"/>
<path d="M1005.7 978.4 L1012.3 991.4 L999.1 991.4 Z" fill="none" stroke="#0c0808" stroke-width="3.4" stroke-linejoin="round"/>
<path d="M1064.0 985.4 L1070.6 998.4 L1057.4 998.4 Z" fill="none" stroke="#0c0808" stroke-width="3.4" stroke-linejoin="round"/>
<path d="M1122.4 995.8 L1129.0 1008.8 L1115.8 1008.8 Z" fill="none" stroke="#0c0808" stroke-width="3.4" stroke-linejoin="round"/>
<path d="M1180.7 1008.6 L1187.3 1021.6 L1174.1 1021.6 Z" fill="none" stroke="#0c0808" stroke-width="3.4" stroke-linejoin="round"/>
<path d="M772.4 779.0 V827.0" stroke="#56b532" stroke-width="3.7" fill="none"/><rect x="763.4" y="776.6" width="18.0" height="4.8" rx="1.2" fill="#56b532"/><rect x="763.4" y="824.6" width="18.0" height="4.8" rx="1.2" fill="#56b532"/>
<path d="M714.1 681.4 L720.9 667.6 L707.3 667.6 Z" fill="#56b532"/>
<path d="M772.4 809.9 L779.2 796.1 L765.6 796.1 Z" fill="#56b532"/>
<path d="M830.7 952.2 L837.5 938.4 L823.9 938.4 Z" fill="#56b532"/>
<path d="M889.1 994.6 L895.9 980.8 L882.3 980.8 Z" fill="#56b532"/>
<path d="M947.4 1002.9 L954.2 989.1 L940.6 989.1 Z" fill="#56b532"/>
<path d="M1005.7 1002.9 L1012.5 989.1 L998.9 989.1 Z" fill="#56b532"/>
<path d="M1064.0 1009.4 L1070.8 995.6 L1057.2 995.6 Z" fill="#56b532"/>
<path d="M1122.4 1008.3 L1129.2 994.5 L1115.6 994.5 Z" fill="#56b532"/>
<path d="M1180.7 1006.9 L1187.5 993.1 L1173.9 993.1 Z" fill="#56b532"/>
<path d="M714.1 655.1 V673.9" stroke="#3a50a3" stroke-width="3.7" fill="none"/><rect x="705.1" y="652.7" width="18.0" height="4.8" rx="1.2" fill="#3a50a3"/><rect x="705.1" y="671.5" width="18.0" height="4.8" rx="1.2" fill="#3a50a3"/>
<path d="M772.4 672.4 V698.8" stroke="#3a50a3" stroke-width="3.7" fill="none"/><rect x="763.4" y="670.0" width="18.0" height="4.8" rx="1.2" fill="#3a50a3"/><rect x="763.4" y="696.4" width="18.0" height="4.8" rx="1.2" fill="#3a50a3"/>
<path d="M714.1 657.6 L720.9 671.4 L707.3 671.4 Z" fill="#3a50a3"/>
<path d="M772.4 678.7 L779.2 692.5 L765.6 692.5 Z" fill="#3a50a3"/>
<path d="M830.7 762.8 L837.5 776.6 L823.9 776.6 Z" fill="#3a50a3"/>
<path d="M889.1 871.8 L895.9 885.6 L882.3 885.6 Z" fill="#3a50a3"/>
<path d="M947.4 945.8 L954.2 959.6 L940.6 959.6 Z" fill="#3a50a3"/>
<path d="M1005.7 974.4 L1012.5 988.2 L998.9 988.2 Z" fill="#3a50a3"/>
<path d="M1064.0 983.9 L1070.8 997.7 L1057.2 997.7 Z" fill="#3a50a3"/>
<path d="M1122.4 985.0 L1129.2 998.8 L1115.6 998.8 Z" fill="#3a50a3"/>
<path d="M1180.7 991.3 L1187.5 1005.1 L1173.9 1005.1 Z" fill="#3a50a3"/>
<path d="M772.4 807.8 V862.8" stroke="#0c0808" stroke-width="3.7" fill="none"/><rect x="763.4" y="805.4" width="18.0" height="4.8" rx="1.2" fill="#0c0808"/><rect x="763.4" y="860.4" width="18.0" height="4.8" rx="1.2" fill="#0c0808"/>
<circle cx="714.1" cy="688.2" r="6.7" fill="#0c0808"/>
<circle cx="772.4" cy="835.3" r="6.7" fill="#0c0808"/>
<circle cx="830.7" cy="973.3" r="6.7" fill="#0c0808"/>
<circle cx="889.1" cy="986.0" r="6.7" fill="#0c0808"/>
<circle cx="947.4" cy="993.6" r="6.7" fill="#0c0808"/>
<circle cx="1005.7" cy="1001.4" r="6.7" fill="#0c0808"/>
<circle cx="1064.0" cy="1007.8" r="6.7" fill="#0c0808"/>
<circle cx="1122.4" cy="1008.8" r="6.7" fill="#0c0808"/>
<circle cx="1180.7" cy="1005.7" r="6.7" fill="#0c0808"/>
<rect x="689.95" y="575.15" width="530.00" height="4.90" fill="#0c0808"/>
<rect x="689.95" y="1046.15" width="530.00" height="4.90" fill="#0c0808"/>
<rect x="689.95" y="575.15" width="4.90" height="475.90" fill="#0c0808"/>
<rect x="1215.05" y="575.15" width="4.90" height="475.90" fill="#0c0808"/>
<text transform="translate(706.60,1082.50) scale(1.0727,1)" font-size="21.0">0.001</text><rect x="751.58" y="1080.69" width="4.56" height="2.52" fill="#fff"/><rect x="758.11" y="1080.69" width="4.28" height="2.52" fill="#fff"/>
<text transform="translate(833.68,1082.50) scale(1.0932,1)" font-size="21.0">0.01</text><rect x="866.75" y="1080.69" width="4.65" height="2.52" fill="#fff"/><rect x="873.41" y="1080.69" width="4.36" height="2.52" fill="#fff"/>
<text transform="translate(960.36,1082.50) scale(1.1212,1)" font-size="21.0">0.1</text><rect x="981.18" y="1080.69" width="4.77" height="2.52" fill="#fff"/><rect x="988.01" y="1080.69" width="4.47" height="2.52" fill="#fff"/>
<text transform="translate(1091.19,1082.50) scale(1.0800,1)" font-size="21.0">1</text><rect x="1092.32" y="1080.69" width="4.59" height="2.52" fill="#fff"/><rect x="1098.90" y="1080.69" width="4.31" height="2.52" fill="#fff"/>
<text transform="translate(1207.68,1082.50) scale(1.0641,1)" font-size="21.0">10</text><rect x="1208.79" y="1080.69" width="4.53" height="2.52" fill="#fff"/><rect x="1215.28" y="1080.69" width="4.25" height="2.52" fill="#fff"/>
<text transform="translate(643.64,677.30) scale(1.0330,1)" font-size="21.0">100</text><rect x="644.72" y="675.49" width="4.39" height="2.52" fill="#fff"/><rect x="651.01" y="675.49" width="4.12" height="2.52" fill="#fff"/>
<text transform="translate(653.11,866.00) scale(1.0536,1)" font-size="21.0">50</text>
<text transform="translate(662.73,1053.80) scale(1.0417,1)" font-size="21.0">0</text>
<text transform="translate(860.55,1125.20) scale(0.9783,1)" font-size="33.0">SN-38 (<tspan font-style="italic">μ</tspan>M)</text></g>
<g><rect x="1308.8" y="1049.0" width="4.6" height="4.8" fill="#0c0808"/>
<rect x="1318.5" y="1049.0" width="4.6" height="4.8" fill="#0c0808"/>
<rect x="1326.7" y="1049.0" width="4.6" height="4.8" fill="#0c0808"/>
<rect x="1333.8" y="1049.0" width="4.6" height="4.8" fill="#0c0808"/>
<rect x="1340.0" y="1049.0" width="4.6" height="4.8" fill="#0c0808"/>
<rect x="1345.5" y="1049.0" width="4.9" height="8.1" fill="#0c0808"/>
<rect x="1382.4" y="1049.0" width="4.6" height="4.8" fill="#0c0808"/>
<rect x="1403.9" y="1049.0" width="4.6" height="4.8" fill="#0c0808"/>
<rect x="1419.1" y="1049.0" width="4.6" height="4.8" fill="#0c0808"/>
<rect x="1431.0" y="1049.0" width="4.6" height="4.8" fill="#0c0808"/>
<rect x="1440.7" y="1049.0" width="4.6" height="4.8" fill="#0c0808"/>
<rect x="1448.8" y="1049.0" width="4.6" height="4.8" fill="#0c0808"/>
<rect x="1455.9" y="1049.0" width="4.6" height="4.8" fill="#0c0808"/>
<rect x="1462.2" y="1049.0" width="4.6" height="4.8" fill="#0c0808"/>
<rect x="1467.6" y="1049.0" width="4.9" height="8.1" fill="#0c0808"/>
<rect x="1504.5" y="1049.0" width="4.6" height="4.8" fill="#0c0808"/>
<rect x="1526.0" y="1049.0" width="4.6" height="4.8" fill="#0c0808"/>
<rect x="1541.3" y="1049.0" width="4.6" height="4.8" fill="#0c0808"/>
<rect x="1553.1" y="1049.0" width="4.6" height="4.8" fill="#0c0808"/>
<rect x="1562.8" y="1049.0" width="4.6" height="4.8" fill="#0c0808"/>
<rect x="1571.0" y="1049.0" width="4.6" height="4.8" fill="#0c0808"/>
<rect x="1578.1" y="1049.0" width="4.6" height="4.8" fill="#0c0808"/>
<rect x="1584.3" y="1049.0" width="4.6" height="4.8" fill="#0c0808"/>
<rect x="1589.8" y="1049.0" width="4.9" height="8.1" fill="#0c0808"/>
<rect x="1626.7" y="1049.0" width="4.6" height="4.8" fill="#0c0808"/>
<rect x="1648.2" y="1049.0" width="4.6" height="4.8" fill="#0c0808"/>
<rect x="1663.4" y="1049.0" width="4.6" height="4.8" fill="#0c0808"/>
<rect x="1675.3" y="1049.0" width="4.6" height="4.8" fill="#0c0808"/>
<rect x="1685.0" y="1049.0" width="4.6" height="4.8" fill="#0c0808"/>
<rect x="1693.1" y="1049.0" width="4.6" height="4.8" fill="#0c0808"/>
<rect x="1700.2" y="1049.0" width="4.6" height="4.8" fill="#0c0808"/>
<rect x="1706.5" y="1049.0" width="4.6" height="4.8" fill="#0c0808"/>
<rect x="1711.9" y="1049.0" width="4.9" height="8.1" fill="#0c0808"/>
<rect x="1748.8" y="1049.0" width="4.6" height="4.8" fill="#0c0808"/>
<rect x="1770.3" y="1049.0" width="4.6" height="4.8" fill="#0c0808"/>
<rect x="1785.6" y="1049.0" width="4.6" height="4.8" fill="#0c0808"/>
<rect x="1797.4" y="1049.0" width="4.6" height="4.8" fill="#0c0808"/>
<rect x="1807.1" y="1049.0" width="4.6" height="4.8" fill="#0c0808"/>
<rect x="1815.3" y="1049.0" width="4.6" height="4.8" fill="#0c0808"/>
<rect x="1822.4" y="1049.0" width="4.6" height="4.8" fill="#0c0808"/>
<rect x="1828.6" y="1049.0" width="4.6" height="4.8" fill="#0c0808"/>
<rect x="1834.0" y="1049.0" width="4.9" height="8.1" fill="#0c0808"/>
<rect x="1302.0" y="1046.5" width="8.4" height="5" fill="#0c0808"/>
<rect x="1302.0" y="857.5" width="8.4" height="5" fill="#0c0808"/>
<rect x="1302.0" y="668.6" width="8.4" height="5" fill="#0c0808"/>
<path d="M1333.5 636.5 L1334.7 636.5 L1336.0 636.5 L1337.2 636.5 L1338.5 636.5 L1339.7 636.5 L1341.0 636.5 L1342.2 636.5 L1343.5 636.5 L1344.7 636.5 L1346.0 636.5 L1347.2 636.5 L1348.5 636.5 L1349.7 636.5 L1351.0 636.5 L1352.2 636.5 L1353.5 636.5 L1354.7 636.5 L1356.0 636.5 L1357.2 636.5 L1358.5 636.5 L1359.7 636.5 L1361.0 636.5 L1362.2 636.5 L1363.5 636.5 L1364.7 636.5 L1366.0 636.5 L1367.2 636.5 L1368.5 636.5 L1369.7 636.5 L1371.0 636.5 L1372.2 636.5 L1373.5 636.5 L1374.7 636.5 L1376.0 636.5 L1377.2 636.5 L1378.5 636.5 L1379.7 636.5 L1381.0 636.5 L1382.2 636.5 L1383.5 636.5 L1384.7 636.5 L1386.0 636.6 L1387.2 636.6 L1388.5 636.6 L1389.7 636.6 L1391.0 636.6 L1392.2 636.6 L1393.5 636.6 L1394.7 636.6 L1396.0 636.6 L1397.2 636.6 L1398.5 636.6 L1399.7 636.6 L1401.0 636.6 L1402.2 636.6 L1403.5 636.6 L1404.7 636.6 L1406.0 636.6 L1407.2 636.6 L1408.5 636.6 L1409.7 636.6 L1411.0 636.6 L1412.2 636.7 L1413.5 636.7 L1414.7 636.7 L1416.0 636.7 L1417.2 636.7 L1418.5 636.7 L1419.7 636.7 L1421.0 636.7 L1422.2 636.7 L1423.5 636.7 L1424.7 636.7 L1426.0 636.7 L1427.2 636.7 L1428.5 636.7 L1429.7 636.8 L1431.0 636.8 L1432.2 636.8 L1433.5 636.8 L1434.7 636.8 L1436.0 636.8 L1437.2 636.8 L1438.5 636.8 L1439.7 636.8 L1441.0 636.8 L1442.2 636.8 L1443.5 636.9 L1444.7 636.9 L1446.0 636.9 L1447.2 636.9 L1448.5 636.9 L1449.7 636.9 L1451.0 636.9 L1452.2 636.9 L1453.5 637.0 L1454.7 637.0 L1456.0 637.0 L1457.2 637.0 L1458.5 637.0 L1459.7 637.0 L1461.0 637.0 L1462.2 637.1 L1463.5 637.1 L1464.7 637.1 L1466.0 637.1 L1467.2 637.1 L1468.5 637.1 L1469.7 637.2 L1471.0 637.2 L1472.2 637.2 L1473.5 637.2 L1474.7 637.2 L1476.0 637.3 L1477.2 637.3 L1478.5 637.3 L1479.7 637.3 L1481.0 637.3 L1482.2 637.4 L1483.5 637.4 L1484.7 637.4 L1486.0 637.4 L1487.2 637.5 L1488.5 637.5 L1489.7 637.5 L1491.0 637.6 L1492.2 637.6 L1493.5 637.6 L1494.7 637.6 L1496.0 637.7 L1497.2 637.7 L1498.5 637.7 L1499.7 637.8 L1501.0 637.8 L1502.2 637.8 L1503.5 637.9 L1504.7 637.9 L1506.0 637.9 L1507.2 638.0 L1508.5 638.0 L1509.7 638.1 L1511.0 638.1 L1512.2 638.2 L1513.5 638.2 L1514.7 638.2 L1516.0 638.3 L1517.2 638.3 L1518.5 638.4 L1519.7 638.4 L1521.0 638.5 L1522.2 638.5 L1523.5 638.6 L1524.7 638.7 L1526.0 638.7 L1527.2 638.8 L1528.5 638.8 L1529.7 638.9 L1531.0 639.0 L1532.2 639.0 L1533.5 639.1 L1534.7 639.2 L1536.0 639.3 L1537.2 639.3 L1538.5 639.4 L1539.7 639.5 L1541.0 639.6 L1542.2 639.6 L1543.5 639.7 L1544.7 639.8 L1546.0 639.9 L1547.2 640.0 L1548.5 640.1 L1549.7 640.2 L1551.0 640.3 L1552.2 640.4 L1553.5 640.5 L1554.7 640.6 L1556.0 640.8 L1557.2 640.9 L1558.5 641.0 L1559.7 641.1 L1561.0 641.3 L1562.2 641.4 L1563.5 641.5 L1564.7 641.7 L1566.0 641.8 L1567.2 642.0 L1568.5 642.1 L1569.7 642.3 L1571.0 642.5 L1572.2 642.6 L1573.5 642.8 L1574.7 643.0 L1576.0 643.2 L1577.2 643.4 L1578.5 643.6 L1579.7 643.8 L1581.0 644.0 L1582.2 644.3 L1583.5 644.5 L1584.7 644.8 L1586.0 645.0 L1587.2 645.3 L1588.5 645.5 L1589.7 645.8 L1591.0 646.1 L1592.2 646.4 L1593.5 646.7 L1594.7 647.0 L1596.0 647.4 L1597.2 647.7 L1598.5 648.1 L1599.7 648.5 L1601.0 648.9 L1602.2 649.3 L1603.5 649.7 L1604.7 650.1 L1606.0 650.6 L1607.2 651.1 L1608.5 651.6 L1609.7 652.1 L1611.0 652.6 L1612.2 653.2 L1613.5 653.8 L1614.7 654.4 L1616.0 655.0 L1617.2 655.7 L1618.5 656.4 L1619.7 657.1 L1621.0 657.8 L1622.2 658.6 L1623.5 659.4 L1624.7 660.3 L1626.0 661.2 L1627.2 662.1 L1628.5 663.1 L1629.7 664.2 L1631.0 665.2 L1632.2 666.4 L1633.5 667.5 L1634.7 668.8 L1636.0 670.1 L1637.2 671.5 L1638.5 672.9 L1639.7 674.4 L1641.0 676.0 L1642.2 677.7 L1643.5 679.4 L1644.7 681.2 L1646.0 683.2 L1647.2 685.2 L1648.5 687.3 L1649.7 689.6 L1651.0 691.9 L1652.2 694.4 L1653.5 697.0 L1654.7 699.8 L1656.0 702.7 L1657.2 705.7 L1658.5 708.9 L1659.7 712.2 L1661.0 715.7 L1662.2 719.4 L1663.5 723.3 L1664.7 727.4 L1666.0 731.6 L1667.2 736.0 L1668.5 740.7 L1669.7 745.5 L1671.0 750.6 L1672.2 755.9 L1673.5 761.3 L1674.7 767.0 L1676.0 772.9 L1677.2 779.0 L1678.5 785.2 L1679.7 791.7 L1681.0 798.3 L1682.2 805.0 L1683.5 811.9 L1684.7 818.9 L1686.0 825.9 L1687.2 833.0 L1688.5 840.2 L1689.7 847.3 L1691.0 854.4 L1692.2 861.5 L1693.5 868.4 L1694.7 875.2 L1696.0 881.8 L1697.2 888.3 L1698.5 894.5 L1699.7 900.5 L1701.0 906.2 L1702.2 911.6 L1703.5 916.7 L1704.7 921.6 L1706.0 926.1 L1707.2 930.2 L1708.5 934.1 L1709.7 937.7 L1711.0 940.9 L1712.2 943.9 L1713.5 946.6 L1714.7 949.0 L1716.0 951.1 L1717.2 953.1 L1718.5 954.8 L1719.7 956.3 L1721.0 957.6 L1722.2 958.8 L1723.5 959.8 L1724.7 960.6 L1726.0 961.4 L1727.2 962.0 L1728.5 962.6 L1729.7 963.0 L1731.0 963.4 L1732.2 963.7 L1733.5 964.0 L1734.7 964.2 L1736.0 964.4 L1737.2 964.6 L1738.5 964.7 L1739.7 964.8 L1741.0 964.9 L1742.2 965.0 L1743.5 965.0 L1744.7 965.1 L1746.0 965.1 L1747.2 965.1 L1748.5 965.1 L1749.7 965.2 L1751.0 965.2 L1752.2 965.2 L1753.5 965.2 L1754.7 965.2 L1756.0 965.2 L1757.2 965.2 L1758.5 965.2 L1759.7 965.2 L1761.0 965.2 L1762.2 965.2 L1763.5 965.2 L1764.7 965.2 L1766.0 965.2 L1767.2 965.2 L1768.5 965.2 L1769.7 965.2 L1771.0 965.2 L1772.2 965.2 L1773.5 965.2 L1774.7 965.2 L1776.0 965.2 L1777.2 965.2 L1778.5 965.2 L1779.7 965.2 L1781.0 965.2 L1782.2 965.2 L1783.5 965.2 L1784.7 965.2 L1786.0 965.2 L1787.2 965.2 L1788.5 965.2 L1789.7 965.2 L1791.0 965.2 L1792.2 965.2 L1793.5 965.2 L1794.7 965.2 L1796.0 965.2 L1797.2 965.2 L1798.5 965.2 L1799.7 965.2" fill="none" stroke="#e81f14" stroke-width="3.8" stroke-linecap="round" stroke-linejoin="round"/>
<path d="M1333.5 636.5 L1334.7 636.6 L1336.0 636.6 L1337.2 636.6 L1338.5 636.6 L1339.7 636.6 L1341.0 636.7 L1342.2 636.7 L1343.5 636.7 L1344.7 636.7 L1346.0 636.8 L1347.2 636.8 L1348.5 636.8 L1349.7 636.8 L1351.0 636.9 L1352.2 636.9 L1353.5 636.9 L1354.7 636.9 L1356.0 637.0 L1357.2 637.0 L1358.5 637.0 L1359.7 637.1 L1361.0 637.1 L1362.2 637.1 L1363.5 637.2 L1364.7 637.2 L1366.0 637.3 L1367.2 637.3 L1368.5 637.3 L1369.7 637.4 L1371.0 637.4 L1372.2 637.5 L1373.5 637.5 L1374.7 637.6 L1376.0 637.6 L1377.2 637.7 L1378.5 637.7 L1379.7 637.8 L1381.0 637.8 L1382.2 637.9 L1383.5 637.9 L1384.7 638.0 L1386.0 638.1 L1387.2 638.1 L1388.5 638.2 L1389.7 638.3 L1391.0 638.3 L1392.2 638.4 L1393.5 638.5 L1394.7 638.5 L1396.0 638.6 L1397.2 638.7 L1398.5 638.8 L1399.7 638.9 L1401.0 639.0 L1402.2 639.1 L1403.5 639.2 L1404.7 639.3 L1406.0 639.4 L1407.2 639.5 L1408.5 639.6 L1409.7 639.7 L1411.0 639.9 L1412.2 640.0 L1413.5 640.1 L1414.7 640.3 L1416.0 640.4 L1417.2 640.5 L1418.5 640.7 L1419.7 640.9 L1421.0 641.0 L1422.2 641.2 L1423.5 641.4 L1424.7 641.6 L1426.0 641.8 L1427.2 642.0 L1428.5 642.2 L1429.7 642.4 L1431.0 642.6 L1432.2 642.9 L1433.5 643.1 L1434.7 643.4 L1436.0 643.7 L1437.2 643.9 L1438.5 644.2 L1439.7 644.6 L1441.0 644.9 L1442.2 645.2 L1443.5 645.6 L1444.7 646.0 L1446.0 646.4 L1447.2 646.8 L1448.5 647.2 L1449.7 647.7 L1451.0 648.2 L1452.2 648.7 L1453.5 649.2 L1454.7 649.8 L1456.0 650.4 L1457.2 651.0 L1458.5 651.6 L1459.7 652.3 L1461.0 653.1 L1462.2 653.8 L1463.5 654.7 L1464.7 655.5 L1466.0 656.4 L1467.2 657.4 L1468.5 658.4 L1469.7 659.5 L1471.0 660.7 L1472.2 661.9 L1473.5 663.2 L1474.7 664.6 L1476.0 666.1 L1477.2 667.6 L1478.5 669.3 L1479.7 671.0 L1481.0 672.9 L1482.2 674.9 L1483.5 677.1 L1484.7 679.3 L1486.0 681.8 L1487.2 684.3 L1488.5 687.1 L1489.7 690.0 L1491.0 693.1 L1492.2 696.5 L1493.5 700.0 L1494.7 703.8 L1496.0 707.8 L1497.2 712.1 L1498.5 716.6 L1499.7 721.5 L1501.0 726.6 L1502.2 732.0 L1503.5 737.7 L1504.7 743.7 L1506.0 750.0 L1507.2 756.7 L1508.5 763.6 L1509.7 770.9 L1511.0 778.4 L1512.2 786.2 L1513.5 794.3 L1514.7 802.5 L1516.0 811.0 L1517.2 819.6 L1518.5 828.3 L1519.7 837.0 L1521.0 845.7 L1522.2 854.4 L1523.5 862.9 L1524.7 871.3 L1526.0 879.5 L1527.2 887.4 L1528.5 894.9 L1529.7 902.1 L1531.0 908.9 L1532.2 915.3 L1533.5 921.3 L1534.7 926.8 L1536.0 931.8 L1537.2 936.4 L1538.5 940.6 L1539.7 944.3 L1541.0 947.7 L1542.2 950.7 L1543.5 953.3 L1544.7 955.6 L1546.0 957.6 L1547.2 959.3 L1548.5 960.8 L1549.7 962.1 L1551.0 963.2 L1552.2 964.1 L1553.5 964.9 L1554.7 965.6 L1556.0 966.1 L1557.2 966.5 L1558.5 966.9 L1559.7 967.2 L1561.0 967.5 L1562.2 967.7 L1563.5 967.8 L1564.7 968.0 L1566.0 968.1 L1567.2 968.1 L1568.5 968.2 L1569.7 968.2 L1571.0 968.3 L1572.2 968.3 L1573.5 968.3 L1574.7 968.4 L1576.0 968.4 L1577.2 968.4 L1578.5 968.4 L1579.7 968.4 L1581.0 968.4 L1582.2 968.4 L1583.5 968.4 L1584.7 968.4 L1586.0 968.4 L1587.2 968.4 L1588.5 968.4 L1589.7 968.4 L1591.0 968.4 L1592.2 968.4 L1593.5 968.4 L1594.7 968.4 L1596.0 968.4 L1597.2 968.4 L1598.5 968.4 L1599.7 968.4 L1601.0 968.4 L1602.2 968.4 L1603.5 968.4 L1604.7 968.4 L1606.0 968.4 L1607.2 968.4 L1608.5 968.4 L1609.7 968.4 L1611.0 968.4 L1612.2 968.4 L1613.5 968.4 L1614.7 968.4 L1616.0 968.4 L1617.2 968.4 L1618.5 968.4 L1619.7 968.4 L1621.0 968.4 L1622.2 968.4 L1623.5 968.4 L1624.7 968.4 L1626.0 968.4 L1627.2 968.4 L1628.5 968.4 L1629.7 968.4 L1631.0 968.4 L1632.2 968.4 L1633.5 968.4 L1634.7 968.4 L1636.0 968.4 L1637.2 968.4 L1638.5 968.4 L1639.7 968.4 L1641.0 968.4 L1642.2 968.4 L1643.5 968.4 L1644.7 968.4 L1646.0 968.4 L1647.2 968.4 L1648.5 968.4 L1649.7 968.4 L1651.0 968.4 L1652.2 968.4 L1653.5 968.4 L1654.7 968.4 L1656.0 968.4 L1657.2 968.4 L1658.5 968.4 L1659.7 968.4 L1661.0 968.4 L1662.2 968.4 L1663.5 968.4 L1664.7 968.4 L1666.0 968.4 L1667.2 968.4 L1668.5 968.4 L1669.7 968.4 L1671.0 968.4 L1672.2 968.4 L1673.5 968.4 L1674.7 968.4 L1676.0 968.4 L1677.2 968.4 L1678.5 968.4 L1679.7 968.4 L1681.0 968.4 L1682.2 968.4 L1683.5 968.4 L1684.7 968.4 L1686.0 968.4 L1687.2 968.4 L1688.5 968.4 L1689.7 968.4 L1691.0 968.4 L1692.2 968.4 L1693.5 968.4 L1694.7 968.4 L1696.0 968.4 L1697.2 968.4 L1698.5 968.4 L1699.7 968.4 L1701.0 968.4 L1702.2 968.4 L1703.5 968.4 L1704.7 968.4 L1706.0 968.4 L1707.2 968.4 L1708.5 968.4 L1709.7 968.4 L1711.0 968.4 L1712.2 968.4 L1713.5 968.4 L1714.7 968.4 L1716.0 968.4 L1717.2 968.4 L1718.5 968.4 L1719.7 968.4 L1721.0 968.4 L1722.2 968.4 L1723.5 968.4 L1724.7 968.4 L1726.0 968.4 L1727.2 968.4 L1728.5 968.4 L1729.7 968.4 L1731.0 968.4 L1732.2 968.4 L1733.5 968.4 L1734.7 968.4 L1736.0 968.4 L1737.2 968.4 L1738.5 968.4 L1739.7 968.4 L1741.0 968.4 L1742.2 968.4 L1743.5 968.4 L1744.7 968.4 L1746.0 968.4 L1747.2 968.4 L1748.5 968.4 L1749.7 968.4 L1751.0 968.4 L1752.2 968.4 L1753.5 968.4 L1754.7 968.4 L1756.0 968.4 L1757.2 968.4 L1758.5 968.4 L1759.7 968.4 L1761.0 968.4 L1762.2 968.4 L1763.5 968.4 L1764.7 968.4 L1766.0 968.4 L1767.2 968.4 L1768.5 968.4 L1769.7 968.4 L1771.0 968.4 L1772.2 968.4 L1773.5 968.4 L1774.7 968.4 L1776.0 968.4 L1777.2 968.4 L1778.5 968.4 L1779.7 968.4 L1781.0 968.4 L1782.2 968.4 L1783.5 968.4 L1784.7 968.4 L1786.0 968.4 L1787.2 968.4 L1788.5 968.4 L1789.7 968.4 L1791.0 968.4 L1792.2 968.4 L1793.5 968.4 L1794.7 968.4 L1796.0 968.4 L1797.2 968.4 L1798.5 968.4 L1799.7 968.4" fill="none" stroke="#0c0808" stroke-width="3.8" stroke-linecap="round" stroke-linejoin="round"/>
<path d="M1333.5 633.7 L1334.7 633.7 L1336.0 633.8 L1337.2 633.9 L1338.5 633.9 L1339.7 634.0 L1341.0 634.1 L1342.2 634.2 L1343.5 634.2 L1344.7 634.3 L1346.0 634.4 L1347.2 634.5 L1348.5 634.5 L1349.7 634.6 L1351.0 634.7 L1352.2 634.8 L1353.5 634.9 L1354.7 635.0 L1356.0 635.1 L1357.2 635.2 L1358.5 635.3 L1359.7 635.4 L1361.0 635.5 L1362.2 635.6 L1363.5 635.7 L1364.7 635.8 L1366.0 635.9 L1367.2 636.0 L1368.5 636.2 L1369.7 636.3 L1371.0 636.4 L1372.2 636.5 L1373.5 636.7 L1374.7 636.8 L1376.0 637.0 L1377.2 637.1 L1378.5 637.2 L1379.7 637.4 L1381.0 637.5 L1382.2 637.7 L1383.5 637.9 L1384.7 638.0 L1386.0 638.2 L1387.2 638.4 L1388.5 638.6 L1389.7 638.7 L1391.0 638.9 L1392.2 639.1 L1393.5 639.3 L1394.7 639.5 L1396.0 639.7 L1397.2 639.9 L1398.5 640.2 L1399.7 640.4 L1401.0 640.6 L1402.2 640.8 L1403.5 641.1 L1404.7 641.3 L1406.0 641.6 L1407.2 641.8 L1408.5 642.1 L1409.7 642.4 L1411.0 642.7 L1412.2 643.0 L1413.5 643.3 L1414.7 643.6 L1416.0 643.9 L1417.2 644.2 L1418.5 644.5 L1419.7 644.8 L1421.0 645.2 L1422.2 645.5 L1423.5 645.9 L1424.7 646.3 L1426.0 646.7 L1427.2 647.1 L1428.5 647.5 L1429.7 647.9 L1431.0 648.3 L1432.2 648.7 L1433.5 649.2 L1434.7 649.6 L1436.0 650.1 L1437.2 650.6 L1438.5 651.1 L1439.7 651.6 L1441.0 652.1 L1442.2 652.6 L1443.5 653.2 L1444.7 653.8 L1446.0 654.3 L1447.2 654.9 L1448.5 655.6 L1449.7 656.2 L1451.0 656.8 L1452.2 657.5 L1453.5 658.2 L1454.7 658.9 L1456.0 659.6 L1457.2 660.4 L1458.5 661.1 L1459.7 661.9 L1461.0 662.7 L1462.2 663.5 L1463.5 664.4 L1464.7 665.3 L1466.0 666.2 L1467.2 667.1 L1468.5 668.0 L1469.7 669.0 L1471.0 670.0 L1472.2 671.1 L1473.5 672.1 L1474.7 673.2 L1476.0 674.3 L1477.2 675.5 L1478.5 676.7 L1479.7 677.9 L1481.0 679.2 L1482.2 680.5 L1483.5 681.8 L1484.7 683.2 L1486.0 684.6 L1487.2 686.0 L1488.5 687.5 L1489.7 689.1 L1491.0 690.7 L1492.2 692.3 L1493.5 694.0 L1494.7 695.7 L1496.0 697.5 L1497.2 699.3 L1498.5 701.2 L1499.7 703.1 L1501.0 705.1 L1502.2 707.1 L1503.5 709.2 L1504.7 711.4 L1506.0 713.6 L1507.2 715.9 L1508.5 718.3 L1509.7 720.7 L1511.0 723.2 L1512.2 725.8 L1513.5 728.4 L1514.7 731.1 L1516.0 733.9 L1517.2 736.7 L1518.5 739.7 L1519.7 742.7 L1521.0 745.8 L1522.2 748.9 L1523.5 752.2 L1524.7 755.5 L1526.0 758.9 L1527.2 762.4 L1528.5 766.0 L1529.7 769.7 L1531.0 773.4 L1532.2 777.3 L1533.5 781.2 L1534.7 785.2 L1536.0 789.3 L1537.2 793.4 L1538.5 797.7 L1539.7 802.0 L1541.0 806.4 L1542.2 810.8 L1543.5 815.3 L1544.7 819.9 L1546.0 824.6 L1547.2 829.3 L1548.5 834.0 L1549.7 838.8 L1551.0 843.6 L1552.2 848.5 L1553.5 853.4 L1554.7 858.3 L1556.0 863.2 L1557.2 868.1 L1558.5 873.0 L1559.7 877.8 L1561.0 882.7 L1562.2 887.5 L1563.5 892.3 L1564.7 897.0 L1566.0 901.6 L1567.2 906.2 L1568.5 910.7 L1569.7 915.1 L1571.0 919.4 L1572.2 923.6 L1573.5 927.6 L1574.7 931.6 L1576.0 935.4 L1577.2 939.1 L1578.5 942.7 L1579.7 946.1 L1581.0 949.3 L1582.2 952.4 L1583.5 955.4 L1584.7 958.2 L1586.0 960.8 L1587.2 963.4 L1588.5 965.7 L1589.7 967.9 L1591.0 970.0 L1592.2 971.9 L1593.5 973.7 L1594.7 975.3 L1596.0 976.8 L1597.2 978.2 L1598.5 979.5 L1599.7 980.7 L1601.0 981.7 L1602.2 982.7 L1603.5 983.6 L1604.7 984.4 L1606.0 985.1 L1607.2 985.7 L1608.5 986.3 L1609.7 986.8 L1611.0 987.2 L1612.2 987.6 L1613.5 988.0 L1614.7 988.3 L1616.0 988.5 L1617.2 988.8 L1618.5 989.0 L1619.7 989.1 L1621.0 989.3 L1622.2 989.4 L1623.5 989.5 L1624.7 989.6 L1626.0 989.7 L1627.2 989.7 L1628.5 989.8 L1629.7 989.8 L1631.0 989.9 L1632.2 989.9 L1633.5 989.9 L1634.7 989.9 L1636.0 989.9 L1637.2 990.0 L1638.5 990.0 L1639.7 990.0 L1641.0 990.0 L1642.2 990.0 L1643.5 990.0 L1644.7 990.0 L1646.0 990.0 L1647.2 990.0 L1648.5 990.0 L1649.7 990.0 L1651.0 990.0 L1652.2 990.0 L1653.5 990.0 L1654.7 990.0 L1656.0 990.0 L1657.2 990.0 L1658.5 990.0 L1659.7 990.0 L1661.0 990.0 L1662.2 990.0 L1663.5 990.0 L1664.7 990.0 L1666.0 990.0 L1667.2 990.0 L1668.5 990.0 L1669.7 990.0 L1671.0 990.0 L1672.2 990.0 L1673.5 990.0 L1674.7 990.0 L1676.0 990.0 L1677.2 990.0 L1678.5 990.0 L1679.7 990.0 L1681.0 990.0 L1682.2 990.0 L1683.5 990.0 L1684.7 990.0 L1686.0 990.0 L1687.2 990.0 L1688.5 990.0 L1689.7 990.0 L1691.0 990.0 L1692.2 990.0 L1693.5 990.0 L1694.7 990.0 L1696.0 990.0 L1697.2 990.0 L1698.5 990.0 L1699.7 990.0 L1701.0 990.0 L1702.2 990.0 L1703.5 990.0 L1704.7 990.0 L1706.0 990.0 L1707.2 990.0 L1708.5 990.0 L1709.7 990.0 L1711.0 990.0 L1712.2 990.0 L1713.5 990.0 L1714.7 990.0 L1716.0 990.0 L1717.2 990.0 L1718.5 990.0 L1719.7 990.0 L1721.0 990.0 L1722.2 990.0 L1723.5 990.0 L1724.7 990.0 L1726.0 990.0 L1727.2 990.0 L1728.5 990.0 L1729.7 990.0 L1731.0 990.0 L1732.2 990.0 L1733.5 990.0 L1734.7 990.0 L1736.0 990.0 L1737.2 990.0 L1738.5 990.0 L1739.7 990.0 L1741.0 990.0 L1742.2 990.0 L1743.5 990.0 L1744.7 990.0 L1746.0 990.0 L1747.2 990.0 L1748.5 990.0 L1749.7 990.0 L1751.0 990.0 L1752.2 990.0 L1753.5 990.0 L1754.7 990.0 L1756.0 990.0 L1757.2 990.0 L1758.5 990.0 L1759.7 990.0 L1761.0 990.0 L1762.2 990.0 L1763.5 990.0 L1764.7 990.0 L1766.0 990.0 L1767.2 990.0 L1768.5 990.0 L1769.7 990.0 L1771.0 990.0 L1772.2 990.0 L1773.5 990.0 L1774.7 990.0 L1776.0 990.0 L1777.2 990.0 L1778.5 990.0 L1779.7 990.0 L1781.0 990.0 L1782.2 990.0 L1783.5 990.0 L1784.7 990.0 L1786.0 990.0 L1787.2 990.0 L1788.5 990.0 L1789.7 990.0 L1791.0 990.0 L1792.2 990.0 L1793.5 990.0 L1794.7 990.0 L1796.0 990.0 L1797.2 990.0 L1798.5 990.0 L1799.7 990.0" fill="none" stroke="#0c0808" stroke-width="3.8" stroke-linecap="round" stroke-linejoin="round"/>
<path d="M1333.5 629.9 L1334.7 629.9 L1336.0 630.0 L1337.2 630.0 L1338.5 630.0 L1339.7 630.0 L1341.0 630.0 L1342.2 630.0 L1343.5 630.0 L1344.7 630.0 L1346.0 630.1 L1347.2 630.1 L1348.5 630.1 L1349.7 630.1 L1351.0 630.1 L1352.2 630.1 L1353.5 630.2 L1354.7 630.2 L1356.0 630.2 L1357.2 630.2 L1358.5 630.2 L1359.7 630.2 L1361.0 630.3 L1362.2 630.3 L1363.5 630.3 L1364.7 630.3 L1366.0 630.4 L1367.2 630.4 L1368.5 630.4 L1369.7 630.4 L1371.0 630.5 L1372.2 630.5 L1373.5 630.5 L1374.7 630.6 L1376.0 630.6 L1377.2 630.6 L1378.5 630.6 L1379.7 630.7 L1381.0 630.7 L1382.2 630.8 L1383.5 630.8 L1384.7 630.8 L1386.0 630.9 L1387.2 630.9 L1388.5 631.0 L1389.7 631.0 L1391.0 631.0 L1392.2 631.1 L1393.5 631.1 L1394.7 631.2 L1396.0 631.3 L1397.2 631.3 L1398.5 631.4 L1399.7 631.4 L1401.0 631.5 L1402.2 631.6 L1403.5 631.6 L1404.7 631.7 L1406.0 631.8 L1407.2 631.9 L1408.5 631.9 L1409.7 632.0 L1411.0 632.1 L1412.2 632.2 L1413.5 632.3 L1414.7 632.4 L1416.0 632.5 L1417.2 632.6 L1418.5 632.7 L1419.7 632.9 L1421.0 633.0 L1422.2 633.1 L1423.5 633.3 L1424.7 633.4 L1426.0 633.6 L1427.2 633.7 L1428.5 633.9 L1429.7 634.1 L1431.0 634.3 L1432.2 634.5 L1433.5 634.7 L1434.7 634.9 L1436.0 635.1 L1437.2 635.4 L1438.5 635.6 L1439.7 635.9 L1441.0 636.2 L1442.2 636.5 L1443.5 636.8 L1444.7 637.2 L1446.0 637.5 L1447.2 637.9 L1448.5 638.3 L1449.7 638.8 L1451.0 639.2 L1452.2 639.7 L1453.5 640.2 L1454.7 640.8 L1456.0 641.4 L1457.2 642.1 L1458.5 642.7 L1459.7 643.5 L1461.0 644.3 L1462.2 645.1 L1463.5 646.0 L1464.7 647.0 L1466.0 648.1 L1467.2 649.2 L1468.5 650.4 L1469.7 651.7 L1471.0 653.1 L1472.2 654.7 L1473.5 656.3 L1474.7 658.1 L1476.0 660.1 L1477.2 662.2 L1478.5 664.4 L1479.7 666.9 L1481.0 669.5 L1482.2 672.4 L1483.5 675.6 L1484.7 678.9 L1486.0 682.6 L1487.2 686.6 L1488.5 690.9 L1489.7 695.6 L1491.0 700.7 L1492.2 706.1 L1493.5 712.0 L1494.7 718.3 L1496.0 725.1 L1497.2 732.4 L1498.5 740.2 L1499.7 748.4 L1501.0 757.2 L1502.2 766.4 L1503.5 776.1 L1504.7 786.2 L1506.0 796.7 L1507.2 807.5 L1508.5 818.5 L1509.7 829.7 L1511.0 841.0 L1512.2 852.3 L1513.5 863.4 L1514.7 874.3 L1516.0 884.9 L1517.2 895.0 L1518.5 904.7 L1519.7 913.8 L1521.0 922.2 L1522.2 930.0 L1523.5 937.2 L1524.7 943.7 L1526.0 949.5 L1527.2 954.7 L1528.5 959.2 L1529.7 963.2 L1531.0 966.7 L1532.2 969.7 L1533.5 972.2 L1534.7 974.4 L1536.0 976.2 L1537.2 977.7 L1538.5 979.0 L1539.7 980.0 L1541.0 980.9 L1542.2 981.6 L1543.5 982.2 L1544.7 982.6 L1546.0 983.0 L1547.2 983.3 L1548.5 983.5 L1549.7 983.7 L1551.0 983.9 L1552.2 984.0 L1553.5 984.0 L1554.7 984.1 L1556.0 984.2 L1557.2 984.2 L1558.5 984.2 L1559.7 984.2 L1561.0 984.3 L1562.2 984.3 L1563.5 984.3 L1564.7 984.3 L1566.0 984.3 L1567.2 984.3 L1568.5 984.3 L1569.7 984.3 L1571.0 984.3 L1572.2 984.3 L1573.5 984.3 L1574.7 984.3 L1576.0 984.3 L1577.2 984.3 L1578.5 984.3 L1579.7 984.3 L1581.0 984.3 L1582.2 984.3 L1583.5 984.3 L1584.7 984.3 L1586.0 984.3 L1587.2 984.3 L1588.5 984.3 L1589.7 984.3 L1591.0 984.3 L1592.2 984.3 L1593.5 984.3 L1594.7 984.3 L1596.0 984.3 L1597.2 984.3 L1598.5 984.3 L1599.7 984.3 L1601.0 984.3 L1602.2 984.3 L1603.5 984.3 L1604.7 984.3 L1606.0 984.3 L1607.2 984.3 L1608.5 984.3 L1609.7 984.3 L1611.0 984.3 L1612.2 984.3 L1613.5 984.3 L1614.7 984.3 L1616.0 984.3 L1617.2 984.3 L1618.5 984.3 L1619.7 984.3 L1621.0 984.3 L1622.2 984.3 L1623.5 984.3 L1624.7 984.3 L1626.0 984.3 L1627.2 984.3 L1628.5 984.3 L1629.7 984.3 L1631.0 984.3 L1632.2 984.3 L1633.5 984.3 L1634.7 984.3 L1636.0 984.3 L1637.2 984.3 L1638.5 984.3 L1639.7 984.3 L1641.0 984.3 L1642.2 984.3 L1643.5 984.3 L1644.7 984.3 L1646.0 984.3 L1647.2 984.3 L1648.5 984.3 L1649.7 984.3 L1651.0 984.3 L1652.2 984.3 L1653.5 984.3 L1654.7 984.3 L1656.0 984.3 L1657.2 984.3 L1658.5 984.3 L1659.7 984.3 L1661.0 984.3 L1662.2 984.3 L1663.5 984.3 L1664.7 984.3 L1666.0 984.3 L1667.2 984.3 L1668.5 984.3 L1669.7 984.3 L1671.0 984.3 L1672.2 984.3 L1673.5 984.3 L1674.7 984.3 L1676.0 984.3 L1677.2 984.3 L1678.5 984.3 L1679.7 984.3 L1681.0 984.3 L1682.2 984.3 L1683.5 984.3 L1684.7 984.3 L1686.0 984.3 L1687.2 984.3 L1688.5 984.3 L1689.7 984.3 L1691.0 984.3 L1692.2 984.3 L1693.5 984.3 L1694.7 984.3 L1696.0 984.3 L1697.2 984.3 L1698.5 984.3 L1699.7 984.3 L1701.0 984.3 L1702.2 984.3 L1703.5 984.3 L1704.7 984.3 L1706.0 984.3 L1707.2 984.3 L1708.5 984.3 L1709.7 984.3 L1711.0 984.3 L1712.2 984.3 L1713.5 984.3 L1714.7 984.3 L1716.0 984.3 L1717.2 984.3 L1718.5 984.3 L1719.7 984.3 L1721.0 984.3 L1722.2 984.3 L1723.5 984.3 L1724.7 984.3 L1726.0 984.3 L1727.2 984.3 L1728.5 984.3 L1729.7 984.3 L1731.0 984.3 L1732.2 984.3 L1733.5 984.3 L1734.7 984.3 L1736.0 984.3 L1737.2 984.3 L1738.5 984.3 L1739.7 984.3 L1741.0 984.3 L1742.2 984.3 L1743.5 984.3 L1744.7 984.3 L1746.0 984.3 L1747.2 984.3 L1748.5 984.3 L1749.7 984.3 L1751.0 984.3 L1752.2 984.3 L1753.5 984.3 L1754.7 984.3 L1756.0 984.3 L1757.2 984.3 L1758.5 984.3 L1759.7 984.3 L1761.0 984.3 L1762.2 984.3 L1763.5 984.3 L1764.7 984.3 L1766.0 984.3 L1767.2 984.3 L1768.5 984.3 L1769.7 984.3 L1771.0 984.3 L1772.2 984.3 L1773.5 984.3 L1774.7 984.3 L1776.0 984.3 L1777.2 984.3 L1778.5 984.3 L1779.7 984.3 L1781.0 984.3 L1782.2 984.3 L1783.5 984.3 L1784.7 984.3 L1786.0 984.3 L1787.2 984.3 L1788.5 984.3 L1789.7 984.3 L1791.0 984.3 L1792.2 984.3 L1793.5 984.3 L1794.7 984.3 L1796.0 984.3 L1797.2 984.3 L1798.5 984.3 L1799.7 984.3" fill="none" stroke="#56b532" stroke-width="3.8" stroke-linecap="round" stroke-linejoin="round"/>
<path d="M1333.5 630.2 L1334.7 630.3 L1336.0 630.5 L1337.2 630.6 L1338.5 630.7 L1339.7 630.8 L1341.0 630.9 L1342.2 631.1 L1343.5 631.2 L1344.7 631.3 L1346.0 631.4 L1347.2 631.6 L1348.5 631.7 L1349.7 631.9 L1351.0 632.0 L1352.2 632.2 L1353.5 632.3 L1354.7 632.5 L1356.0 632.6 L1357.2 632.8 L1358.5 633.0 L1359.7 633.2 L1361.0 633.3 L1362.2 633.5 L1363.5 633.7 L1364.7 633.9 L1366.0 634.1 L1367.2 634.3 L1368.5 634.5 L1369.7 634.7 L1371.0 634.9 L1372.2 635.1 L1373.5 635.4 L1374.7 635.6 L1376.0 635.8 L1377.2 636.1 L1378.5 636.3 L1379.7 636.6 L1381.0 636.8 L1382.2 637.1 L1383.5 637.4 L1384.7 637.6 L1386.0 637.9 L1387.2 638.2 L1388.5 638.5 L1389.7 638.8 L1391.0 639.1 L1392.2 639.4 L1393.5 639.8 L1394.7 640.1 L1396.0 640.4 L1397.2 640.8 L1398.5 641.1 L1399.7 641.5 L1401.0 641.9 L1402.2 642.3 L1403.5 642.6 L1404.7 643.0 L1406.0 643.5 L1407.2 643.9 L1408.5 644.3 L1409.7 644.7 L1411.0 645.2 L1412.2 645.7 L1413.5 646.1 L1414.7 646.6 L1416.0 647.1 L1417.2 647.6 L1418.5 648.1 L1419.7 648.6 L1421.0 649.2 L1422.2 649.7 L1423.5 650.3 L1424.7 650.9 L1426.0 651.5 L1427.2 652.1 L1428.5 652.7 L1429.7 653.3 L1431.0 654.0 L1432.2 654.6 L1433.5 655.3 L1434.7 656.0 L1436.0 656.7 L1437.2 657.4 L1438.5 658.2 L1439.7 658.9 L1441.0 659.7 L1442.2 660.5 L1443.5 661.3 L1444.7 662.2 L1446.0 663.0 L1447.2 663.9 L1448.5 664.8 L1449.7 665.7 L1451.0 666.6 L1452.2 667.5 L1453.5 668.5 L1454.7 669.5 L1456.0 670.5 L1457.2 671.5 L1458.5 672.6 L1459.7 673.7 L1461.0 674.8 L1462.2 675.9 L1463.5 677.1 L1464.7 678.2 L1466.0 679.4 L1467.2 680.7 L1468.5 681.9 L1469.7 683.2 L1471.0 684.5 L1472.2 685.9 L1473.5 687.2 L1474.7 688.6 L1476.0 690.1 L1477.2 691.5 L1478.5 693.0 L1479.7 694.5 L1481.0 696.1 L1482.2 697.7 L1483.5 699.3 L1484.7 700.9 L1486.0 702.6 L1487.2 704.3 L1488.5 706.1 L1489.7 707.8 L1491.0 709.7 L1492.2 711.5 L1493.5 713.4 L1494.7 715.4 L1496.0 717.3 L1497.2 719.3 L1498.5 721.4 L1499.7 723.5 L1501.0 725.6 L1502.2 727.7 L1503.5 729.9 L1504.7 732.2 L1506.0 734.5 L1507.2 736.8 L1508.5 739.2 L1509.7 741.6 L1511.0 744.0 L1512.2 746.5 L1513.5 749.0 L1514.7 751.6 L1516.0 754.2 L1517.2 756.9 L1518.5 759.6 L1519.7 762.3 L1521.0 765.1 L1522.2 767.9 L1523.5 770.8 L1524.7 773.7 L1526.0 776.6 L1527.2 779.6 L1528.5 782.6 L1529.7 785.7 L1531.0 788.8 L1532.2 792.0 L1533.5 795.1 L1534.7 798.3 L1536.0 801.6 L1537.2 804.9 L1538.5 808.2 L1539.7 811.5 L1541.0 814.9 L1542.2 818.3 L1543.5 821.7 L1544.7 825.2 L1546.0 828.7 L1547.2 832.2 L1548.5 835.7 L1549.7 839.2 L1551.0 842.8 L1552.2 846.4 L1553.5 849.9 L1554.7 853.5 L1556.0 857.1 L1557.2 860.7 L1558.5 864.3 L1559.7 867.9 L1561.0 871.5 L1562.2 875.0 L1563.5 878.6 L1564.7 882.1 L1566.0 885.7 L1567.2 889.2 L1568.5 892.6 L1569.7 896.1 L1571.0 899.5 L1572.2 902.9 L1573.5 906.2 L1574.7 909.5 L1576.0 912.8 L1577.2 916.0 L1578.5 919.2 L1579.7 922.3 L1581.0 925.3 L1582.2 928.3 L1583.5 931.2 L1584.7 934.1 L1586.0 936.9 L1587.2 939.6 L1588.5 942.2 L1589.7 944.8 L1591.0 947.3 L1592.2 949.7 L1593.5 952.0 L1594.7 954.3 L1596.0 956.5 L1597.2 958.6 L1598.5 960.6 L1599.7 962.5 L1601.0 964.3 L1602.2 966.1 L1603.5 967.8 L1604.7 969.4 L1606.0 970.9 L1607.2 972.3 L1608.5 973.7 L1609.7 975.0 L1611.0 976.2 L1612.2 977.3 L1613.5 978.4 L1614.7 979.4 L1616.0 980.3 L1617.2 981.2 L1618.5 982.0 L1619.7 982.7 L1621.0 983.4 L1622.2 984.0 L1623.5 984.6 L1624.7 985.1 L1626.0 985.6 L1627.2 986.1 L1628.5 986.5 L1629.7 986.8 L1631.0 987.2 L1632.2 987.5 L1633.5 987.7 L1634.7 988.0 L1636.0 988.2 L1637.2 988.4 L1638.5 988.5 L1639.7 988.7 L1641.0 988.8 L1642.2 988.9 L1643.5 989.0 L1644.7 989.1 L1646.0 989.2 L1647.2 989.3 L1648.5 989.3 L1649.7 989.4 L1651.0 989.4 L1652.2 989.4 L1653.5 989.5 L1654.7 989.5 L1656.0 989.5 L1657.2 989.5 L1658.5 989.5 L1659.7 989.6 L1661.0 989.6 L1662.2 989.6 L1663.5 989.6 L1664.7 989.6 L1666.0 989.6 L1667.2 989.6 L1668.5 989.6 L1669.7 989.6 L1671.0 989.6 L1672.2 989.6 L1673.5 989.6 L1674.7 989.6 L1676.0 989.6 L1677.2 989.6 L1678.5 989.6 L1679.7 989.6 L1681.0 989.6 L1682.2 989.6 L1683.5 989.6 L1684.7 989.6 L1686.0 989.6 L1687.2 989.6 L1688.5 989.6 L1689.7 989.6 L1691.0 989.6 L1692.2 989.6 L1693.5 989.6 L1694.7 989.6 L1696.0 989.6 L1697.2 989.6 L1698.5 989.6 L1699.7 989.6 L1701.0 989.6 L1702.2 989.6 L1703.5 989.6 L1704.7 989.6 L1706.0 989.6 L1707.2 989.6 L1708.5 989.6 L1709.7 989.6 L1711.0 989.6 L1712.2 989.6 L1713.5 989.6 L1714.7 989.6 L1716.0 989.6 L1717.2 989.6 L1718.5 989.6 L1719.7 989.6 L1721.0 989.6 L1722.2 989.6 L1723.5 989.6 L1724.7 989.6 L1726.0 989.6 L1727.2 989.6 L1728.5 989.6 L1729.7 989.6 L1731.0 989.6 L1732.2 989.6 L1733.5 989.6 L1734.7 989.6 L1736.0 989.6 L1737.2 989.6 L1738.5 989.6 L1739.7 989.6 L1741.0 989.6 L1742.2 989.6 L1743.5 989.6 L1744.7 989.6 L1746.0 989.6 L1747.2 989.6 L1748.5 989.6 L1749.7 989.6 L1751.0 989.6 L1752.2 989.6 L1753.5 989.6 L1754.7 989.6 L1756.0 989.6 L1757.2 989.6 L1758.5 989.6 L1759.7 989.6 L1761.0 989.6 L1762.2 989.6 L1763.5 989.6 L1764.7 989.6 L1766.0 989.6 L1767.2 989.6 L1768.5 989.6 L1769.7 989.6 L1771.0 989.6 L1772.2 989.6 L1773.5 989.6 L1774.7 989.6 L1776.0 989.6 L1777.2 989.6 L1778.5 989.6 L1779.7 989.6 L1781.0 989.6 L1782.2 989.6 L1783.5 989.6 L1784.7 989.6 L1786.0 989.6 L1787.2 989.6 L1788.5 989.6 L1789.7 989.6 L1791.0 989.6 L1792.2 989.6 L1793.5 989.6 L1794.7 989.6 L1796.0 989.6 L1797.2 989.6 L1798.5 989.6 L1799.7 989.6" fill="none" stroke="#3a50a3" stroke-width="3.8" stroke-linecap="round" stroke-linejoin="round"/>
<path d="M1333.5 655.4 L1334.7 655.5 L1336.0 655.5 L1337.2 655.5 L1338.5 655.5 L1339.7 655.6 L1341.0 655.6 L1342.2 655.6 L1343.5 655.6 L1344.7 655.7 L1346.0 655.7 L1347.2 655.7 L1348.5 655.8 L1349.7 655.8 L1351.0 655.8 L1352.2 655.9 L1353.5 655.9 L1354.7 655.9 L1356.0 656.0 L1357.2 656.0 L1358.5 656.0 L1359.7 656.1 L1361.0 656.1 L1362.2 656.2 L1363.5 656.2 L1364.7 656.3 L1366.0 656.3 L1367.2 656.3 L1368.5 656.4 L1369.7 656.4 L1371.0 656.5 L1372.2 656.5 L1373.5 656.6 L1374.7 656.6 L1376.0 656.7 L1377.2 656.8 L1378.5 656.8 L1379.7 656.9 L1381.0 656.9 L1382.2 657.0 L1383.5 657.1 L1384.7 657.1 L1386.0 657.2 L1387.2 657.3 L1388.5 657.4 L1389.7 657.4 L1391.0 657.5 L1392.2 657.6 L1393.5 657.7 L1394.7 657.8 L1396.0 657.9 L1397.2 657.9 L1398.5 658.0 L1399.7 658.1 L1401.0 658.2 L1402.2 658.3 L1403.5 658.4 L1404.7 658.6 L1406.0 658.7 L1407.2 658.8 L1408.5 658.9 L1409.7 659.0 L1411.0 659.2 L1412.2 659.3 L1413.5 659.4 L1414.7 659.6 L1416.0 659.7 L1417.2 659.9 L1418.5 660.0 L1419.7 660.2 L1421.0 660.3 L1422.2 660.5 L1423.5 660.7 L1424.7 660.9 L1426.0 661.1 L1427.2 661.3 L1428.5 661.5 L1429.7 661.7 L1431.0 661.9 L1432.2 662.1 L1433.5 662.3 L1434.7 662.6 L1436.0 662.8 L1437.2 663.1 L1438.5 663.4 L1439.7 663.6 L1441.0 663.9 L1442.2 664.2 L1443.5 664.5 L1444.7 664.9 L1446.0 665.2 L1447.2 665.6 L1448.5 665.9 L1449.7 666.3 L1451.0 666.7 L1452.2 667.1 L1453.5 667.5 L1454.7 668.0 L1456.0 668.4 L1457.2 668.9 L1458.5 669.4 L1459.7 670.0 L1461.0 670.5 L1462.2 671.1 L1463.5 671.7 L1464.7 672.3 L1466.0 672.9 L1467.2 673.6 L1468.5 674.3 L1469.7 675.1 L1471.0 675.9 L1472.2 676.7 L1473.5 677.5 L1474.7 678.4 L1476.0 679.4 L1477.2 680.4 L1478.5 681.4 L1479.7 682.5 L1481.0 683.6 L1482.2 684.8 L1483.5 686.1 L1484.7 687.4 L1486.0 688.8 L1487.2 690.2 L1488.5 691.8 L1489.7 693.4 L1491.0 695.1 L1492.2 696.9 L1493.5 698.8 L1494.7 700.8 L1496.0 702.9 L1497.2 705.1 L1498.5 707.4 L1499.7 709.9 L1501.0 712.5 L1502.2 715.2 L1503.5 718.1 L1504.7 721.2 L1506.0 724.4 L1507.2 727.7 L1508.5 731.3 L1509.7 735.0 L1511.0 739.0 L1512.2 743.1 L1513.5 747.5 L1514.7 752.0 L1516.0 756.8 L1517.2 761.9 L1518.5 767.1 L1519.7 772.6 L1521.0 778.3 L1522.2 784.3 L1523.5 790.5 L1524.7 796.9 L1526.0 803.5 L1527.2 810.3 L1528.5 817.3 L1529.7 824.5 L1531.0 831.9 L1532.2 839.4 L1533.5 847.0 L1534.7 854.6 L1536.0 862.3 L1537.2 870.1 L1538.5 877.7 L1539.7 885.4 L1541.0 892.9 L1542.2 900.2 L1543.5 907.4 L1544.7 914.4 L1546.0 921.1 L1547.2 927.6 L1548.5 933.8 L1549.7 939.6 L1551.0 945.1 L1552.2 950.3 L1553.5 955.1 L1554.7 959.6 L1556.0 963.7 L1557.2 967.4 L1558.5 970.9 L1559.7 974.0 L1561.0 976.8 L1562.2 979.3 L1563.5 981.5 L1564.7 983.5 L1566.0 985.2 L1567.2 986.8 L1568.5 988.1 L1569.7 989.3 L1571.0 990.3 L1572.2 991.1 L1573.5 991.9 L1574.7 992.5 L1576.0 993.0 L1577.2 993.5 L1578.5 993.8 L1579.7 994.2 L1581.0 994.4 L1582.2 994.6 L1583.5 994.8 L1584.7 994.9 L1586.0 995.1 L1587.2 995.2 L1588.5 995.2 L1589.7 995.3 L1591.0 995.3 L1592.2 995.4 L1593.5 995.4 L1594.7 995.4 L1596.0 995.4 L1597.2 995.5 L1598.5 995.5 L1599.7 995.5 L1601.0 995.5 L1602.2 995.5 L1603.5 995.5 L1604.7 995.5 L1606.0 995.5 L1607.2 995.5 L1608.5 995.5 L1609.7 995.5 L1611.0 995.5 L1612.2 995.5 L1613.5 995.5 L1614.7 995.5 L1616.0 995.5 L1617.2 995.5 L1618.5 995.5 L1619.7 995.5 L1621.0 995.5 L1622.2 995.5 L1623.5 995.5 L1624.7 995.5 L1626.0 995.5 L1627.2 995.5 L1628.5 995.5 L1629.7 995.5 L1631.0 995.5 L1632.2 995.5 L1633.5 995.5 L1634.7 995.5 L1636.0 995.5 L1637.2 995.5 L1638.5 995.5 L1639.7 995.5 L1641.0 995.5 L1642.2 995.5 L1643.5 995.5 L1644.7 995.5 L1646.0 995.5 L1647.2 995.5 L1648.5 995.5 L1649.7 995.5 L1651.0 995.5 L1652.2 995.5 L1653.5 995.5 L1654.7 995.5 L1656.0 995.5 L1657.2 995.5 L1658.5 995.5 L1659.7 995.5 L1661.0 995.5 L1662.2 995.5 L1663.5 995.5 L1664.7 995.5 L1666.0 995.5 L1667.2 995.5 L1668.5 995.5 L1669.7 995.5 L1671.0 995.5 L1672.2 995.5 L1673.5 995.5 L1674.7 995.5 L1676.0 995.5 L1677.2 995.5 L1678.5 995.5 L1679.7 995.5 L1681.0 995.5 L1682.2 995.5 L1683.5 995.5 L1684.7 995.5 L1686.0 995.5 L1687.2 995.5 L1688.5 995.5 L1689.7 995.5 L1691.0 995.5 L1692.2 995.5 L1693.5 995.5 L1694.7 995.5 L1696.0 995.5 L1697.2 995.5 L1698.5 995.5 L1699.7 995.5 L1701.0 995.5 L1702.2 995.5 L1703.5 995.5 L1704.7 995.5 L1706.0 995.5 L1707.2 995.5 L1708.5 995.5 L1709.7 995.5 L1711.0 995.5 L1712.2 995.5 L1713.5 995.5 L1714.7 995.5 L1716.0 995.5 L1717.2 995.5 L1718.5 995.5 L1719.7 995.5 L1721.0 995.5 L1722.2 995.5 L1723.5 995.5 L1724.7 995.5 L1726.0 995.5 L1727.2 995.5 L1728.5 995.5 L1729.7 995.5 L1731.0 995.5 L1732.2 995.5 L1733.5 995.5 L1734.7 995.5 L1736.0 995.5 L1737.2 995.5 L1738.5 995.5 L1739.7 995.5 L1741.0 995.5 L1742.2 995.5 L1743.5 995.5 L1744.7 995.5 L1746.0 995.5 L1747.2 995.5 L1748.5 995.5 L1749.7 995.5 L1751.0 995.5 L1752.2 995.5 L1753.5 995.5 L1754.7 995.5 L1756.0 995.5 L1757.2 995.5 L1758.5 995.5 L1759.7 995.5 L1761.0 995.5 L1762.2 995.5 L1763.5 995.5 L1764.7 995.5 L1766.0 995.5 L1767.2 995.5 L1768.5 995.5 L1769.7 995.5 L1771.0 995.5 L1772.2 995.5 L1773.5 995.5 L1774.7 995.5 L1776.0 995.5 L1777.2 995.5 L1778.5 995.5 L1779.7 995.5 L1781.0 995.5 L1782.2 995.5 L1783.5 995.5 L1784.7 995.5 L1786.0 995.5 L1787.2 995.5 L1788.5 995.5 L1789.7 995.5 L1791.0 995.5 L1792.2 995.5 L1793.5 995.5 L1794.7 995.5 L1796.0 995.5 L1797.2 995.5 L1798.5 995.5 L1799.7 995.5" fill="none" stroke="#0c0808" stroke-width="3.8" stroke-linecap="round" stroke-linejoin="round"/>
<path d="M1333.5 630.0 V650.0" stroke="#e81f14" stroke-width="3.7" fill="none"/><rect x="1324.5" y="627.6" width="18.0" height="4.8" rx="1.2" fill="#e81f14"/><rect x="1324.5" y="647.6" width="18.0" height="4.8" rx="1.2" fill="#e81f14"/>
<path d="M1391.7 626.0 V646.0" stroke="#e81f14" stroke-width="3.7" fill="none"/><rect x="1382.7" y="623.6" width="18.0" height="4.8" rx="1.2" fill="#e81f14"/><rect x="1382.7" y="643.6" width="18.0" height="4.8" rx="1.2" fill="#e81f14"/>
<path d="M1450.0 620.0 V648.0" stroke="#e81f14" stroke-width="3.7" fill="none"/><rect x="1441.0" y="617.6" width="18.0" height="4.8" rx="1.2" fill="#e81f14"/><rect x="1441.0" y="645.6" width="18.0" height="4.8" rx="1.2" fill="#e81f14"/>
<path d="M1508.3 617.1 V647.1" stroke="#e81f14" stroke-width="3.7" fill="none"/><rect x="1499.3" y="614.7" width="18.0" height="4.8" rx="1.2" fill="#e81f14"/><rect x="1499.3" y="644.7" width="18.0" height="4.8" rx="1.2" fill="#e81f14"/>
<path d="M1566.6 618.3 V652.3" stroke="#e81f14" stroke-width="3.7" fill="none"/><rect x="1557.6" y="615.9" width="18.0" height="4.8" rx="1.2" fill="#e81f14"/><rect x="1557.6" y="649.9" width="18.0" height="4.8" rx="1.2" fill="#e81f14"/>
<path d="M1624.9 652.0 V667.4" stroke="#e81f14" stroke-width="3.7" fill="none"/><rect x="1615.9" y="649.6" width="18.0" height="4.8" rx="1.2" fill="#e81f14"/><rect x="1615.9" y="665.0" width="18.0" height="4.8" rx="1.2" fill="#e81f14"/>
<path d="M1683.1 802.1 V829.5" stroke="#e81f14" stroke-width="3.7" fill="none"/><rect x="1674.1" y="799.7" width="18.0" height="4.8" rx="1.2" fill="#e81f14"/><rect x="1674.1" y="827.1" width="18.0" height="4.8" rx="1.2" fill="#e81f14"/>
<rect x="1326.1" y="632.7" width="14.7" height="14.6" fill="#e81f14"/>
<rect x="1384.4" y="628.7" width="14.7" height="14.6" fill="#e81f14"/>
<rect x="1442.7" y="626.7" width="14.7" height="14.6" fill="#e81f14"/>
<rect x="1501.0" y="624.8" width="14.7" height="14.6" fill="#e81f14"/>
<rect x="1559.2" y="628.0" width="14.7" height="14.6" fill="#e81f14"/>
<rect x="1617.5" y="652.4" width="14.7" height="14.6" fill="#e81f14"/>
<rect x="1675.8" y="808.5" width="14.7" height="14.6" fill="#e81f14"/>
<rect x="1734.1" y="948.4" width="14.7" height="14.6" fill="#e81f14"/>
<rect x="1792.4" y="966.8" width="14.7" height="14.6" fill="#e81f14"/>
<path d="M1333.5 627.7 V636.2" stroke="#0c0808" stroke-width="3.7" fill="none"/><path d="M1333.5 649.2 V657.7" stroke="#0c0808" stroke-width="3.7" fill="none"/><rect x="1324.5" y="625.3" width="18.0" height="4.8" rx="1.2" fill="#0c0808"/><rect x="1324.5" y="655.3" width="18.0" height="4.8" rx="1.2" fill="#0c0808"/>
<path d="M1391.7 620.5 V632.0" stroke="#0c0808" stroke-width="3.7" fill="none"/><path d="M1391.7 645.0 V656.5" stroke="#0c0808" stroke-width="3.7" fill="none"/><rect x="1382.7" y="618.1" width="18.0" height="4.8" rx="1.2" fill="#0c0808"/><rect x="1382.7" y="654.1" width="18.0" height="4.8" rx="1.2" fill="#0c0808"/>
<path d="M1450.0 619.4 V629.9" stroke="#0c0808" stroke-width="3.7" fill="none"/><path d="M1450.0 642.9 V653.4" stroke="#0c0808" stroke-width="3.7" fill="none"/><rect x="1441.0" y="617.0" width="18.0" height="4.8" rx="1.2" fill="#0c0808"/><rect x="1441.0" y="651.0" width="18.0" height="4.8" rx="1.2" fill="#0c0808"/>
<path d="M1508.3 787.2 V803.7" stroke="#0c0808" stroke-width="3.7" fill="none"/><path d="M1508.3 816.7 V833.2" stroke="#0c0808" stroke-width="3.7" fill="none"/><rect x="1499.3" y="784.8" width="18.0" height="4.8" rx="1.2" fill="#0c0808"/><rect x="1499.3" y="830.8" width="18.0" height="4.8" rx="1.2" fill="#0c0808"/>
<circle cx="1333.5" cy="642.7" r="6.7" fill="none" stroke="#0c0808" stroke-width="3.5"/>
<circle cx="1391.7" cy="638.5" r="6.7" fill="none" stroke="#0c0808" stroke-width="3.5"/>
<circle cx="1450.0" cy="636.4" r="6.7" fill="none" stroke="#0c0808" stroke-width="3.5"/>
<circle cx="1508.3" cy="810.2" r="6.7" fill="none" stroke="#0c0808" stroke-width="3.5"/>
<circle cx="1566.6" cy="956.2" r="6.7" fill="none" stroke="#0c0808" stroke-width="3.5"/>
<circle cx="1624.9" cy="965.0" r="6.7" fill="none" stroke="#0c0808" stroke-width="3.5"/>
<circle cx="1683.1" cy="971.9" r="6.7" fill="none" stroke="#0c0808" stroke-width="3.5"/>
<circle cx="1741.4" cy="977.6" r="6.7" fill="none" stroke="#0c0808" stroke-width="3.5"/>
<circle cx="1799.7" cy="982.5" r="6.7" fill="none" stroke="#0c0808" stroke-width="3.5"/>
<path d="M1333.5 636.0 V643.5" stroke="#0c0808" stroke-width="3.7" fill="none"/><path d="M1333.5 656.5 V664.0" stroke="#0c0808" stroke-width="3.7" fill="none"/><rect x="1324.5" y="633.6" width="18.0" height="4.8" rx="1.2" fill="#0c0808"/><rect x="1324.5" y="661.6" width="18.0" height="4.8" rx="1.2" fill="#0c0808"/>
<path d="M1391.7 630.0 V643.5" stroke="#0c0808" stroke-width="3.7" fill="none"/><path d="M1391.7 656.5 V670.0" stroke="#0c0808" stroke-width="3.7" fill="none"/><rect x="1382.7" y="627.6" width="18.0" height="4.8" rx="1.2" fill="#0c0808"/><rect x="1382.7" y="667.6" width="18.0" height="4.8" rx="1.2" fill="#0c0808"/>
<path d="M1450.0 636.0 V645.5" stroke="#0c0808" stroke-width="3.7" fill="none"/><path d="M1450.0 658.5 V668.0" stroke="#0c0808" stroke-width="3.7" fill="none"/><rect x="1441.0" y="633.6" width="18.0" height="4.8" rx="1.2" fill="#0c0808"/><rect x="1441.0" y="665.6" width="18.0" height="4.8" rx="1.2" fill="#0c0808"/>
<path d="M1508.3 706.0 V715.5" stroke="#0c0808" stroke-width="3.7" fill="none"/><path d="M1508.3 728.5 V738.0" stroke="#0c0808" stroke-width="3.7" fill="none"/><rect x="1499.3" y="703.6" width="18.0" height="4.8" rx="1.2" fill="#0c0808"/><rect x="1499.3" y="735.6" width="18.0" height="4.8" rx="1.2" fill="#0c0808"/>
<path d="M1333.5 643.4 L1340.1 656.4 L1326.9 656.4 Z" fill="none" stroke="#0c0808" stroke-width="3.4" stroke-linejoin="round"/>
<path d="M1391.7 643.4 L1398.3 656.4 L1385.1 656.4 Z" fill="none" stroke="#0c0808" stroke-width="3.4" stroke-linejoin="round"/>
<path d="M1450.0 645.4 L1456.6 658.4 L1443.4 658.4 Z" fill="none" stroke="#0c0808" stroke-width="3.4" stroke-linejoin="round"/>
<path d="M1508.3 715.4 L1514.9 728.4 L1501.7 728.4 Z" fill="none" stroke="#0c0808" stroke-width="3.4" stroke-linejoin="round"/>
<path d="M1566.6 901.0 L1573.2 914.0 L1560.0 914.0 Z" fill="none" stroke="#0c0808" stroke-width="3.4" stroke-linejoin="round"/>
<path d="M1624.9 965.7 L1631.5 978.7 L1618.3 978.7 Z" fill="none" stroke="#0c0808" stroke-width="3.4" stroke-linejoin="round"/>
<path d="M1683.1 979.9 L1689.7 992.9 L1676.5 992.9 Z" fill="none" stroke="#0c0808" stroke-width="3.4" stroke-linejoin="round"/>
<path d="M1741.4 982.4 L1748.0 995.4 L1734.8 995.4 Z" fill="none" stroke="#0c0808" stroke-width="3.4" stroke-linejoin="round"/>
<path d="M1799.7 997.4 L1806.3 1010.4 L1793.1 1010.4 Z" fill="none" stroke="#0c0808" stroke-width="3.4" stroke-linejoin="round"/>
<path d="M1333.5 597.2 V666.0" stroke="#56b532" stroke-width="3.7" fill="none"/><rect x="1324.5" y="594.8" width="18.0" height="4.8" rx="1.2" fill="#56b532"/><rect x="1324.5" y="663.6" width="18.0" height="4.8" rx="1.2" fill="#56b532"/>
<path d="M1391.7 608.0 V664.0" stroke="#56b532" stroke-width="3.7" fill="none"/><rect x="1382.7" y="605.6" width="18.0" height="4.8" rx="1.2" fill="#56b532"/><rect x="1382.7" y="661.6" width="18.0" height="4.8" rx="1.2" fill="#56b532"/>
<path d="M1450.0 616.8 V661.8" stroke="#56b532" stroke-width="3.7" fill="none"/><rect x="1441.0" y="614.4" width="18.0" height="4.8" rx="1.2" fill="#56b532"/><rect x="1441.0" y="659.4" width="18.0" height="4.8" rx="1.2" fill="#56b532"/>
<path d="M1508.3 793.3 V837.3" stroke="#56b532" stroke-width="3.7" fill="none"/><rect x="1499.3" y="790.9" width="18.0" height="4.8" rx="1.2" fill="#56b532"/><rect x="1499.3" y="834.9" width="18.0" height="4.8" rx="1.2" fill="#56b532"/>
<path d="M1624.9 981.6 V996.0" stroke="#56b532" stroke-width="3.7" fill="none"/><rect x="1615.9" y="979.2" width="18.0" height="4.8" rx="1.2" fill="#56b532"/><rect x="1615.9" y="993.6" width="18.0" height="4.8" rx="1.2" fill="#56b532"/>
<path d="M1333.5 638.5 L1340.3 624.7 L1326.7 624.7 Z" fill="#56b532"/>
<path d="M1391.7 642.9 L1398.5 629.1 L1384.9 629.1 Z" fill="#56b532"/>
<path d="M1450.0 646.2 L1456.8 632.4 L1443.2 632.4 Z" fill="#56b532"/>
<path d="M1508.3 822.2 L1515.1 808.4 L1501.5 808.4 Z" fill="#56b532"/>
<path d="M1566.6 963.1 L1573.4 949.3 L1559.8 949.3 Z" fill="#56b532"/>
<path d="M1624.9 995.7 L1631.7 981.9 L1618.1 981.9 Z" fill="#56b532"/>
<path d="M1683.1 995.9 L1689.9 982.1 L1676.3 982.1 Z" fill="#56b532"/>
<path d="M1741.4 999.4 L1748.2 985.6 L1734.6 985.6 Z" fill="#56b532"/>
<path d="M1799.7 1016.9 L1806.5 1003.1 L1792.9 1003.1 Z" fill="#56b532"/>
<path d="M1333.5 619.4 V671.4" stroke="#3a50a3" stroke-width="3.7" fill="none"/><rect x="1324.5" y="617.0" width="18.0" height="4.8" rx="1.2" fill="#3a50a3"/><rect x="1324.5" y="669.0" width="18.0" height="4.8" rx="1.2" fill="#3a50a3"/>
<path d="M1391.7 622.6 V648.0" stroke="#3a50a3" stroke-width="3.7" fill="none"/><rect x="1382.7" y="620.2" width="18.0" height="4.8" rx="1.2" fill="#3a50a3"/><rect x="1382.7" y="645.6" width="18.0" height="4.8" rx="1.2" fill="#3a50a3"/>
<path d="M1450.0 622.5 V675.5" stroke="#3a50a3" stroke-width="3.7" fill="none"/><rect x="1441.0" y="620.1" width="18.0" height="4.8" rx="1.2" fill="#3a50a3"/><rect x="1441.0" y="673.1" width="18.0" height="4.8" rx="1.2" fill="#3a50a3"/>
<path d="M1508.3 726.2 V753.8" stroke="#3a50a3" stroke-width="3.7" fill="none"/><rect x="1499.3" y="723.8" width="18.0" height="4.8" rx="1.2" fill="#3a50a3"/><rect x="1499.3" y="751.4" width="18.0" height="4.8" rx="1.2" fill="#3a50a3"/>
<path d="M1333.5 638.5 L1340.3 652.3 L1326.7 652.3 Z" fill="#3a50a3"/>
<path d="M1391.7 628.4 L1398.5 642.2 L1384.9 642.2 Z" fill="#3a50a3"/>
<path d="M1450.0 642.1 L1456.8 655.9 L1443.2 655.9 Z" fill="#3a50a3"/>
<path d="M1508.3 733.1 L1515.1 746.9 L1501.5 746.9 Z" fill="#3a50a3"/>
<path d="M1566.6 883.7 L1573.4 897.5 L1559.8 897.5 Z" fill="#3a50a3"/>
<path d="M1624.9 957.9 L1631.7 971.7 L1618.1 971.7 Z" fill="#3a50a3"/>
<path d="M1683.1 982.1 L1689.9 995.9 L1676.3 995.9 Z" fill="#3a50a3"/>
<path d="M1741.4 985.6 L1748.2 999.4 L1734.6 999.4 Z" fill="#3a50a3"/>
<path d="M1799.7 993.1 L1806.5 1006.9 L1792.9 1006.9 Z" fill="#3a50a3"/>
<path d="M1333.5 648.6 V668.6" stroke="#0c0808" stroke-width="3.7" fill="none"/><rect x="1324.5" y="646.2" width="18.0" height="4.8" rx="1.2" fill="#0c0808"/><rect x="1324.5" y="666.2" width="18.0" height="4.8" rx="1.2" fill="#0c0808"/>
<path d="M1391.7 647.7 V671.7" stroke="#0c0808" stroke-width="3.7" fill="none"/><rect x="1382.7" y="645.3" width="18.0" height="4.8" rx="1.2" fill="#0c0808"/><rect x="1382.7" y="669.3" width="18.0" height="4.8" rx="1.2" fill="#0c0808"/>
<path d="M1450.0 650.0 V670.0" stroke="#0c0808" stroke-width="3.7" fill="none"/><rect x="1441.0" y="647.6" width="18.0" height="4.8" rx="1.2" fill="#0c0808"/><rect x="1441.0" y="667.6" width="18.0" height="4.8" rx="1.2" fill="#0c0808"/>
<path d="M1508.3 727.4 V763.4" stroke="#0c0808" stroke-width="3.7" fill="none"/><rect x="1499.3" y="725.0" width="18.0" height="4.8" rx="1.2" fill="#0c0808"/><rect x="1499.3" y="761.0" width="18.0" height="4.8" rx="1.2" fill="#0c0808"/>
<circle cx="1333.5" cy="658.6" r="6.7" fill="#0c0808"/>
<circle cx="1391.7" cy="659.7" r="6.7" fill="#0c0808"/>
<circle cx="1450.0" cy="660.0" r="6.7" fill="#0c0808"/>
<circle cx="1508.3" cy="745.4" r="6.7" fill="#0c0808"/>
<circle cx="1566.6" cy="975.7" r="6.7" fill="#0c0808"/>
<circle cx="1624.9" cy="986.5" r="6.7" fill="#0c0808"/>
<circle cx="1683.1" cy="996.2" r="6.7" fill="#0c0808"/>
<circle cx="1741.4" cy="1001.1" r="6.7" fill="#0c0808"/>
<circle cx="1799.7" cy="1004.4" r="6.7" fill="#0c0808"/>
<rect x="1308.05" y="574.25" width="530.90" height="4.90" fill="#0c0808"/>
<rect x="1308.05" y="1046.55" width="530.90" height="4.90" fill="#0c0808"/>
<rect x="1308.05" y="574.25" width="4.90" height="477.20" fill="#0c0808"/>
<rect x="1834.05" y="574.25" width="4.90" height="477.20" fill="#0c0808"/>
<text transform="translate(1325.19,1082.50) scale(1.0811,1)" font-size="21.0">0.001</text><rect x="1370.52" y="1080.69" width="4.60" height="2.52" fill="#fff"/><rect x="1377.11" y="1080.69" width="4.31" height="2.52" fill="#fff"/>
<text transform="translate(1452.29,1082.50) scale(1.0875,1)" font-size="21.0">0.01</text><rect x="1485.19" y="1080.69" width="4.62" height="2.52" fill="#fff"/><rect x="1491.81" y="1080.69" width="4.34" height="2.52" fill="#fff"/>
<text transform="translate(1579.38,1082.50) scale(1.1002,1)" font-size="21.0">0.1</text><rect x="1599.81" y="1080.69" width="4.68" height="2.52" fill="#fff"/><rect x="1606.51" y="1080.69" width="4.39" height="2.52" fill="#fff"/>
<text transform="translate(1710.69,1082.50) scale(1.0800,1)" font-size="21.0">1</text><rect x="1711.82" y="1080.69" width="4.59" height="2.52" fill="#fff"/><rect x="1718.40" y="1080.69" width="4.31" height="2.52" fill="#fff"/>
<text transform="translate(1828.87,1082.50) scale(0.9670,1)" font-size="21.0">10</text><rect x="1829.89" y="1080.69" width="4.11" height="2.52" fill="#fff"/><rect x="1835.77" y="1080.69" width="3.86" height="2.52" fill="#fff"/>
<text transform="translate(1261.85,676.50) scale(1.0299,1)" font-size="21.0">100</text><rect x="1262.93" y="674.69" width="4.38" height="2.52" fill="#fff"/><rect x="1269.20" y="674.69" width="4.11" height="2.52" fill="#fff"/>
<text transform="translate(1271.71,866.00) scale(1.0582,1)" font-size="21.0">50</text>
<text transform="translate(1287.33,1054.00) scale(1.0417,1)" font-size="21.0">0</text>
<text transform="translate(1465.35,1125.20) scale(0.9793,1)" font-size="33.0">Topotecan (<tspan font-style="italic">μ</tspan>M)</text></g>
<text transform="translate(28.3,240.6) rotate(-90)" font-size="32" text-anchor="middle" textLength="207" lengthAdjust="spacingAndGlyphs">Cell survival %</text>
<text transform="translate(28.3,812.0) rotate(-90)" font-size="32" text-anchor="middle" textLength="207" lengthAdjust="spacingAndGlyphs">Cell survival %</text>
<rect x="428.0" y="39.2" width="29" height="4.8" fill="#0c0808"/>
<circle cx="442.5" cy="41.6" r="6.7" fill="#0c0808"/>
<text transform="translate(469.78,49.90) scale(0.9529,1)" font-size="24.5">Vector</text>
<rect x="428.0" y="70.6" width="29" height="4.8" fill="#e81f14"/>
<rect x="435.1" y="65.7" width="14.7" height="14.6" fill="#e81f14"/>
<text transform="translate(467.89,80.85) scale(1.0248,1)" font-size="24.5">R5</text>
<rect x="428.0" y="98.0" width="29" height="4.8" fill="#3a50a3"/>
<path d="M442.5 93.5 L449.3 107.3 L435.7 107.3 Z" fill="#3a50a3"/>
<text transform="translate(468.08,108.70) scale(0.9760,1)" font-size="24.5">ZF Abcg2a</text>
<rect x="428.0" y="127.9" width="29" height="4.8" fill="#56b532"/>
<path d="M442.5 137.2 L449.3 123.4 L435.7 123.4 Z" fill="#56b532"/>
<text transform="translate(468.08,137.60) scale(0.9842,1)" font-size="24.5">ZF Abcg2b</text>
<rect x="428.0" y="154.1" width="29" height="4.8" fill="#0c0808"/>
<circle cx="442.5" cy="156.5" r="6.7" fill="none" stroke="#0c0808" stroke-width="3.5"/>
<text transform="translate(468.08,164.60) scale(0.9822,1)" font-size="24.5">ZF Abcg2c</text>
<rect x="426.8" y="184.0" width="29" height="4.8" fill="#0c0808"/>
<path d="M441.3 180.4 L447.9 193.4 L434.7 193.4 Z" fill="none" stroke="#0c0808" stroke-width="3.4" stroke-linejoin="round"/>
<text transform="translate(466.58,194.50) scale(0.9842,1)" font-size="24.5">ZF Abcg2d</text>
</svg></body></html>
